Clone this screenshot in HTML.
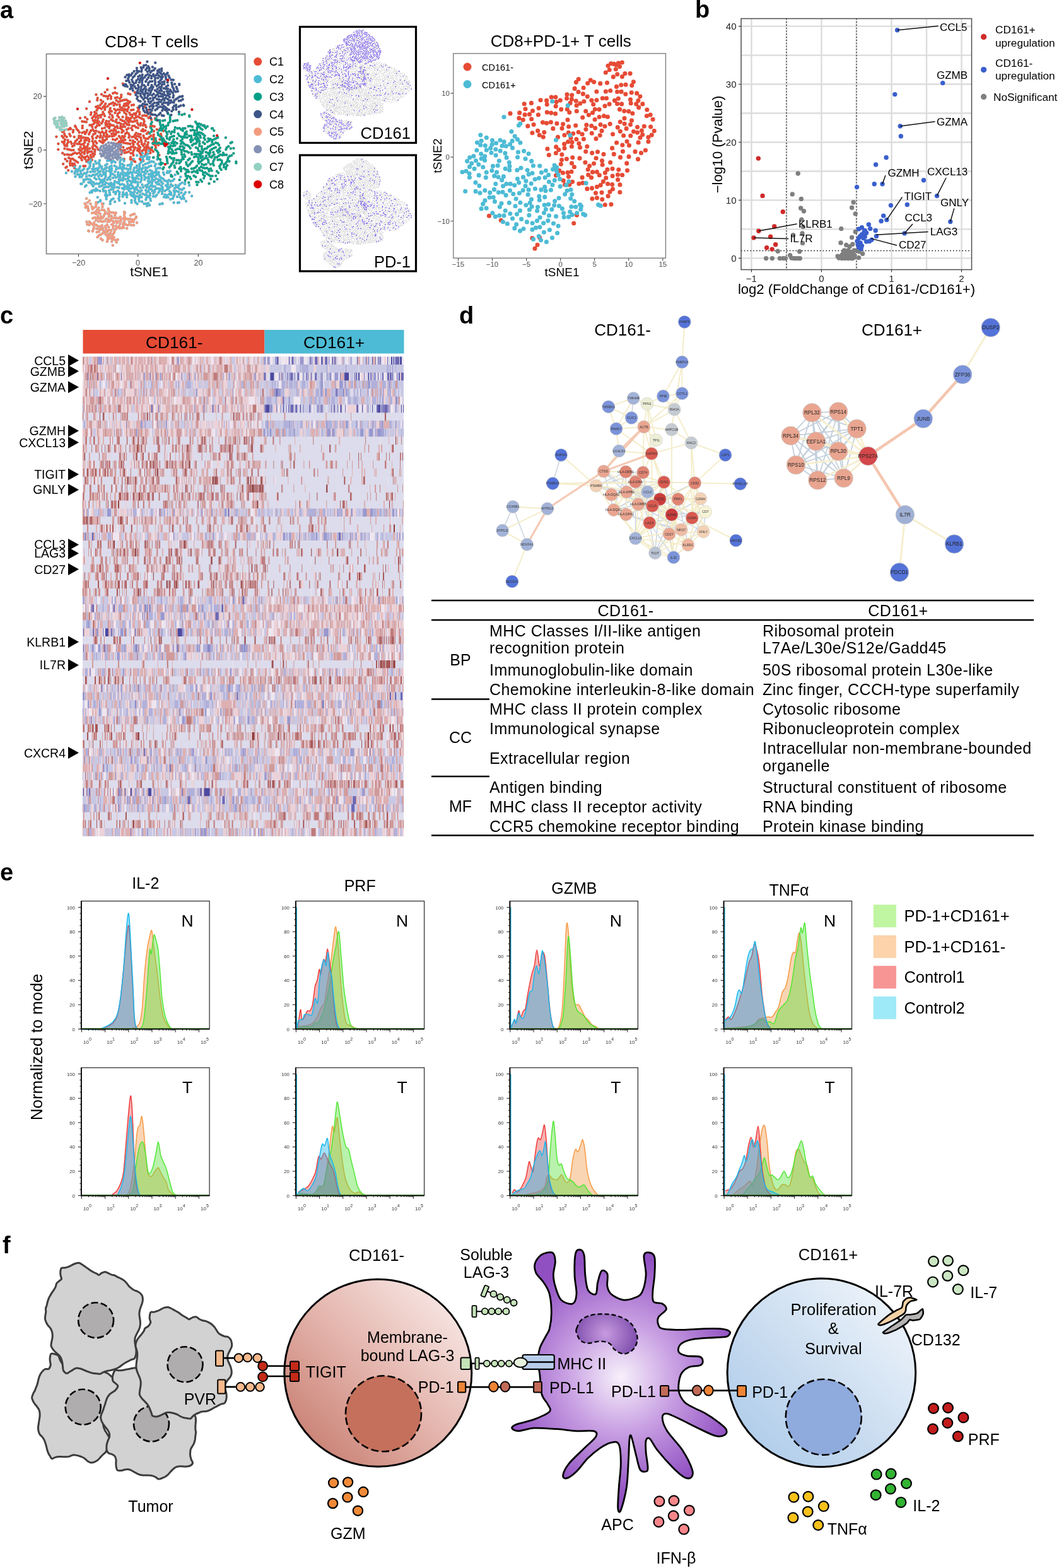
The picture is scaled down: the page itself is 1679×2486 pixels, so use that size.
<!DOCTYPE html>
<html><head><meta charset="utf-8"><style>
html,body{margin:0;padding:0;background:#fff;}
svg{display:block;}
text{font-family:'Liberation Sans', Arial, sans-serif;}
</style></head><body>
<svg width="1679" height="2486" viewBox="0 0 1679 2486">
<rect width="1679" height="2486" fill="#fff"/>
<defs><path id="paC1" d="M214.4 234h0M212.8 236.9h0M211.4 239.8h0M210.6 243h0M211.5 246.2h0M219.6 197.8h0M217.9 194.9h0M209.2 217.3h0M212.4 216.6h0M214 213.7h0M215.8 211h0M155.1 168.2h0M152.1 169.6h0M243.7 213.5h0M243.4 216.8h0M243.4 220.1h0M244.5 223.1h0M247.6 224.3h0M249.5 227h0M251.1 229.9h0M147.3 236.1h0M146.6 232.9h0M148.2 230.1h0M148 226.8h0M146.6 223.8h0M217.8 238.4h0M220.6 240.1h0M222.2 243h0M223.7 246h0M225.7 248.6h0M122.4 228.1h0M125.7 228.2h0M128.8 229.2h0M132 228.3h0M134.3 225.9h0M134 222.6h0M222.7 213.1h0M219.5 212.4h0M148.2 213.1h0M151.1 211.6h0M175.9 156.5h0M176.1 153.2h0M173.8 150.8h0M185.1 166h0M182.3 164.1h0M179.3 162.7h0M176.4 164.2h0M173.3 165.4h0M147.1 219.8h0M146.3 216.6h0M135 252.3h0M135.6 249.1h0M203.7 187.2h0M205.1 190.2h0M207.6 192.4h0M210.8 192.9h0M214 192h0M197.5 178.7h0M196.4 175.6h0M193.3 174.4h0M190 173.9h0M186.7 173.8h0M129.8 247.2h0M127.8 244.6h0M125.4 242.2h0M130.3 192.5h0M133.6 193h0M136.8 193.4h0M189.6 227.3h0M186.3 227.5h0M183.1 228.2h0M189.6 165.7h0M227.5 215.2h0M228.4 218.4h0M231.3 219.9h0M234.6 219.7h0M236.9 217.3h0M239.6 215.3h0M162 208.8h0M164.4 211.1h0M164.6 214.4h0M167.3 216.4h0M170.6 216.7h0M173.8 216h0M218.9 184.7h0M221.6 186.6h0M224.6 187.9h0M227.6 189.4h0M228.7 192.5h0M227.8 195.7h0M226.8 198.8h0M179.1 147.9h0M182.2 146.8h0M185.3 148.1h0M204.3 218.1h0M205.2 215h0M203.9 211.9h0M201.3 209.9h0M218.4 235.3h0M154.6 215.9h0M152.6 218.5h0M187.6 161.4h0M209.9 182.2h0M209.6 185.5h0M207.1 187.7h0M199.7 174h0M183.1 192.8h0M185.8 194.7h0M189.1 194.8h0M191.9 196.6h0M128.9 219.2h0M128.6 215.9h0M180.5 166.9h0M151.6 202.2h0M153.7 199.6h0M122 243.5h0M141 212.8h0M142.4 209.8h0M144.3 207.1h0M147 205.2h0M133.8 243.7h0M134.2 240.4h0M134.9 237.2h0M135.8 234.1h0M138.5 232.1h0M162.7 192.8h0M160.9 195.6h0M223.8 221.9h0M224.4 225.2h0M225 228.4h0M227.1 230.9h0M153.5 233.4h0M151.1 231.2h0M176.2 189.8h0M179.1 191.3h0M102.7 230.8h0M101.4 227.8h0M102.1 224.5h0M103 221.4h0M196 168h0M199.3 167.7h0M202.4 166.7h0M163.3 161.3h0M161.2 163.8h0M159.1 166.4h0M177.9 216.1h0M181 215.2h0M183.6 213.1h0M184.5 209.9h0M183.3 206.8h0M180.8 204.7h0M204.1 240.6h0M200.9 241.5h0M197.7 242.3h0M216.7 215.8h0M98.3 215.7h0M100.3 218.3h0M116.2 206.4h0M215 182.6h0M195.6 207.7h0M193.1 205.5h0M190.9 203.1h0M191.3 199.8h0M223.1 218.2h0M220.1 216.6h0M125.8 209.9h0M124 207.1h0M121.8 204.7h0M196.2 226.4h0M195.1 223.3h0M192.4 221.4h0M190.9 218.5h0M188.8 215.9h0M136.8 209.4h0M135 212.2h0M158 223.6h0M160.9 225.2h0M164.2 224.9h0M166.4 222.4h0M169.1 220.6h0M177.8 183h0M178.6 186.2h0M201.7 176.3h0M202.6 173.2h0M203.9 170.1h0M156.9 192.9h0M154.1 191.1h0M150.9 190.3h0M147.7 191.1h0M206.8 252.6h0M210.1 252.7h0M212.4 255h0M118 266.3h0M199.3 195h0M197.2 192.4h0M194.1 191.3h0M218.9 202.8h0M215.8 201.8h0M213.3 199.7h0M210 199.8h0M174 196.6h0M176.8 198.4h0M180 199.1h0M162 203.8h0M222.6 198.7h0M223.2 195.5h0M160.8 172.6h0M157.9 171h0M154.8 172.1h0M153.4 175.1h0M98.8 224.9h0M168.6 191.9h0M167.4 195h0M167.7 198.3h0M170.3 200.4h0M188.3 186.1h0M186.3 183.5h0M186.9 180.3h0M189.5 178.3h0M198.8 212h0M127.8 238.7h0M211.3 174.1h0M208.1 174.5h0M166 183.8h0M164.6 180.8h0M163.2 177.8h0M170.9 156.6h0M210.7 223.1h0M210.4 226.4h0M211.5 229.5h0M211.1 232.8h0M185.6 199.9h0M182.9 201.8h0M115.8 209.5h0M213.1 187.7h0M215.9 185.9h0M156.4 209.2h0M159.2 210.8h0M110.2 212.5h0M111.6 215.5h0M182.8 222.1h0M185.4 220.1h0M229.2 234.6h0M227.9 237.7h0M225.1 239.3h0M221.3 236.7h0M222.1 233.5h0M220.1 230.9h0M218.3 228.2h0M187.9 209.4h0M167.3 164.6h0M165.6 167.4h0M163.6 170.1h0M206.3 222.5h0M219.9 224.9h0M172.5 192.6h0M142 240.4h0M145.3 240.6h0M180.3 211.8h0M177 212.2h0M230.8 244.9h0M231.5 241.6h0M206.1 161.6h0M203.9 164h0M200.6 163.8h0M197.4 164.8h0M230.6 223.7h0M179.1 221h0M152.4 207.6h0M149.1 207.8h0M123.3 257.5h0M120.5 255.6h0M117.8 253.8h0M115.2 251.8h0M111.9 251.8h0M108.9 250.3h0M128.3 222.8h0M126 225.2h0M192.3 150.5h0M192.1 153.8h0M189.9 156.3h0M154.7 155.5h0M154.2 158.7h0M106.8 236.6h0M110 237.3h0M113.2 238.1h0M116.5 238.1h0M199.8 227h0M203 227.6h0M206.3 228.2h0M193.1 210.1h0M132.6 218.1h0M135.9 218.7h0M139.2 218.9h0M202.9 160.1h0M138.3 188.9h0M133.4 209.2h0M130.3 210.5h0M198 200.9h0M163.6 189.7h0M137.1 222.3h0M153.2 226.7h0M151.2 224.1h0M173.3 185.8h0M221.3 177.9h0M221.3 181.2h0M162.8 221.4h0M162.7 218.1h0M135 186.1h0M105.7 217h0M103 215.1h0M102 212h0M106.7 244.9h0M110 245.5h0M113.3 245.6h0M116 243.7h0M119 242.3h0M132.5 249.4h0M207 249.3h0M165.8 202.8h0M155.6 187.6h0M238.5 200.8h0M241.6 199.7h0M244.7 200.6h0M151.9 186h0M170.3 196.5h0M124.9 218.8h0M125.3 215.5h0M186 154.4h0M182.8 155.2h0M117.7 217.1h0M214.9 219h0M217.4 221.1h0M207.9 233.1h0M205 234.7h0M201.8 235.7h0M200.5 185.5h0M200 188.7h0M202 191.3h0M204 194h0M138.5 247.5h0M140.8 249.8h0M142.7 252.5h0M145.9 253.4h0M200.2 181.3h0M143.7 245.9h0M189 224.4h0M192.2 225.3h0M238.4 242.4h0M237.3 239.3h0M237.3 236h0M212.4 180.3h0M215.6 179.5h0M102.4 235.5h0M114.9 232h0M117.7 230.3h0M118.3 227.1h0M119.7 224.1h0M122 221.7h0M213.7 225.3h0M173.7 208.5h0M176.5 206.8h0M179.6 207.8h0M194.3 201h0M146.2 201h0M146.2 187.2h0M148.5 184.7h0M150.2 181.9h0M152.7 179.8h0M226.7 204.9h0M224.4 207.3h0M203.3 148.4h0M206.4 149.5h0M197.7 238h0M194.5 238.7h0M191.3 237.7h0M188.5 236h0M229.2 183.1h0M226 183.5h0M182.4 178.9h0M186.8 203h0M173 177.8h0M174.3 174.8h0M181.4 173.1h0M183.9 175.3h0M144 181.8h0M144.6 178.6h0M141.3 224.3h0M138.7 242.4h0M138.5 239.1h0M139 235.9h0M157.6 198.5h0M176.9 176.5h0M127.5 233.4h0M148.1 247.8h0M145.1 249.3h0M169.8 213.5h0M148.6 196.3h0M168.4 207.4h0M168 210.6h0M230.5 207.1h0M227.4 208h0M173.1 203.1h0M173.8 199.9h0M158.5 218.1h0M159.5 215h0M150.1 244.5h0M146.9 243.7h0M130.1 236.6h0M132.7 234.5h0M133.5 231.3h0M155.6 236.9h0M206.6 181.9h0M205.3 178.9h0M208.8 166.8h0M212 166.3h0M232.3 183.7h0M200.5 158.3h0M197.2 158.4h0M194 159.2h0M190.9 160.3h0M164.5 151.9h0M167.8 152.6h0M171.1 152.8h0M125.1 237.1h0M170.5 168.5h0M191.4 230.2h0M195.8 218.6h0M194 215.9h0M244 207.9h0M235.3 233.4h0M232.8 235.6h0M231.5 238.6h0M159.8 185.7h0M248.7 205.3h0M235.6 186.9h0M195.3 233.5h0M208.3 203.2h0M209.8 206.1h0M166.9 170.6h0M150 177.8h0M193.1 171.1h0M190.3 169.4h0M130.6 203h0M130.8 199.7h0M217.1 191h0M138 206.4h0M142.4 198.4h0M145.7 198h0M207.2 237.3h0M139.6 228.4h0M221.8 251.9h0M111.6 255.3h0M111 258.6h0M111.3 261.9h0M184.5 189.8h0M194.6 185.4h0M174.8 171.7h0M137.1 256h0M139.5 253.7h0M200.9 205.4h0M203.5 203.4h0M207.5 243.1h0M198.3 221.7h0M204.9 198.2h0M201.6 197.5h0M149.8 193.5h0M153 194.4h0M155.9 196h0M160 158.8h0M114.4 259.4h0M115.3 262.6h0M130.4 241.6h0M191.2 189.7h0M166.2 173.8h0M184.6 159.2h0M106.1 231.6h0M106.3 228.4h0M108 225.5h0M107.5 222.3h0M219.9 173.7h0M218.2 176.5h0M150.6 237.4h0M150.2 240.7h0M232.8 211.9h0M235.2 209.6h0M218.5 170.8h0M197.7 215.9h0M192.2 244.6h0M193.1 241.4h0M196.1 197.2h0M240.3 234.6h0M240.6 237.9h0M242.9 240.3h0M231.6 201.4h0M230.3 198.4h0M142.3 235.5h0M154.6 183.6h0M157.9 183.2h0M161 182h0M234.9 226.1h0M234 229.3h0M231.9 231.9h0M247 234.2h0M246.6 230.9h0M244 229h0M242.7 225.9h0M129.8 253.7h0M128.4 250.7h0M125.6 249.1h0M112.1 224.9h0M113.7 227.8h0M141.3 221.1h0M229.2 228h0M197 172.5h0M174.5 180.8h0M118.9 262.6h0M117.7 259.5h0M239.7 179.9h0M99.2 242.7h0M100.2 259.9h0M182.3 139.4h0M259.3 207.5h0M261.1 224.1h0M166.5 146.3h0M102.5 245.2h0M163 226.6h0M233.9 179.5h0M257.5 220.4h0M255.1 212.5h0M227.2 254.9h0M255.8 216.1h0M103.5 252.2h0M98.8 209h0M258.9 221.9h0M237.8 184.9h0M170.1 142.3h0M142 161.2h0M112.1 204.6h0M89.4 216.8h0M213.8 146.5h0M229.7 169.1h0M104.3 265.7h0M137.1 172.3h0M111.3 203.2h0M253.4 221.1h0M132.4 263.3h0M214.3 256.5h0M245.9 187.7h0M194.8 132.7h0M240 189.7h0M253.7 203.9h0M127.1 187.2h0M252.4 245.9h0M223 253.5h0M160.9 149.6h0M92.4 227.9h0M119.1 199.7h0M106.4 255.4h0M135.1 263.3h0M196.6 252.1h0M249.5 190.8h0M108.2 270h0M92.3 237h0M108.5 205.3h0M120.2 201.4h0M101.1 207.8h0M235.6 174.2h0M105.8 264.6h0M152.4 150.1h0"/><path id="paC2" d="M230.6 294.3h0M233.7 293h0M235.8 290.4h0M238.2 288.2h0M190.6 292.7h0M193.8 292h0M196.8 293.3h0M211.7 272.4h0M212 269.2h0M213.1 266h0M154.7 269.9h0M156.1 266.9h0M158 264.2h0M157.8 260.9h0M156.7 257.8h0M216.7 300.2h0M213.4 300.3h0M211.3 297.7h0M209.8 294.8h0M206.7 293.7h0M168.5 290h0M166.4 292.5h0M163.1 292.6h0M160.8 294.9h0M157.6 295.9h0M172.9 302.2h0M173.7 305.5h0M174.3 308.7h0M222.7 288.6h0M224 285.6h0M224.4 282.3h0M224.1 279h0M219.5 283.5h0M187.2 302.5h0M189.5 304.9h0M189.1 308.2h0M189.2 311.5h0M188.3 314.7h0M189.2 317.8h0M221.3 260.1h0M221.1 263.4h0M221.7 266.6h0M219.9 269.3h0M217 270.9h0M215.4 273.8h0M203.5 295.6h0M161.2 279.1h0M159.1 276.6h0M245.5 295.5h0M242.2 295.6h0M239.1 294.6h0M273.9 314.7h0M275.1 311.7h0M276.5 308.7h0M276.8 305.4h0M275.6 302.3h0M194.7 286.1h0M195 282.8h0M195.9 279.7h0M194.5 276.7h0M191.7 274.9h0M222.2 304.4h0M219.6 302.4h0M251 284.5h0M254.1 285.6h0M255.8 288.4h0M257.9 290.9h0M247.2 283.2h0M244.7 285.4h0M225.5 292.9h0M167.5 302.9h0M167.9 306.2h0M166.9 309.3h0M168.5 312.2h0M168.6 315.5h0M236.4 296.8h0M236.5 300.1h0M235.3 303.2h0M232.5 304.9h0M170.1 254.7h0M173.4 254.4h0M176.6 254.8h0M179.9 255.5h0M182.7 257.2h0M167 262.3h0M169.7 260.3h0M157.3 283.5h0M159.8 285.7h0M163.1 285.4h0M165.7 283.5h0M167.5 280.6h0M167.4 277.3h0M167.2 274h0M208.5 317.6h0M208.5 320.9h0M188.6 284.1h0M191.7 285.2h0M194.2 260.3h0M196.7 262.4h0M266.2 292.9h0M265.9 289.6h0M263.9 287h0M260.7 286.2h0M258.8 283.5h0M255.8 282.2h0M253.3 279.9h0M206.8 308.3h0M209.3 310.4h0M212.1 312.2h0M214.2 314.7h0M213.9 317.9h0M215 321h0M257 307.2h0M257.3 303.9h0M257.6 300.6h0M257.8 297.3h0M255.9 294.6h0M239.4 262.9h0M236.3 264h0M233.7 266.1h0M230.5 265.7h0M207.2 272.7h0M209.5 275.1h0M209.9 278.3h0M209.7 281.6h0M226.2 307.4h0M176.2 300.4h0M179.4 299.8h0M181.1 297h0M181.2 293.7h0M181 290.4h0M182.1 287.3h0M190.2 263.6h0M191.5 266.6h0M193.8 269h0M194.7 272.2h0M241.2 281.7h0M241.2 285h0M241.4 288.3h0M240.8 291.5h0M267.4 298.8h0M265.3 296.3h0M262.9 294.1h0M288.6 289.7h0M206.9 287.5h0M208.3 290.4h0M173.3 271.4h0M173.7 268.1h0M173.9 264.8h0M176.6 262.9h0M218.2 288.9h0M218.6 292.2h0M218.2 295.5h0M215.5 297.4h0M287.8 315.2h0M285.5 312.8h0M186.7 279.8h0M187.1 276.6h0M187.2 273.3h0M267.8 285.7h0M270.6 287.5h0M273.7 286.5h0M276 284.1h0M206.6 267.8h0M203.5 268.6h0M200.4 267.5h0M197.1 266.8h0M238.1 270h0M240.9 271.7h0M242.6 274.6h0M242 277.8h0M151 255.9h0M187.9 266.8h0M241.5 302.7h0M240 299.8h0M127.6 271h0M130.7 270h0M133.1 267.7h0M237.8 306.4h0M201.3 299.3h0M204.5 298.5h0M207.7 299h0M182.3 272.3h0M223.2 248.6h0M226.5 248.4h0M226.3 255.6h0M223.5 257.4h0M252.5 292.2h0M249.3 291.8h0M247.2 289.2h0M198 274.6h0M201.3 275.2h0M204.6 275.3h0M236.2 283.8h0M196.5 255.2h0M195.1 252.3h0M261.6 302.6h0M177.2 267.2h0M176.9 270.5h0M175.5 273.5h0M175.5 276.8h0M174.5 279.9h0M172.2 282.2h0M181.8 278.1h0M165.4 287.4h0M229.4 247.4h0M226.4 266.5h0M210.9 285.2h0M204.7 280.6h0M202 278.6h0M201.6 288h0M204.2 285.9h0M140.5 289.2h0M143.7 290h0M145.8 292.6h0M147.8 295.2h0M264.8 273.9h0M268.1 273.6h0M282.8 303.9h0M279.6 302.9h0M190.6 280.7h0M190.1 277.5h0M164.1 276.3h0M178.2 292.3h0M175.8 290.1h0M220.8 319h0M220.2 315.7h0M221.2 312.6h0M221.8 309.3h0M184.1 268.6h0M170.1 285h0M251.1 287.7h0M212.3 308.4h0M210.3 305.8h0M207.2 304.6h0M233.7 271.7h0M230.9 269.7h0M123.1 272.1h0M124 268.9h0M126.1 266.4h0M169.5 265.7h0M166.5 267.2h0M164 269.3h0M163.5 272.5h0M285.6 300.2h0M288.9 300.6h0M291.5 298.6h0M225.4 272.4h0M228.6 272.8h0M153.7 276.1h0M150.8 277.6h0M147.5 277.2h0M144.8 279h0M141.5 278.5h0M258.9 273.6h0M260.1 276.7h0M168.7 271h0M200.6 305.9h0M201.5 309.1h0M201.1 312.4h0M156.3 273.3h0M159.1 271.6h0M194 298.4h0M196.6 300.3h0M150 282h0M152.5 284.2h0M185.6 296.9h0M212.1 252.6h0M245.6 263.3h0M246.8 260.2h0M211.2 288.5h0M214.5 288.9h0M162.5 289.1h0M159.2 289.3h0M156.9 291.6h0M153.6 291.2h0M150.3 291.5h0M235 322.2h0M231.8 322.9h0M228.5 323.1h0M184.5 264.7h0M254.4 299.5h0M253.1 302.5h0M251.3 305.3h0M247.5 267.4h0M247.5 270.7h0M245.5 273.3h0M172.2 291.6h0M174.8 293.6h0M177.1 296h0M234.3 258.7h0M237.3 257.3h0M240.3 256h0M243.5 256.7h0M232.8 309.6h0M229.6 308.7h0M237.7 309.9h0M235.2 312.1h0M224.4 312.4h0M208.8 260.8h0M205.6 261.4h0M202.4 262.3h0M143.7 256.8h0M142.7 259.9h0M142.6 263.2h0M141.5 266.3h0M138.8 268.3h0M207.1 264.4h0M215 311.1h0M218.2 311.4h0M251 266.4h0M268.1 307.9h0M271.3 308.7h0M217.5 306.2h0M227 261.9h0M119.3 271.9h0M118.4 275h0M185.4 289.2h0M181.6 262.9h0M198.9 278.3h0M227 296.9h0M198.8 284h0M154.7 301.6h0M151.5 302.6h0M148.4 301.6h0M145.3 302.7h0M229.3 280.5h0M232.3 281.9h0M235.4 280.8h0M168.5 296.4h0M165.2 297h0M163.5 299.9h0M164 303.1h0M239.2 279.4h0M243.1 306.8h0M245.1 304.2h0M245.6 300.9h0M247.9 298.7h0M251.2 299.1h0M290.8 313.6h0M290 310.4h0M292 307.7h0M278.5 293.6h0M279.7 296.6h0M282.8 298h0M194.5 308.2h0M195.2 305h0M180.1 304.3h0M150.3 272.2h0M230.5 260h0M219.4 275.4h0M220.6 272.3h0M132.7 285.2h0M135.9 284.4h0M139.2 283.9h0M142.4 284.6h0M144.7 287h0M183.2 307.6h0M183.9 304.4h0M152.3 299.3h0M215.9 282.2h0M212.6 282.2h0M294 305.1h0M270.4 315.9h0M208.4 257.3h0M216.9 266h0M216.9 262.7h0M153 267.4h0M149.7 268h0M146.5 268.1h0M232.7 244.9h0M280.9 311.9h0M179.1 282.1h0M234.7 286.9h0M224.5 301.8h0M202.6 291.8h0M183.5 281.5h0M239 275.4h0M235.9 276.3h0M128.3 274.7h0M126 277h0M122.7 276.6h0M194.6 311.7h0M225.2 319.7h0M229.2 284.8h0M232.6 296.9h0M158 254.4h0M237 249.3h0M233.7 249.1h0M148.5 260.8h0M148.3 264.1h0M194.6 264.8h0M222.4 297.7h0M238.9 318h0M238.2 314.8h0M147.2 271.7h0M213.3 304.1h0M174.7 284.6h0M158.6 302.8h0M178.6 275.9h0M143.4 272.6h0M251.6 273h0M248.9 274.8h0M247.4 277.8h0M244.8 279.8h0M200.2 295.8h0M197.2 297.2h0M152.9 258.9h0M156.2 279.4h0M137 279.7h0M224.5 269.1h0M161.3 264.2h0M136.7 275.3h0M138.5 272.5h0M273.7 294.7h0M271.2 292.6h0M259.9 312.3h0M263.1 312.9h0M266.4 312.8h0M285.5 291.8h0M283.3 294.2h0M248.4 309.1h0M246.2 311.5h0M242.9 311.3h0M188.7 297.4h0M188.7 287.7h0M204.5 302.2h0M130.9 277.7h0M129.3 280.6h0M283.8 308.4h0M261.5 308.6h0M264.6 309.8h0M190.7 249.9h0M269.4 296.4h0M287.4 305.6h0M198 308.5h0M179.7 315.1h0M176.8 316.6h0M174.9 319.3h0M233 252h0M236.2 252.8h0M214.6 285.9h0M170.4 309.8h0M231.3 316.5h0M232.3 313.4h0M161.4 267.3h0M148.2 289.1h0M191.1 253.9h0M190.2 257h0M190.6 260.3h0M188.1 290.6h0M231.2 301.6h0M251.7 277h0M172.1 296.4h0M226.6 252.1h0M126.3 280.5h0M277.1 298.6h0M293.1 291.7h0M202.8 272.6h0M133.6 274.7h0M228.5 277.4h0M202.7 283.1h0M230.9 275.1h0M223.1 276.2h0M220.5 278.2h0M217.2 279h0M268.9 303.3h0M271.1 305.7h0M264.8 300.5h0M177 258h0M198 322.3h0M135 295.7h0M113.9 271.8h0M233.2 326.4h0M136.7 293.9h0M286.3 280.6h0M186.8 247.8h0M182.1 319.9h0M139.9 257.3h0M127 263.8h0M281.8 321.6h0M235.9 239.2h0M252.1 260h0M217.5 323.2h0M128.3 291.5h0M295 319h0M304.1 310.8h0M154.8 312.8h0M174.7 323.2h0M155.1 320.8h0M275.6 321.3h0M257.1 322.6h0M226 243h0M163.6 323h0M158.8 319.1h0M300.1 304.9h0M145.8 304.8h0M237.1 325.2h0M243.6 249.6h0M234.6 244h0M277.6 277.2h0M118.4 264.4h0M300.1 293.7h0M132.7 288.2h0M283.8 320.9h0M249.2 252.7h0M159.1 317.7h0M253.9 266.4h0M129.5 291.5h0M143.8 253.4h0M291.9 315.1h0M119.4 279.9h0M253.4 323.8h0M104.9 274.2h0M217.3 246.4h0M142.6 305.3h0M120.7 268.6h0M257.6 323.1h0M293.2 289.7h0M265.6 271.8h0M269.8 271.2h0"/><path id="paC3" d="M316.4 228h0M316.1 231.3h0M276 251h0M275.1 254.2h0M274.5 257.4h0M272.2 259.8h0M270.7 262.8h0M268.6 265.3h0M338.7 228.5h0M335.5 229.5h0M332.8 231.4h0M329.8 232.7h0M327.7 235.3h0M324.5 236.1h0M308.6 244.3h0M311.9 244.4h0M315.2 244.7h0M318.5 244.3h0M320.8 242.1h0M321.8 238.9h0M320 236.1h0M340.8 249.6h0M344 249.2h0M346.6 247.2h0M349.3 245.3h0M352.6 246h0M355.9 245.6h0M359.1 245.4h0M276.6 206.1h0M276.4 209.4h0M334.1 267.4h0M330.9 268.3h0M328.2 266.4h0M324.9 266.7h0M321.7 266.1h0M318.8 264.5h0M342 226.3h0M345.2 227.2h0M347.1 229.9h0M278.5 237.6h0M281.5 236.1h0M284.8 236.2h0M287.5 238.1h0M287.8 241.3h0M315.2 259.1h0M314.3 256h0M314.8 252.7h0M313.9 249.6h0M311 247.9h0M307.9 249.1h0M309.2 219.5h0M311.6 221.7h0M312.5 224.9h0M310.6 227.6h0M307.4 228.1h0M304.9 230.3h0M335.4 249.6h0M332.4 248.2h0M331.5 245h0M333.1 242.2h0M333.1 238.9h0M335.6 236.7h0M298.6 200.2h0M301.9 199.8h0M305 200.9h0M330.3 219.8h0M333.5 220.6h0M336.4 222.2h0M339.5 221.1h0M342.4 219.5h0M345.3 218.1h0M260.2 222.7h0M258.8 219.7h0M255.9 218h0M253.6 215.8h0M250.9 213.8h0M250.2 210.6h0M299.3 272.4h0M296 272.8h0M294 275.5h0M240 208.8h0M240.9 205.6h0M239.3 202.7h0M292.8 214.3h0M293.4 211.1h0M295.7 208.7h0M265.2 212.6h0M264 209.5h0M262.1 206.8h0M263 203.7h0M265 219.4h0M282.4 212.1h0M284 215h0M286.8 216.7h0M290.1 217.2h0M293.4 217.7h0M296.6 218h0M272 226.7h0M274.1 224.1h0M275.3 221.1h0M281.4 203.5h0M284.7 203.3h0M287.1 205.5h0M290 207.2h0M317.3 247.4h0M318.5 250.4h0M267.2 227.3h0M264 228.3h0M285.5 232.3h0M284.3 258.7h0M286.4 256.2h0M287.8 253.3h0M290.9 252.1h0M268.1 208.5h0M322.1 225.7h0M324.6 227.9h0M345.4 253.4h0M348.6 253h0M351.4 254.7h0M351.9 258h0M350 260.7h0M348.1 263.4h0M268.8 221.2h0M269.6 217.9h0M272.5 216.5h0M275.7 215.7h0M316.5 210h0M313.2 210.2h0M311 212.6h0M311.1 215.9h0M313.5 218.2h0M314.7 221.3h0M316.3 224.1h0M334.2 283.7h0M338.7 262h0M337.6 258.9h0M338.3 255.6h0M339.8 252.7h0M286.3 264.9h0M287.3 268h0M287 271.3h0M302.7 224.9h0M301.9 221.7h0M303.6 218.8h0M303.1 215.5h0M269.6 186.5h0M269.8 189.8h0M269.4 193.1h0M266.9 195.2h0M266.3 198.4h0M263.4 200.1h0M338.2 241.4h0M272.4 237h0M274.1 239.8h0M299.7 232.2h0M301.7 234.9h0M295.2 257.5h0M295.9 260.7h0M298.1 263.2h0M290.4 237.3h0M292.7 239.7h0M296 240h0M298.9 241.7h0M294.7 278.8h0M298 279.2h0M301 280.7h0M302.6 283.5h0M314.7 239.1h0M317.7 240.4h0M284.3 267.5h0M361.1 253.1h0M361.8 249.9h0M364 247.4h0M367.1 246.4h0M318.1 285.2h0M320.1 287.8h0M343.9 271.6h0M346.1 274.1h0M264 216.1h0M313.3 274h0M310.4 272.4h0M307.2 271.5h0M304.3 273h0M270.2 241.4h0M272.8 243.4h0M276.1 243.1h0M279.4 242.4h0M256.2 206.8h0M254.9 203.7h0M255.3 200.5h0M254.1 197.4h0M253.6 194.1h0M253.4 190.8h0M330.5 257.5h0M330.3 254.2h0M328.7 251.3h0M325.5 250.6h0M322.6 252.2h0M320.3 260.4h0M323.5 261.5h0M326.6 260.6h0M302.5 206.7h0M305.8 206.1h0M308.8 207.3h0M312 206.3h0M336.9 246.9h0M266.6 243.2h0M267 239.9h0M267.8 236.7h0M269.9 234.1h0M270.4 230.9h0M329.5 242.6h0M326.5 241.3h0M297.2 230.4h0M294 229.7h0M291.4 227.7h0M289.2 225.2h0M286.6 223.2h0M339 215.5h0M308.5 210.8h0M307.9 214.1h0M317 270.1h0M320.2 270.8h0M322.3 273.4h0M322.2 276.7h0M324.5 279.1h0M341.8 233.7h0M338.8 235h0M240.8 220.4h0M310 193.3h0M312 195.9h0M315.3 196.2h0M318.5 197.2h0M321.3 198.9h0M324.2 200.5h0M326.1 203.1h0M324.6 215.3h0M323.4 218.4h0M324.9 221.3h0M320.8 205.5h0M318.1 203.7h0M316.2 201h0M313.3 199.4h0M312.1 263.1h0M309.9 265.6h0M307 267h0M303.7 267.6h0M312.6 202.8h0M291.9 234.4h0M289.4 232.3h0M339.6 245h0M240.7 193.7h0M239.3 196.7h0M296.2 282.7h0M293.5 203.4h0M290.2 203.5h0M255 227.9h0M251.9 226.6h0M248.7 227.4h0M245.5 226.9h0M242.2 227.5h0M246.6 222.7h0M246.7 219.4h0M333.8 260.5h0M289.2 220.4h0M272 251.1h0M269.4 249.1h0M277.5 230.8h0M274.3 231.5h0M263.8 248.8h0M264.8 252h0M265.1 255.2h0M265.6 258.5h0M304.2 244.8h0M303.4 241.7h0M292.1 245.1h0M293.3 248.2h0M354.9 261.3h0M357.4 259.2h0M359.5 256.6h0M305.1 255.7h0M302.9 258.1h0M300.8 260.7h0M319.8 232.3h0M358.3 237h0M359.6 234h0M362.3 232.1h0M321.3 248.1h0M353.9 242.5h0M250.6 242h0M248.7 239.3h0M246.2 237.1h0M328.8 224.7h0M331.7 223h0M299.9 215.6h0M258.1 191.5h0M261.3 190.7h0M314.5 288.8h0M311.3 288.6h0M327 247.1h0M280.8 219.6h0M271.2 211.8h0M272.7 208.8h0M363.5 255.8h0M344.1 239h0M346.7 236.9h0M348.8 234.4h0M288.1 245h0M322.1 213.1h0M319.5 211h0M280.6 227.2h0M277.7 225.5h0M279.9 253.9h0M283.2 253.9h0M307.4 278.7h0M310.2 280.5h0M279.6 258.7h0M291.7 266.9h0M294.3 268.8h0M297.5 269.7h0M252.2 206.4h0M256.2 221.7h0M257.7 224.7h0M258.3 227.9h0M260.7 230.2h0M300.7 251.4h0M298.3 253.7h0M260 201.1h0M258.2 203.8h0M258.3 198.1h0M348.6 239.8h0M263 225.5h0M360.3 262.3h0M358.3 264.9h0M355 265h0M277.2 265.7h0M276.4 262.5h0M305.6 222.3h0M310.7 233.9h0M313.7 235.4h0M289.5 249h0M315.8 266.8h0M325.4 273.4h0M328 275.4h0M330.8 277.2h0M333.5 279.1h0M336.8 279h0M346 241.7h0M286.9 228.1h0M281.1 190.8h0M277.8 191.3h0M274.6 191.9h0M267 232.9h0M331.5 271.3h0M323.2 282.6h0M275.5 227.7h0M317.8 256.4h0M320.3 254.2h0M254.1 253.1h0M251.1 251.6h0M250.1 248.5h0M250.7 245.2h0M350.7 269h0M348.8 266.4h0M336.3 225.3h0M312.8 270.2h0M280.7 272.5h0M282.3 275.3h0M254.9 257.4h0M257.8 259h0M335.7 270.5h0M296.1 212.9h0M318 218.1h0M317.2 214.9h0M314.3 213.2h0M277.7 202h0M283.9 180.9h0M293.6 286.1h0M243.1 249.8h0M300.3 184.7h0M365.8 235.4h0M331.5 291.1h0M365.6 226.7h0M271.4 279.4h0M259.5 265.6h0M374.4 258.4h0M374.3 256.4h0M247.7 188.2h0M300.2 183.3h0M339.3 207h0M339.7 287.9h0M342.2 278.8h0M358.1 267.8h0M271.3 277.7h0M266.4 180.5h0M370.3 243.2h0M254.8 260.9h0M357.8 218.3h0M272.9 279.7h0M337.1 203.5h0M367.8 225.5h0M237.1 211.5h0M344.4 284.1h0M292.5 180.7h0M312.5 293.1h0M269.8 183.3h0M324 198.9h0M335.8 203.8h0M288.6 181.9h0M284.6 285.3h0M328.8 200.4h0M258.3 267.9h0M246.9 190.1h0M370.4 235.1h0M240.9 233.8h0M299.2 289.6h0"/><path id="paC4" d="M269.9 142.6h0M271.7 145.3h0M274.2 147.5h0M248.7 183.7h0M245.8 182.1h0M242.5 181.8h0M205.2 130.6h0M203.7 127.7h0M203.1 124.4h0M204.5 121.4h0M224 137.5h0M225.3 134.4h0M225.3 131.1h0M225.4 127.8h0M226.5 124.7h0M225.1 121.7h0M225.7 118.5h0M241.3 141.2h0M239.6 144h0M238.6 147.1h0M237.1 150h0M234.4 152h0M198.5 122.2h0M261.5 174h0M264.3 175.7h0M265.7 178.7h0M245.6 127.3h0M246.2 130.6h0M245.8 133.8h0M257.4 169.9h0M254.1 169.2h0M251 170.2h0M249 172.8h0M246.2 174.6h0M234.8 134.6h0M235.3 131.3h0M237.9 129.3h0M241.2 129.1h0M259.6 140.1h0M262.8 140.8h0M266.1 140.8h0M260.1 146.1h0M227.4 148.9h0M225.8 146h0M226.3 142.7h0M228.7 140.4h0M230.7 137.8h0M243.6 148.9h0M241.1 151.1h0M275.5 162.4h0M276.4 159.2h0M279.1 157.3h0M281.8 155.5h0M284.5 153.6h0M287.8 153.1h0M215.3 117.2h0M217.7 115h0M220.4 113.1h0M266.2 135.5h0M263.5 137.4h0M225 154.6h0M223.1 152h0M222.8 148.7h0M238.4 114.9h0M240.8 112.6h0M243.8 111.2h0M245.7 108.5h0M266 127.4h0M263.3 125.5h0M262.8 122.2h0M261.9 119.1h0M259.7 116.6h0M233 108h0M231.2 110.7h0M235.9 143.5h0M236.9 140.4h0M239.4 138.2h0M242.7 138.1h0M218.9 135.1h0M220 138.2h0M218.9 141.3h0M217.9 144.5h0M216.4 147.4h0M215.4 150.6h0M272.5 162h0M269.4 163.2h0M266.1 162.8h0M262.8 163.1h0M259.5 162.9h0M257.2 165.2h0M235.1 105.3h0M236.7 108.2h0M236.6 111.5h0M262.8 155.5h0M265.8 156.9h0M268 159.3h0M260.7 150.1h0M257.5 149.2h0M254.4 148.3h0M251.3 147h0M248.6 145.2h0M245.9 143.3h0M279.1 166.4h0M276.2 167.8h0M274.2 170.5h0M274.6 173.8h0M272.3 176.2h0M199.7 134.3h0M252.3 157.8h0M249 157.2h0M247.7 119.2h0M249.4 116.4h0M251.6 153h0M254.9 152.7h0M258.2 153h0M222.9 124.3h0M222 127.4h0M220.8 130.5h0M274.4 154.6h0M257.3 130.2h0M260.5 129.4h0M240 123.9h0M240.6 120.7h0M263.4 151.7h0M266.7 151.4h0M269.3 149.3h0M200.3 128.2h0M267.8 145.3h0M266 148.1h0M245.8 154.6h0M259.9 168.2h0M262.5 170.2h0M264.9 172.4h0M267.9 174h0M279.7 137.9h0M280.7 141.1h0M254.2 127.4h0M256.2 124.9h0M257.9 122h0M256.9 118.8h0M254.9 116.2h0M252.3 114.3h0M249.7 112.2h0M242.8 158.5h0M242.7 155.2h0M244.8 163.1h0M251.8 119.8h0M254.3 121.9h0M233.1 126.1h0M271.1 159.3h0M243.1 118h0M209.1 126.5h0M265.6 130.5h0M238.2 156.1h0M271.4 126.5h0M274.7 126.7h0M251.1 165.3h0M210.6 135.2h0M212.6 132.5h0M215.5 130.9h0M216.3 127.7h0M272.3 131.3h0M272.9 134.5h0M273.6 137.7h0M275.2 140.6h0M276 143.8h0M278.8 145.5h0M282 144.8h0M231.1 129.2h0M210.3 129.7h0M237.7 163.6h0M235.5 161.1h0M235 157.8h0M233 155.2h0M229.7 155h0M227.4 157.4h0M231.8 141.9h0M230.7 145.1h0M230.5 148.3h0M229.2 151.4h0M224.5 167.2h0M221.3 168.1h0M260.5 159h0M219.5 159.5h0M222.6 160.7h0M234.3 118.1h0M237.3 119.4h0M247.1 151.6h0M249.8 149.7h0M257.2 175.2h0M215.5 139.9h0M213.6 137.2h0M252.9 138.4h0M256 137.2h0M221.6 119.9h0M212.6 113h0M233 165.7h0M229.7 165.5h0M226.5 164.8h0M240.5 135h0M246.3 123.8h0M242.1 171.4h0M243.4 168.4h0M238.1 178.3h0M239.5 181.3h0M229.7 161.3h0M249.7 141h0M253.5 132.1h0M251.4 134.5h0M248.7 136.6h0M268.7 123.2h0M267.4 120.2h0M201.4 118.9h0M204.6 118.2h0M207.7 119.2h0M252.8 144h0M258.8 172.6h0M216.9 108h0M201.9 137.2h0M248 167.5h0M237.1 169.1h0M277 133.3h0M233.8 113.8h0M228.5 135.3h0M251.5 129.9h0M240 167.7h0M218.9 125.6h0M210.8 122.8h0M213.2 120.5h0M252.6 110.3h0M218.1 153.2h0M217.2 156.4h0M226.8 169.2h0M226.9 172.5h0M228 175.6h0M230.2 178.1h0M256.2 112.4h0M228.1 103.9h0M231.3 103.3h0M279.4 170.3h0M279.3 173.6h0M229.3 122.5h0M231.1 119.7h0M264.5 117.3h0M235.3 123h0M286.5 167.5h0M283.5 169h0M219.2 121.6h0M207.4 134.3h0M208.1 137.5h0M210 140.2h0M210.7 143.5h0M242 165.2h0M256.3 158.6h0M264.8 144.8h0M244.7 120.9h0M234 147.8h0M260.3 133.3h0M266.6 166.1h0M239.7 160.7h0M233.7 177.5h0M235.1 180.5h0M255 161.4h0M251.7 161.8h0M248.6 163h0M283.7 159.9h0M286.9 159.4h0M224.3 113.5h0M224.7 110.2h0M223.6 107.1h0M256.8 134.2h0M275.1 151.4h0M222.5 144.3h0M254.3 179.2h0M252 181.6h0M256.8 182.9h0M268.9 154.1h0M219.7 147.7h0M223.5 141.2h0M217.1 111.7h0M250.3 123.7h0M232.7 174.3h0M231.6 171.1h0M259.1 156.2h0M209.7 116.2h0M255.1 141h0M256.2 144.1h0M227.3 106.8h0M206.3 141h0M241.8 106.3h0M237.8 173.5h0M240.6 175.3h0M195.7 135h0M289.3 152.5h0M198.4 133.8h0M196.5 135.3h0M233.4 97.8h0M291.3 167.4h0M239.2 187.3h0M256.3 108.9h0M259.5 183.5h0M220.9 170.5h0M290.7 166.6h0M265.6 115.7h0M283.8 177.4h0M250.3 190.7h0M246.2 99.6h0M284.2 133.3h0M289.7 157.4h0M271.3 182.2h0M198.4 136.4h0M284.2 134.4h0"/><path id="paC5" d="M146 337.8h0M149.2 337.2h0M152 338.9h0M187.7 351h0M185.4 353.4h0M151.9 349.3h0M153.7 346.5h0M157 346.1h0M160.3 346.6h0M163.3 345.2h0M164.7 342.2h0M166.1 339.3h0M189.1 358.7h0M186.3 360.5h0M184.1 362.9h0M181.8 365.2h0M181.1 368.4h0M179.3 371.2h0M152.3 335.4h0M153.9 332.5h0M145.8 327.9h0M148.8 329.4h0M173.2 364.5h0M176.4 365.4h0M212.1 356.9h0M172 333.6h0M173.9 336.3h0M177.1 336.9h0M180.4 337.3h0M190.3 355.1h0M156.1 350.8h0M159.4 350.6h0M162.6 351.6h0M175.2 369.8h0M140.2 334h0M139.7 330.8h0M139 327.5h0M136.3 325.7h0M134.7 322.8h0M190.6 344.1h0M191.4 347.3h0M191.7 350.6h0M172.6 343.6h0M172.9 340.3h0M161.7 357.4h0M159 359.3h0M155.7 359h0M153.1 356.9h0M149.9 356.2h0M146.6 355.8h0M143.9 353.9h0M197.4 348.6h0M197 351.9h0M195.1 354.5h0M195.2 357.8h0M196.2 360.9h0M141.9 318.1h0M174.1 373.2h0M171.1 371.9h0M167.8 372.2h0M170.6 367.6h0M168.8 364.8h0M167.7 361.7h0M167.1 358.5h0M141.9 351.7h0M152.4 324.3h0M152.4 321h0M149.1 353.1h0M155.1 342.7h0M170.4 351.7h0M173.6 351.1h0M175.6 348.4h0M177.5 345.7h0M176.7 342.5h0M166.7 368.6h0M180.3 353.5h0M178.8 350.5h0M164.3 365.9h0M161.6 332.7h0M164.9 333.1h0M166.9 335.7h0M183.7 337.6h0M146.7 331.5h0M146.8 366.6h0M148.2 363.6h0M148.8 360.4h0M183.3 380.8h0M208.7 357h0M168.5 347.1h0M171.6 348.2h0M157.3 363.5h0M160.6 363.7h0M163.1 361.5h0M172.4 360h0M177.3 356h0M179.6 358.4h0M179.3 361.7h0M158.9 339h0M155.9 337.6h0M153.6 368h0M156.8 367.3h0M165.6 350.4h0M141.4 356.4h0M180.6 376.3h0M177.7 374.7h0M139 321h0M182.3 340.9h0M153.2 362.6h0M207.2 341.6h0M210.2 340h0M170.6 375.8h0M173.4 377.6h0M176.6 378.1h0M179.6 379.4h0M189.9 361.7h0M193.2 361.5h0M169.9 356.7h0M198 337.5h0M196.9 340.6h0M197.5 343.9h0M195.3 346.4h0M205.4 355.8h0M202.4 357.1h0M199.3 355.9h0M187.4 346h0M169.9 382.9h0M170.8 379.8h0M143.6 323.4h0M184 358.3h0M162.7 369.9h0M160 371.8h0M157 373.2h0M156.5 329.7h0M147.3 346h0M150.3 344.8h0M181.2 345.4h0M152.1 327.6h0M162.4 328.1h0M159.9 343.3h0M183.6 350.6h0M199.7 346.5h0M202.8 347.6h0M206 347.1h0M209.1 348.2h0M212.4 348.6h0M157.2 334.4h0M162.5 380.7h0M160.1 378.4h0M211.6 351.5h0M208.3 351.4h0M205 351.9h0M184.4 345.6h0M135.7 328.8h0M177.2 382.8h0M170.4 338.6h0M201.2 362.2h0M138.4 355.7h0M162.6 324.2h0M140.9 366.4h0M140.2 365.9h0M186.6 379.9h0M137.5 351.7h0M178.8 389h0M171.7 331h0M137.1 314.7h0M196.9 336.2h0M154.6 375.9h0M216 343.8h0M184.7 384.1h0M217.1 353.2h0M161.8 322.9h0M215.2 345.7h0M213.1 339.3h0"/><path id="paC7" d="M105 195.2h0M90.1 192.6h0M91.5 195.6h0M91.4 198.9h0M93.4 201.5h0M96.5 202.7h0M94.2 186.3h0M100.2 191.2h0M100.6 194.5h0M101.8 197.6h0M101.1 200.8h0M96.5 196.4h0M97 193.2h0M87.3 187h0M88.1 197.5h0M103.9 191.6h0M100.1 206.1h0M104.4 205.4h0M93.3 191h0M98.4 198.7h0M97.5 189.1h0M101.4 187h0M98.3 185.7h0M86.5 191.4h0M105.2 199.2h0M90 201.7h0M95 205.4h0M86.4 195h0M85.3 188.7h0M98 206.7h0"/><path id="paC6" d="M168.8 243h0M165.6 243.6h0M162.4 244.7h0M160.8 247.6h0M180.3 241.9h0M178.6 244.8h0M177.9 248h0M179.5 250.8h0M181.9 234.8h0M183.4 231.8h0M182.5 228.6h0M179.7 227h0M176.4 226.7h0M172.2 241.3h0M175.3 240.1h0M178.4 239h0M164.6 231.1h0M164.5 234.4h0M166.2 237.3h0M169.4 238h0M172.7 237.8h0M175.8 236.8h0M177.5 232.1h0M169.3 247.3h0M172.1 245.5h0M174.7 243.6h0M164.5 247.1h0M171.6 234.4h0M169.3 232.1h0M168 229h0M182.1 246h0M183.2 239.6h0M186 237.8h0M188.4 235.6h0M191.1 233.7h0M163.7 240.7h0M187.6 241.1h0M193.2 242.7h0M192.4 239.5h0M168.3 235.1h0M182.8 249.3h0M186 244.9h0M170.9 251.3h0M186.7 232.9h0M188.7 230.3h0M173.1 230.7h0M185.9 228.4h0M174.6 252.3h0M159.2 235.1h0M189.1 245.2h0M158.4 238.5h0M185.2 251.2h0M173 249.1h0M183.8 242.9h0M178.9 235.3h0M186.6 248.2h0M160.7 232.1h0M159.1 243.6h0M161.9 238.2h0M172 226.3h0M179.8 230.1h0M174.7 233.8h0M167.2 240.3h0M167.5 250.2h0M175 246.8h0M191.5 229.3h0M186.3 252.7h0M176.1 253.1h0M189.9 228.3h0M189.7 250h0"/><path id="paC8" d="M261.6 228.8h0M263.6 229.8h0M260.6 227.8h0M262 231.2h0M264.6 228.4h0M221.8 99.8h0M170.9 124.4h0M123 172.7h0M266.1 126.9h0M344.1 214.9h0M262 260.4h0M304.4 173.7h0"/><path id="pall" d="M194.2 239.9h0M247.1 226.9h0M168.7 170.6h0M181.1 216.4h0M217.8 158.4h0M193.3 153.8h0M125 267.7h0M150.9 159.3h0M141 220.5h0M147 179.5h0M226.5 203.4h0M143.4 203.4h0M215.1 254.3h0M151.7 217h0M121.1 269.7h0M123.7 241.8h0M148.1 185.7h0M109 240.8h0M181.3 179.8h0M158.3 169.3h0M166.5 195.1h0M195.4 246.3h0M115.9 254.3h0M139.9 199.5h0M170.4 176.8h0M157.9 156.6h0M249.9 223.8h0M173.7 183.5h0M219.3 233.3h0M201 242.4h0M151.3 234.7h0M137.6 204.1h0M198.6 217.3h0M132.6 230.1h0M148.7 226.2h0M235 232.4h0M176.8 210.2h0M246.2 202.9h0M205.5 236.8h0M211.9 160.2h0M220.2 217.4h0M201.2 195h0M196.5 236.9h0M127.4 232.1h0M195.5 142h0M168.1 189.3h0M192.3 218.7h0M130.5 262.5h0M137.2 193.5h0M110.2 252.4h0M192.6 149.4h0M181.3 183.6h0M226.5 194.7h0M225.6 226h0M152.3 156h0M189.7 215h0M191.8 185.2h0M109 215.3h0M153.3 196.5h0M189.7 172.5h0M159.9 180.8h0M111.3 223.1h0M164.5 177.1h0M220.4 251.8h0M220.4 170.5h0M191.7 202.5h0M197.8 220.6h0M214.1 152.6h0M216.9 178.2h0M140.3 210.2h0M214.3 218.8h0M238 212.4h0M161.9 216.6h0M208.3 224.6h0M154.9 190.9h0M140.2 252.2h0M206 196.7h0M138.5 245.3h0M170.3 212.9h0M116.6 218.1h0M129.2 250.8h0M222.1 228.9h0M209 154.9h0M115.9 221.5h0M100.4 233.7h0M182.9 223h0M134.7 213.3h0M133.2 241.1h0M176.7 154.8h0M129.9 188h0M209.1 227.7h0M105.3 229.6h0M236.2 203.3h0M144.6 247.5h0M248.6 231.4h0M252 229.1h0M232 208.5h0M213.5 191.4h0M193.6 196.1h0M168.2 150.1h0M130.1 203.5h0M204.9 230.4h0M110.7 229.6h0M139.3 230.5h0M151.4 179.7h0M212.3 236.5h0M198 196.4h0M101.2 245.1h0M177 185.1h0M239.8 204.8h0M133.4 193.1h0M120.8 207.3h0M157.7 210.4h0M109 211.9h0M243.5 219.8h0M171.6 216.1h0M153.4 223.6h0M105.7 244.2h0M226.7 179.9h0M215.6 213.9h0M239.3 227.6h0M135.4 249.7h0M192.4 168.4h0M162.1 186.8h0M211.3 149.4h0M178.9 160.1h0M242.4 200.6h0M163 197.9h0M96.6 216.8h0M156.1 166.3h0M184.2 186.1h0M215.4 169.9h0M149.3 170.8h0M231.7 222.6h0M107.5 236.5h0M222.9 181.4h0M175.8 218.2h0M142.8 189.7h0M203.5 209.2h0M209.3 179h0M215.7 229.8h0M125.7 208.4h0M252.3 212.2h0M155.7 161h0M155.1 151.3h0M205.1 213.5h0M209.4 188.4h0M141.7 173.6h0M118.9 224.6h0M217.9 167.5h0M101.5 215.3h0M211.5 194.4h0M161.5 210.1h0M137.6 220.8h0M189.5 226.5h0M143.8 255.1h0M230.2 202.8h0M212.9 250.3h0M224.1 235.9h0M153.1 200.3h0M203.7 240h0M181 188.6h0M110.6 219.6h0M153.1 231.8h0M216.8 237h0M170.4 185.7h0M154.3 176.8h0M140.1 183.3h0M217.8 186.6h0M176.6 143.5h0M164.4 202.1h0M115.7 245.4h0M160.8 174h0M201.4 153.4h0M190.2 155.2h0M116.3 208.6h0M252.4 234.3h0M197.6 188.6h0M131 215.7h0M160.4 206.6h0M192.1 247h0M152.4 210.3h0M125.5 199.6h0M213.7 172.8h0M228.3 223.6h0M236.1 197.5h0M210.4 221.6h0M238.7 237h0M102.6 226.1h0M216.5 208.3h0M161.5 223.1h0M198.7 160.6h0M114.1 204.8h0M134 186.1h0M195.2 225.7h0M218.5 183.2h0M108.2 224.5h0M230.8 217.6h0M184.6 176.7h0M109 207.7h0M180 147.8h0M161.9 165.4h0M225.2 210.1h0M186.1 206.1h0M138.2 240.2h0M133.5 201.9h0M118.2 233.9h0M99.9 236.9h0M111.4 243h0M146.8 218.9h0M196.8 204.5h0M160.6 194.1h0M232.2 228.6h0M202.9 183.7h0M212.2 206.8h0M221.9 244h0M179.7 203.1h0M197.8 168.2h0M212.7 188.3h0M189.8 242.1h0M177.4 139.6h0M192.7 236.3h0M140.8 238.1h0M205.1 166.5h0M157.7 199.2h0M222.3 194.3h0M200.3 228.2h0M164.5 162.8h0M145.3 171.1h0M203.9 243.7h0M122.9 210.7h0M230.1 187.3h0M106.8 220.8h0M100.8 220.3h0M216.3 202.9h0M224 199.2h0M102.9 211.2h0M219.9 179.4h0M176 201.8h0M164.4 157.3h0M147.8 165.4h0M203.9 200.7h0M107.4 256.7h0M145.4 232.1h0M138.4 173.1h0M148.5 207h0M192.9 192.8h0M161.7 154.5h0M120.5 202.5h0M144 223.5h0M109.6 260h0M133.4 222.8h0M118 266.8h0M136.4 209.7h0M241.9 214.1h0M249.4 204.2h0M229.5 240.2h0M189.1 181.2h0M156.1 180.5h0M187.8 168h0M195.2 232.8h0M148.5 202.6h0M141.1 214.4h0M168.9 220.2h0M197.8 154.8h0M164.9 214.5h0M173.6 177.3h0M171.4 157h0M201.5 237h0M192.7 229.8h0M244.2 235.1h0M208.5 234.6h0M129.3 222h0M172.5 209.4h0M210.6 243.2h0M198.9 211.6h0M247.6 241.9h0M146.3 243.8h0M172.8 205.2h0M170 182.1h0M139.7 224.1h0M170.3 152.6h0M177.8 173.7h0M235.6 180.5h0M239.2 195.5h0M142 244.9h0M256 223h0M172.7 165.4h0M238.4 217h0M121.2 198.4h0M113.3 268.7h0M176.5 188.3h0M247.8 219.6h0M213.4 241.4h0M148.8 193.8h0M127.7 225.5h0M247.7 197.5h0M213 181.2h0M135 182.3h0M199.6 172.8h0M187.4 219.9h0M173.3 195.1h0M186.4 152.2h0M112.8 238.4h0M226 240.7h0M217.5 190.3h0M206.3 174.4h0M129.3 212.8h0M191 206h0M198.8 224h0M204 190.2h0M149.2 241.2h0M204.2 146h0M122.9 262.7h0M135.1 238.3h0M133.7 205.2h0M187.3 209.9h0M239 221.3h0M167.8 165.5h0M181.4 196h0M163.7 146.6h0M218.8 173.4h0M182.4 219.8h0M227.9 214.2h0M229 227.1h0M195.5 147.7h0M126 216.9h0M175.1 158.6h0M154.8 214.4h0M183 160.8h0M195.4 213.4h0M236.4 188.3h0M201.5 170.2h0M115.2 231.4h0M208.1 191.6h0M243.9 227.2h0M209.4 197.6h0M173.8 146.5h0M217.4 245.4h0M172.3 191.4h0M202 250.8h0M222.9 190.9h0M121.3 248.5h0M145.2 212.2h0M204.2 222.2h0M126 191.7h0M191.1 178.2h0M207.3 241.4h0M147.4 237.7h0M248.6 238.6h0M220.7 207.1h0M212.6 177.3h0M218.8 221.5h0M244.1 209.8h0M96.5 225.9h0M172.5 199.9h0M237.8 245.5h0M123.8 204.7h0M225.9 252.8h0M190.3 158.9h0M199.9 245.5h0M184.2 232.6h0M234.8 224.9h0M161.8 191h0M116.3 250.6h0M197.4 184.2h0M187.9 144h0M208.7 254.3h0M234.3 184.3h0M193.9 163.7h0M175 163.1h0M187.2 174.6h0M207.8 184.8h0M114.1 263.3h0M189.4 234.5h0M178.8 213.6h0M212.3 233.1h0M179 163.8h0M163.7 183.9h0M131 244.6h0M204.7 226.5h0M166 210.4h0M245.6 215.9h0M227.5 190.3h0M168.3 159.6h0M237.7 207.3h0M173.1 169.6h0M116.9 212.6h0M147.3 222.1h0M180.7 168h0M198.2 248.6h0M126.3 254.4h0M137.1 215.9h0M165.2 218.3h0M181.6 207.1h0M197.2 180.3h0M183.6 142h0M186.4 202.4h0M225.4 176.5h0M252.5 207.1h0M184.8 194.8h0M216.9 225.9h0M221 213.4h0M125.5 259.6h0M202.3 233.9h0M195.5 177.2h0M252.1 219.5h0M205.7 246.5h0M242.6 194.1h0M200.3 202.6h0M116.6 241.2h0M104.8 252h0M206.3 206.9h0M216.4 195.2h0M207 161.8h0M238.4 241.3h0M235.3 239.4h0M157 220.3h0M124.1 231h0M143.5 209.2h0M169.5 193.9h0M138 257.3h0M220.4 162.5h0M145.9 228.8h0M228.4 235.3h0M130.6 257.2h0M131 197.4h0M231.8 247.8h0M168.9 208.5h0M209 202.7h0M135.5 227.3h0M184.2 166.6h0M187.7 237.8h0M221.2 224.7h0M122.4 221.5h0M221.9 247.9h0M204.2 150h0M186.1 229.4h0M175.8 222.7h0M138.6 234.4h0M190.9 223.3h0M233.2 242.6h0M135.8 197.6h0M242 240.4h0M119.6 257.9h0M194.2 172.4h0M167.6 199.1h0M152 206.8h0M132.9 259.6h0M130.9 264h0M175.8 167h0M186.5 179.3h0M155.6 185h0M214.5 161.8h0M151 183.6h0M241.5 233.3h0M149.3 233.1h0M126.1 243.8h0M223.3 219.2h0M215.5 233h0M163.4 170.4h0M146.5 181.4h0M126 237.2h0M150.8 221.5h0M236.1 219.7h0M113.9 234.5h0M212.5 202.4h0M122.1 239.4h0M142.5 179.8h0M125.5 268.8h0M153.1 170.4h0M134.3 256.6h0M239.6 209.9h0M192.7 189.1h0M176.3 181.6h0M143.5 194.4h0M223 171.1h0M214.5 198.4h0M211 216.5h0M181.7 199.9h0M187.4 148.5h0M140.7 250.2h0M239 191.4h0M229 243.6h0M107.9 252.9h0M196.2 239.2h0M211.9 166.3h0M138.2 179h0M206.7 156.9h0M138.8 212h0M150.7 215.1h0M138 191.1h0M179.3 218.1h0M189.6 172.5h0M242.8 223.9h0M188.5 198.5h0M155.6 188.5h0M132.1 231.5h0M210 170.7h0M144.3 206.1h0M208.3 237.9h0M227.5 184.1h0M143.3 248h0M196 220.3h0M149.7 189.3h0M134.2 243h0M243.8 230.5h0M158.1 170.9h0M212.7 157.2h0M150.8 175.3h0M191.2 211.6h0M195.1 151.2h0M124.6 224.3h0M159.8 160.8h0M214.3 192.5h0M251.6 227.9h0M189.8 216h0M136.1 230.5h0M103.2 248.8h0M150 179.5h0M181 153.2h0M166.7 171.7h0M219.1 198.6h0M230.1 231.9h0M191.3 149.9h0M207.2 231.4h0M226.9 248.9h0M158.1 213.1h0M131.6 209.7h0M254.9 215.2h0M199.7 240.2h0M199.8 141.2h0M99.2 240.3h0M189.2 189.6h0M229.6 178.4h0M111.3 248.4h0M112 215h0M136.5 252.5h0M175.3 216.2h0M124.6 196.2h0M155.9 206.1h0M165.9 189.9h0M122 214.4h0M104.4 237h0M196.1 245.5h0M160.8 218.4h0M182.2 225.5h0M150.6 229.6h0M172.2 218.4h0M224.7 167.6h0M192.2 143.5h0M229.6 207.1h0M183.1 183.2h0M203.5 197h0M154.4 225.9h0M105.8 229.8h0M131.1 225.5h0M218.1 255.7h0M187.2 185.1h0M155.3 173.2h0M119 244.3h0M175.6 206.9h0M152.8 160.9h0M224.4 229.8h0M215.1 154.9h0M234.5 194.1h0M205 216.5h0M156.1 194.7h0M207.7 227.8h0M127.1 240.4h0M167.2 148.2h0M110.2 235.7h0M230 198.1h0M152.9 202.3h0M155.8 158.3h0M139.5 183.5h0M190.6 136.7h0M246.7 233h0M205.1 236.6h0M119.7 207.8h0M181.1 178.1h0M225.8 206.5h0M182.8 214.6h0M116.4 256.1h0M209.3 211.4h0M192.8 198.9h0M193.1 244.1h0M205.6 178.9h0M199.7 206.8h0M199 215.5h0M140.1 200.2h0M225.1 234.5h0M102.7 228.9h0M202.9 156.9h0M194.9 140.9h0M205.1 194.1h0M207.7 224.3h0M131.6 192.1h0M131.7 235.3h0M217.6 185h0M179.4 144.1h0M95.8 229.4h0M200.4 146.3h0M209.2 164.1h0M232.2 212h0M113.2 204.7h0M132.9 213.1h0M181.2 228.8h0M227.9 173.7h0M169.9 216.1h0M198.9 197.6h0M166 196h0M194.4 225.2h0M122.1 273.7h0M241 199.8h0M223.3 186.9h0M214.1 244.7h0M209 179.8h0M221.6 232.5h0M244.8 202h0M110.1 243.7h0M184 147.9h0M145.7 174.7h0M243.6 243.5h0M232.4 235.7h0M196.1 189h0M225.9 221h0M192.2 183.6h0M207.2 220.8h0M245.9 194.5h0M234.6 208.4h0M153.4 191.4h0M153 178.2h0M106.7 208.3h0M160.1 202.1h0M252.8 234.8h0M162.8 164h0M208.7 247.8h0M218.6 202h0M160.1 184.3h0M99.6 212.5h0M188.2 225.7h0M215.4 249h0M140.8 207.5h0M175.3 154.1h0M155.3 167h0M150.2 244.5h0M130.8 216.3h0M140.4 239.4h0M143.4 255.5h0M120.2 230.1h0M101.8 210.1h0M213 210.1h0M218.1 217.9h0M157.4 176.4h0M98.2 235.7h0M196.4 159.5h0M119.2 226h0M192.8 217.2h0M139.8 195h0M117.9 271.3h0M146.4 188.4h0M132.4 219.5h0M249.5 223.1h0M93.2 219.1h0M229.6 239.2h0M219.2 237.2h0M111.2 219.7h0M157.1 150.3h0M165.9 213.9h0M233.6 198.4h0M223.3 201.6h0M217.7 214.5h0M231.7 175.7h0M159.8 206h0M171.7 141.3h0M229.4 220.4h0M198.7 231.4h0M187.2 138.7h0M246 223.3h0M219.2 166.2h0M179.2 203.7h0M205.1 200h0M175 172.5h0M160.5 197h0M131.4 249.4h0M136.9 224.2h0M224.4 215.8h0M198.5 235.1h0M103 218.7h0M120.9 254.9h0M177.5 197.8h0M242.6 214.3h0M225.4 180.1h0M111 208.7h0M106.6 247.8h0M146.8 250.1h0M246 207.1h0M205.4 211h0M101.3 223h0M148.1 202.4h0M167.7 151.6h0M225.5 196.5h0M184.2 156.5h0M160.9 157.2h0M158.9 192.6h0M171.6 177.8h0M200.3 163.7h0M126.9 249.3h0M134.4 188h0M152.5 236.2h0M142.6 225.3h0M212.3 181.7h0M169.8 168.3h0M110.9 240.3h0M144.4 234.2h0M214.4 222.8h0M152.5 197.5h0M216.9 169.7h0M229.8 194.3h0M179.3 140.4h0M129 200.6h0M168 185.6h0M242.6 190.8h0M143.8 200.6h0M102.1 242.4h0M117.8 235.1h0M156.6 198.1h0M216.9 180.4h0M127.4 232.5h0M148 192.8h0M114.7 259.8h0M111.3 232.3h0M167.1 177.4h0M198.5 152.2h0M118.9 219h0M221.6 174.4h0M107.8 217.7h0M199.6 158.4h0M180.9 189.3h0M169.8 204.9h0M148.8 166.9h0M175.3 186.7h0M198.7 224.7h0M182.4 138.2h0M211.5 174h0M234.9 179.7h0M152.8 218h0M113.4 252.6h0M92.8 215.6h0M108.5 224.1h0M113.3 229h0M125.2 212.6h0M98.2 221.9h0M214.5 176.7h0M238.3 226.8h0M191.1 176.3h0M129.7 221.4h0M221.8 178.6h0M163.4 199.7h0M140.3 216.5h0M245 211.7h0M237.2 198.5h0M191.6 227h0M156.7 153.8h0M211.1 228.5h0M183.6 191h0M196.7 168h0M144.1 217.7h0M139.6 174.6h0M188.3 164.9h0M148.5 171.3h0M233.3 223.6h0M119.4 251.8h0M111.5 257.8h0M173.2 197.9h0M122.3 266h0M224.5 226h0M127.6 225.6h0M160.2 223.9h0M194.7 208.2h0M195.4 214.5h0M201.8 177.7h0M201.7 185.6h0M210.7 154.2h0M128.7 205.9h0M186.3 144.8h0M231 215.5h0M146.2 243.5h0M189.3 206.7h0M136 200.9h0M209.3 251.1h0M245.1 219.6h0M164.4 149.8h0M206.6 153.5h0M233.2 184h0M163.3 194.1h0M143.6 221.7h0M237 249.6h0M158.4 164.3h0M129.6 187.7h0M185.1 233.4h0M203.1 143.4h0M187.9 154.4h0M224.1 193.2h0M152.1 210.2h0M149.2 198.7h0M247.9 203.8h0M155.3 211.3h0M108.5 259.2h0M189.9 242.9h0M148.1 213.1h0M138.8 187.7h0M167.9 219.5h0M118.6 214.4h0M126.4 190h0M176.1 141.8h0M130.4 241.1h0M196.2 182.1h0M176.7 178h0M142.5 243.8h0M204.1 189.4h0M228.7 228.8h0M178.5 148.9h0M109 228.5h0M194.9 155.4h0M126.6 253.2h0M203.3 170h0M189.8 234.6h0M197.6 176.1h0M183.1 142.3h0M164.1 206.8h0M181 159.3h0M156.2 222.1h0M222.8 208.7h0M142.6 184.2h0M178.7 194.3h0M154.1 229.3h0M246.7 239.9h0M183.2 173.6h0M115.1 237.4h0M102.2 214.7h0M199.9 219.9h0M107.5 241.8h0M184.4 152.4h0M121.8 242.6h0M247.5 214.9h0M237.1 233.5h0M146.6 224.3h0M140.2 228.8h0M250.7 238.4h0M134.8 227.5h0M174 190h0M193 180.5h0M186.2 176.3h0M141.9 190.3h0M141.2 233.4h0M212.5 162.6h0M213.1 254.9h0M209.8 188.8h0M211 198.7h0M234.1 242.7h0M208.6 194h0M124.4 235.3h0M202.4 234.2h0M196.8 248.8h0M188.9 179.2h0M128.9 262.3h0M191 167.8h0M203.6 247.7h0M110.7 267.2h0M237.3 205.8h0M245.9 227.9h0M242.2 206.4h0M192.3 204.9h0M205.1 251.8h0M251.4 204.9h0M135.2 248.3h0M113.6 242.3h0M228.9 251.6h0M222.7 264.1h0M269.5 284.8h0M243 291.7h0M196.8 312.2h0M224.2 291.5h0M149.4 288.3h0M231 322.9h0M282.2 309.8h0M291.1 298.3h0M194.5 262.8h0M235.4 300.9h0M193 290.6h0M185.9 290.9h0M156.6 266.6h0M220.2 297.5h0M174.7 268.5h0M176.2 287.6h0M163 281.6h0M170.4 284.8h0M195.2 294.6h0M209.9 251.1h0M139.7 296.8h0M181.8 301.3h0M168.2 297.4h0M163.3 254.7h0M174.1 304.4h0M286.7 296.4h0M144.8 263.3h0M237.1 290.9h0M256.7 295.5h0M169.8 264.1h0M151 250.7h0M159.6 306.2h0M149.6 256.3h0M205.3 263.3h0M173.5 281h0M206.8 255.1h0M244.7 284.7h0M208.6 269.8h0M188.9 278h0M141.1 283.7h0M238.7 297.5h0M275.5 280.2h0M238.2 263.4h0M196.9 276.8h0M158.8 281.9h0M266.9 299h0M284.5 283.6h0M198.5 290.2h0M179.8 319.1h0M251.4 315.9h0M209.7 285.9h0M242.3 311.9h0M261.7 270.8h0M221.5 313.3h0M192.2 318.7h0M242.9 253.9h0M291.5 315.6h0M185.3 262.1h0M185.3 284.8h0M175 251.6h0M165.9 303.2h0M230.4 245.1h0M157.3 259.9h0M235.6 246.6h0M141.3 289.5h0M200.4 266h0M231.2 284.2h0M247.3 269.5h0M252.9 270h0M262.9 295.5h0M195.6 272.4h0M236.1 309h0M183.1 259.5h0M211.2 320.4h0M214.7 298.6h0M262.9 281.5h0M200 300.9h0M273.2 293.1h0M163.4 263.8h0M257.9 319.8h0M147.9 296.2h0M177.2 263.6h0M223 303.2h0M229.9 296.2h0M156.6 302.3h0M232.3 271.9h0M178.4 290h0M178.9 281.4h0M272.3 276.5h0M196.4 306.2h0M255.8 304.3h0M200.9 274.8h0M252.3 273.6h0M268.2 302.6h0M178.5 303.7h0M174.1 294.2h0M203 299.2h0M226.6 298h0M137.1 273.4h0M213.5 254h0M289.8 309h0M132.1 283.6h0M152.4 307.6h0M280.4 297.5h0M213.7 310.6h0M248.6 310.3h0M140.6 255.6h0M262.5 308.7h0M295.5 313.4h0M206.5 306.7h0M177.3 312.3h0M149 279.9h0M183 253.5h0M177.8 298.3h0M257 270.4h0M142.7 269.5h0M203.7 287.6h0M246.1 306.3h0M214.1 315.9h0M250.1 297.1h0M215.9 262.8h0M277.7 277.2h0M196.6 257h0M168.9 316.7h0M230.5 308.4h0M256 274.5h0M137.8 292.9h0M141.5 302h0M245.6 299.3h0M192.5 259.1h0M220.2 310.1h0M228.9 257.7h0M229.5 276.4h0M125.7 264.3h0M139.6 259h0M168.1 287.8h0M203 320.9h0M218.7 253.5h0M268.3 288.3h0M195 250.1h0M261.6 316h0M203.4 292.1h0M185.4 276.5h0M286.1 291.2h0M249.4 305.9h0M190.1 264.4h0M260.2 290.1h0M126.6 272.7h0M201.9 309.2h0M162.6 298.8h0M293.9 303.5h0M296.6 293.9h0M201.3 280.5h0M251.6 285.2h0M223.6 318.4h0M196.6 301.2h0M217.4 284.9h0M166 259.8h0M152.4 294.2h0M199 284.5h0M233.8 316.7h0M162.6 293.9h0M225.9 279h0M239.7 315.8h0M211.8 307.6h0M256.8 301h0M190.1 273.8h0M218.2 278.2h0M277.8 315.5h0M188.5 256.4h0M265.6 275.4h0M143.4 279.7h0M248.4 258.8h0M130.2 268.7h0M275.3 289.9h0M242.4 260.3h0M182 315.8h0M176.4 284.3h0M190.5 301.3h0M244 267.6h0M269.9 291.6h0M148.4 299.7h0M288.9 304.2h0M121.2 268.2h0M173.2 308.6h0M266.6 306.2h0M160.5 252.4h0M209.5 274.7h0M163 274.1h0M234.1 242.7h0M192.2 251.9h0M269.2 309.7h0M203.7 258.8h0M206.7 277.1h0M261.8 320.8h0M146.4 252.5h0M133.7 262.2h0M223.6 299.6h0M239.7 274.4h0M197.5 317.3h0M274 315.5h0M143.9 273.7h0M221.7 251.6h0M224.7 283.9h0M158.4 272.5h0M192.9 266.7h0M227.4 311.1h0M169.9 306.6h0M156.9 298.5h0M130.1 278.3h0M226.1 273.1h0M181.7 294.1h0M278.1 293.2h0M256.9 286.4h0M181.9 284.7h0M231.6 290.1h0M291.3 292.2h0M190 286.5h0M242.4 317.6h0M146.3 306.1h0M282.9 295.1h0M271.5 299.5h0M214 257.8h0M235.7 257.9h0M154.5 271.3h0M235.5 277.4h0M229.7 316.5h0M162.5 315.5h0M163.9 311.5h0M167.5 292.9h0M225.4 269.3h0M154.1 313h0M239 269.2h0M277.8 287.9h0M212.8 266.8h0M192.7 308.8h0M170.1 311h0M148.9 273.4h0M270.2 315.7h0M153 284.7h0M227.5 320h0M259.2 298.6h0M257.5 279.3h0M256.9 314.8h0M212.6 261.8h0M171.7 278.4h0M188.9 250.3h0M118.6 274.3h0M202 313.5h0M253 292.8h0M204 302.9h0M278 302.3h0M235.4 285.7h0M288.1 312.7h0M208 314.5h0M207.9 290.1h0M253.7 265.1h0M182.6 273.6h0M285.4 316.7h0M214.6 286.8h0M126.2 278.4h0M295.9 300.1h0M288.8 317.3h0M237.9 280.3h0M224 248.1h0M274 304.5h0M212.2 301.8h0M222.3 294.5h0M183.7 303.9h0M250 265.9h0M180.9 262.9h0M241 282h0M263.9 313.7h0M252 302.2h0M184.1 310.2h0M161.3 290.8h0M244.1 256.8h0M227.8 304.6h0M220 267.5h0M171.4 289.9h0M195.4 279.8h0M149 262.4h0M190.2 294.3h0M156.8 278.7h0M130.4 272.9h0M166.8 307.5h0M187.5 307.2h0M230.2 249.2h0M194.7 286.2h0M151.5 269.7h0M130.7 264.7h0M236.5 273.2h0M272.4 308.6h0M249.8 280.7h0M234.2 312.1h0M190.9 282.5h0M178.4 271.8h0M230.3 280.3h0M176.5 320.2h0M139.1 277.2h0M172.5 255.4h0M192.9 312.5h0M248.2 293.1h0M233.9 260.7h0M239.7 304.9h0M278.1 309.3h0M222.1 286.1h0M282 287.1h0M211.6 280.1h0M263.8 287.1h0M281.3 280.5h0M134.4 289.6h0M131 287.5h0M192.6 305.1h0M194.9 315.2h0M158.2 292.1h0M217 290.2h0M155.7 289.2h0M219.2 260.3h0M247.7 315.2h0M170.2 252.5h0M276.8 299.1h0M237.1 324.7h0M157.4 309.1h0M167.4 268.3h0M232.3 263.6h0M207.3 258.4h0M171.1 302.4h0M266.4 318.5h0M120.1 278.4h0M262.2 304.9h0M161 310.1h0M224.9 253.4h0M136.8 269.1h0M236.3 252.1h0M204.7 267.4h0M186.8 316h0M214.4 271.3h0M139.8 264.5h0M240 286.2h0M222.8 273.3h0M144.8 284.8h0M147.2 269.6h0M188.2 268.6h0M161.9 287.6h0M181.8 267.5h0M285.6 306h0M143 297.6h0M123.1 276.9h0M258.7 306h0M231.6 254.6h0M156.2 253.4h0M200.5 251.4h0M152.9 277.8h0M255.1 282.1h0M254.9 309h0M206.9 299.5h0M260.6 274.3h0M205.3 250.5h0M197 322.2h0M183.5 298.5h0M177.4 277h0M117.9 268.8h0M218 306.1h0M218.6 300.6h0M187.2 320.9h0M259.4 312h0M241.3 299.9h0M172.7 271.2h0M224.2 256.6h0M262.4 299.9h0M148.6 309.7h0M240.3 250.3h0M210.8 256.2h0M223 260.2h0M239.4 253.8h0M218.6 321.2h0M266.6 272.3h0M153.3 266.8h0M246 276.2h0M199.5 320.2h0M286.8 287.6h0M146.9 266.3h0M220.4 317.3h0M222.7 280.5h0M162.3 301.9h0M231.7 304.3h0M220.3 288.9h0M166.1 283h0M182.5 279.1h0M202.7 271.4h0M180.3 250.2h0M185.9 251.5h0M206.7 281h0M160.5 318.2h0M228.1 262.1h0M227.9 282.4h0M269.6 279.6h0M174.7 300.9h0M179.9 309.1h0M160.9 258.7h0M264.8 278.6h0M163.7 268.4h0M282.7 301.2h0M218.8 271.4h0M152.8 254.2h0M281.8 291.1h0M177.8 267.5h0M228.5 288.8h0M242.7 271.5h0M216.3 266.5h0M224.1 307.8h0M225.4 323.8h0M169 260.8h0M176.2 259.7h0M163.8 277.8h0M165.4 295.4h0M272.3 285.2h0M147.1 291.9h0M134.7 277.4h0M168.5 271.8h0M211.6 290.8h0M184.1 319.7h0M249.1 318.7h0M208.8 293.3h0M165.1 255.9h0M201.8 305.7h0M195.2 263.7h0M208.8 265.2h0M240.7 294.2h0M173.5 311.8h0M204.5 317.9h0M297.1 308h0M186.6 297.9h0M197.6 295.5h0M191.1 290.6h0M192 247.9h0M235.4 294.3h0M230.3 268.1h0M242.1 264.3h0M140.6 273h0M219.1 293.8h0M165.9 318.7h0M141.3 284.6h0M243.3 291.7h0M198.2 253.9h0M166.5 265h0M215.1 321.8h0M168 297.4h0M173.9 281.4h0M201.4 254.8h0M170.3 274.6h0M190.3 277.9h0M293.5 296.9h0M209.7 285.7h0M228.6 323.7h0M243.5 311.9h0M196.7 291.1h0M215.1 304.4h0M154.8 305.4h0M288.9 295.5h0M176.1 252.9h0M152.1 260.3h0M166.1 300.8h0M244.6 302.8h0M168 278.9h0M174.7 287.9h0M159 255.6h0M236.7 289.8h0M125.6 268.3h0M208.3 322.6h0M138.4 299.9h0M191.5 319.7h0M238 247.2h0M214.5 250.3h0M142.1 291h0M159.6 304.7h0M290.3 286.9h0M270.8 273.4h0M234.4 322h0M218.3 324.5h0M198.1 313.6h0M157.7 286.4h0M211.2 318.9h0M199.9 261.3h0M234.3 302.2h0M228.2 244.5h0M266.7 297.3h0M239.6 310.9h0M256.3 320.9h0M229.7 299.5h0M170.3 284.5h0M272.9 280.9h0M195.5 271.3h0M276.8 312.4h0M157.5 263.9h0M185.4 288.4h0M253 317.7h0M174.3 315h0M244 295.8h0M205 311.7h0M294.3 309.7h0M131 283.8h0M235.9 299.4h0M204.7 295.5h0M245.7 253.9h0M114.2 273.4h0M242.6 308.4h0M200.7 289h0M166.4 314.2h0M173.2 297.8h0M263.4 292.7h0M236.6 266.1h0M250.7 321.7h0M222.2 313.8h0M206.8 262.2h0M207.9 270.9h0M137.1 272.5h0M243.9 322.5h0M211.3 251.6h0M150.6 306.7h0M186 271h0M178.1 315h0M180.2 320.2h0M246.7 283.4h0M240.5 322.2h0M196.8 305.5h0M154 309.7h0M208.5 311.2h0M254.2 305.5h0M282 309.9h0M172.3 259.9h0M234.3 306.3h0M230.7 293.5h0M250.2 299.3h0M238.7 262.1h0M206 306.7h0M184.4 260.3h0M176.7 305.4h0M254.7 275h0M184.8 293.3h0M295.4 314.4h0M253.6 312.4h0M226.7 250.2h0M151.6 289.9h0M252.5 278.2h0M175.3 294h0M280.3 297.1h0M270.1 319.7h0M249.1 277.5h0M269.6 304.1h0M218.4 255.6h0M216.8 309.3h0M213.4 311.4h0M233.7 280.3h0M215.5 280.2h0M148.7 287.8h0M141.1 260.5h0M232.6 274h0M226.7 301.2h0M145 255.6h0M274.9 319.2h0M169.2 316.9h0M134.8 280.7h0M187.5 262.1h0M246.9 265h0M262.2 281.6h0M150.5 250.8h0M201 280.3h0M295.7 293h0M189.2 274.7h0M265.9 284.1h0M207.9 318.9h0M198.7 301.3h0M149.3 276.9h0M255.8 300.7h0M245.5 319.2h0M188.6 310.4h0M229.8 308h0M273.8 277.7h0M158.5 314.9h0M227.4 296.4h0M253 289.3h0M228.1 265.6h0M217.5 284.7h0M192.1 260.4h0M233 269.9h0M215.8 318.3h0M196.1 250.6h0M260.2 285.7h0M163.9 274h0M248.4 304.9h0M232.4 318.2h0M227.3 277.2h0M208.7 304.1h0M199.4 271.8h0M252 272.3h0M203.2 262.1h0M215.4 298.6h0M137.3 287.4h0M150.3 301.8h0M180.1 300.7h0M181 253.6h0M247.5 297.1h0M183.9 256h0M274.1 314.6h0M201.5 284.8h0M249.8 289.3h0M239.3 276.3h0M186.7 301.9h0M264.7 302.6h0M225.2 288.2h0M269.7 296.1h0M258.5 270.3h0M248.9 262.4h0M133.7 259.9h0M150.1 294.1h0M221.4 253.6h0M249.1 269.6h0M280.2 318.8h0M292.6 303.6h0M271.8 291.5h0M179.1 289.2h0M204.1 288.7h0M278.2 282h0M193.7 266.8h0M236.1 258h0M276.9 295.4h0M138.1 257.4h0M232.2 324.5h0M212.1 297.2h0M159.2 299.5h0M175.5 273.5h0M155.9 273.5h0M243.5 287.5h0M243 261h0M221.2 303.9h0M219.1 251h0M267.3 307h0M161.6 283.1h0M243.9 279.7h0M205.1 274.5h0M234.4 246.4h0M181.4 293.7h0M143.7 267.2h0M202.5 322.6h0M146 302h0M213.3 276.6h0M121.7 272.9h0M168.3 255.3h0M252.9 295.5h0M188.6 287h0M237.9 320h0M233.2 250.3h0M154.3 280.9h0M191.7 255.6h0M275.9 292.3h0M169.5 313.1h0M218.6 281.4h0M214.2 262.2h0M286.5 313.6h0M154.4 286.3h0M226.1 271.1h0M139 293.6h0M174.9 265.7h0M194.2 297.6h0M191.3 269.6h0M117 275.2h0M230.1 320.5h0M274.1 289.3h0M202 292.6h0M289.9 299.8h0M182.9 285.6h0M187.4 281.4h0M149 255.6h0M196.6 276.8h0M156 268.5h0M214.8 257.5h0M237.8 283.5h0M280.4 314.5h0M180.6 303.9h0M144.6 273.6h0M268.8 287.2h0M179.3 282.6h0M171 266.2h0M156 301.7h0M284.9 317h0M214.5 294.6h0M182 317.1h0M208.8 314.9h0M168.3 307.6h0M230.9 314.8h0M146.6 252.1h0M291.6 291.8h0M240 317.6h0M151.6 297.5h0M246.9 272.6h0M202 315h0M158.4 282.2h0M205.1 255.6h0M232.2 257.8h0M248.9 286.1h0M262.1 295.9h0M288.6 307.6h0M238.2 314.9h0M264.1 310.8h0M275.4 306.3h0M259.8 289.8h0M200.2 268h0M147.9 283.4h0M197.2 266.7h0M170.2 320.2h0M237.9 270.6h0M184 311.8h0M181.7 274.9h0M170.1 290.9h0M156.4 296.9h0M218.4 297.1h0M191.3 302.7h0M174.1 277.6h0M260.1 278.9h0M162.4 297.9h0M267.1 293.2h0M218.8 277.4h0M201.6 310h0M191.1 251.4h0M233.1 243.3h0M129.3 273.3h0M159.4 252.1h0M135.2 264.4h0M212.3 300.5h0M126.7 279.1h0M194.2 300.8h0M170 301.8h0M193.1 273.9h0M162.8 252h0M240.8 258.4h0M218.9 258.8h0M193.4 316.3h0M160.7 270h0M247.3 323.3h0M169.1 294.1h0M278.5 300.4h0M275.4 302.5h0M295.9 304.3h0M226.4 292.4h0M227.8 312.4h0M267.7 313.9h0M167.9 288.2h0M223.4 273.5h0M172.2 307.1h0M238 325h0M136.3 295.4h0M161.5 263.7h0M146.5 295.2h0M238 307.8h0M255.9 308.8h0M139.9 267h0M264.1 320.7h0M159 311.1h0M148.8 263.1h0M234.9 262.5h0M230.9 253.1h0M197.3 285.1h0M287.9 303.8h0M257.4 281.4h0M259.3 318h0M258.9 275.7h0M266.7 317.2h0M163.5 315.8h0M271.5 310h0M206.4 251h0M183.7 305h0M194.4 287.5h0M252.2 265.6h0M254.9 286h0M210.4 268.6h0M286.2 292.1h0M188.6 266h0M266.7 272.4h0M228.5 317.2h0M131.2 287.9h0M145.2 287.6h0M193.5 311.9h0M255 269.1h0M291.8 312h0M281.5 305.7h0M269.5 300.5h0M204.7 284.5h0M224.4 247.4h0M278.8 277.4h0M187.8 321.3h0M259.4 312.7h0M208.1 258.6h0M211.5 273.8h0M156.1 289.8h0M162.7 291.6h0M235.3 254.8h0M275.5 298.3h0M358.6 239.4h0M300.9 282.3h0M297.7 190h0M254.1 186.9h0M272.1 218.3h0M311 267.5h0M347.3 256.6h0M303.4 264.3h0M349.9 254.3h0M248.6 233.4h0M340.5 212.7h0M330 240.4h0M314.5 273.4h0M267.3 228.9h0M295.9 285.3h0M287.5 262.3h0M338 207.7h0M334.7 235.1h0M275.5 220.4h0M327.8 206.5h0M308.6 236.2h0M257 229.9h0M266.7 263.8h0M261.9 200.6h0M263.4 266.6h0M313.8 194.8h0M245.3 243h0M299.1 243.3h0M337.3 264.1h0M304.1 269h0M274.2 244.3h0M316.4 281.7h0M241.7 200.2h0M332.2 245.8h0M238.2 200.7h0M267.1 236h0M250.2 211.9h0M294.2 205.2h0M288.2 227.8h0M272.4 255.5h0M289.8 252.3h0M309 217.1h0M263.3 224.6h0M343.2 254.4h0M295.9 275.4h0M311.8 197.7h0M342.9 257.8h0M307.4 224.2h0M353.6 214.9h0M263.4 192.4h0M293.6 267.1h0M357.6 220.3h0M288.9 197.2h0M324 245h0M255.3 240.4h0M309.2 280h0M257 198.3h0M301.8 227.7h0M310.8 232.4h0M295.4 281.1h0M254.8 213.5h0M248.4 244.6h0M366.9 235.8h0M274.4 211.9h0M245.1 202.3h0M341.6 277h0M344.3 233h0M346.4 272.4h0M291.6 213.5h0M300.7 273.4h0M288 205.1h0M304 191.3h0M301.5 246.6h0M275.9 272.2h0M249.3 189.6h0M316.5 197.8h0M272 197.3h0M275.4 199.1h0M279.6 270.8h0M278.3 246.5h0M302.4 219.7h0M240 216.6h0M301.1 267h0M363.3 234.3h0M355.1 246.4h0M341.5 219.6h0M244 206.6h0M319.8 265.3h0M249.8 225h0M319.7 220.7h0M251.4 258.1h0M326.7 230.8h0M366.2 248.3h0M245.2 228.5h0M259.1 250.8h0M258.8 264.7h0M331.3 252.6h0M315.4 241.7h0M339.8 243h0M268.6 204.2h0M349.5 237.5h0M273.3 226.8h0M283.5 267.3h0M252 197.6h0M319.9 247.3h0M337.7 267.5h0M359.8 253.7h0M345.6 229.2h0M278.5 231.7h0M342.8 237.8h0M324.8 279.8h0M322.5 282.3h0M280.8 205.8h0M332.3 208h0M293 193.2h0M291.3 263.7h0M362 248.5h0M276.9 261.1h0M308 272.7h0M363 262.7h0M267.6 248.6h0M238.1 211.6h0M281.1 184.5h0M258 216h0M240.5 191.5h0M269 232.4h0M279 257.8h0M274.5 186.3h0M289.2 266.5h0M290.1 245.1h0M319.1 226.4h0M307.3 243.6h0M253.8 218.4h0M251 251.4h0M277.9 193.7h0M319.6 237.5h0M292.1 238.5h0M307.7 196.8h0M267.3 219h0M330 285.1h0M303.5 236.1h0M327.9 233.9h0M345 248.9h0M272.8 270.6h0M235.3 213.6h0M256 205.2h0M306.1 207.9h0M364.4 238h0M261.6 206.1h0M288.5 274.2h0M312 202.3h0M302.8 210.2h0M266.3 251.8h0M275 250.4h0M344.5 221.3h0M240.6 227.7h0M272.7 261.4h0M299.1 239.7h0M295.3 224.9h0M250.4 217.2h0M317.2 260.4h0M297.9 233h0M327 262.2h0M259.3 194.3h0M364.1 243.9h0M344 242.1h0M273.2 202.8h0M325.8 253.5h0M276.6 267.9h0M291 207.4h0M297 195.7h0M315.7 278h0M284.2 231.6h0M303.9 288.4h0M318.3 272h0M328.2 212.2h0M266.1 198.2h0M321.8 277.4h0M274.8 190.9h0M284.8 228.3h0M280.9 241.7h0M347.9 233.3h0M263.5 249.6h0M295.6 257.1h0M334.4 226.8h0M285 199.5h0M318.9 209.3h0M304.7 215.7h0M248 248.1h0M287 218.7h0M261.6 235.3h0M323.8 257.8h0M309.7 286.4h0M246.2 238.7h0M266 244.8h0M280.4 235.4h0M331.6 218.7h0M282 253.8h0M284.9 213.8h0M280.7 196.4h0M275 234.8h0M293.8 219.6h0M291.1 270.8h0M247.4 196.9h0M296.7 265.2h0M336.7 273.8h0M285.8 209.2h0M257 224h0M249.3 237.5h0M350.7 269.4h0M269.5 273.9h0M278.9 226.3h0M325 226.1h0M315.7 246.9h0M312.9 282h0M302.8 195.7h0M323 228.6h0M323.8 266.5h0M301.7 205.6h0M287.3 191.8h0M297.4 278.4h0M235.3 207.6h0M344.9 215.2h0M240.9 221.9h0M371.8 254.1h0M276.8 229h0M262.8 220.6h0M320.4 255h0M336.6 251.4h0M242 233.5h0M338.2 279.2h0M328.3 245.6h0M357.6 224.3h0M339.2 237.4h0M330.2 274.1h0M330.6 227h0M353.4 236.2h0M304.2 279.2h0M245.2 231.7h0M258 212.1h0M259.9 227.2h0M275.2 206.2h0M285.7 234.9h0M300.1 254.5h0M260.9 213.5h0M301.9 187.7h0M330.4 257.2h0M243 211.7h0M314.3 212h0M319.3 213.2h0M330.2 248.3h0M333.3 241.7h0M264.4 216.5h0M304 260.2h0M288.5 184.2h0M251 206.4h0M316.9 222.9h0M251.6 240.6h0M331.3 235.3h0M248.2 222h0M307 251.8h0M324.9 217.4h0M353.4 232h0M309.1 192.9h0M293.9 243.9h0M267.1 184h0M324.2 236.9h0M319.5 232.1h0M312.5 253.7h0M343.4 270.4h0M332.9 276.5h0M358.7 243h0M277.3 276.1h0M346.9 260.7h0M338.5 234.1h0M321.2 242.5h0M281.6 216.6h0M310.9 276.7h0M297.1 215.9h0M336.4 283.4h0M306.8 203.3h0M340.5 224.7h0M270.4 212.3h0M313 237.9h0M351.5 257.2h0M363.1 252.4h0M293 251.8h0M307.3 261.2h0M308.9 256h0M287.3 247.4h0M262.6 257.9h0M346.6 275.6h0M333.4 261.3h0M238.7 204.8h0M284.9 240.3h0M281.8 189.7h0M352.6 242.3h0M270.5 242h0M356.4 253.7h0M335.6 255h0M313.4 230.3h0M262.6 252.7h0M351 273.6h0M327.6 222.6h0M326 199.2h0M344.7 211.8h0M269.9 263.7h0M320.3 201.8h0M254.5 236.9h0M302.5 251.4h0M350.4 224.6h0M357.8 261.2h0M274.3 277.6h0M291.7 283.9h0M321 261.6h0M242.8 196.8h0M287.3 269.8h0M285.6 187.2h0M292.5 200.6h0M337.3 214h0M305.4 199.8h0M339.8 247.8h0M344.5 225.5h0M272.6 222.9h0M244.9 190.6h0M284.7 244.4h0M279.3 251.3h0M253.7 226.9h0M275.2 195.8h0M285.4 196.3h0M298 203.4h0M287.4 256.7h0M356.9 232.1h0M331.7 203.5h0M313.5 216.1h0M289.7 280.8h0M350.4 249.9h0M367 257.8h0M319.9 197.8h0M289.2 221.7h0M280.2 200.7h0M265.7 241.3h0M262 189.4h0M347.9 243.4h0M254 249.3h0M259.8 259.7h0M288.6 238.7h0M359.6 236.1h0M254.5 245.6h0M254.6 256.7h0M289.6 259.2h0M283.2 247.5h0M299.7 193.1h0M310.9 259.5h0M304.9 247.4h0M310.3 206.4h0M269.6 193.4h0M269.7 187.4h0M325.3 241.4h0M333.9 231.1h0M279.1 209.8h0M350.6 260.7h0M333.2 269.8h0M339.8 259.5h0M268 269.5h0M316.3 232.6h0M257.8 185.5h0M304.7 283.9h0M255.5 191.6h0M325 212h0M332.2 222h0M275.7 255.7h0M299.6 212.8h0M322.5 252.3h0M266.9 222.7h0M270.8 229h0M325.3 288.5h0M281.2 223.8h0M314.7 267.4h0M325.1 275.6h0M349 213.5h0M246.7 219h0M336.4 258.5h0M288.7 231.8h0M342.2 230.2h0M263.8 270h0M298.9 269.9h0M300.2 223.4h0M360.8 229.7h0M315.5 263.4h0M319.8 288.4h0M348.8 265.3h0M286.5 282.3h0M316.2 237.3h0M317.3 253.1h0M295.7 199.1h0M273.9 238.4h0M363.8 258.8h0M284.1 263.3h0M258.7 244.2h0M334.8 217.5h0M295.8 212.4h0M296 248.8h0M362.2 225.2h0M352.6 252.3h0M240.2 208.1h0M368.7 244.3h0M346.1 267.5h0M291.2 229.1h0M285.1 222.1h0M359.2 246.9h0M285.3 252.9h0M300.6 201.5h0M332.1 264.4h0M278.1 264.4h0M307.5 268.9h0M336.5 245.2h0M252.8 232h0M261.2 210h0M280.6 260.7h0M298.7 218.7h0M269.3 257h0M294.9 235.1h0M323.3 248.3h0M269.8 216.1h0M254.6 201.4h0M263.9 263.5h0M314.4 204.8h0M350.1 219.7h0M371.4 249.4h0M311.2 212.6h0M297.5 283.5h0M348.6 255.8h0M362.7 240.8h0M352.7 263.3h0M366 231.9h0M261.5 196.7h0M287 277.9h0M314.8 287.9h0M329.3 268.7h0M262.1 240.5h0M262.5 201.7h0M248.5 227.9h0M309.6 235.8h0M334.6 210.4h0M249.9 193.1h0M336.1 220.6h0M315.4 226.7h0M256 253.6h0M308.7 228.7h0M265.7 237.7h0M262.8 243.7h0M303.8 223.6h0M280.4 275h0M289 195h0M272 252.5h0M314.4 208.6h0M356.5 228.8h0M278.2 215.5h0M243 238.2h0M296.6 261.8h0M340.1 263.2h0M332.4 213.1h0M277 222.2h0M321.6 217.5h0M257.4 232.1h0M284 258.7h0M278.7 239.2h0M239 198.1h0M256.2 240.3h0M300.5 279.9h0M328.8 265.2h0M302.9 273.8h0M327.9 238.8h0M243.3 203.3h0M298.6 245.5h0M247.1 215.4h0M283 280.6h0M322.9 269.9h0M236.5 194.4h0M328.6 281.4h0M289 253.5h0M304.8 255h0M287.3 205.7h0M310.5 221.4h0M265 226.7h0M300.9 228.1h0M279.1 187.6h0M275.8 242.7h0M327.8 278.3h0M292.3 186.8h0M300.4 284.9h0M273.5 218h0M291.6 248.8h0M306.3 264.3h0M275.4 212.8h0M258.4 262.8h0M247.4 202.6h0M276.7 198.8h0M253.9 188.1h0M266.5 261.3h0M342 253.4h0M246.1 242.1h0M356.7 238.8h0M307.1 218.9h0M244.8 224.4h0M353.7 217.9h0M250.7 255.7h0M277.2 247.8h0M236.3 201.1h0M293.6 267.1h0M321.5 273.4h0M287.9 227.3h0M329.2 206h0M345.2 253.9h0M339.6 207.4h0M339.5 241.1h0M304.5 228.8h0M282.5 203.1h0M330.4 253.1h0M289.6 210.4h0M321 283.3h0M337.6 266.7h0M257.7 249.4h0M330.7 209.7h0M341.5 267.5h0M310.2 266.8h0M355.7 248.3h0M323 222.5h0M257.5 219.8h0M310 239.5h0M264.2 233h0M301.8 267.7h0M238.4 219.4h0M254.5 260.5h0M353.2 228.6h0M356.5 220.7h0M343.8 238.8h0M294.9 281.5h0M249 212.1h0M284 272.4h0M242.9 218.9h0M270.8 208.7h0M257.4 215.8h0M326.9 202.5h0M329.7 242.4h0M278.2 271.5h0M343 233.6h0M343.1 275.2h0M311.7 225.8h0M313 197.4h0M298.6 187.9h0M259 200.4h0M294.8 231.1h0M255.9 196h0M314.2 273h0M342.7 220.6h0M303.8 241h0M290.5 189.9h0M336.6 205.7h0M252.6 210.2h0M306.8 239.2h0M339.3 270.6h0M315 250.4h0M366 239h0M364.8 243.2h0M351.1 246.7h0M315.4 241.1h0M318.2 249.8h0M341.1 217.6h0M334.5 238.1h0M311.1 271.6h0M333.2 284.1h0M364.6 249.4h0M320.5 225.3h0M324.9 206.3h0M270.4 197.7h0M367.4 253h0M281.5 270h0M309.5 281.8h0M266.1 199.7h0M250.3 198.2h0M317.2 195.5h0M357.7 266h0M260.4 255.3h0M307.1 273.2h0M289 274.8h0M301.7 248.2h0M317.4 269.5h0M275.6 190.3h0M348.4 240.1h0M360.2 221.7h0M301.3 232.3h0M306.3 209.1h0M262 230.4h0M266.6 248.2h0M317.1 257.3h0M309.4 196.6h0M320.3 258.3h0M293.6 190.9h0M295.5 227.3h0M326.2 252.9h0M235 210.8h0M343.3 259.5h0M324.2 282.1h0M354.6 268.2h0M250.4 245h0M272.7 184.1h0M282.2 212.2h0M322.9 209h0M280.3 235.6h0M241.1 229.3h0M297.5 241.8h0M325 231.8h0M264.5 191.8h0M299.3 238.3h0M306.6 190.8h0M361.2 255h0M239.2 212.6h0M270.6 246h0M257.8 224.5h0M274 248.4h0M281.7 228.3h0M319.2 266.1h0M276.5 203.2h0M363.6 236.8h0M346.4 237h0M299.9 209.2h0M309.1 245.7h0M289.9 264.6h0M325.2 256.8h0M330 216.8h0M316.3 217.9h0M325 265.6h0M280.7 244.6h0M337.6 250.6h0M267.2 212.9h0M336.9 274.8h0M259.8 234.4h0M238.6 223.9h0M206.7 134.1h0M224.5 142.8h0M245.9 173.3h0M228.6 156.4h0M252.6 109.6h0M287.8 147.6h0M232.7 130.8h0M227.6 149.8h0M253.7 174.2h0M262.7 123.3h0M202.1 120h0M208.8 125.4h0M245.2 118.4h0M212.5 122.8h0M205.1 137h0M229.1 108.6h0M235.2 120.6h0M268.8 125.5h0M239.2 153.1h0M261.2 165.2h0M236.6 136.6h0M267.2 121.8h0M283.7 167.7h0M272.5 121.1h0M230.8 153.3h0M237 160.4h0M230.4 162.9h0M286.6 171.3h0M261.5 157.6h0M259.8 141.1h0M248.5 162.4h0M198.8 135.4h0M211.6 136.5h0M237.8 149.5h0M240.2 181.9h0M265.4 166.7h0M193.2 122.7h0M239.1 145.4h0M259.7 151.7h0M212.3 146.3h0M260.3 144.5h0M227.8 175.6h0M284.1 154.2h0M281.4 139.7h0M240.6 114.5h0M240.5 100.7h0M269.2 161.7h0M231.6 158.6h0M260.8 169.1h0M286.9 166.1h0M218.3 110.6h0M217.4 160.2h0M227.4 105.5h0M235.5 124h0M221.2 141.5h0M273.5 129.9h0M244.3 102.2h0M242.9 132.2h0M233.2 177.6h0M267.2 169.4h0M268 148.5h0M279.2 162.4h0M256.3 115.1h0M260 116h0M210.1 117.5h0M236.6 164.2h0M238.4 169.7h0M255.3 177.3h0M268.1 137.4h0M216 106.4h0M244.6 107.7h0M226.7 119h0M262.9 128.2h0M274.7 140.2h0M282.5 162.4h0M224.1 147.2h0M237.3 155.8h0M274.4 124h0M237.2 141.8h0M267.5 151.7h0M254.8 128.6h0M225.3 102.6h0M225.6 168h0M213.1 126.7h0M221.4 125.1h0M242.9 183.9h0M232.4 173.9h0M275.7 150.9h0M267.7 116h0M215.3 154.2h0M279.5 168.8h0M208.9 144.7h0M241.6 138.7h0M217.1 138.4h0M240.4 126.2h0M199.8 123.2h0M251.3 165.3h0M281.5 174.8h0M199.7 128.9h0M220.5 165.2h0M231.3 170.9h0M230 114.9h0M282.1 133.1h0M248.9 116.7h0M265.9 131.5h0M269.1 178.6h0M260.9 181.5h0M222.7 138.6h0M213 110.9h0M258.5 133.3h0M290.7 156.7h0M244.7 113.9h0M258 128.1h0M232.4 146h0M231.1 120.4h0M242.5 163.3h0M240.5 129.9h0M253.3 158.9h0M251.4 130.6h0M278.3 156.2h0M283.5 137.1h0M233.8 111.7h0M220.2 151.7h0M272.3 155.3h0M216.6 117.3h0M280.6 152.1h0M253.2 186.3h0M215.4 121.3h0M250.6 152.2h0M243.1 122.8h0M260.8 112.2h0M254.4 145.5h0M270 167.2h0M234.2 107.4h0M224.5 126.3h0M247 143.1h0M262.1 147.3h0M254.7 119.6h0M252.2 181.6h0M225.2 112.1h0M238.5 111.1h0M272.3 177.1h0M288.1 159.2h0M284.8 143.7h0M220.6 113.4h0M272.2 147.3h0M214.8 143.8h0M219.6 133.9h0M257.4 183.7h0M215.4 149.1h0M278.2 174.8h0M226 137.1h0M237.1 117.5h0M273.8 167.4h0M241.2 155.9h0M202.9 124h0M206.2 121.1h0M245 151.7h0M251.3 169h0M274.1 162.3h0M249.1 110.7h0M250.9 137.6h0M264.4 159.9h0M254.9 152.8h0M202.3 116.6h0M268.3 129.1h0M229.2 131.2h0M255.3 167.9h0M225.7 154.4h0M208.4 112.5h0M217.5 126.6h0M258.7 109.8h0M231 140.4h0M231.1 126.5h0M250.5 147.5h0M263.9 138.8h0M243.9 145.5h0M280.7 146.5h0M259.3 120h0M231.5 166.5h0M274.5 157.6h0M214.7 114.6h0M279.9 159.1h0M247.4 124.5h0M264.3 176.5h0M221.5 107h0M221.9 116.8h0M250.5 127.6h0M246.5 186.1h0M259.2 161.4h0M287.7 155h0M246.6 132.8h0M241.9 148.9h0M268 173.2h0M249.1 121h0M208.9 138.4h0M250.2 184.3h0M270 134.8h0M283.4 157.5h0M222.6 169.5h0M271.7 138.9h0M221.9 121.8h0M229 144h0M239.6 106.5h0M195.8 125.6h0M276.7 135.6h0M213.3 133.2h0M246.3 181.3h0M283.5 150.3h0M220.9 161.6h0M236.9 183.4h0M257 138.1h0M273.2 174h0M282.3 171h0M248.8 107.5h0M276.9 127.2h0M239.6 121.9h0M244.8 137.2h0M287.4 151.4h0M241.8 177.6h0M255.8 163h0M204.7 127.9h0M235.6 128.8h0M260.8 175.9h0M257.4 147.2h0M265.4 143.8h0M233.4 98.3h0M252.4 155.8h0M225.7 164.3h0M233.8 156.3h0M261.6 131.7h0M234.5 168.5h0M238.1 132.2h0M245.3 157.3h0M206.6 130.8h0M226.6 161h0M230 101.5h0M269.6 144.3h0M241.9 169.3h0M257.7 179.8h0M246.3 177.1h0M214.1 140.5h0M247.1 147.5h0M225.6 132.4h0M257.3 123.8h0M233.6 149.9h0M253.2 123.6h0M247 165.7h0M249.5 173.1h0M279.2 143.4h0M264 169.9h0M263.3 152.4h0M254.1 142.3h0M226.1 122.6h0M194.7 129.6h0M215.3 130h0M279.5 130.5h0M236.3 114.2h0M218.2 145.6h0M202 132.1h0M254.7 135.6h0M238.6 173.2h0M252 104.5h0M272.8 133.2h0M252.4 114.8h0M275.5 144.5h0M232.3 134.2h0M274.5 170.8h0M250.1 177.8h0M198.7 132h0M263.8 115.1h0M221 129.1h0M218.8 119.9h0M236.5 179.7h0M266.6 181.6h0M257.8 173.1h0M263.5 119.8h0M271.6 152.1h0M218 156.6h0M237.2 99.8h0M264.5 156.5h0M234.2 103h0M233.3 117.9h0M239.1 166.3h0M277.5 147.3h0M253.7 148.9h0M242 160.1h0M264.5 163.3h0M224.3 108.7h0M263.6 134.3h0M244.8 128.6h0M231.8 182h0M276.6 165.5h0M268.2 140.8h0M225.7 115.9h0M228.1 171.5h0M263.2 173.2h0M249.4 134.4h0M244.4 140.8h0M260.4 136.5h0M198.2 118.7h0M248 154.2h0M249.5 158.6h0M206.3 140.3h0M237.9 103.3h0M241.1 135.4h0M227.1 99.8h0M192.5 126.2h0M255.4 132h0M201.2 138.7h0M229.4 136h0M241.8 119.5h0M288.4 162.5h0M257.8 155.3h0M230.8 105.5h0M270.5 171.1h0M265.4 125.2h0M245.1 161.2h0M245.2 168.6h0M249 140.5h0M221.3 155.7h0M205.6 116.8h0M242.5 172.4h0M238.3 176.6h0M227.7 125.9h0M278.1 140h0M225 173.6h0M220.1 104h0M268.9 155.9h0M241.3 142h0M233.9 142.6h0M216.1 135.1h0M228.6 112h0M276.3 177.8h0M209.6 132.1h0M244 98.4h0M230.1 178.4h0M248.5 103.9h0M242.2 110.9h0M276 131.9h0M226.7 129.1h0M269.6 119h0M210.7 141.6h0M250.5 144.1h0M211.1 114.3h0M280.9 165.1h0M223.3 134.8h0M196.3 121.7h0M260.4 125.6h0M236 152.5h0M224 158.5h0M284.9 140.5h0M223.6 151.1h0M254.7 106.2h0M213.1 119h0M264.8 149.3h0M271.5 159h0M209.9 128.7h0M204.6 113.7h0M217.4 141.8h0M290.5 153.1h0M251.9 161.9h0M254.8 112h0M233.6 162.5h0M235.7 145.4h0M272.6 126.8h0M263.8 179.8h0M234.2 139h0M263.8 183.5h0M280.2 136.1h0M275.6 154.3h0M257.1 143.6h0M218.2 123.4h0M221.4 110.3h0M213.2 151.5h0M241.5 103.7h0M227.8 140.1h0M284.6 174.2h0M254.7 171.2h0M257.1 158.7h0M257.8 165.7h0M229.9 123.5h0M221.6 144.8h0M209.7 120.8h0M249.8 187.5h0M248.1 129.8h0M235.1 171.9h0M272.4 142.7h0M220.6 148h0M284.2 147h0M202.2 135.3h0M248.1 170.1h0M271.4 164.2h0M146.3 365.9h0M150.2 360.2h0M184.6 377.2h0M161.5 372.5h0M163.5 330.5h0M156.6 322.8h0M185.6 367.5h0M152.5 321.2h0M196.2 338h0M181.8 369h0M166.8 384.6h0M173.7 348.6h0M170.8 380.6h0M143.8 330.2h0M178.3 385.4h0M192.8 362.2h0M171.8 333.3h0M160.4 377.1h0M205 354.6h0M185.5 353.5h0M148.7 339.1h0M157.8 343.9h0M137 320.7h0M137.6 325.1h0M170.3 352.2h0M201.6 359.1h0M205.3 340.3h0M179.9 339.8h0M189.6 359.5h0M177.7 352.4h0M178.2 366.8h0M177.3 377h0M141.4 359.4h0M149.1 343.6h0M171.2 359.9h0M153.9 357.5h0M179.5 348.8h0M153.8 367.2h0M173 340.1h0M143.2 319.8h0M209.3 345.1h0M179.4 361.8h0M168.2 346.8h0M167.3 355.5h0M174.6 370.7h0M167.2 332.5h0M145.8 360.2h0M204.3 343.4h0M210.5 353.1h0M160.7 350.2h0M162 381.2h0M169 375.9h0M152.9 335.2h0M173.9 379.2h0M166.7 365.2h0M189.4 354.9h0M174.8 345.1h0M151.1 326.8h0M142.9 325.6h0M179.4 343.8h0M191.9 346.8h0M184.9 349.2h0M176 363.5h0M163.8 358.3h0M153.4 329.8h0M190.6 338.4h0M161.7 344.8h0M187.5 364.5h0M146.5 352.5h0M158.2 369.2h0M151.3 346.4h0M165.6 376.2h0M145.6 337.1h0M178.2 381.5h0M211.9 357h0M172.3 363.4h0M163.8 338h0M205.4 360.9h0M183 357.4h0M195.2 347.2h0M182.1 383.3h0M160.4 336.6h0M140.3 365.4h0M166.9 340.7h0M158.6 358.8h0M206.6 347.5h0M160.6 363.1h0M166.7 359.9h0M142.3 336.3h0M182.9 374h0M137.1 317.4h0M185.7 344.1h0M161.3 341h0M194 358.4h0M143.1 363h0M196.9 350.1h0M157.1 366.1h0M202.2 351h0M170.1 337.6h0M163.2 366.2h0M142.8 347.6h0M194.2 354.9h0M168.2 368.1h0M157.9 354h0M156.4 333.8h0M172.5 367.2h0M182.7 361.6h0M189 350.6h0M186.8 336.4h0M153.9 344.5h0M169.5 343.3h0M198.6 353.6h0M200.7 342.9h0M183.3 339.3h0M146.4 346.6h0M214.2 351.4h0M140 350.7h0M148.5 369.7h0M213.3 345.2h0M164.6 370.7h0M177.6 355.7h0M136.7 329.1h0M155.9 348.2h0M210.4 348.2h0M176.4 337h0M156.9 329.4h0M149.7 365.2h0M181.7 353.5h0M179.7 371.9h0M197.4 341.4h0M199.9 337.1h0M177.1 359h0M147.1 324.7h0M172.6 383.8h0M173.5 375.7h0M155 375.7h0M187.5 372.3h0M143.4 356.6h0M151.6 351.5h0M153.1 341.1h0M162.9 355h0M191.4 366.6h0M180.9 377.1h0M201.9 346.7h0M144 368.1h0M146.8 318.3h0M151.1 354.8h0M185.5 380.8h0M159.4 326.1h0M149.2 329.4h0M171.5 355.4h0M153.8 363h0M147.2 332.3h0M140.5 332.8h0M169.1 362.5h0M132.7 319.1h0M194.7 365h0M154.7 325.7h0M176.8 340.9h0M158.5 374h0M170.9 371h0M151.5 371.5h0M208.3 338.9h0M170.2 386h0M142.3 315.2h0M212.5 339.2h0M197.9 358.3h0M161.1 332.7h0M165.2 344.5h0M137.5 333.8h0M173.6 386.8h0M166.9 379.7h0M140.3 322.1h0M141.1 353.9h0M188.2 346.9h0M151.3 318.3h0M193.7 342.4h0M197.8 363.5h0M208.5 356.3h0M163.3 327.2h0M157.2 337.4h0M198.8 345.9h0M187.7 341.1h0M166.3 335.7h0M167 373.3h0M146.5 314h0M133.3 323h0M202 339.9h0M206.4 351.5h0M161.7 323.8h0M155 370.3h0M147.1 357.1h0M182 345.9h0M165.9 352h0M171.6 346h0M191.1 370h0M154.5 353.7h0M149.3 335.2h0M193 351h0M208.4 359.5h0M181.7 336.4h0M140.3 328.7h0M163.5 348h0M157.1 362.3h0M182.3 380h0M182 364.9h0M148.8 321.4h0M186.2 361.3h0M174.2 352.2h0M164.3 362.4h0M211.2 342.5h0M148 349.6h0M166.9 328.7h0M190.4 343.8h0M139.3 356.6h0M201.6 355.6h0M160.2 329.3h0M187.9 376h0M158.9 347h0M155.4 319.4h0M176.1 373.7h0M161.5 369h0M186.4 357.5h0M149.8 315.3h0M146.3 328.1h0M134.3 326.8h0M173.1 336.2h0M214.3 354.6h0M182.5 342.5h0M174.6 356.9h0M140.4 317.8h0M143.5 351.1h0M150.8 332.3h0M201.3 362.5h0M156.6 340.5h0M157.3 378.1h0M214.4 341.9h0M182.4 229.5h0M187.2 241.7h0M191.1 246.4h0M179.9 244.6h0M168.4 236.8h0M164.9 234.1h0M185.2 227.8h0M165.5 247h0M174.1 226.2h0M177.4 236.7h0M170.4 229.2h0M165 237.9h0M165.4 242.2h0M171.3 239.8h0M192.9 235.8h0M173.4 246h0M187.1 234.6h0M174.8 232.4h0M188.5 248.8h0M178.7 250.1h0M194.1 244.1h0M166.7 227.7h0M177.9 229.9h0M171 252.5h0M190.3 243.1h0M165 230.5h0M180.6 241.3h0M170.4 244.8h0M185.2 250.2h0M159.3 245.6h0M184.7 244.5h0M179 225.7h0M189.4 237.1h0M172.9 235.1h0M194.3 239.4h0M184.3 236.9h0M174.2 250.6h0M176.2 244.2h0M158.5 240.6h0M168.1 240.3h0M176 247.8h0M160.9 233.9h0M169.7 226.1h0M189 231.3h0M183.9 241.3h0M170.1 232.9h0M176.5 240.1h0M192.3 231.3h0M157.3 235h0M180.1 233.1h0M161.7 230.6h0M161.8 248.5h0M169.2 249.2h0M180.8 236.6h0M187.8 245.5h0M166.3 250.9h0M173.2 242.5h0M162.4 240.6h0M182.5 248.4h0M185.4 231.8h0M161.6 237.2h0M181.9 251.7h0M162.5 244.5h0M176.5 253.1h0M182.3 226.1h0M191 239.9h0M96 189.4h0M92.9 200.1h0M92 205h0M95 196.2h0M87.6 196.7h0M87.9 200.2h0M89.6 190.8h0M98.8 184.9h0M104.5 196.3h0M101.3 196.6h0M100.9 202.1h0M102.4 189.3h0M90.9 196.7h0M96.8 202.4h0M85.9 188.4h0M103.6 204h0M97.9 192.7h0M86.5 192.7h0M89.3 187h0M93.1 187.4h0M101 206.8h0M96.5 205.8h0M105.5 191.9h0M95.5 185.2h0M97.4 199.1h0M99.2 188.5h0M93.8 192.7h0M104.6 200.2h0M102.4 193.2h0"/><path id="pp1" d="M245.9 173.3h0M228.6 156.4h0M252.6 109.6h0M287.8 147.6h0M232.7 130.8h0M253.7 174.2h0M262.7 123.3h0M202.1 120h0M208.8 125.4h0M245.2 118.4h0M205.1 137h0M229.1 108.6h0M268.8 125.5h0M236.6 136.6h0M267.2 121.8h0M283.7 167.7h0M272.5 121.1h0M230.8 153.3h0M237 160.4h0M230.4 162.9h0M286.6 171.3h0M261.5 157.6h0M259.8 141.1h0M248.5 162.4h0M198.8 135.4h0M211.6 136.5h0M237.8 149.5h0M240.2 181.9h0M265.4 166.7h0M193.2 122.7h0M239.1 145.4h0M212.3 146.3h0M227.8 175.6h0M284.1 154.2h0M281.4 139.7h0M240.6 114.5h0M240.5 100.7h0M231.6 158.6h0M260.8 169.1h0M286.9 166.1h0M218.3 110.6h0M217.4 160.2h0M227.4 105.5h0M235.5 124h0M221.2 141.5h0M242.9 132.2h0M267.2 169.4h0M268 148.5h0M279.2 162.4h0M260 116h0M210.1 117.5h0M238.4 169.7h0M268.1 137.4h0M244.6 107.7h0M226.7 119h0M282.5 162.4h0M224.1 147.2h0M237.3 155.8h0M274.4 124h0M237.2 141.8h0M267.5 151.7h0M254.8 128.6h0M225.3 102.6h0M225.6 168h0M213.1 126.7h0M221.4 125.1h0M232.4 173.9h0M275.7 150.9h0M267.7 116h0M215.3 154.2h0M279.5 168.8h0M208.9 144.7h0M241.6 138.7h0M217.1 138.4h0M240.4 126.2h0M199.8 123.2h0M251.3 165.3h0M199.7 128.9h0M230 114.9h0M282.1 133.1h0M248.9 116.7h0M265.9 131.5h0M269.1 178.6h0M260.9 181.5h0M222.7 138.6h0M213 110.9h0M258.5 133.3h0M290.7 156.7h0M258 128.1h0M231.1 120.4h0M253.3 158.9h0M251.4 130.6h0M278.3 156.2h0M283.5 137.1h0M233.8 111.7h0M220.2 151.7h0M272.3 155.3h0M216.6 117.3h0M253.2 186.3h0M215.4 121.3h0M250.6 152.2h0M243.1 122.8h0M260.8 112.2h0M254.4 145.5h0M234.2 107.4h0M247 143.1h0M262.1 147.3h0M254.7 119.6h0M225.2 112.1h0M272.3 177.1h0M288.1 159.2h0M284.8 143.7h0M220.6 113.4h0M272.2 147.3h0M257.4 183.7h0M215.4 149.1h0M278.2 174.8h0M226 137.1h0M237.1 117.5h0M273.8 167.4h0M241.2 155.9h0M202.9 124h0M206.2 121.1h0M245 151.7h0M251.3 169h0M274.1 162.3h0M249.1 110.7h0M250.9 137.6h0M254.9 152.8h0M202.3 116.6h0M268.3 129.1h0M255.3 167.9h0M225.7 154.4h0M208.4 112.5h0M217.5 126.6h0M258.7 109.8h0M231 140.4h0M231.1 126.5h0M250.5 147.5h0M263.9 138.8h0M243.9 145.5h0M280.7 146.5h0M259.3 120h0M231.5 166.5h0M214.7 114.6h0M279.9 159.1h0M247.4 124.5h0M264.3 176.5h0M221.9 116.8h0M250.5 127.6h0M259.2 161.4h0M287.7 155h0M246.6 132.8h0M241.9 148.9h0M268 173.2h0M208.9 138.4h0M270 134.8h0M283.4 157.5h0M222.6 169.5h0M221.9 121.8h0M229 144h0M239.6 106.5h0M195.8 125.6h0M276.7 135.6h0M213.3 133.2h0M220.9 161.6h0M236.9 183.4h0M257 138.1h0M282.3 171h0M248.8 107.5h0M239.6 121.9h0M244.8 137.2h0M287.4 151.4h0M241.8 177.6h0M255.8 163h0M204.7 127.9h0M235.6 128.8h0M260.8 175.9h0M233.4 98.3h0M252.4 155.8h0M225.7 164.3h0M233.8 156.3h0M261.6 131.7h0M238.1 132.2h0M245.3 157.3h0M206.6 130.8h0M226.6 161h0M230 101.5h0M241.9 169.3h0M257.7 179.8h0M214.1 140.5h0M247.1 147.5h0M225.6 132.4h0M257.3 123.8h0M233.6 149.9h0M253.2 123.6h0M247 165.7h0M249.5 173.1h0M264 169.9h0M263.3 152.4h0M254.1 142.3h0M194.7 129.6h0M279.5 130.5h0M236.3 114.2h0M218.2 145.6h0M202 132.1h0M254.7 135.6h0M252 104.5h0M272.8 133.2h0M252.4 114.8h0M275.5 144.5h0M232.3 134.2h0M250.1 177.8h0M198.7 132h0M263.8 115.1h0M221 129.1h0M236.5 179.7h0M266.6 181.6h0M257.8 173.1h0M263.5 119.8h0M271.6 152.1h0M218 156.6h0M237.2 99.8h0M264.5 156.5h0M234.2 103h0M239.1 166.3h0M253.7 148.9h0M242 160.1h0M264.5 163.3h0M263.6 134.3h0M231.8 182h0M276.6 165.5h0M268.2 140.8h0M225.7 115.9h0M228.1 171.5h0M249.4 134.4h0M244.4 140.8h0M248 154.2h0M249.5 158.6h0M241.1 135.4h0M227.1 99.8h0M192.5 126.2h0M255.4 132h0M201.2 138.7h0M241.8 119.5h0M288.4 162.5h0M257.8 155.3h0M230.8 105.5h0M270.5 171.1h0M265.4 125.2h0M245.1 161.2h0M245.2 168.6h0M249 140.5h0M221.3 155.7h0M205.6 116.8h0M242.5 172.4h0M238.3 176.6h0M227.7 125.9h0M278.1 140h0M225 173.6h0M220.1 104h0M268.9 155.9h0M241.3 142h0M233.9 142.6h0M216.1 135.1h0M228.6 112h0M276.3 177.8h0M244 98.4h0M230.1 178.4h0M248.5 103.9h0M242.2 110.9h0M269.6 119h0M250.5 144.1h0M211.1 114.3h0M280.9 165.1h0M223.3 134.8h0M196.3 121.7h0M224 158.5h0M284.9 140.5h0M223.6 151.1h0M254.7 106.2h0M264.8 149.3h0M271.5 159h0M204.6 113.7h0M217.4 141.8h0M290.5 153.1h0M251.9 161.9h0M254.8 112h0M233.6 162.5h0M235.7 145.4h0M272.6 126.8h0M263.8 179.8h0M234.2 139h0M275.6 154.3h0M257.1 143.6h0M218.2 123.4h0M221.4 110.3h0M213.2 151.5h0M241.5 103.7h0M227.8 140.1h0M284.6 174.2h0M254.7 171.2h0M257.1 158.7h0M221.6 144.8h0M249.8 187.5h0M248.1 129.8h0M235.1 171.9h0M272.4 142.7h0M220.6 148h0M202.2 135.3h0M248.1 170.1h0M271.4 164.2h0M96 189.4h0M92.9 200.1h0M95 196.2h0M87.6 196.7h0M87.9 200.2h0M89.6 190.8h0M98.8 184.9h0M104.5 196.3h0M101.3 196.6h0M100.9 202.1h0M90.9 196.7h0M96.8 202.4h0M103.6 204h0M97.9 192.7h0M86.5 192.7h0M89.3 187h0M93.1 187.4h0M101 206.8h0M96.5 205.8h0M105.5 191.9h0M97.4 199.1h0M99.2 188.5h0M93.8 192.7h0M104.6 200.2h0M102.4 193.2h0M247.1 226.9h0M181.1 216.4h0M141 220.5h0M147 179.5h0M215.1 254.3h0M148.1 185.7h0M109 240.8h0M158.3 169.3h0M195.4 246.3h0M139.9 199.5h0M170.4 176.8h0M157.9 156.6h0M249.9 223.8h0M173.7 183.5h0M219.3 233.3h0M198.6 217.3h0M176.8 210.2h0M246.2 202.9h0M205.5 236.8h0M211.9 160.2h0M201.2 195h0M196.5 236.9h0M127.4 232.1h0M130.5 262.5h0M110.2 252.4h0M181.3 183.6h0M152.3 156h0M189.7 215h0M153.3 196.5h0M111.3 223.1h0M220.4 251.8h0M197.8 220.6h0M216.9 178.2h0M140.3 210.2h0M161.9 216.6h0M208.3 224.6h0M154.9 190.9h0M206 196.7h0M116.6 218.1h0M134.7 213.3h0M133.2 241.1h0M129.9 188h0M232 208.5h0M193.6 196.1h0M130.1 203.5h0M204.9 230.4h0M139.3 230.5h0M212.3 236.5h0M198 196.4h0M101.2 245.1h0M157.7 210.4h0M109 211.9h0M171.6 216.1h0M105.7 244.2h0M215.6 213.9h0M239.3 227.6h0M162.1 186.8h0M211.3 149.4h0M156.1 166.3h0M215.4 169.9h0M231.7 222.6h0M142.8 189.7h0M215.7 229.8h0M155.7 161h0M205.1 213.5h0M217.9 167.5h0M211.5 194.4h0M143.8 255.1h0M212.9 250.3h0M203.7 240h0M110.6 219.6h0M216.8 237h0M176.6 143.5h0M164.4 202.1h0M160.8 174h0M190.2 155.2h0M116.3 208.6h0M197.6 188.6h0M160.4 206.6h0M152.4 210.3h0M125.5 199.6h0M228.3 223.6h0M236.1 197.5h0M108.2 224.5h0M230.8 217.6h0M180 147.8h0M161.9 165.4h0M138.2 240.2h0M133.5 201.9h0M118.2 233.9h0M99.9 236.9h0M111.4 243h0M146.8 218.9h0M196.8 204.5h0M221.9 244h0M189.8 242.1h0M177.4 139.6h0M140.8 238.1h0M145.3 171.1h0M203.9 243.7h0M219.9 179.4h0M164.4 157.3h0M203.9 200.7h0M138.4 173.1h0M192.9 192.8h0M144 223.5h0M118 266.8h0M241.9 214.1h0M249.4 204.2h0M229.5 240.2h0M189.1 181.2h0M148.5 202.6h0M141.1 214.4h0M168.9 220.2h0M171.4 157h0M192.7 229.8h0M208.5 234.6h0M172.5 209.4h0M210.6 243.2h0M247.6 241.9h0M172.8 205.2h0M170 182.1h0M235.6 180.5h0M239.2 195.5h0M142 244.9h0M172.7 165.4h0M121.2 198.4h0M247.8 219.6h0M148.8 193.8h0M127.7 225.5h0M247.7 197.5h0M173.3 195.1h0M226 240.7h0M217.5 190.3h0M206.3 174.4h0M204 190.2h0M204.2 146h0M187.3 209.9h0M182.4 219.8h0M175.1 158.6h0M183 160.8h0M195.4 213.4h0M209.4 197.6h0M173.8 146.5h0M202 250.8h0M207.3 241.4h0M147.4 237.7h0M248.6 238.6h0M212.6 177.3h0M244.1 209.8h0M96.5 225.9h0M172.5 199.9h0M237.8 245.5h0M225.9 252.8h0M190.3 158.9h0M234.8 224.9h0M161.8 191h0M197.4 184.2h0M187.9 144h0M208.7 254.3h0M234.3 184.3h0M193.9 163.7h0M175 163.1h0M187.2 174.6h0M189.4 234.5h0M178.8 213.6h0M163.7 183.9h0M204.7 226.5h0M237.7 207.3h0M173.1 169.6h0M147.3 222.1h0M137.1 215.9h0M186.4 202.4h0M216.9 225.9h0M221 213.4h0M125.5 259.6h0M205.7 246.5h0M200.3 202.6h0M206.3 206.9h0M216.4 195.2h0M238.4 241.3h0M169.5 193.9h0M138 257.3h0M145.9 228.8h0M131 197.4h0M168.9 208.5h0M184.2 166.6h0M122.4 221.5h0M221.9 247.9h0M204.2 150h0M190.9 223.3h0M135.8 197.6h0M242 240.4h0M119.6 257.9h0M194.2 172.4h0M152 206.8h0M130.9 264h0M186.5 179.3h0M149.3 233.1h0M126.1 243.8h0M223.3 219.2h0M146.5 181.4h0M126 237.2h0M150.8 221.5h0M134.3 256.6h0M176.3 181.6h0M223 171.1h0M211 216.5h0M181.7 199.9h0M140.7 250.2h0M196.2 239.2h0M138.2 179h0M179.3 218.1h0M189.6 172.5h0M155.6 188.5h0M210 170.7h0M143.3 248h0M243.8 230.5h0M212.7 157.2h0M150.8 175.3h0M195.1 151.2h0M124.6 224.3h0M251.6 227.9h0M103.2 248.8h0M254.9 215.2h0M199.7 240.2h0M229.6 178.4h0M111.3 248.4h0M175.3 216.2h0M124.6 196.2h0M155.9 206.1h0M165.9 189.9h0M196.1 245.5h0M182.2 225.5h0M172.2 218.4h0M192.2 143.5h0M155.3 173.2h0M119 244.3h0M205 216.5h0M127.1 240.4h0M152.9 202.3h0M155.8 158.3h0M139.5 183.5h0M190.6 136.7h0M246.7 233h0M119.7 207.8h0M192.8 198.9h0M199.7 206.8h0M225.1 234.5h0M202.9 156.9h0M131.6 192.1h0M217.6 185h0M179.4 144.1h0M95.8 229.4h0M200.4 146.3h0M209.2 164.1h0M198.9 197.6h0M122.1 273.7h0M223.3 186.9h0M184 147.9h0M145.7 174.7h0M207.2 220.8h0M153.4 191.4h0M106.7 208.3h0M162.8 164h0M208.7 247.8h0M160.1 184.3h0M215.4 249h0M175.3 154.1h0M155.3 167h0M150.2 244.5h0M140.4 239.4h0M120.2 230.1h0M98.2 235.7h0M196.4 159.5h0M139.8 195h0M117.9 271.3h0M132.4 219.5h0M249.5 223.1h0M93.2 219.1h0M229.6 239.2h0M219.2 237.2h0M157.1 150.3h0M217.7 214.5h0M159.8 206h0M198.7 231.4h0M187.2 138.7h0M246 223.3h0M205.1 200h0M131.4 249.4h0M224.4 215.8h0M103 218.7h0M120.9 254.9h0M106.6 247.8h0M146.8 250.1h0M246 207.1h0M205.4 211h0M171.6 177.8h0M169.8 168.3h0M152.5 197.5h0M216.9 169.7h0M168 185.6h0M117.8 235.1h0M216.9 180.4h0M111.3 232.3h0M167.1 177.4h0M198.5 152.2h0M118.9 219h0M221.6 174.4h0M148.8 166.9h0M182.4 138.2h0M211.5 174h0M113.4 252.6h0M108.5 224.1h0M125.2 212.6h0M98.2 221.9h0M214.5 176.7h0M221.8 178.6h0M163.4 199.7h0M140.3 216.5h0M245 211.7h0M156.7 153.8h0M188.3 164.9h0M233.3 223.6h0M119.4 251.8h0M173.2 197.9h0M122.3 266h0M160.2 223.9h0M201.8 177.7h0M201.7 185.6h0M128.7 205.9h0M231 215.5h0M163.3 194.1h0M237 249.6h0M129.6 187.7h0M224.1 193.2h0M152.1 210.2h0M149.2 198.7h0M108.5 259.2h0M189.9 242.9h0M138.8 187.7h0M118.6 214.4h0M176.7 178h0M142.5 243.8h0M189.8 234.6h0M164.1 206.8h0M156.2 222.1h0M246.7 239.9h0M183.2 173.6h0M199.9 219.9h0M107.5 241.8h0M247.5 214.9h0M140.2 228.8h0M134.8 227.5h0M193 180.5h0M141.9 190.3h0M212.5 162.6h0M209.8 188.8h0M208.6 194h0M202.4 234.2h0M196.8 248.8h0M191 167.8h0M110.7 267.2h0M245.9 227.9h0M205.1 251.8h0M135.2 248.3h0M161.5 372.5h0M163.5 330.5h0M156.6 322.8h0M185.6 367.5h0M152.5 321.2h0M166.8 384.6h0M173.7 348.6h0M171.8 333.3h0M160.4 377.1h0M185.5 353.5h0M148.7 339.1h0M201.6 359.1h0M205.3 340.3h0M189.6 359.5h0M141.4 359.4h0M149.1 343.6h0M171.2 359.9h0M179.5 348.8h0M153.8 367.2h0M173 340.1h0M179.4 361.8h0M167.2 332.5h0M204.3 343.4h0M162 381.2h0M169 375.9h0M152.9 335.2h0M173.9 379.2h0M151.1 326.8h0M191.9 346.8h0M163.8 358.3h0M145.6 337.1h0M211.9 357h0M163.8 338h0M182.1 383.3h0M140.3 365.4h0M166.9 340.7h0M158.6 358.8h0M206.6 347.5h0M185.7 344.1h0M161.3 341h0M194 358.4h0M196.9 350.1h0M202.2 351h0M142.8 347.6h0M168.2 368.1h0M172.5 367.2h0M182.7 361.6h0M186.8 336.4h0M153.9 344.5h0M164.6 370.7h0M136.7 329.1h0M155.9 348.2h0M210.4 348.2h0M156.9 329.4h0M181.7 353.5h0M147.1 324.7h0M172.6 383.8h0M173.5 375.7h0M155 375.7h0M201.9 346.7h0M146.8 318.3h0M151.1 354.8h0M149.2 329.4h0M171.5 355.4h0M132.7 319.1h0M176.8 340.9h0M170.9 371h0M151.5 371.5h0M170.2 386h0M142.3 315.2h0M197.9 358.3h0M161.1 332.7h0M166.9 379.7h0M141.1 353.9h0M188.2 346.9h0M157.2 337.4h0M187.7 341.1h0M133.3 323h0M206.4 351.5h0M155 370.3h0M165.9 352h0M171.6 346h0M191.1 370h0M193 351h0M208.4 359.5h0M181.7 336.4h0M182.3 380h0M186.2 361.3h0M211.2 342.5h0M148 349.6h0M166.9 328.7h0M139.3 356.6h0M201.6 355.6h0M158.9 347h0M176.1 373.7h0M161.5 369h0M186.4 357.5h0M146.3 328.1h0M173.1 336.2h0M214.3 354.6h0M182.5 342.5h0M140.4 317.8h0M143.5 351.1h0M156.6 340.5h0M157.3 378.1h0M282.2 309.8h0M163 281.6h0M244.7 284.7h0M235.6 246.6h0M200.4 266h0M232.3 271.9h0M280.4 297.5h0M246.1 306.3h0M245.6 299.3h0M220.2 310.1h0M176.4 284.3h0M234.1 242.7h0M180.9 262.9h0M252 302.2h0M272.4 308.6h0M249.8 280.7h0M234.2 312.1h0M278.1 309.3h0M155.7 289.2h0M207.3 258.4h0M120.1 278.4h0M214.4 271.3h0M255.1 282.1h0M148.6 309.7h0M180.3 250.2h0M195.2 263.7h0M168 297.4h0M201.4 254.8h0M196.7 291.1h0M226.7 250.2h0M232.6 274h0M274.1 314.6h0M212.1 297.2h0M202.5 322.6h0M191.7 255.6h0M218.6 281.4h0M226.1 271.1h0M158.4 282.2h0M174.1 277.6h0M247.3 323.3h0M159 311.1h0M163.5 315.8h0M311 267.5h0M303.4 264.3h0M245.3 243h0M238.2 200.7h0M272.4 255.5h0M263.4 192.4h0M304 191.3h0M244 206.6h0M258.8 264.7h0M293 193.2h0M238.1 211.6h0M258 216h0M279 257.8h0M290.1 245.1h0M327.9 233.9h0M272.8 270.6h0M266.3 251.8h0M275 250.4h0M297.9 233h0M297 195.7h0M274.8 190.9h0M295.6 257.1h0M291.1 270.8h0M323.8 266.5h0M235.3 207.6h0M371.8 254.1h0M242 233.5h0M304.2 279.2h0M330.2 248.3h0M251.6 240.6h0M353.4 232h0M324.2 236.9h0M336.4 283.4h0M306.8 203.3h0M356.4 253.7h0M262.6 252.7h0M302.5 251.4h0M321 261.6h0M287.3 269.8h0M359.6 236.1h0M289.6 259.2h0M269.6 193.4h0M342.2 230.2h0M348.8 265.3h0M368.7 244.3h0M285.3 252.9h0M332.1 264.4h0M350.1 219.7h0M362.7 240.8h0M248.5 227.9h0M278.2 215.5h0M332.4 213.1h0M310.5 221.4h0M265 226.7h0M300.4 284.9h0M339.6 207.4h0M282.5 203.1h0M337.6 266.7h0M341.5 267.5h0M310 239.5h0M264.2 233h0M301.8 267.7h0M257.4 215.8h0M313 197.4h0M281.5 270h0M357.7 266h0M348.4 240.1h0M262 230.4h0M250.4 245h0M264.5 191.8h0M257.8 224.5h0M274 248.4h0M191.1 246.4h0M165.4 242.2h0M171.3 239.8h0M184.7 244.5h0M176.2 244.2h0M176.5 240.1h0M187.8 245.5h0M166.3 250.9h0"/><path id="pp2" d="M287.8 147.6h0M239.2 153.1h0M261.5 157.6h0M259.8 141.1h0M239.1 145.4h0M212.3 146.3h0M281.4 139.7h0M240.5 100.7h0M286.9 166.1h0M244.6 107.7h0M274.4 124h0M282.1 133.1h0M260.9 181.5h0M258.5 133.3h0M288.1 159.2h0M274.1 162.3h0M231.1 126.5h0M243.9 145.5h0M274.5 157.6h0M246.6 132.8h0M246.3 177.1h0M247.1 147.5h0M233.6 149.9h0M263.3 152.4h0M272.8 133.2h0M236.5 179.7h0M277.5 147.3h0M241.8 119.5h0M245.2 168.6h0M221.3 155.7h0M227.7 125.9h0M268.9 155.9h0M236 152.5h0M223.6 151.1h0M227.8 140.1h0M272.4 142.7h0M87.6 196.7h0M95.5 185.2h0M93.8 192.7h0M217.8 158.4h0M141 220.5h0M123.7 241.8h0M115.9 254.3h0M139.9 199.5h0M249.9 223.8h0M137.6 204.1h0M211.9 160.2h0M181.3 183.6h0M152.3 156h0M109 215.3h0M189.7 172.5h0M220.4 251.8h0M238 212.4h0M161.9 216.6h0M115.9 221.5h0M209.1 227.7h0M236.2 203.3h0M248.6 231.4h0M110.7 229.6h0M222.9 181.4h0M142.8 189.7h0M155.1 151.3h0M101.5 215.3h0M203.7 240h0M181 188.6h0M154.3 176.8h0M217.8 186.6h0M115.7 245.4h0M252.4 234.3h0M228.3 223.6h0M236.1 197.5h0M216.5 208.3h0M114.1 204.8h0M134 186.1h0M161.9 165.4h0M186.1 206.1h0M138.2 240.2h0M196.8 204.5h0M232.2 228.6h0M221.9 244h0M197.8 168.2h0M212.7 188.3h0M157.7 199.2h0M222.3 194.3h0M164.5 162.8h0M203.9 243.7h0M106.8 220.8h0M147.8 165.4h0M161.7 154.5h0M109.6 260h0M118 266.8h0M156.1 180.5h0M187.8 168h0M195.2 232.8h0M168.9 220.2h0M171.4 157h0M170 182.1h0M256 223h0M238.4 217h0M121.2 198.4h0M113.3 268.7h0M176.5 188.3h0M217.5 190.3h0M204.2 146h0M167.8 165.5h0M195.5 147.7h0M236.4 188.3h0M173.8 146.5h0M217.4 245.4h0M184.2 232.6h0M187.9 144h0M193.9 163.7h0M225.4 176.5h0M252.1 219.5h0M242.6 194.1h0M116.6 241.2h0M104.8 252h0M143.5 209.2h0M220.4 162.5h0M209 202.7h0M221.2 224.7h0M122.4 221.5h0M194.2 172.4h0M152 206.8h0M214.5 161.8h0M134.3 256.6h0M176.3 181.6h0M211 216.5h0M140.7 250.2h0M211.9 166.3h0M206.7 156.9h0M138.8 212h0M189.6 172.5h0M210 170.7h0M124.6 224.3h0M251.6 227.9h0M136.1 230.5h0M103.2 248.8h0M199.7 240.2h0M229.6 178.4h0M175.3 216.2h0M105.8 229.8h0M175.6 206.9h0M215.1 154.9h0M205 216.5h0M127.1 240.4h0M152.9 202.3h0M199 215.5h0M207.7 224.3h0M131.7 235.3h0M232.2 212h0M227.9 173.7h0M223.3 186.9h0M214.1 244.7h0M244.8 202h0M184 147.9h0M232.4 235.7h0M225.9 221h0M153 178.2h0M208.7 247.8h0M160.1 184.3h0M188.2 225.7h0M175.3 154.1h0M101.8 210.1h0M157.4 176.4h0M196.4 159.5h0M192.8 217.2h0M132.4 219.5h0M198.7 231.4h0M246 223.3h0M198.5 235.1h0M167.7 151.6h0M160.9 157.2h0M171.6 177.8h0M169.8 168.3h0M143.8 200.6h0M114.7 259.8h0M199.6 158.4h0M180.9 189.3h0M148.8 166.9h0M108.5 224.1h0M113.3 229h0M98.2 221.9h0M191.1 176.3h0M129.7 221.4h0M221.8 178.6h0M196.7 168h0M139.6 174.6h0M188.3 164.9h0M111.5 257.8h0M231 215.5h0M245.1 219.6h0M206.6 153.5h0M237 249.6h0M247.9 203.8h0M167.9 219.5h0M118.6 214.4h0M176.7 178h0M204.1 189.4h0M109 228.5h0M194.9 155.4h0M189.8 234.6h0M183.1 142.3h0M156.2 222.1h0M184.4 152.4h0M247.5 214.9h0M146.6 224.3h0M212.5 162.6h0M196.8 248.8h0M128.9 262.3h0M245.9 227.9h0M166.8 384.6h0M143.8 330.2h0M179.9 339.8h0M177.3 377h0M171.2 359.9h0M153.9 357.5h0M168.2 346.8h0M160.7 350.2h0M166.7 365.2h0M179.4 343.8h0M191.9 346.8h0M176 363.5h0M187.5 364.5h0M172.3 363.4h0M158.6 358.8h0M143.1 363h0M194.2 354.9h0M186.8 336.4h0M153.9 344.5h0M183.3 339.3h0M136.7 329.1h0M155.9 348.2h0M180.9 377.1h0M151.1 354.8h0M170.2 386h0M151.3 318.3h0M208.5 356.3h0M157.2 337.4h0M182 364.9h0M186.2 361.3h0M190.4 343.8h0M174.6 356.9h0M220.2 297.5h0M174.1 304.4h0M144.8 263.3h0M209.7 285.9h0M185.3 262.1h0M231.2 284.2h0M247.3 269.5h0M252.9 270h0M236.1 309h0M214.7 298.6h0M262.9 281.5h0M163.4 263.8h0M255.8 304.3h0M200.9 274.8h0M203 299.2h0M141.5 302h0M229.5 276.4h0M203 320.9h0M162.6 298.8h0M199 284.5h0M256.8 301h0M218.2 278.2h0M265.6 275.4h0M242.4 260.3h0M182 315.8h0M244 267.6h0M192.9 266.7h0M227.4 311.1h0M212.6 261.8h0M278 302.3h0M126.2 278.4h0M183.7 303.9h0M195.4 279.8h0M248.2 293.1h0M282 287.1h0M247.7 315.2h0M276.8 299.1h0M232.3 263.6h0M120.1 278.4h0M224.9 253.4h0M136.8 269.1h0M236.3 252.1h0M147.2 269.6h0M197 322.2h0M117.9 268.8h0M224.2 256.6h0M160.5 318.2h0M179.9 309.1h0M281.8 291.1h0M272.3 285.2h0M147.1 291.9h0M168.5 271.8h0M192 247.9h0M230.3 268.1h0M242.1 264.3h0M140.6 273h0M243.5 311.9h0M215.1 304.4h0M168 278.9h0M191.5 319.7h0M290.3 286.9h0M131 283.8h0M137.1 272.5h0M154 309.7h0M253.6 312.4h0M175.3 294h0M218.4 255.6h0M215.5 280.2h0M141.1 260.5h0M226.7 301.2h0M246.9 265h0M262.2 281.6h0M207.9 318.9h0M180.1 300.7h0M280.2 318.8h0M179.1 289.2h0M193.7 266.8h0M175.5 273.5h0M243 261h0M219.1 251h0M181.4 293.7h0M143.7 267.2h0M121.7 272.9h0M154.3 280.9h0M226.1 271.1h0M274.1 289.3h0M182.9 285.6h0M237.8 283.5h0M284.9 317h0M214.5 294.6h0M246.9 272.6h0M288.6 307.6h0M218.9 258.8h0M275.4 302.5h0M139.9 267h0M188.6 266h0M255 269.1h0M291.8 312h0M162.7 291.6h0M358.6 239.4h0M311 267.5h0M248.6 233.4h0M330 240.4h0M327.8 206.5h0M266.7 263.8h0M299.1 243.3h0M274.2 244.3h0M263.3 224.6h0M245.1 202.3h0M301.5 246.6h0M279.6 270.8h0M240 216.6h0M326.7 230.8h0M259.1 250.8h0M258.8 264.7h0M273.3 226.8h0M319.9 247.3h0M359.8 253.7h0M345.6 229.2h0M280.8 205.8h0M291.3 263.7h0M267.6 248.6h0M238.1 211.6h0M274.5 186.3h0M267.3 219h0M330 285.1h0M303.5 236.1h0M288.5 274.2h0M295.3 224.9h0M250.4 217.2h0M273.2 202.8h0M291 207.4h0M263.5 249.6h0M318.9 209.3h0M280.7 196.4h0M257 224h0M350.7 269.4h0M302.8 195.7h0M301.7 205.6h0M240.9 221.9h0M371.8 254.1h0M262.8 220.6h0M320.4 255h0M338.2 279.2h0M330.2 274.1h0M258 212.1h0M260.9 213.5h0M301.9 187.7h0M243 211.7h0M316.9 222.9h0M248.2 222h0M267.1 184h0M324.2 236.9h0M312.5 253.7h0M332.9 276.5h0M277.3 276.1h0M281.6 216.6h0M297.1 215.9h0M306.8 203.3h0M313 237.9h0M281.8 189.7h0M352.6 242.3h0M270.5 242h0M313.4 230.3h0M327.6 222.6h0M302.5 251.4h0M274.3 277.6h0M291.7 283.9h0M242.8 196.8h0M287.3 269.8h0M292.5 200.6h0M272.6 222.9h0M244.9 190.6h0M284.7 244.4h0M253.7 226.9h0M275.2 195.8h0M356.9 232.1h0M350.4 249.9h0M280.2 200.7h0M259.8 259.7h0M288.6 238.7h0M254.6 256.7h0M304.9 247.4h0M279.1 209.8h0M322.5 252.3h0M266.9 222.7h0M270.8 229h0M281.2 223.8h0M314.7 267.4h0M246.7 219h0M360.8 229.7h0M315.5 263.4h0M348.8 265.3h0M258.7 244.2h0M296 248.8h0M368.7 244.3h0M252.8 232h0M294.9 235.1h0M314.4 204.8h0M371.4 249.4h0M314.8 287.9h0M329.3 268.7h0M336.1 220.6h0M289 195h0M321.6 217.5h0M278.7 239.2h0M300.5 279.9h0M302.9 273.8h0M322.9 269.9h0M300.4 284.9h0M291.6 248.8h0M293.6 267.1h0M329.2 206h0M345.2 253.9h0M304.5 228.8h0M282.5 203.1h0M238.4 219.4h0M343 233.6h0M314.2 273h0M311.1 271.6h0M364.6 249.4h0M309.5 281.8h0M317.2 195.5h0M289 274.8h0M275.6 190.3h0M360.2 221.7h0M295.5 227.3h0M324.2 282.1h0M297.5 241.8h0M325 231.8h0M306.6 190.8h0M239.2 212.6h0M257.8 224.5h0M363.6 236.8h0M280.7 244.6h0M337.6 250.6h0M165.5 247h0M177.4 236.7h0M171.3 239.8h0M159.3 245.6h0M184.3 236.9h0M158.5 240.6h0M176.5 240.1h0M162.4 240.6h0M185.4 231.8h0"/></defs><text x="240.3" y="74.5" font-size="26" text-anchor="middle">CD8+ T cells</text><rect x="73.5" y="85.5" width="315" height="317" fill="none" stroke="#7f7f7f" stroke-width="1.6"/><g stroke-width="4.7" stroke-linecap="round" fill="none" stroke="#b8b8b8"><use href="#paC1"/><use href="#paC2"/><use href="#paC3"/><use href="#paC4"/><use href="#paC5"/><use href="#paC7"/><use href="#paC6"/><use href="#paC8"/></g><g stroke-width="4.0" stroke-linecap="round" fill="none"><use href="#paC1" stroke="#E64B35"/><use href="#paC2" stroke="#4DBBD5"/><use href="#paC3" stroke="#00A087"/><use href="#paC4" stroke="#3C5488"/><use href="#paC5" stroke="#F39B7F"/><use href="#paC7" stroke="#91D1C2"/><use href="#paC6" stroke="#8491B4"/><use href="#paC8" stroke="#DC0000"/></g><text x="124.5" y="421" font-size="12.5" text-anchor="middle" fill="#4d4d4d">−20</text><text x="218.6" y="421" font-size="12.5" text-anchor="middle" fill="#4d4d4d">0</text><text x="314.4" y="421" font-size="12.5" text-anchor="middle" fill="#4d4d4d">20</text><text x="66.5" y="157.4" font-size="12.5" text-anchor="end" fill="#4d4d4d">20</text><text x="66.5" y="242.4" font-size="12.5" text-anchor="end" fill="#4d4d4d">0</text><text x="66.5" y="327.5" font-size="12.5" text-anchor="end" fill="#4d4d4d">−20</text><path d="M124.5 403v4M218.6 403v4M314.4 403v4M73 152.9h-4M73 237.9h-4M73 323h-4" stroke="#4d4d4d" stroke-width="1.2"/><text x="236.5" y="438" font-size="21" text-anchor="middle">tSNE1</text><text x="51.6" y="238" font-size="21" text-anchor="middle" transform="rotate(-90 51.6 238)">tSNE2</text><circle cx="408.7" cy="97.6" r="6.5" fill="#E64B35"/><text x="427" y="104.1" font-size="18">C1</text><circle cx="408.7" cy="125.4" r="6.5" fill="#4DBBD5"/><text x="427" y="131.9" font-size="18">C2</text><circle cx="408.7" cy="153.2" r="6.5" fill="#00A087"/><text x="427" y="159.7" font-size="18">C3</text><circle cx="408.7" cy="181" r="6.5" fill="#3C5488"/><text x="427" y="187.5" font-size="18">C4</text><circle cx="408.7" cy="208.8" r="6.5" fill="#F39B7F"/><text x="427" y="215.3" font-size="18">C5</text><circle cx="408.7" cy="236.6" r="6.5" fill="#8491B4"/><text x="427" y="243.1" font-size="18">C6</text><circle cx="408.7" cy="264.4" r="6.5" fill="#91D1C2"/><text x="427" y="270.9" font-size="18">C7</text><circle cx="408.7" cy="292.2" r="6.5" fill="#DC0000"/><text x="427" y="298.7" font-size="18">C8</text><rect x="475.5" y="42.5" width="184" height="184" fill="none" stroke="#000" stroke-width="3.2"/><g transform="translate(429.2 -11.3) scale(0.6)" stroke-linecap="round" fill="none" stroke-width="2.9"><use href="#pall" stroke="#d4d4d4"/><use href="#pp1" stroke="#7b5cf0"/></g><text x="651" y="220" font-size="25.5" text-anchor="end">CD161</text><rect x="475.5" y="246" width="184" height="184" fill="none" stroke="#000" stroke-width="3.2"/><g transform="translate(429.2 192.2) scale(0.6)" stroke-linecap="round" fill="none" stroke-width="2.9"><use href="#pall" stroke="#d4d4d4"/><use href="#pp2" stroke="#7b5cf0"/></g><text x="651" y="423.5" font-size="25.5" text-anchor="end">PD-1</text><path d="M960.3 115h0M933.4 182.3h0M907.5 288.3h0M954.8 316.1h0M943.1 189.5h0M1008.7 164.9h0M957.5 183.9h0M967.2 196.6h0M881.7 232.9h0M914.1 167.2h0M993.7 258.9h0M930.9 299.4h0M978.6 164.5h0M906 272.3h0M843.9 210.7h0M986.8 230h0M1012.7 170.4h0M970.6 234.9h0M943.7 203.1h0M919 250.9h0M1000.2 163.7h0M898.4 252h0M873.4 193.7h0M862.8 209.7h0M945.9 158.7h0M894.6 228.4h0M928.7 240.2h0M966.2 110.7h0M900 190h0M832.1 181.9h0M951.7 132.4h0M867.3 178.1h0M917.1 209.5h0M888.3 159.1h0M1001.8 135.4h0M931.7 132h0M932.7 277.3h0M861.3 217.3h0M1031.6 201.1h0M1031.2 182.1h0M954 305.2h0M1004.5 208.5h0M960.8 282.1h0M983.4 208.2h0M1035.1 189.3h0M977.5 137.4h0M1001.2 146.8h0M867.2 165.6h0M891 203.6h0M944.5 306.1h0M925.4 220.5h0M911.1 140.4h0M977.6 226.2h0M884.5 217.4h0M988.6 215h0M939.5 272.9h0M1021.3 200.2h0M951.3 214.5h0M927.9 257.5h0M913.9 220.8h0M971.5 299.7h0M939 315.1h0M1004.4 129.8h0M836.8 199.9h0M962.5 131.2h0M901.3 210.3h0M846.1 197.5h0M928.7 176.2h0M854.1 171.5h0M976.9 102.8h0M937.7 199.5h0M999.5 157.7h0M941.5 259.3h0M914.3 176.2h0M931.3 153.1h0M881.2 168.4h0M985.6 164.9h0M925.1 139.2h0M852.6 207.4h0M999.5 197.6h0M923.9 290.1h0M968.9 324.1h0M973.3 244.4h0M902.8 178.2h0M1011.5 252.4h0M874.2 154h0M876.8 203.9h0M880.6 180.2h0M855.3 214.3h0M829.3 190.1h0M945 219.9h0M983.5 249.4h0M899.3 173.3h0M1016.5 242.5h0M979.6 284.9h0M967.7 257.6h0M839.5 181.2h0M938.7 242.6h0M954.5 254.7h0M994.5 270.2h0M980.3 156.3h0M978.6 145.5h0M923.7 186.2h0M987.4 240.1h0M966.1 165.1h0M928.9 205.1h0M917.2 125.5h0M913.3 160h0M999.8 215.2h0M1018.8 164.9h0M892.6 196.7h0M866.6 159.4h0M1027.9 224.5h0M976.3 109.7h0M979.3 201.9h0M924.4 148.9h0M913.4 130.4h0M983.3 193.2h0M905 218.8h0M1009.7 147.9h0M901.7 200.8h0M1017.4 207.1h0M959.4 274h0M959 168.1h0M930.8 232.2h0M899 149.7h0M906.4 157.4h0M964.1 310.9h0M967.7 143.8h0M860.5 194.1h0M842.6 188.7h0M1025.8 174h0M982.5 105.6h0M963.4 185.3h0M873.7 179.1h0M853.4 182h0M982.8 304.8h0M882.2 161.6h0M898.6 156h0M908.7 211.7h0M950.1 173.6h0M990.9 116.5h0M982.9 292.9h0M943.3 173.3h0M997 248.4h0M1025.4 183.8h0M1010.5 201.5h0M947.5 240.8h0M867.9 236h0M960.4 145.1h0M994 224.2h0M900.6 224.7h0M904 163.4h0M894.9 214.2h0M842.4 163.4h0M991.8 149.3h0M902.8 292.8h0M906.4 232.2h0M907.7 249.7h0M912.7 199h0M986.6 277.5h0M979.5 277h0M823.7 178.9h0M984.8 134.8h0M857 158.7h0M967 304.1h0M1012.1 225.9h0M892.5 274h0M945.1 250.8h0M952.1 197.6h0M809 179.9h0M945.9 145.2h0M954 207.4h0M939.6 178.8h0M959 200.3h0M886.7 270.6h0M970.6 292.6h0M974.5 159.4h0M870.3 245.8h0M982.5 173.4h0M917.9 291.3h0M910.4 264.8h0M971 267.6h0M893.2 286.2h0M956.4 287.9h0M985.1 145.4h0M882.9 195.7h0M1033.3 214.1h0M1007 240.4h0M889.3 260.2h0M923.1 281.4h0M971.6 212.8h0M971.1 279.1h0M1018.7 213.5h0M889.7 173.4h0M962.9 268.8h0M1014.9 153h0M901.5 280.1h0M906.7 150.8h0M881.4 242.7h0M955.3 155.8h0M990 187.6h0M1027.9 217.6h0M934.6 263.1h0M900 273.6h0M906.5 258.8h0M917.9 227.5h0M890.8 245.1h0M936.3 127.1h0M1002.9 179.8h0M961.5 155.8h0M950.3 277.8h0M932.2 268.8h0M937.9 159.1h0M923.1 212.8h0M963.6 291.5h0M957 244.5h0M907 225.6h0M1001.5 191.1h0M925.9 160.7h0M1023.4 238.2h0M986.4 121.6h0M997.5 230.5h0M946.5 313.8h0M1037.2 207.6h0M978.7 117.7h0M955.1 261.3h0M999.1 116.6h0M881 265.9h0M940.7 165.5h0M885.9 237.5h0M937.6 281.5h0M917 145.8h0M993.1 203.9h0M1014.9 218.2h0M919.6 233.7h0M992.1 134.2h0M1010.5 210.1h0M990.2 196.2h0M938.5 298.4h0M959.3 324.7h0M946.4 272.5h0M833 172.7h0M919.8 164.1h0M831.2 164.8h0M996.7 176.6h0M941.7 130h0M1011.9 159.5h0M895 235h0M972.3 121.9h0M946.5 296.2h0M989.7 176.1h0M866.6 195.3h0M929.8 198h0M880.9 154h0M938.3 211.2h0M822.9 187.4h0M844.5 175.8h0M890.6 253.5h0M952.2 293.6h0M980.8 269.1h0M950.1 185.5h0M964 104.2h0M968.7 100.7h0M973.4 101.4h0M980.4 100h0M986.3 99h0M775.4 342.2h0M794.3 349.3h0M843.8 377.6h0M855.5 376.4h0M848 394.1h0M852 388.2h0M881.5 278.1h0M895.6 292.7h0M909.7 354h0M914.5 341.1h0" stroke="#E64B35" stroke-width="7.1" stroke-linecap="round"/><path d="M820.4 283.5h0M808.5 302.1h0M807.3 257.6h0M885.1 358.3h0M829.5 280.9h0M768.6 254.2h0M761 306h0M842.2 291.1h0M833 294.9h0M865.4 270.5h0M802.1 309.6h0M863.7 296.4h0M752.1 267.6h0M843.9 364.1h0M818.1 315.3h0M835.4 351.9h0M905.9 327.8h0M763.2 251.5h0M769.3 230.9h0M854.8 311.2h0M812.5 346.5h0M792.3 328h0M895.7 308h0M829.2 301.7h0M784.4 319.6h0M844 274.6h0M756.5 226h0M851.5 350.1h0M845.5 262.7h0M819.9 269.7h0M845.6 379.3h0M779.9 270.5h0M826.6 347.4h0M780 229.2h0M802.3 231.7h0M836.1 269.7h0M810.9 208.6h0M800.9 242.9h0M763.1 330.9h0M750.9 247.6h0M818.7 355.8h0M801.2 334h0M830.6 239.5h0M820.5 221.1h0M906.8 308.3h0M785.3 343.4h0M807.4 321.6h0M842.7 255.4h0M795 322.6h0M754.1 303.4h0M802.9 291.6h0M793.1 239.3h0M787.6 273.1h0M874.8 332.1h0M740.6 255.5h0M817 326.7h0M894.2 344.3h0M877.5 354.3h0M912.8 328.1h0M854.4 282.5h0M815.8 293.8h0M868.8 349.9h0M783.5 300.4h0M838.1 243.8h0M744.5 264.4h0M812.5 234.6h0M793 222.2h0M869.6 324.1h0M779 242.3h0M797.5 351.8h0M838.9 341.3h0M765.7 323.4h0M744.7 249.7h0M771.1 330.1h0M795.7 285.6h0M924.7 339.4h0M754 289.4h0M910.7 319.1h0M854.3 374.6h0M780.5 222.6h0M768.9 317.9h0M893.5 337.8h0M796.1 231.3h0M804.4 354.8h0M842.5 316h0M891.4 330.8h0M885.1 277.3h0M798.4 279.9h0M861.7 353.8h0M790.1 280.7h0M863.7 312.4h0M790.4 305.1h0M864.1 281.5h0M905 300.7h0M776.8 305.4h0M839.4 332.5h0M808.7 228.8h0M869.7 277.4h0M904.7 314.7h0M799 341.9h0M875.5 377.1h0M770.3 281.4h0M768.8 301.9h0M799.2 224.9h0M830 362.8h0M824.9 226.3h0M747.7 259h0M765.8 265h0M823.4 306.3h0M808 263.6h0M785.8 291.6h0M901.6 343.9h0M855.3 317.3h0M803.1 249.9h0M791.7 341.8h0M875.9 293.3h0M855.7 263h0M826 266.2h0M791.3 255h0M873.4 301.3h0M815.8 361.9h0M849.5 361.1h0M858.4 273.5h0M744.1 275.2h0M822.5 198.7h0M851.6 334.3h0M763.2 223.3h0M837.1 308.5h0M840.2 321.6h0M870.5 341.8h0M820.6 249.2h0M824.9 321.2h0M882.6 265.3h0M761.8 230h0M887.7 283.9h0M783.7 278.9h0M777.7 234.9h0M879.7 318.8h0M871.4 364.5h0M816.2 216.1h0M759.2 277.9h0M903.7 335.7h0M838.1 300.9h0M866.4 383.6h0M807.8 269.7h0M812.2 223.4h0M782.2 312.7h0M771.3 218.3h0M857.9 300.9h0M897.9 293.5h0M876.6 268.4h0M776.1 313h0M824.5 333.9h0M833.9 287.1h0M762.7 244.1h0M888.2 295.6h0M855.9 360.1h0M886.1 314.1h0M920.7 332h0M907.2 340.6h0M824.5 366.1h0M862.5 337.5h0M881.6 343.1h0M755.8 238.2h0M870.4 288.3h0M813.8 307.6h0M797.6 295h0M786.1 246.2h0M899 302.2h0M822.7 289.5h0M863.2 325h0M789.2 262.5h0M848.5 299.3h0M780.8 337.8h0M848.1 284.2h0M801.2 267.6h0M901.8 287.8h0M761.8 214.1h0M771.2 273.2h0M843.2 327.6h0M739 271.2h0M833.1 251.8h0M852.5 328.2h0M771.3 238h0M883.6 369.5h0M919.6 324.5h0M821.5 241.3h0M865.4 331.7h0M886.4 326.5h0M768.6 247.9h0M809.2 291.5h0M781.5 263.4h0M833.9 325.3h0M865.1 302.5h0M819.5 339.5h0M808.8 338.8h0M838.2 276.4h0M786.6 227h0M844.1 353.8h0M760 294.6h0M856.1 344.8h0M879.3 285.9h0M878.7 325.6h0M754.5 254.7h0M857.6 380.8h0M882.7 271.4h0M914.7 337.8h0M862.4 368.2h0M758.8 260.8h0M785.8 236.8h0M744.4 281.2h0M797 304.6h0M799 185.5h0M824.9 196.1h0M875.6 160.8h0M900.3 167.4h0M903.9 214.5h0M881.5 222h0M879.1 262.1h0M929.1 290.4h0M948.6 324.6h0M952.2 326.2h0M921.5 326.9h0M927.7 341.1h0M733 272.7h0M737.7 303.3h0" stroke="#4DBBD5" stroke-width="7.1" stroke-linecap="round"/><rect x="718.8" y="84.8" width="336.6" height="324.4" fill="none" stroke="#7f7f7f" stroke-width="1.4"/><text x="889.2" y="74" font-size="26" text-anchor="middle">CD8+PD-1+ T cells</text><circle cx="741" cy="106" r="6.5" fill="#E64B35"/><circle cx="741" cy="133.5" r="6.5" fill="#4DBBD5"/><text x="764" y="112" font-size="14.5">CD161-</text><text x="764" y="139.5" font-size="14.5">CD161+</text><text x="726.5" y="423" font-size="11.5" text-anchor="middle" fill="#4d4d4d">−15</text><text x="780.5" y="423" font-size="11.5" text-anchor="middle" fill="#4d4d4d">−10</text><text x="834.6" y="423" font-size="11.5" text-anchor="middle" fill="#4d4d4d">−5</text><text x="888.6" y="423" font-size="11.5" text-anchor="middle" fill="#4d4d4d">0</text><text x="942.6" y="423" font-size="11.5" text-anchor="middle" fill="#4d4d4d">5</text><text x="996.7" y="423" font-size="11.5" text-anchor="middle" fill="#4d4d4d">10</text><text x="1050.8" y="423" font-size="11.5" text-anchor="middle" fill="#4d4d4d">15</text><text x="713" y="151.9" font-size="11.5" text-anchor="end" fill="#4d4d4d">10</text><text x="713" y="253.2" font-size="11.5" text-anchor="end" fill="#4d4d4d">0</text><text x="713" y="354.5" font-size="11.5" text-anchor="end" fill="#4d4d4d">−10</text><path d="M726.5 409.5v4M780.5 409.5v4M834.6 409.5v4M888.6 409.5v4M942.6 409.5v4M996.7 409.5v4M1050.8 409.5v4M718.5 147.9h-4M718.5 249.2h-4M718.5 350.5h-4" stroke="#4d4d4d" stroke-width="1.2"/><text x="891" y="438" font-size="19" text-anchor="middle">tSNE1</text><text x="700" y="247" font-size="19" text-anchor="middle" transform="rotate(-90 700 247)">tSNE2</text><path d="M1191.4 29.5V427.5M1246.9 29.5V427.5M1302.4 29.5V427.5M1357.9 29.5V427.5M1413.5 29.5V427.5M1469 29.5V427.5M1524.5 29.5V427.5M1175 409.4H1540.5M1175 363.4H1540.5M1175 317.4H1540.5M1175 271.5H1540.5M1175 225.5H1540.5M1175 179.5H1540.5M1175 133.5H1540.5M1175 87.6H1540.5M1175 41.6H1540.5" stroke="#dcdcdc" stroke-width="2.4" fill="none"/><path d="M1246.9 29.5V427.5M1357.9 29.5V427.5M1175 397.5H1540.5" stroke="#111" stroke-width="1.3" stroke-dasharray="1.6 3.2" fill="none"/><path d="M1265.2 275h0M1256.2 307.9h0M1270.3 315.4h0M1269.6 330h0M1274.4 334.8h0M1270.8 348.1h0M1273.2 359.5h0M1272 369.9h0M1272.5 385.4h0M1267.6 398.7h0M1233.2 398.2h0M1214.6 409.6h0M1224.3 409.6h0M1236.4 409.6h0M1241.7 409.6h0M1245.4 409.6h0M1252.6 404.8h0M1255 409.1h0M1258.7 409.6h0M1262.3 409.6h0M1265.9 409.6h0M1268.3 409.6h0M1333.7 362.6h0M1333 384.9h0M1353.1 320.8h0M1350.6 329.2h0M1356.2 338.9h0M1356.2 367.5h0M1350.6 376.4h0M1341.7 388.5h0M1347 391h0M1351.8 387.3h0M1338.5 397h0M1344.6 397h0M1349.4 399.4h0M1354.3 397h0M1334.9 404.3h0M1339.7 404.3h0M1344.6 404.3h0M1349.4 404.3h0M1354.3 404.3h0M1330.1 409.1h0M1334.9 409.6h0M1339.7 409.6h0M1344.6 409.6h0M1349.4 409.6h0M1354.3 407.9h0M1361.5 408.6h0M1367.6 402.3h0M1362 398.7h0M1332.5 406.7h0M1347 407.9h0M1351.8 409.6h0M1337.3 400.6h0M1342.7 400.6h0M1348.2 402.3h0M1328.1 406.2h0M1257.5 372.8h0" stroke="#7f7f7f" stroke-width="7.4" stroke-linecap="round" fill="none"/><path d="M1202.3 251.1h0M1209 310.4h0M1241.2 335.8h0M1227.7 359h0M1202.8 366.3h0M1195 376.9h0M1221.6 375.2h0M1229.6 387.8h0M1215.6 392.7h0M1224.1 395.1h0" stroke="#d02a2a" stroke-width="7.4" stroke-linecap="round" fill="none"/><path d="M1405.1 249.8h0M1388.6 261h0M1386.2 291.7h0M1399 291.7h0M1358.6 296.6h0M1464.4 285.7h0M1485.5 310.6h0M1412.4 325.6h0M1438.3 324.4h0M1400.7 342.1h0M1405.8 348.6h0M1397.1 350.5h0M1506.8 351.5h0M1377.3 355.9h0M1366.4 360.7h0M1379.7 362.6h0M1361.5 363.1h0M1371.2 365.5h0M1388.2 365.5h0M1373.6 369.2h0M1366.4 371.6h0M1371.2 375.2h0M1389.4 374.5h0M1368.8 377.6h0M1361.5 377.6h0M1382.1 380.1h0M1373.6 383h0M1359.1 382.5h0M1364 384.9h0M1434.1 369.9h0M1366.4 389.7h0M1361.5 392.2h0M1365.2 394.6h0M1378.5 382.5h0M1370 368h0M1363.5 374.7h0M1360.3 387.8h0M1422.6 47.7h0M1494.7 131.6h0M1418.8 149.6h0M1427.2 199.9h0M1428.3 215.9h0" stroke="#3a5fcd" stroke-width="7.4" stroke-linecap="round" fill="none"/><path d="M1422.6 47.7L1487.5 41.2M1427.2 200L1482.5 192.7M1399 291.7L1403.9 277.9M1485.4 310.6L1500 282M1405.8 348.6L1430.5 312.3M1506.7 351.5L1512.8 330.4M1434.1 369.9L1447 355.1M1389.4 372.3L1471.6 367.5M1380.9 378.1L1422 389M1202.7 366.3L1263.5 355.1M1195 376.9L1250.2 378.4" stroke="#111" stroke-width="1.5" fill="none"/><text x="1490" y="48.5" font-size="17">CCL5</text><text x="1485" y="125" font-size="17">GZMB</text><text x="1485" y="199" font-size="17">GZMA</text><text x="1407.5" y="279.6" font-size="17">GZMH</text><text x="1470" y="278.4" font-size="17">CXCL13</text><text x="1433.6" y="317" font-size="17">TIGIT</text><text x="1491" y="326.8" font-size="17">GNLY</text><text x="1434.6" y="350.5" font-size="17">CCL3</text><text x="1474.8" y="373.3" font-size="17">LAG3</text><text x="1425" y="394" font-size="17">CD27</text><text x="1265.9" y="361.2" font-size="17">KLRB1</text><text x="1252.6" y="384.2" font-size="17">IL7R</text><rect x="1175" y="29.5" width="365.5" height="398.0" fill="none" stroke="#4d4d4d" stroke-width="1.5"/><text x="1191.4" y="446.5" font-size="15" text-anchor="middle" fill="#222">−1</text><text x="1302.4" y="446.5" font-size="15" text-anchor="middle" fill="#222">0</text><text x="1413.5" y="446.5" font-size="15" text-anchor="middle" fill="#222">1</text><text x="1524.5" y="446.5" font-size="15" text-anchor="middle" fill="#222">2</text><text x="1167.5" y="414.7" font-size="15" text-anchor="end" fill="#222">0</text><text x="1167.5" y="322.8" font-size="15" text-anchor="end" fill="#222">10</text><text x="1167.5" y="230.8" font-size="15" text-anchor="end" fill="#222">20</text><text x="1167.5" y="138.8" font-size="15" text-anchor="end" fill="#222">30</text><text x="1167.5" y="46.9" font-size="15" text-anchor="end" fill="#222">40</text><path d="M1191.4 427.5v4M1302.4 427.5v4M1413.5 427.5v4M1524.5 427.5v4M1175 409.4h-4M1175 317.4h-4M1175 225.5h-4M1175 133.5h-4M1175 41.6h-4" stroke="#333" stroke-width="1.2"/><text x="1358" y="466" font-size="22" text-anchor="middle">log2 (FoldChange of CD161-/CD161+)</text><text x="1145" y="229" font-size="22" text-anchor="middle" transform="rotate(-90 1145 229)">−log10 (Pvalue)</text><circle cx="1559.6" cy="58.4" r="4.6" fill="#d02a2a"/><circle cx="1559.6" cy="110.6" r="4.6" fill="#3a5fcd"/><circle cx="1559.6" cy="153.4" r="4.6" fill="#7f7f7f"/><text x="1578" y="53.4" font-size="17.2">CD161+</text><text x="1578" y="73.6" font-size="17.2">upregulation</text><text x="1578" y="105.7" font-size="17.2">CD161-</text><text x="1578" y="125.9" font-size="17.2">upregulation</text><text x="1575" y="159.5" font-size="17.2">NoSignificant</text><text x="1102" y="28" font-size="38" font-weight="bold">b</text><defs><filter id="hb" x="-0.01" y="-0.05" width="1.02" height="1.1"><feGaussianBlur stdDeviation="0.55 0"/></filter></defs><rect x="131.5" y="523" width="288" height="37.5" fill="#E64B35"/><rect x="419.5" y="523" width="221" height="37.5" fill="#4DBBD5"/><text x="276.3" y="551.5" font-size="26.3" text-anchor="middle">CD161-</text><text x="529.6" y="551.5" font-size="26.3" text-anchor="middle">CD161+</text><rect x="131.0" y="565.5" width="509.0" height="760.2" fill="#dcdcec"/><g filter="url(#hb)" transform="translate(131.0 565.5) scale(0.99804 1)" stroke-width="12.82" fill="none"><path d="M0 6.33h510" stroke="#d09a9a" stroke-dasharray="0 0 1 18 2 1 2 48 1 15 1 16 1 2 3 11 2 17 1 2 2 9 2 3 1 8 3 15 1 11 1 9 1 6 2 7 1 25 1 2 2 22 2 510"/><path d="M0 6.33h510" stroke="#bf7a7a" stroke-dasharray="0 1 1 37 1 37 2 24 1 38 2 24 1 49 3 510"/><path d="M0 6.33h510" stroke="#ebd2d8" stroke-dasharray="0 2 1 1 2 3 1 4 1 1 1 4 1 12 1 14 1 24 2 4 3 13 1 3 3 4 1 4 1 4 4 13 4 9 2 4 2 6 4 13 1 3 4 3 1 5 1 6 2 4 1 2 1 1 3 6 3 4 5 8 2 5 2 6 2 6 1 8 3 3 3 10 1 17 1 11 1 27 1 15 2 13 3 38 1 55 3 510"/><path d="M0 6.33h510" stroke="#ddb0b2" stroke-dasharray="0 3 1 2 3 6 1 1 2 13 2 4 1 2 1 1 1 2 2 2 5 2 4 1 6 1 3 4 1 2 1 3 4 2 7 1 3 4 1 1 1 6 4 4 1 2 10 15 1 7 3 5 3 4 2 5 1 6 1 1 1 1 2 1 1 2 3 2 1 8 1 1 1 8 1 12 3 7 3 1 1 7 1 5 3 2 1 3 2 13 2 47 1 38 2 23 1 2 1 9 2 23 4 4 1 5 2 8 4 510"/><path d="M0 6.33h510" stroke="#c8c8e4" stroke-dasharray="0 10 4 22 2 2 1 3 2 9 2 16 1 37 1 80 1 35 1 8 5 18 2 11 1 3 1 5 3 16 1 1 1 31 4 2 2 15 2 5 1 6 1 24 1 4 2 6 1 3 2 5 1 1 1 21 4 3 1 2 1 2 1 12 1 12 1 1 1 510"/><path d="M0 6.33h510" stroke="#9898cf" stroke-dasharray="0 24 7 119 3 135 3 16 2 18 1 17 6 30 1 32 1 78 1 2 1 510"/><path d="M0 6.33h510" stroke="#efe6ef" stroke-dasharray="0 31 1 3 1 6 1 5 1 12 1 6 1 18 1 50 3 5 1 27 4 2 2 12 1 5 1 3 4 18 2 19 1 4 2 5 1 6 1 1 3 21 1 2 1 2 4 3 1 9 8 1 3 4 1 8 2 2 1 7 4 7 1 1 1 10 3 11 1 1 4 9 2 1 3 6 5 8 3 8 3 11 1 10 3 5 5 3 2 2 1 2 1 2 1 15 2 510"/><path d="M0 6.33h510" stroke="#4e4aa0" stroke-dasharray="0 294 1 14 2 17 1 50 2 6 1 48 1 23 1 8 1 3 1 16 2 2 1 9 3 510"/><path d="M0 6.33h510" stroke="#6c68b4" stroke-dasharray="0 296 1 9 1 25 3 26 2 1 1 4 4 12 2 1 1 2 1 4 2 2 2 24 1 23 1 3 1 10 1 5 1 12 1 12 6 510"/><path d="M0 19.0h510" stroke="#ddb0b2" stroke-dasharray="0 0 1 3 2 1 1 9 1 3 1 2 1 2 2 1 1 5 1 3 3 1 2 24 7 1 1 3 4 1 4 1 3 6 4 2 6 1 1 3 2 7 5 2 1 8 4 3 1 5 1 2 6 3 1 1 1 4 1 1 1 1 2 11 1 1 1 3 2 2 1 3 3 1 1 1 3 1 7 9 6 2 1 8 2 26 1 6 1 1 1 510"/><path d="M0 19.0h510" stroke="#ebd2d8" stroke-dasharray="0 1 2 3 1 4 1 19 1 2 2 1 3 3 1 2 2 3 1 8 1 2 6 10 3 4 1 9 4 6 1 6 1 3 1 3 6 8 1 6 1 14 2 7 1 4 1 1 1 2 1 6 3 5 1 3 2 7 2 3 1 1 1 11 2 14 1 4 3 4 5 2 3 9 4 4 6 1 1 1 1 2 7 70 4 19 2 510"/><path d="M0 19.0h510" stroke="#efe6ef" stroke-dasharray="0 3 1 12 1 8 2 2 1 3 1 19 6 2 1 15 1 13 1 13 1 14 1 11 2 4 2 1 1 13 1 9 1 8 1 3 1 18 1 33 1 6 1 9 1 18 2 48 1 13 8 99 1 510"/><path d="M0 19.0h510" stroke="#d09a9a" stroke-dasharray="0 8 3 11 2 24 1 1 1 11 1 6 1 30 1 14 2 19 1 10 3 1 4 12 1 1 1 11 1 4 3 4 1 7 1 13 1 31 1 9 1 3 6 2 1 4 3 510"/><path d="M0 19.0h510" stroke="#bf7a7a" stroke-dasharray="0 12 4 2 3 31 1 42 1 44 1 41 1 17 1 24 6 510"/><path d="M0 19.0h510" stroke="#c8c8e4" stroke-dasharray="0 32 1 16 1 9 1 77 1 34 1 16 2 12 1 37 3 12 1 31 2 7 20 1 2 3 8 8 6 2 1 11 8 4 16 2 1 2 26 1 19 1 44 3 2 1 3 1 4 1 12 510"/><path d="M0 19.0h510" stroke="#b0b0da" stroke-dasharray="0 320 3 22 2 1 11 28 2 94 3 11 1 510"/><path d="M0 19.0h510" stroke="#9898cf" stroke-dasharray="0 418 1 69 1 3 1 510"/><path d="M0 31.68h510" stroke="#efe6ef" stroke-dasharray="0 0 2 30 1 2 2 13 2 76 1 6 1 4 3 5 3 22 2 5 1 21 1 13 1 9 2 2 2 12 2 24 1 35 6 12 1 10 1 2 1 5 5 3 1 4 1 1 1 5 1 29 4 7 1 16 1 7 1 1 1 6 3 3 1 1 2 1 2 14 2 1 2 6 5 13 3 5 1 510"/><path d="M0 31.68h510" stroke="#ddb0b2" stroke-dasharray="0 2 1 6 1 8 5 4 2 10 3 4 1 1 1 3 2 2 3 6 1 7 1 1 1 1 2 1 1 3 2 2 1 1 2 9 2 2 2 1 1 1 1 9 2 3 1 3 1 2 3 1 2 1 1 11 1 1 1 11 4 6 1 5 1 5 1 1 1 1 1 7 2 2 1 1 3 9 2 2 2 20 1 3 1 1 1 5 3 2 5 4 1 1 1 1 1 8 2 33 1 44 1 47 5 45 1 44 1 510"/><path d="M0 31.68h510" stroke="#ebd2d8" stroke-dasharray="0 3 1 6 1 15 1 17 1 2 1 1 1 9 2 1 3 1 4 1 1 9 2 3 1 5 4 3 1 9 1 3 3 6 1 8 1 15 1 4 1 1 3 1 2 11 1 4 2 1 1 5 2 17 1 19 2 8 1 1 1 1 2 6 1 4 4 20 5 1 1 2 2 1 1 3 1 22 2 44 1 18 1 63 3 41 1 510"/><path d="M0 31.68h510" stroke="#d09a9a" stroke-dasharray="0 4 4 3 1 2 4 7 1 3 3 1 1 4 1 3 2 1 1 8 1 17 1 1 1 1 1 2 1 3 1 3 1 8 1 3 1 10 2 4 3 6 2 2 1 12 2 25 1 1 1 10 2 3 1 3 7 2 1 12 2 3 2 7 2 7 1 2 2 6 1 1 1 7 2 5 4 17 1 510"/><path d="M0 31.68h510" stroke="#6c68b4" stroke-dasharray="0 8 1 14 1 37 1 45 1 8 1 40 1 11 1 8 1 53 1 41 1 13 3 21 1 17 3 8 3 11 2 1 1 10 3 6 1 9 1 5 1 6 1 7 1 24 2 11 1 5 1 3 1 18 2 6 3 1 3 8 1 2 1 3 4 510"/><path d="M0 31.68h510" stroke="#bf7a7a" stroke-dasharray="0 12 1 11 1 30 1 14 1 32 1 34 1 6 2 61 6 66 1 510"/><path d="M0 31.68h510" stroke="#c8c8e4" stroke-dasharray="0 13 1 20 1 2 1 51 1 14 1 55 5 17 1 7 1 44 1 6 1 76 2 2 1 2 2 6 1 14 1 4 1 6 1 2 1 7 6 9 1 11 2 24 6 5 2 12 1 5 1 15 4 7 1 9 1 6 2 510"/><path d="M0 31.68h510" stroke="#9898cf" stroke-dasharray="0 97 2 24 2 98 1 9 1 38 1 40 1 4 1 3 1 5 2 6 2 12 2 38 1 1 2 8 4 9 1 42 2 2 4 510"/><path d="M0 31.68h510" stroke="#4e4aa0" stroke-dasharray="0 298 6 12 1 8 1 7 1 29 1 16 1 35 7 9 1 5 2 14 1 14 1 22 1 10 1 510"/><path d="M0 44.34h510" stroke="#ebd2d8" stroke-dasharray="0 0 2 2 2 17 3 13 1 10 3 1 2 2 2 3 3 6 1 9 7 1 1 4 1 18 1 16 2 1 2 1 1 9 1 7 4 1 2 17 4 7 1 12 1 19 7 6 1 4 1 2 2 1 1 17 1 7 1 7 1 4 1 55 3 14 2 8 2 21 1 10 5 7 1 510"/><path d="M0 44.34h510" stroke="#efe6ef" stroke-dasharray="0 2 1 23 1 2 1 1 5 8 1 15 3 8 1 2 1 4 1 22 1 4 1 14 1 1 3 18 1 4 1 25 2 26 1 37 2 64 1 2 5 66 2 46 1 26 1 24 1 510"/><path d="M0 44.34h510" stroke="#d09a9a" stroke-dasharray="0 3 1 3 1 2 1 6 2 27 4 27 2 13 2 2 1 13 2 1 1 1 1 1 2 45 1 34 1 2 1 6 1 2 4 1 1 4 1 16 2 14 3 8 3 1 2 5 2 13 1 32 1 14 1 20 4 66 3 11 2 2 1 47 3 510"/><path d="M0 44.34h510" stroke="#ddb0b2" stroke-dasharray="0 6 1 4 5 4 3 17 1 1 2 1 1 7 1 2 2 8 5 9 2 12 1 6 1 14 1 11 3 2 1 4 7 6 1 11 1 11 1 7 1 4 1 4 1 6 2 3 4 2 1 4 1 3 2 24 1 2 3 6 2 1 1 7 1 2 1 3 1 3 1 12 1 29 1 41 4 26 6 1 1 15 1 3 4 14 1 11 1 15 1 3 4 8 1 5 1 510"/><path d="M0 44.34h510" stroke="#c8c8e4" stroke-dasharray="0 8 2 6 1 2 1 10 1 5 3 2 1 31 1 15 1 1 1 7 2 2 4 5 1 6 3 1 1 3 1 18 1 2 1 3 2 17 3 9 4 1 1 1 2 1 5 11 1 7 2 10 6 1 2 9 1 13 2 10 1 7 4 1 5 2 6 3 2 2 1 14 1 3 2 6 2 1 1 7 3 6 3 1 1 12 5 8 8 1 2 19 1 4 3 14 3 2 3 4 1 20 3 11 1 1 1 5 3 1 1 5 9 510"/><path d="M0 44.34h510" stroke="#b0b0da" stroke-dasharray="0 27 2 68 2 9 2 26 1 25 1 2 7 6 1 73 3 5 1 3 1 10 1 3 1 20 3 3 1 2 2 5 6 6 6 4 2 1 1 6 6 3 1 18 2 35 1 12 4 4 2 3 1 4 1 2 1 2 2 6 10 8 6 6 2 4 1 1 1 3 1 510"/><path d="M0 44.34h510" stroke="#9898cf" stroke-dasharray="0 75 1 72 1 3 1 152 1 18 1 11 1 41 4 19 1 6 5 3 2 35 4 29 2 510"/><path d="M0 44.34h510" stroke="#bf7a7a" stroke-dasharray="0 76 1 82 1 510"/><path d="M0 57.02h510" stroke="#ebd2d8" stroke-dasharray="0 0 4 3 2 3 1 1 3 2 1 6 1 2 5 4 6 6 1 4 1 7 1 4 1 1 12 4 2 15 4 7 2 11 1 1 5 8 1 5 1 4 3 11 1 10 1 5 5 4 1 9 1 8 4 4 1 2 4 9 1 7 3 5 2 16 1 1 2 3 1 1 2 8 2 26 1 3 6 2 1 14 4 4 5 11 2 101 1 7 5 6 2 510"/><path d="M0 57.02h510" stroke="#d09a9a" stroke-dasharray="0 4 2 4 2 22 1 19 1 7 1 3 2 17 1 6 1 3 1 16 1 26 2 1 4 13 1 1 1 36 4 13 1 22 1 35 1 6 1 18 3 148 1 6 3 12 1 510"/><path d="M0 57.02h510" stroke="#bf7a7a" stroke-dasharray="0 6 1 44 2 30 1 13 1 3 1 16 1 33 1 69 1 11 1 50 3 510"/><path d="M0 57.02h510" stroke="#efe6ef" stroke-dasharray="0 9 1 15 1 11 1 31 1 64 2 3 1 11 1 13 1 17 1 5 1 4 1 1 1 7 1 13 1 14 1 6 3 11 2 18 1 109 1 40 1 1 2 4 1 4 2 15 2 43 1 3 1 510"/><path d="M0 57.02h510" stroke="#c8c8e4" stroke-dasharray="0 13 1 6 5 11 1 11 2 3 1 3 5 3 1 18 1 4 3 2 2 2 2 2 1 13 1 2 2 26 1 1 2 5 3 2 1 1 2 1 1 1 8 3 1 11 1 13 3 9 1 3 1 6 1 2 1 24 2 4 1 1 2 10 1 4 1 1 2 3 1 2 6 18 1 4 1 6 1 3 9 17 2 7 2 7 2 17 2 1 2 1 1 4 1 11 1 6 1 1 1 2 3 2 3 3 1 1 10 5 2 3 2 6 1 4 2 20 3 2 2 1 5 510"/><path d="M0 57.02h510" stroke="#b0b0da" stroke-dasharray="0 17 2 158 1 41 1 12 1 45 1 21 1 18 1 10 1 11 2 4 2 9 1 10 4 3 1 3 1 17 1 6 8 1 1 4 4 29 2 11 1 2 1 3 1 10 6 5 2 4 1 510"/><path d="M0 57.02h510" stroke="#ddb0b2" stroke-dasharray="0 27 2 6 1 8 4 16 1 17 1 5 1 4 1 6 1 7 5 4 1 3 6 1 1 7 3 20 1 16 1 5 1 7 1 1 1 2 1 1 2 9 4 15 1 1 2 4 1 1 1 5 1 3 5 6 4 1 1 2 4 1 1 25 3 28 1 12 1 8 2 8 6 16 2 4 6 22 1 47 2 1 2 9 1 13 3 510"/><path d="M0 57.02h510" stroke="#9898cf" stroke-dasharray="0 56 1 50 1 72 2 56 1 65 3 3 5 1 1 1 1 21 1 33 1 3 3 4 3 8 1 4 2 15 2 12 1 4 1 3 1 30 1 4 1 510"/><path d="M0 57.02h510" stroke="#6c68b4" stroke-dasharray="0 307 3 93 2 9 1 510"/><path d="M0 69.69h510" stroke="#d09a9a" stroke-dasharray="0 0 1 1 1 9 7 5 1 6 2 9 1 12 1 24 3 3 1 4 1 12 1 23 1 1 2 2 1 3 1 1 1 2 1 15 4 3 2 12 1 6 2 6 1 40 3 10 1 1 1 6 1 15 1 2 1 7 3 63 1 40 1 75 1 33 2 510"/><path d="M0 69.69h510" stroke="#ddb0b2" stroke-dasharray="0 1 1 4 2 1 1 1 1 8 4 15 2 6 5 5 1 1 5 1 2 4 4 1 2 7 1 1 1 2 1 1 1 1 5 1 1 2 1 12 1 1 3 1 2 2 2 1 1 2 1 2 3 3 1 16 1 4 3 2 4 4 1 2 1 4 3 7 1 3 3 1 1 3 1 9 6 12 2 10 1 1 1 1 1 2 2 29 1 4 1 21 1 3 3 34 1 7 1 4 3 15 6 18 5 31 5 38 2 9 1 510"/><path d="M0 69.69h510" stroke="#ebd2d8" stroke-dasharray="0 3 3 4 1 19 1 2 4 6 1 8 3 1 1 1 1 9 2 8 2 3 2 16 2 6 4 20 1 10 1 4 4 1 4 14 3 2 1 18 1 14 5 14 3 7 3 4 1 7 3 1 5 11 1 33 2 1 2 44 1 47 1 34 1 15 3 18 3 11 4 510"/><path d="M0 69.69h510" stroke="#efe6ef" stroke-dasharray="0 8 1 10 1 17 2 5 3 17 1 28 1 5 1 5 4 6 1 1 1 3 1 3 1 13 1 2 1 2 4 4 1 21 1 5 3 17 1 1 3 22 2 3 1 11 1 18 10 2 1 1 1 1 2 53 11 71 4 83 4 510"/><path d="M0 69.69h510" stroke="#9898cf" stroke-dasharray="0 25 1 88 1 82 1 41 1 42 1 38 1 48 1 18 1 1 1 41 1 38 1 3 2 510"/><path d="M0 69.69h510" stroke="#bf7a7a" stroke-dasharray="0 26 4 40 1 4 1 102 1 13 2 32 2 15 2 7 1 30 1 510"/><path d="M0 69.69h510" stroke="#c8c8e4" stroke-dasharray="0 41 1 25 1 20 2 23 1 10 1 64 3 15 4 11 4 53 1 10 2 8 6 8 1 5 1 1 5 2 6 11 5 2 5 14 3 3 5 7 1 2 2 6 3 1 1 6 5 9 4 7 4 7 4 1 4 9 2 1 3 1 3 5 5 22 2 510"/><path d="M0 69.69h510" stroke="#b0b0da" stroke-dasharray="0 288 1 3 8 6 3 18 1 31 1 1 4 3 2 1 1 3 3 17 6 3 1 16 5 4 3 1 3 5 1 9 1 7 6 22 4 4 1 2 3 510"/><path d="M0 69.69h510" stroke="#6c68b4" stroke-dasharray="0 318 2 8 1 169 1 510"/><path d="M0 82.36h510" stroke="#9898cf" stroke-dasharray="0 0 1 20 1 155 2 49 1 18 1 6 1 44 1 14 2 12 1 43 4 6 1 68 1 26 1 9 1 510"/><path d="M0 82.36h510" stroke="#ddb0b2" stroke-dasharray="0 1 3 7 1 3 1 2 1 3 1 2 3 1 2 2 5 9 1 1 5 16 1 6 1 4 1 1 5 5 2 9 4 3 1 5 1 2 1 10 7 2 1 2 1 9 1 1 1 5 5 1 1 1 4 5 6 1 1 2 3 3 1 2 1 2 1 1 1 5 4 1 1 6 5 12 1 6 2 3 4 1 2 2 2 4 2 12 1 3 1 510"/><path d="M0 82.36h510" stroke="#efe6ef" stroke-dasharray="0 4 2 2 1 4 1 55 1 31 1 1 2 8 3 8 1 21 1 13 2 23 1 13 1 13 1 5 2 8 1 10 1 3 1 3 1 9 1 2 1 14 2 31 4 3 2 3 2 20 2 19 3 16 1 17 1 2 1 1 3 3 2 2 1 1 3 17 1 1 3 3 5 8 1 25 1 1 1 1 5 2 1 10 2 510"/><path d="M0 82.36h510" stroke="#bf7a7a" stroke-dasharray="0 6 1 7 1 1 1 11 1 27 5 132 1 76 6 510"/><path d="M0 82.36h510" stroke="#d09a9a" stroke-dasharray="0 7 1 1 2 1 1 6 2 20 4 20 1 5 2 20 1 8 1 8 1 10 1 19 2 1 1 1 4 4 1 1 1 11 1 4 1 21 1 19 1 9 2 2 1 5 2 3 1 45 1 510"/><path d="M0 82.36h510" stroke="#ebd2d8" stroke-dasharray="0 17 1 5 1 14 3 4 2 1 1 12 4 1 3 4 4 6 1 5 4 3 5 15 2 1 1 5 7 8 1 10 3 4 2 7 1 7 2 10 2 11 1 1 1 1 2 2 1 8 2 12 5 3 1 2 2 5 1 7 1 4 3 2 3 8 1 1 3 1 3 16 5 5 1 21 1 40 1 19 1 24 14 17 1 50 1 510"/><path d="M0 82.36h510" stroke="#c8c8e4" stroke-dasharray="0 24 1 6 2 21 2 22 4 41 1 15 1 54 1 2 1 103 2 17 1 8 1 6 2 4 1 8 9 3 1 3 1 10 1 5 1 5 5 2 2 3 2 41 1 10 2 37 1 2 4 510"/><path d="M0 82.36h510" stroke="#6c68b4" stroke-dasharray="0 109 2 9 1 71 1 13 2 7 1 73 2 7 1 1 1 17 2 3 1 6 5 3 3 4 2 3 1 9 1 16 1 1 1 15 1 3 2 8 1 1 1 5 1 17 3 15 1 13 2 7 2 1 6 12 1 510"/><path d="M0 82.36h510" stroke="#4e4aa0" stroke-dasharray="0 291 6 11 1 18 1 33 1 18 1 24 1 4 1 33 1 15 1 8 4 1 1 11 1 19 1 2 1 510"/><path d="M0 95.03h510" stroke="#a85656" stroke-dasharray="0 0 1 26 1 69 1 4 2 2 1 49 1 5 1 2 1 4 1 21 1 42 1 3 2 19 1 219 2 510"/><path d="M0 95.03h510" stroke="#ddb0b2" stroke-dasharray="0 4 1 3 1 10 2 21 1 9 2 10 1 3 2 19 1 3 4 4 1 8 1 5 1 7 1 6 1 2 2 8 3 5 1 27 1 31 1 29 1 13 1 2 1 2 1 7 1 8 1 2 3 13 1 87 2 510"/><path d="M0 95.03h510" stroke="#d09a9a" stroke-dasharray="0 6 2 9 2 30 1 10 1 1 1 2 2 25 1 18 1 7 1 3 1 2 2 1 1 21 1 1 1 9 1 12 1 8 1 35 2 20 1 2 2 13 1 3 2 6 1 19 1 26 2 104 1 510"/><path d="M0 95.03h510" stroke="#ebd2d8" stroke-dasharray="0 22 2 104 1 1 1 105 2 12 2 20 1 12 1 510"/><path d="M0 95.03h510" stroke="#8f3a3a" stroke-dasharray="0 32 1 510"/><path d="M0 95.03h510" stroke="#bf7a7a" stroke-dasharray="0 33 2 13 1 14 1 3 1 2 2 16 1 10 1 15 1 1 2 6 1 7 1 8 2 30 1 6 4 59 2 2 2 4 2 11 2 2 1 6 1 1 1 510"/><path d="M0 95.03h510" stroke="#efe6ef" stroke-dasharray="0 35 1 7 1 46 2 22 1 39 2 78 1 18 1 9 1 510"/><path d="M0 107.69h510" stroke="#c8c8e4" stroke-dasharray="0 0 2 2 1 18 1 5 1 4 1 3 2 2 1 9 1 7 2 19 2 13 1 4 10 11 1 1 1 2 2 1 2 4 1 2 1 1 3 9 1 1 7 2 2 1 1 3 3 4 1 19 1 6 2 24 1 7 1 7 2 9 1 1 2 4 1 4 1 7 1 4 4 1 1 9 1 4 2 1 4 1 7 8 1 1 1 3 1 2 5 1 4 8 1 21 2 7 1 10 2 5 1 4 1 2 2 4 1 10 6 11 8 3 3 32 3 1 2 3 5 2 3 510"/><path d="M0 107.69h510" stroke="#b0b0da" stroke-dasharray="0 2 2 43 1 50 3 18 2 2 1 27 1 35 1 12 1 23 2 6 1 57 1 1 1 9 1 3 1 4 1 7 8 3 3 8 1 5 3 8 2 3 3 5 3 4 1 7 1 2 7 4 3 7 1 10 2 4 1 7 1 4 1 1 3 8 1 7 3 7 1 1 2 2 1 9 4 7 1 510"/><path d="M0 107.69h510" stroke="#ebd2d8" stroke-dasharray="0 5 1 3 1 8 4 21 4 7 5 4 6 6 6 2 2 31 2 16 2 18 1 8 1 5 2 4 3 6 3 1 7 2 1 1 1 1 4 2 9 1 2 3 2 9 1 4 1 5 3 4 7 14 2 1 1 6 1 14 1 52 4 3 1 2 3 42 1 32 1 25 1 1 5 23 1 4 1 510"/><path d="M0 107.69h510" stroke="#ddb0b2" stroke-dasharray="0 6 3 1 1 5 1 5 1 4 1 5 1 1 3 11 2 2 1 5 1 13 2 10 1 1 5 3 1 1 1 23 1 4 1 13 1 3 1 1 5 15 1 1 1 5 1 4 1 16 1 19 1 3 1 6 3 13 1 18 3 30 2 3 1 34 1 19 1 14 1 3 2 3 6 13 2 7 1 6 3 7 1 29 1 4 1 18 9 510"/><path d="M0 107.69h510" stroke="#d09a9a" stroke-dasharray="0 11 4 9 3 4 1 40 1 13 1 38 1 3 1 32 1 17 4 37 1 18 3 7 1 26 2 22 1 1 1 52 1 52 1 31 1 30 1 510"/><path d="M0 107.69h510" stroke="#efe6ef" stroke-dasharray="0 15 1 1 1 12 1 1 1 7 2 6 1 2 1 10 1 8 1 40 4 21 2 6 1 49 1 23 1 6 1 3 1 3 4 11 1 9 1 5 1 2 3 3 1 1 1 3 2 1 1 4 1 77 4 36 1 16 1 1 2 10 1 1 1 15 1 49 2 510"/><path d="M0 107.69h510" stroke="#bf7a7a" stroke-dasharray="0 28 1 41 1 40 1 6 1 33 1 114 1 510"/><path d="M0 107.69h510" stroke="#9898cf" stroke-dasharray="0 69 1 22 3 37 2 157 1 1 2 3 1 35 1 11 1 40 2 15 1 8 1 4 3 13 1 1 1 23 1 4 1 9 2 20 1 510"/><path d="M0 107.69h510" stroke="#6c68b4" stroke-dasharray="0 328 1 510"/><path d="M0 120.36h510" stroke="#ddb0b2" stroke-dasharray="0 0 1 1 1 9 1 11 2 7 2 3 7 2 1 8 1 16 1 3 2 2 1 7 3 4 1 4 4 1 1 8 5 1 1 3 2 2 1 5 1 4 4 13 1 3 1 1 3 3 2 1 1 1 1 1 2 5 1 1 5 4 3 3 2 1 1 11 1 1 3 6 5 2 1 1 1 1 2 1 5 2 3 2 3 1 1 2 3 2 7 14 1 17 1 2 1 8 2 2 1 42 7 1 5 2 1 8 2 27 1 5 1 8 3 16 1 17 1 510"/><path d="M0 120.36h510" stroke="#ebd2d8" stroke-dasharray="0 1 1 1 1 4 1 6 1 5 2 3 5 15 1 1 2 1 2 8 1 3 4 2 2 1 1 5 1 6 1 7 1 1 2 13 1 1 1 12 2 4 1 2 4 4 5 9 1 3 1 5 1 12 2 7 4 10 2 7 2 8 3 6 1 1 1 1 1 2 1 5 1 4 1 23 2 10 1 5 1 52 5 1 2 1 1 39 2 7 11 9 5 22 3 9 1 24 1 7 1 2 3 510"/><path d="M0 120.36h510" stroke="#d09a9a" stroke-dasharray="0 4 4 5 1 9 1 8 1 2 3 7 1 7 3 3 2 8 2 4 2 2 1 2 3 7 3 4 2 19 1 9 3 16 8 14 1 3 1 22 2 46 1 24 3 2 1 1 7 22 5 8 2 92 1 510"/><path d="M0 120.36h510" stroke="#efe6ef" stroke-dasharray="0 9 3 19 1 26 1 4 2 40 1 1 3 12 2 35 2 23 1 12 1 8 5 5 1 4 2 32 1 1 2 3 2 13 1 100 1 84 1 510"/><path d="M0 120.36h510" stroke="#bf7a7a" stroke-dasharray="0 14 1 42 1 30 1 35 1 53 1 23 1 17 1 510"/><path d="M0 120.36h510" stroke="#c8c8e4" stroke-dasharray="0 16 5 89 2 1 1 52 2 5 1 5 2 30 2 18 1 19 1 38 2 3 2 3 1 1 1 1 1 9 1 2 1 6 3 5 1 2 1 1 4 1 3 8 1 1 7 7 1 5 2 5 4 12 1 1 2 15 4 1 1 5 2 3 3 2 3 5 3 4 2 24 1 2 5 1 7 1 1 4 5 1 2 510"/><path d="M0 120.36h510" stroke="#9898cf" stroke-dasharray="0 50 1 11 1 22 2 47 1 152 3 3 2 2 3 12 1 21 1 53 6 47 5 9 6 7 7 1 2 510"/><path d="M0 120.36h510" stroke="#b0b0da" stroke-dasharray="0 301 1 3 1 7 1 8 2 3 5 1 1 7 1 8 1 28 3 14 1 5 1 13 1 19 2 23 1 2 3 8 1 2 1 1 2 15 1 8 1 2 1 510"/><path d="M0 120.36h510" stroke="#6c68b4" stroke-dasharray="0 318 1 17 1 60 1 1 1 510"/><path d="M0 133.03h510" stroke="#ddb0b2" stroke-dasharray="0 0 1 2 2 7 2 5 1 6 1 5 2 37 1 6 2 2 2 2 2 1 1 2 1 5 3 11 3 11 1 15 2 38 2 3 2 2 2 2 2 35 1 1 1 24 1 1 2 25 2 47 1 69 2 77 1 12 2 510"/><path d="M0 133.03h510" stroke="#a85656" stroke-dasharray="0 5 1 12 1 51 1 9 2 13 2 20 1 19 1 15 1 35 2 2 2 54 1 6 2 6 1 3 2 510"/><path d="M0 133.03h510" stroke="#d09a9a" stroke-dasharray="0 6 1 4 1 12 2 17 2 9 1 38 1 3 1 20 1 2 1 5 1 4 2 15 1 24 2 25 1 4 1 9 1 11 1 4 1 4 3 22 1 6 2 18 2 510"/><path d="M0 133.03h510" stroke="#bf7a7a" stroke-dasharray="0 17 1 29 1 7 4 42 1 18 1 9 1 5 1 14 2 1 1 15 2 33 1 20 2 3 1 3 1 5 3 2 1 11 1 43 2 9 1 52 1 82 1 56 1 510"/><path d="M0 133.03h510" stroke="#ebd2d8" stroke-dasharray="0 27 2 2 1 10 1 107 1 4 1 48 1 6 1 18 1 6 1 14 2 29 2 510"/><path d="M0 133.03h510" stroke="#efe6ef" stroke-dasharray="0 45 2 425 1 510"/><path d="M0 133.03h510" stroke="#8f3a3a" stroke-dasharray="0 88 1 30 1 140 1 236 1 510"/><path d="M0 145.71h510" stroke="#d09a9a" stroke-dasharray="0 0 3 17 1 3 1 27 2 2 1 17 1 8 1 5 2 1 1 37 1 13 1 7 1 15 4 1 1 8 1 11 1 23 1 12 2 12 2 16 2 5 1 56 1 1 2 14 1 33 1 21 2 72 1 510"/><path d="M0 145.71h510" stroke="#ddb0b2" stroke-dasharray="0 4 3 15 2 1 1 12 1 4 2 15 2 16 2 2 1 1 2 8 2 1 1 33 1 19 1 1 2 4 1 33 1 9 2 17 2 2 1 2 1 5 2 10 2 13 1 4 1 17 3 18 1 140 2 21 2 2 1 15 2 510"/><path d="M0 145.71h510" stroke="#bf7a7a" stroke-dasharray="0 14 1 6 1 8 1 4 1 4 3 7 2 7 1 8 1 6 1 43 1 1 2 19 2 3 3 12 1 23 1 3 1 10 2 3 1 12 3 2 2 4 1 6 2 27 1 15 2 170 1 510"/><path d="M0 145.71h510" stroke="#ebd2d8" stroke-dasharray="0 19 1 37 1 4 2 12 1 3 1 15 1 43 2 21 2 18 1 163 1 35 1 510"/><path d="M0 145.71h510" stroke="#efe6ef" stroke-dasharray="0 54 2 94 1 23 1 22 1 2 1 510"/><path d="M0 145.71h510" stroke="#a85656" stroke-dasharray="0 81 1 4 3 10 1 20 1 37 1 6 2 17 2 1 2 7 1 195 2 98 2 510"/><path d="M0 145.71h510" stroke="#8f3a3a" stroke-dasharray="0 93 1 73 1 59 1 5 2 33 2 14 1 510"/><path d="M0 158.38h510" stroke="#d09a9a" stroke-dasharray="0 0 1 1 1 7 1 20 2 4 1 42 2 29 1 3 1 37 1 15 2 32 1 6 3 32 1 1 1 5 2 3 2 9 2 57 2 6 2 43 3 85 2 510"/><path d="M0 158.38h510" stroke="#ddb0b2" stroke-dasharray="0 1 1 9 1 21 4 25 2 3 1 14 1 9 3 11 1 2 1 23 1 13 1 12 2 2 1 2 1 4 1 33 2 1 1 5 1 13 1 14 1 3 1 11 2 205 2 510"/><path d="M0 158.38h510" stroke="#8f3a3a" stroke-dasharray="0 3 1 242 1 510"/><path d="M0 158.38h510" stroke="#bf7a7a" stroke-dasharray="0 26 1 31 3 4 2 2 1 14 1 19 2 7 2 1 3 11 1 7 2 18 2 5 2 22 1 26 3 16 2 12 1 2 1 77 2 92 1 17 1 28 1 10 1 4 1 16 2 510"/><path d="M0 158.38h510" stroke="#ebd2d8" stroke-dasharray="0 41 2 25 1 62 1 42 1 44 2 29 2 510"/><path d="M0 158.38h510" stroke="#a85656" stroke-dasharray="0 85 2 8 2 71 1 39 1 24 2 2 1 18 2 180 1 69 1 510"/><path d="M0 158.38h510" stroke="#efe6ef" stroke-dasharray="0 107 2 3 1 19 1 4 1 130 1 156 1 510"/><path d="M0 171.04h510" stroke="#ddb0b2" stroke-dasharray="0 0 2 6 1 18 1 10 1 1 2 6 1 3 1 24 1 7 2 9 3 4 1 5 1 20 2 5 1 6 3 4 1 1 2 2 1 2 1 16 1 19 6 29 1 2 1 13 2 8 2 3 1 4 2 3 2 1 3 2 1 103 1 10 1 3 2 40 2 37 1 8 1 510"/><path d="M0 171.04h510" stroke="#efe6ef" stroke-dasharray="0 2 1 12 2 37 1 49 2 14 1 74 2 7 2 23 1 14 1 510"/><path d="M0 171.04h510" stroke="#d09a9a" stroke-dasharray="0 3 1 6 3 15 2 21 1 1 1 3 4 27 1 26 1 1 3 12 1 7 2 1 1 11 2 9 3 9 2 45 1 2 1 9 2 25 1 6 2 2 1 3 2 8 2 59 1 35 2 4 2 25 1 7 1 32 1 510"/><path d="M0 171.04h510" stroke="#ebd2d8" stroke-dasharray="0 6 1 2 1 3 2 4 1 55 2 3 2 2 1 2 1 48 1 12 2 1 1 8 2 24 1 25 4 9 2 5 2 17 1 8 2 66 1 29 1 96 1 510"/><path d="M0 171.04h510" stroke="#bf7a7a" stroke-dasharray="0 17 2 11 2 4 2 5 1 6 1 13 2 16 1 6 1 4 2 4 2 4 2 5 2 1 1 18 1 11 2 14 2 29 1 36 1 4 2 33 1 31 1 11 1 14 1 29 1 34 2 6 1 34 1 41 2 22 1 510"/><path d="M0 171.04h510" stroke="#a85656" stroke-dasharray="0 33 1 5 1 2 1 18 2 39 1 8 2 9 1 10 2 3 1 19 2 20 1 49 1 32 1 53 1 17 2 510"/><path d="M0 171.04h510" stroke="#8f3a3a" stroke-dasharray="0 108 1 33 1 26 2 510"/><path d="M0 183.72h510" stroke="#d09a9a" stroke-dasharray="0 0 2 11 2 2 1 4 1 9 3 8 5 11 2 2 2 2 1 24 1 8 1 3 2 5 1 1 1 9 1 2 2 12 1 30 1 16 1 23 1 9 1 5 1 4 1 13 1 6 2 2 1 1 1 151 1 89 1 1 1 510"/><path d="M0 183.72h510" stroke="#bf7a7a" stroke-dasharray="0 2 1 12 2 4 1 4 2 11 1 12 1 23 1 13 2 10 1 12 2 9 1 17 2 13 1 4 2 32 1 36 2 10 1 30 2 40 1 4 1 41 2 4 1 118 1 510"/><path d="M0 183.72h510" stroke="#ddb0b2" stroke-dasharray="0 6 1 2 1 1 2 5 2 8 1 2 1 6 1 11 2 17 1 18 1 14 2 2 2 11 1 1 2 5 1 16 3 11 2 8 2 4 2 2 2 8 3 3 2 10 3 9 2 2 1 6 2 10 2 4 1 7 2 57 3 7 1 101 1 14 2 2 2 14 1 1 2 23 2 510"/><path d="M0 183.72h510" stroke="#a85656" stroke-dasharray="0 7 2 26 2 3 1 24 2 31 1 50 1 12 2 9 1 56 1 19 1 17 2 223 1 510"/><path d="M0 183.72h510" stroke="#8f3a3a" stroke-dasharray="0 20 1 97 2 92 1 111 1 510"/><path d="M0 183.72h510" stroke="#efe6ef" stroke-dasharray="0 29 2 39 2 23 2 117 1 71 1 510"/><path d="M0 183.72h510" stroke="#ebd2d8" stroke-dasharray="0 37 1 23 2 26 1 7 1 44 1 31 2 19 1 22 2 2 1 5 1 37 2 19 1 26 1 510"/><path d="M0 196.38h510" stroke="#bf7a7a" stroke-dasharray="0 3 3 2 1 9 2 9 1 32 1 4 1 12 1 4 1 6 1 2 1 21 2 2 1 35 1 10 1 7 1 41 1 20 2 174 1 77 1 510"/><path d="M0 196.38h510" stroke="#ddb0b2" stroke-dasharray="0 6 1 10 1 6 1 43 3 7 1 3 1 3 1 7 1 7 1 4 2 1 1 2 1 36 3 11 2 12 2 8 1 2 1 1 3 2 3 29 2 2 2 1 2 2 1 8 1 23 2 6 1 21 1 21 1 62 1 35 2 16 2 50 1 2 1 510"/><path d="M0 196.38h510" stroke="#d09a9a" stroke-dasharray="0 7 1 5 1 16 1 18 1 1 2 3 1 6 1 10 1 2 1 15 1 7 1 3 1 3 1 9 1 33 1 7 1 9 1 13 3 4 1 3 2 3 3 5 1 19 1 30 2 8 2 4 1 8 2 3 1 56 2 41 1 57 1 47 1 510"/><path d="M0 196.38h510" stroke="#ebd2d8" stroke-dasharray="0 9 1 12 2 30 2 20 1 14 1 4 1 2 1 14 3 37 1 3 2 2 1 7 1 18 2 13 2 9 3 9 2 39 2 2 1 15 1 128 1 510"/><path d="M0 196.38h510" stroke="#efe6ef" stroke-dasharray="0 16 1 3 2 133 2 10 1 6 1 112 1 17 2 117 1 60 1 510"/><path d="M0 196.38h510" stroke="#a85656" stroke-dasharray="0 50 1 24 1 7 2 15 1 10 2 7 1 27 2 58 1 3 3 34 1 16 2 178 2 510"/><path d="M0 196.38h510" stroke="#8f3a3a" stroke-dasharray="0 71 2 133 2 2 2 24 1 25 2 19 2 131 1 510"/><path d="M0 209.06h510" stroke="#efe6ef" stroke-dasharray="0 0 1 48 3 24 1 69 1 27 1 43 1 75 1 510"/><path d="M0 209.06h510" stroke="#d09a9a" stroke-dasharray="0 1 3 9 1 15 2 14 1 7 2 26 1 9 2 7 1 5 3 2 2 9 1 3 2 7 1 13 3 6 1 33 1 4 2 1 1 7 1 15 1 22 1 2 1 9 2 12 1 42 1 17 1 128 2 34 1 7 1 510"/><path d="M0 209.06h510" stroke="#bf7a7a" stroke-dasharray="0 11 2 11 2 7 2 17 1 17 1 12 2 11 3 15 1 15 3 1 1 9 2 2 1 72 2 2 1 36 3 3 1 3 1 3 2 5 1 3 1 134 2 48 1 510"/><path d="M0 209.06h510" stroke="#ddb0b2" stroke-dasharray="0 26 2 32 1 6 2 8 1 2 1 1 1 7 1 8 1 9 2 2 1 3 4 3 2 3 1 7 2 26 1 9 2 6 1 9 1 5 1 23 1 22 1 4 1 3 1 23 1 73 1 102 1 510"/><path d="M0 209.06h510" stroke="#ebd2d8" stroke-dasharray="0 31 2 55 1 6 1 20 1 16 1 13 1 6 2 1 1 9 2 4 1 306 1 510"/><path d="M0 209.06h510" stroke="#a85656" stroke-dasharray="0 46 1 68 1 47 2 1 1 5 1 31 1 48 2 10 1 1 1 10 1 1 1 3 3 29 1 510"/><path d="M0 209.06h510" stroke="#8f3a3a" stroke-dasharray="0 62 1 131 1 24 1 46 1 2 3 1 1 1 1 5 2 104 2 510"/><path d="M0 221.72h510" stroke="#bf7a7a" stroke-dasharray="0 0 2 9 2 3 2 5 1 44 1 2 1 19 1 2 1 10 2 3 1 35 2 2 1 2 1 3 2 3 1 3 1 1 1 1 1 14 2 17 2 5 2 2 1 8 2 4 2 52 2 114 2 64 1 18 1 4 2 510"/><path d="M0 221.72h510" stroke="#d09a9a" stroke-dasharray="0 2 1 12 1 3 1 2 1 8 2 4 3 4 1 12 1 5 2 10 1 6 2 1 2 8 2 2 1 22 1 12 3 6 1 11 1 22 2 2 2 4 3 1 1 4 2 1 1 11 1 6 2 11 1 20 2 4 2 13 1 5 1 6 1 1 2 68 1 91 1 4 1 25 2 510"/><path d="M0 221.72h510" stroke="#ddb0b2" stroke-dasharray="0 13 2 5 2 2 1 4 1 20 3 8 2 4 1 1 1 9 1 7 2 3 1 4 1 2 1 1 1 6 1 39 1 13 1 10 3 20 1 2 1 1 2 18 2 8 1 3 2 1 1 11 3 16 3 7 1 1 2 2 2 110 2 27 1 60 2 6 1 510"/><path d="M0 221.72h510" stroke="#ebd2d8" stroke-dasharray="0 18 1 21 1 15 1 81 1 9 1 6 1 8 2 61 2 9 1 34 2 32 2 510"/><path d="M0 221.72h510" stroke="#a85656" stroke-dasharray="0 26 1 7 1 23 3 5 1 5 1 7 2 11 1 9 2 6 2 8 1 37 1 9 1 17 2 17 2 6 1 14 1 5 1 9 1 16 1 46 2 61 1 52 2 55 1 9 1 510"/><path d="M0 221.72h510" stroke="#efe6ef" stroke-dasharray="0 27 2 1 1 42 2 151 1 7 1 22 3 8 2 510"/><path d="M0 221.72h510" stroke="#8f3a3a" stroke-dasharray="0 70 1 18 2 101 1 57 1 12 1 510"/><path d="M0 234.4h510" stroke="#a85656" stroke-dasharray="0 0 1 39 1 5 2 40 1 42 2 8 1 79 1 15 1 118 1 52 1 3 2 510"/><path d="M0 234.4h510" stroke="#ebd2d8" stroke-dasharray="0 1 2 12 1 6 4 42 2 79 1 20 1 36 2 17 2 11 1 27 3 10 4 25 1 36 3 10 1 43 1 510"/><path d="M0 234.4h510" stroke="#ddb0b2" stroke-dasharray="0 3 2 11 2 3 1 17 1 8 2 9 1 19 2 6 1 16 1 25 1 11 2 12 1 7 2 16 1 6 1 1 1 3 1 5 3 12 2 2 1 7 2 2 2 23 1 14 2 10 2 7 1 1 1 61 2 1 1 86 2 29 2 10 1 510"/><path d="M0 234.4h510" stroke="#d09a9a" stroke-dasharray="0 9 1 16 2 77 2 26 2 17 1 1 2 4 3 24 1 4 3 28 1 6 1 3 1 3 1 1 1 13 1 19 3 9 2 50 1 48 1 104 1 16 1 510"/><path d="M0 234.4h510" stroke="#bf7a7a" stroke-dasharray="0 10 1 26 1 7 1 4 4 27 1 1 1 12 2 30 2 5 1 2 1 9 1 4 1 36 1 13 1 17 1 8 1 3 2 15 1 3 1 13 2 72 2 69 2 2 1 510"/><path d="M0 234.4h510" stroke="#efe6ef" stroke-dasharray="0 54 2 2 1 1 1 33 1 103 2 66 1 12 1 510"/><path d="M0 234.4h510" stroke="#8f3a3a" stroke-dasharray="0 56 2 125 1 93 2 208 1 510"/><path d="M0 247.06h510" stroke="#bf7a7a" stroke-dasharray="0 0 1 121 2 64 1 510"/><path d="M0 247.06h510" stroke="#ddb0b2" stroke-dasharray="0 1 1 15 1 9 4 16 1 6 1 6 1 1 1 12 1 14 1 1 1 23 1 20 1 7 1 4 1 5 1 8 2 8 1 4 1 1 2 8 2 2 3 1 4 2 1 3 1 1 1 3 4 1 1 12 1 4 2 14 1 3 1 1 1 11 3 7 2 1 1 37 4 21 1 6 1 19 4 18 1 52 5 23 1 5 3 20 1 510"/><path d="M0 247.06h510" stroke="#9898cf" stroke-dasharray="0 2 1 22 1 6 1 6 6 49 1 7 1 18 1 22 2 43 2 34 4 30 1 54 1 32 1 8 1 12 1 14 1 19 2 5 1 5 1 8 3 16 6 6 4 31 3 3 1 510"/><path d="M0 247.06h510" stroke="#ebd2d8" stroke-dasharray="0 3 3 7 4 14 1 1 1 3 1 8 1 10 4 3 7 1 1 1 2 2 2 12 1 6 3 4 1 6 3 11 1 3 3 6 2 5 4 1 2 4 1 2 2 6 4 22 1 4 1 7 1 1 1 5 1 13 1 2 2 14 1 7 1 14 2 36 1 5 3 16 2 2 5 7 5 30 2 14 2 9 4 5 4 3 5 36 1 19 1 510"/><path d="M0 247.06h510" stroke="#d09a9a" stroke-dasharray="0 6 1 43 4 88 2 10 2 3 1 13 2 37 1 10 1 24 1 14 3 40 1 8 1 21 1 32 1 5 1 23 1 17 4 29 1 16 2 13 1 19 1 510"/><path d="M0 247.06h510" stroke="#b0b0da" stroke-dasharray="0 7 3 61 1 5 1 2 6 22 4 12 3 1 3 3 2 46 1 13 1 12 1 32 5 8 1 23 3 1 1 2 1 1 1 3 1 1 2 6 1 2 1 1 3 22 2 4 1 5 3 11 11 6 1 5 3 1 1 3 2 1 2 12 5 1 1 26 1 21 6 4 4 3 2 1 2 25 1 510"/><path d="M0 247.06h510" stroke="#efe6ef" stroke-dasharray="0 10 3 35 1 6 1 6 1 23 5 12 2 13 3 15 1 26 1 14 3 4 1 5 2 74 5 19 1 11 2 86 1 108 3 510"/><path d="M0 247.06h510" stroke="#c8c8e4" stroke-dasharray="0 18 7 1 1 7 3 1 1 6 1 3 1 6 1 16 1 21 4 6 1 1 1 4 1 3 1 20 1 1 1 16 1 3 1 3 2 2 1 6 1 1 1 8 2 18 1 7 2 5 1 2 1 4 1 6 4 7 1 2 5 3 1 2 1 4 1 10 2 3 1 6 2 2 1 2 6 9 3 5 6 4 3 2 1 13 2 21 4 13 1 5 5 2 1 32 5 1 5 22 1 7 3 6 2 3 1 1 1 3 3 1 1 4 4 510"/><path d="M0 247.06h510" stroke="#6c68b4" stroke-dasharray="0 205 1 25 2 510"/><path d="M0 259.74h510" stroke="#bf7a7a" stroke-dasharray="0 0 5 9 2 7 2 45 2 9 1 12 1 13 1 29 2 8 1 1 2 11 1 17 1 50 1 5 1 9 1 3 2 32 2 8 2 37 1 89 1 510"/><path d="M0 259.74h510" stroke="#ddb0b2" stroke-dasharray="0 5 1 5 1 4 6 4 1 28 2 12 1 15 3 7 1 1 2 3 6 14 2 6 2 3 3 2 1 1 3 14 1 20 1 11 1 4 1 1 2 20 5 8 2 47 3 43 1 43 1 9 3 38 1 40 2 21 1 18 2 510"/><path d="M0 259.74h510" stroke="#8f3a3a" stroke-dasharray="0 6 2 201 1 27 1 510"/><path d="M0 259.74h510" stroke="#d09a9a" stroke-dasharray="0 9 2 11 1 4 1 19 3 13 2 3 1 13 2 6 1 2 1 5 1 9 1 5 2 12 1 3 2 30 1 23 3 9 2 5 1 1 3 34 1 2 2 2 2 1 2 1 1 6 4 39 2 1 1 19 2 6 2 31 2 3 2 34 1 41 1 510"/><path d="M0 259.74h510" stroke="#a85656" stroke-dasharray="0 12 2 43 1 1 4 37 1 9 1 49 1 5 1 69 1 93 1 30 1 1 1 22 1 510"/><path d="M0 259.74h510" stroke="#ebd2d8" stroke-dasharray="0 25 1 50 1 2 2 11 1 18 4 26 1 4 2 4 2 4 1 39 1 30 1 3 1 84 1 21 1 68 1 510"/><path d="M0 259.74h510" stroke="#efe6ef" stroke-dasharray="0 58 1 13 2 88 1 109 2 216 1 510"/><path d="M0 272.4h510" stroke="#ebd2d8" stroke-dasharray="0 6 1 25 1 8 2 6 2 2 1 25 1 41 2 50 1 32 1 39 3 7 1 14 2 11 1 73 1 510"/><path d="M0 272.4h510" stroke="#d09a9a" stroke-dasharray="0 7 1 20 1 2 1 54 1 14 2 17 1 4 2 10 1 6 1 10 1 28 1 14 1 7 2 56 1 10 2 5 1 3 1 56 2 16 2 6 1 3 2 7 1 31 1 62 1 8 3 510"/><path d="M0 272.4h510" stroke="#bf7a7a" stroke-dasharray="0 8 1 28 3 3 2 19 2 12 1 17 1 41 1 15 1 9 2 17 1 14 1 4 1 16 1 23 2 4 4 34 2 69 2 5 1 17 1 510"/><path d="M0 272.4h510" stroke="#ddb0b2" stroke-dasharray="0 21 2 4 1 1 1 3 2 25 3 3 1 31 2 3 2 10 1 7 2 31 1 9 4 1 2 41 2 3 1 34 2 1 1 4 2 11 1 32 1 6 2 44 1 24 1 49 2 21 1 44 1 510"/><path d="M0 272.4h510" stroke="#8f3a3a" stroke-dasharray="0 30 1 46 1 416 2 510"/><path d="M0 272.4h510" stroke="#efe6ef" stroke-dasharray="0 36 1 8 2 7 2 510"/><path d="M0 272.4h510" stroke="#a85656" stroke-dasharray="0 47 2 93 2 26 1 30 2 57 2 28 1 73 2 510"/><path d="M0 285.07h510" stroke="#ddb0b2" stroke-dasharray="0 0 1 29 1 1 6 8 1 11 3 6 1 1 1 4 2 6 4 18 5 6 1 12 7 2 1 34 1 8 1 1 2 1 3 1 2 1 1 17 1 9 1 17 1 2 1 3 1 8 2 10 2 1 2 14 1 44 6 9 1 8 1 42 5 8 1 14 1 66 3 510"/><path d="M0 285.07h510" stroke="#d09a9a" stroke-dasharray="0 1 1 15 2 28 1 28 2 40 1 2 1 49 1 17 1 11 2 2 1 14 1 19 2 1 3 8 1 2 2 1 1 11 1 16 1 24 1 66 1 12 1 510"/><path d="M0 285.07h510" stroke="#b0b0da" stroke-dasharray="0 2 1 11 1 8 1 2 1 13 5 91 1 26 1 2 2 9 2 51 1 1 1 14 3 11 6 2 1 3 2 7 2 1 1 5 3 9 3 17 1 1 1 13 1 1 1 5 1 4 3 3 2 2 7 13 1 5 4 1 1 11 2 9 1 10 3 2 4 5 1 1 2 2 3 17 3 5 2 4 1 17 2 7 2 510"/><path d="M0 285.07h510" stroke="#9898cf" stroke-dasharray="0 3 2 98 1 16 1 74 2 105 1 15 4 2 1 3 3 19 1 19 3 10 5 7 1 8 1 7 2 10 2 16 1 12 1 47 2 510"/><path d="M0 285.07h510" stroke="#bf7a7a" stroke-dasharray="0 5 1 2 1 59 1 510"/><path d="M0 285.07h510" stroke="#c8c8e4" stroke-dasharray="0 6 2 1 4 6 3 5 1 1 1 1 1 6 2 5 1 15 5 13 2 5 2 2 3 6 4 16 1 3 5 17 3 1 3 3 1 1 6 1 2 3 1 12 1 11 1 2 4 2 2 3 3 5 4 2 2 12 3 36 1 14 1 15 2 14 1 3 2 12 1 10 1 4 1 3 2 7 1 3 4 15 1 4 1 16 2 1 6 22 2 4 4 9 3 5 3 2 3 2 11 3 1 1 1 8 1 510"/><path d="M0 285.07h510" stroke="#ebd2d8" stroke-dasharray="0 13 1 8 1 1 2 40 1 3 3 8 1 6 2 3 3 2 1 10 3 1 2 1 2 17 1 12 1 3 3 13 1 1 1 9 1 4 1 20 1 5 1 11 1 4 1 3 3 14 4 5 1 34 8 6 6 1 3 19 2 3 2 1 1 2 2 7 1 19 1 1 2 15 1 6 1 6 1 19 2 4 5 9 1 46 1 3 2 510"/><path d="M0 285.07h510" stroke="#6c68b4" stroke-dasharray="0 15 2 127 1 62 1 136 1 62 3 510"/><path d="M0 285.07h510" stroke="#efe6ef" stroke-dasharray="0 28 1 19 10 15 1 4 1 17 2 14 1 9 1 15 6 12 1 16 4 2 1 12 1 20 3 9 4 2 1 44 6 2 1 2 2 89 1 44 1 32 8 6 2 8 1 24 2 510"/><path d="M0 297.75h510" stroke="#d09a9a" stroke-dasharray="0 9 3 2 1 32 2 11 1 1 1 6 1 7 1 25 2 1 1 8 2 3 2 37 2 37 1 19 2 7 1 58 1 9 1 104 2 64 2 10 1 22 1 510"/><path d="M0 297.75h510" stroke="#bf7a7a" stroke-dasharray="0 23 3 3 1 10 2 1 1 19 1 6 1 9 1 8 1 8 1 11 1 52 2 11 1 13 2 5 1 1 2 3 3 9 2 2 1 5 1 15 1 18 1 16 1 8 1 5 1 9 1 25 2 1 2 150 2 510"/><path d="M0 297.75h510" stroke="#ddb0b2" stroke-dasharray="0 26 2 16 2 25 1 2 2 2 2 5 3 17 1 11 1 18 2 2 1 16 2 6 2 22 1 3 2 1 1 10 2 19 3 1 1 32 1 17 2 5 2 144 2 10 1 28 2 20 3 510"/><path d="M0 297.75h510" stroke="#a85656" stroke-dasharray="0 28 1 47 1 22 2 1 1 15 1 3 1 31 1 1 1 44 1 1 1 93 1 39 1 4 1 1 1 43 1 34 1 1 1 510"/><path d="M0 297.75h510" stroke="#ebd2d8" stroke-dasharray="0 42 1 13 2 1 1 21 1 56 2 5 2 30 1 14 1 38 1 34 1 9 2 10 1 139 1 22 1 510"/><path d="M0 297.75h510" stroke="#8f3a3a" stroke-dasharray="0 49 2 33 1 76 2 80 1 510"/><path d="M0 297.75h510" stroke="#efe6ef" stroke-dasharray="0 82 2 4 1 63 1 22 1 510"/><path d="M0 310.42h510" stroke="#ddb0b2" stroke-dasharray="0 2 1 23 2 1 1 26 2 5 2 12 2 22 5 1 2 10 1 6 2 10 2 16 2 15 1 3 1 2 1 4 1 36 1 7 2 6 1 11 3 1 1 34 1 52 3 4 1 22 1 3 2 10 2 8 1 10 1 2 5 33 1 24 2 22 1 8 2 510"/><path d="M0 310.42h510" stroke="#d09a9a" stroke-dasharray="0 9 1 11 3 22 2 4 1 7 2 5 2 2 2 8 2 4 3 9 2 8 1 7 1 18 1 9 1 7 2 10 1 15 3 4 1 11 3 16 2 4 2 11 3 41 2 3 1 28 1 3 2 17 1 37 1 17 2 13 1 15 1 46 1 4 1 1 1 2 1 13 1 4 2 2 1 510"/><path d="M0 310.42h510" stroke="#a85656" stroke-dasharray="0 13 1 6 1 28 1 9 1 5 2 19 1 19 1 33 2 6 2 18 1 2 2 27 1 6 1 2 1 18 1 19 1 3 1 7 1 46 1 38 2 510"/><path d="M0 310.42h510" stroke="#efe6ef" stroke-dasharray="0 14 2 53 1 83 1 11 1 20 2 16 1 510"/><path d="M0 310.42h510" stroke="#ebd2d8" stroke-dasharray="0 19 1 147 1 37 2 29 2 44 1 86 2 22 1 14 1 510"/><path d="M0 310.42h510" stroke="#bf7a7a" stroke-dasharray="0 28 1 25 2 14 1 8 2 37 1 28 1 2 2 27 1 1 1 26 2 65 1 26 2 5 2 63 2 65 2 24 1 14 1 510"/><path d="M0 310.42h510" stroke="#8f3a3a" stroke-dasharray="0 83 2 52 1 225 1 40 2 510"/><path d="M0 323.08h510" stroke="#ebd2d8" stroke-dasharray="0 0 2 1 2 150 2 85 1 12 1 123 1 31 1 23 2 510"/><path d="M0 323.08h510" stroke="#bf7a7a" stroke-dasharray="0 2 1 27 2 4 1 17 1 12 1 2 1 28 1 3 1 2 2 29 3 9 3 28 4 34 2 47 1 16 3 1 2 36 1 64 1 510"/><path d="M0 323.08h510" stroke="#ddb0b2" stroke-dasharray="0 14 2 39 1 6 3 3 1 12 1 23 1 10 2 24 2 76 1 9 2 2 2 5 1 9 1 4 1 7 2 4 1 4 1 6 2 37 2 139 1 4 1 28 1 510"/><path d="M0 323.08h510" stroke="#d09a9a" stroke-dasharray="0 16 2 10 2 7 2 4 1 5 3 1 1 11 1 5 1 8 1 6 2 8 1 2 1 12 3 6 3 9 3 15 1 50 1 35 2 2 1 18 2 4 1 26 2 28 1 92 2 35 1 5 1 6 2 510"/><path d="M0 323.08h510" stroke="#efe6ef" stroke-dasharray="0 94 1 149 1 118 1 510"/><path d="M0 323.08h510" stroke="#8f3a3a" stroke-dasharray="0 98 1 58 1 46 2 510"/><path d="M0 323.08h510" stroke="#a85656" stroke-dasharray="0 132 2 19 2 61 2 69 1 81 1 50 2 15 1 63 2 1 1 510"/><path d="M0 335.75h510" stroke="#ddb0b2" stroke-dasharray="0 12 2 15 2 5 1 1 1 11 1 7 4 11 1 3 2 6 1 18 2 6 1 5 2 6 1 4 2 1 1 7 1 3 1 1 1 7 2 27 2 29 2 9 2 5 1 46 1 30 2 94 1 15 2 2 2 55 1 510"/><path d="M0 335.75h510" stroke="#bf7a7a" stroke-dasharray="0 14 2 7 1 8 1 4 1 13 1 1 2 19 2 33 2 2 1 2 1 18 1 7 1 30 1 28 1 22 1 2 2 33 1 10 1 1 1 8 2 5 1 35 1 18 1 45 1 19 1 62 1 23 2 510"/><path d="M0 335.75h510" stroke="#d09a9a" stroke-dasharray="0 16 3 3 1 2 2 4 1 7 2 16 1 9 1 8 1 2 3 1 1 17 2 20 1 3 2 39 2 3 1 10 1 46 2 4 3 1 2 11 1 142 2 50 1 58 1 510"/><path d="M0 335.75h510" stroke="#efe6ef" stroke-dasharray="0 24 1 89 2 4 1 124 1 39 1 140 2 510"/><path d="M0 335.75h510" stroke="#a85656" stroke-dasharray="0 27 2 23 1 2 2 46 1 25 2 14 1 9 1 45 1 66 2 3 1 2 1 12 2 156 2 32 1 510"/><path d="M0 335.75h510" stroke="#ebd2d8" stroke-dasharray="0 41 1 40 1 23 2 13 2 1 1 22 1 24 1 5 1 40 2 1 2 9 1 9 2 10 1 26 1 81 1 510"/><path d="M0 348.43h510" stroke="#ddb0b2" stroke-dasharray="0 1 1 6 4 17 2 13 2 6 1 7 1 16 1 1 1 6 1 4 1 7 1 46 2 36 3 24 1 2 1 11 2 3 1 1 1 7 1 1 1 1 1 1 1 7 1 16 1 1 1 4 1 6 2 42 1 23 1 70 1 15 2 18 2 1 1 510"/><path d="M0 348.43h510" stroke="#a85656" stroke-dasharray="0 3 1 20 1 9 1 2 1 49 2 36 1 16 1 69 2 32 1 17 1 112 1 45 2 52 2 510"/><path d="M0 348.43h510" stroke="#ebd2d8" stroke-dasharray="0 12 1 6 1 5 2 62 1 62 2 7 1 56 1 19 3 15 2 1 3 11 1 1 2 14 1 36 1 38 3 65 1 2 1 510"/><path d="M0 348.43h510" stroke="#d09a9a" stroke-dasharray="0 20 2 1 1 8 2 19 1 1 1 14 1 9 6 12 1 27 1 16 1 10 3 2 1 28 1 13 1 1 2 2 2 9 1 3 2 5 1 3 4 15 2 3 1 25 1 42 1 47 1 31 2 34 1 59 1 510"/><path d="M0 348.43h510" stroke="#bf7a7a" stroke-dasharray="0 22 1 8 1 22 1 4 1 11 2 29 1 24 3 19 3 35 1 1 2 19 1 17 2 14 1 5 1 14 1 5 1 5 2 6 1 4 1 28 3 18 3 12 1 14 1 35 1 29 2 33 1 510"/><path d="M0 348.43h510" stroke="#efe6ef" stroke-dasharray="0 100 2 3 3 143 2 27 1 510"/><path d="M0 348.43h510" stroke="#8f3a3a" stroke-dasharray="0 112 1 32 1 57 1 235 2 510"/><path d="M0 361.09h510" stroke="#ddb0b2" stroke-dasharray="0 0 2 4 2 24 1 1 2 2 2 2 1 6 1 3 1 49 1 16 2 45 1 2 3 40 1 4 2 5 1 9 1 9 1 15 2 1 1 3 1 3 1 2 2 42 1 4 2 4 1 15 2 57 2 5 1 21 3 3 1 19 2 3 2 2 1 20 1 510"/><path d="M0 361.09h510" stroke="#d09a9a" stroke-dasharray="0 2 3 35 2 2 4 3 1 3 1 7 1 11 1 9 3 8 1 1 1 19 1 4 2 11 1 13 1 34 1 17 1 8 1 3 2 8 1 27 2 39 1 73 1 4 1 44 1 59 1 13 2 510"/><path d="M0 361.09h510" stroke="#8f3a3a" stroke-dasharray="0 5 1 127 2 2 1 10 2 33 2 144 1 90 1 510"/><path d="M0 361.09h510" stroke="#bf7a7a" stroke-dasharray="0 8 2 42 1 9 1 3 2 10 2 17 1 1 2 38 1 7 1 3 1 7 1 5 1 38 2 5 1 8 1 6 2 4 2 1 2 20 2 3 1 1 1 3 3 22 1 77 2 18 1 83 1 15 1 11 2 510"/><path d="M0 361.09h510" stroke="#efe6ef" stroke-dasharray="0 23 1 178 1 54 1 149 2 58 1 510"/><path d="M0 361.09h510" stroke="#a85656" stroke-dasharray="0 24 2 10 2 18 3 9 2 31 2 16 1 5 1 12 1 6 2 16 2 3 2 7 1 29 2 29 1 12 3 12 2 5 2 2 1 6 1 18 1 40 2 14 1 32 1 510"/><path d="M0 361.09h510" stroke="#ebd2d8" stroke-dasharray="0 31 1 11 1 78 1 43 1 11 2 19 2 13 2 23 1 6 1 38 2 50 1 10 3 510"/><path d="M0 373.76h510" stroke="#a85656" stroke-dasharray="0 0 1 20 1 16 1 15 2 31 2 2 1 5 1 27 1 11 2 69 1 10 1 20 1 12 2 123 2 69 1 17 2 510"/><path d="M0 373.76h510" stroke="#ddb0b2" stroke-dasharray="0 1 2 3 2 3 2 4 1 6 2 9 3 28 1 19 1 11 1 2 1 13 3 6 1 1 2 16 2 13 1 1 1 7 1 31 3 8 2 2 3 1 2 11 3 12 2 5 1 3 2 19 1 20 1 24 2 53 2 9 4 19 2 9 2 11 1 1 3 6 1 6 1 18 1 15 2 510"/><path d="M0 373.76h510" stroke="#d09a9a" stroke-dasharray="0 3 3 4 1 8 2 6 1 35 1 20 2 27 2 3 1 1 1 2 1 22 1 21 1 4 2 20 1 2 3 3 4 6 1 23 1 34 1 20 3 14 2 8 1 1 1 1 1 5 1 6 2 30 1 9 1 27 1 15 1 12 1 18 1 12 1 18 1 510"/><path d="M0 373.76h510" stroke="#efe6ef" stroke-dasharray="0 8 2 126 1 176 1 5 2 42 1 10 2 89 2 42 1 510"/><path d="M0 373.76h510" stroke="#bf7a7a" stroke-dasharray="0 26 1 12 2 17 1 10 1 11 2 9 1 28 2 6 2 11 2 3 1 12 1 9 3 17 1 6 1 41 1 17 2 2 1 12 2 46 1 14 1 53 1 21 2 25 1 17 1 2 1 24 2 510"/><path d="M0 373.76h510" stroke="#ebd2d8" stroke-dasharray="0 83 1 44 1 2 3 5 3 54 1 18 1 34 1 25 1 1 2 13 1 131 1 25 2 38 1 510"/><path d="M0 373.76h510" stroke="#8f3a3a" stroke-dasharray="0 89 1 29 1 102 1 14 1 39 1 22 1 17 1 510"/><path d="M0 386.44h510" stroke="#9898cf" stroke-dasharray="0 0 1 46 1 3 1 36 1 35 2 25 1 17 1 182 1 27 1 80 1 8 2 510"/><path d="M0 386.44h510" stroke="#b0b0da" stroke-dasharray="0 1 2 15 1 27 1 5 1 6 1 36 2 15 1 4 1 14 2 14 1 2 1 1 6 24 1 15 6 9 1 2 1 5 1 15 2 16 1 1 1 4 1 6 1 6 3 1 1 4 1 26 1 22 1 11 1 3 2 21 1 23 3 9 3 81 3 8 2 510"/><path d="M0 386.44h510" stroke="#ddb0b2" stroke-dasharray="0 3 1 1 1 4 1 1 5 15 2 19 1 13 2 13 1 1 4 15 1 8 1 1 1 23 1 3 4 15 1 16 2 3 1 5 1 1 1 1 2 12 1 1 3 5 1 4 1 2 2 11 1 3 1 8 1 10 1 14 1 13 1 2 1 1 1 2 1 5 1 2 2 9 3 7 6 5 1 6 1 3 1 1 1 8 1 1 4 1 1 2 1 1 2 21 1 13 1 32 1 2 3 3 5 1 1 2 1 9 3 10 3 2 5 12 1 510"/><path d="M0 386.44h510" stroke="#c8c8e4" stroke-dasharray="0 4 1 2 1 3 1 8 3 5 4 2 7 9 1 5 1 9 1 2 4 1 1 14 5 4 5 2 4 6 1 1 1 1 5 2 2 1 4 4 1 3 1 5 1 12 1 4 1 5 3 8 1 3 3 1 1 4 5 8 1 4 2 8 1 3 6 4 1 5 1 6 1 17 2 8 1 3 1 2 3 2 1 16 1 9 1 4 3 1 3 8 1 8 1 1 1 7 5 28 7 2 2 5 2 2 1 6 1 5 5 8 2 8 1 6 1 14 1 7 1 24 1 2 2 510"/><path d="M0 386.44h510" stroke="#ebd2d8" stroke-dasharray="0 6 1 1 2 31 5 8 2 1 2 14 1 4 1 16 1 15 1 16 1 6 2 2 2 5 1 6 1 8 3 16 1 10 1 13 1 5 1 3 1 2 1 24 1 12 1 8 2 8 1 12 1 2 2 4 1 7 1 3 2 27 1 4 2 17 1 7 1 1 1 2 1 1 2 3 4 9 1 3 1 9 1 10 1 9 4 2 3 6 1 3 1 7 1 1 1 2 4 1 1 10 1 2 2 5 1 15 2 510"/><path d="M0 386.44h510" stroke="#efe6ef" stroke-dasharray="0 17 1 1 1 3 5 20 2 12 4 9 3 38 1 31 1 1 1 15 2 6 4 2 1 4 1 34 1 13 3 8 2 14 1 1 2 5 1 2 1 21 1 4 5 7 1 3 1 32 1 11 1 6 1 1 1 16 2 18 1 4 1 14 4 20 1 44 1 4 2 510"/><path d="M0 386.44h510" stroke="#d09a9a" stroke-dasharray="0 60 2 17 3 1 1 10 1 9 1 4 2 57 1 64 1 13 3 2 2 5 1 11 1 2 2 21 1 15 2 3 1 6 1 15 3 37 2 25 1 11 1 21 2 25 1 6 3 1 2 2 1 3 1 6 1 510"/><path d="M0 386.44h510" stroke="#bf7a7a" stroke-dasharray="0 170 1 50 1 62 1 50 2 67 1 12 3 20 2 510"/><path d="M0 386.44h510" stroke="#6c68b4" stroke-dasharray="0 239 1 14 3 510"/><path d="M0 399.11h510" stroke="#ebd2d8" stroke-dasharray="0 0 1 8 1 8 1 32 1 16 1 5 1 11 1 7 3 8 1 23 2 2 2 11 1 21 2 1 1 8 2 18 3 28 2 2 1 23 3 22 2 4 1 17 1 8 1 2 7 3 1 1 1 1 2 1 3 1 2 7 1 2 5 4 2 4 2 6 2 5 2 4 1 5 2 4 3 1 1 4 2 2 2 2 1 3 1 4 5 7 1 2 2 3 1 3 1 14 1 4 1 7 5 3 1 3 7 2 2 5 2 510"/><path d="M0 399.11h510" stroke="#efe6ef" stroke-dasharray="0 1 3 2 1 3 3 6 2 22 4 7 1 1 1 21 2 7 2 23 2 1 1 1 1 9 2 20 1 22 1 9 2 22 2 26 1 2 1 8 1 2 1 7 2 5 1 4 1 12 2 3 1 4 3 6 2 40 7 1 1 23 1 15 2 5 1 39 1 7 1 5 1 4 1 16 5 20 1 510"/><path d="M0 399.11h510" stroke="#c8c8e4" stroke-dasharray="0 4 1 2 1 15 9 1 6 14 1 17 3 1 3 22 1 13 1 22 1 6 2 1 1 7 1 29 2 6 7 18 3 2 2 4 1 3 1 2 1 5 3 2 2 7 1 15 2 53 1 71 1 84 3 510"/><path d="M0 399.11h510" stroke="#bf7a7a" stroke-dasharray="0 5 1 16 1 96 1 157 1 58 1 21 2 18 1 21 1 20 1 15 1 7 1 63 1 510"/><path d="M0 399.11h510" stroke="#ddb0b2" stroke-dasharray="0 8 1 5 1 6 1 17 3 6 1 3 1 2 1 13 1 10 2 3 1 3 1 14 1 3 1 1 2 4 1 3 2 2 2 10 1 1 5 7 4 16 1 44 1 1 1 7 1 4 1 7 4 3 1 5 4 7 2 2 1 4 1 6 1 2 1 6 1 2 1 3 2 2 2 2 5 5 4 1 1 9 1 2 1 1 1 26 2 8 5 4 2 4 1 4 1 2 2 2 1 6 1 1 4 2 2 2 2 1 2 2 2 10 1 12 2 4 3 1 8 1 4 1 1 15 3 7 1 510"/><path d="M0 399.11h510" stroke="#6c68b4" stroke-dasharray="0 13 1 1 3 31 2 133 1 510"/><path d="M0 399.11h510" stroke="#9898cf" stroke-dasharray="0 32 1 9 1 14 1 43 3 3 1 10 1 12 2 10 1 10 1 1 3 6 3 21 3 13 1 8 1 1 1 57 1 175 1 510"/><path d="M0 399.11h510" stroke="#b0b0da" stroke-dasharray="0 47 1 10 6 18 3 5 4 4 1 10 1 25 1 12 1 39 1 3 1 10 2 3 6 36 1 19 1 8 2 5 1 510"/><path d="M0 399.11h510" stroke="#d09a9a" stroke-dasharray="0 64 4 2 1 26 1 24 2 2 1 32 6 8 7 7 1 38 3 26 1 9 1 1 2 6 2 12 1 7 2 10 4 6 1 9 1 10 1 11 1 11 4 13 2 3 3 36 2 5 3 1 1 3 2 2 1 8 1 19 1 28 5 510"/><path d="M0 399.11h510" stroke="#4e4aa0" stroke-dasharray="0 99 1 6 1 114 2 510"/><path d="M0 411.77h510" stroke="#d09a9a" stroke-dasharray="0 0 6 7 1 9 1 1 2 30 1 1 1 80 1 14 1 13 1 16 1 17 1 5 1 5 1 21 1 2 1 6 1 9 1 19 1 6 2 2 2 11 1 13 1 24 1 26 2 21 3 11 1 10 2 18 1 19 1 2 1 15 1 27 1 510"/><path d="M0 411.77h510" stroke="#c8c8e4" stroke-dasharray="0 6 1 14 1 2 1 4 1 1 1 5 1 4 1 2 2 14 1 3 1 3 1 14 1 2 1 16 1 6 2 3 1 21 1 5 2 24 6 11 3 5 1 1 1 3 1 3 1 11 1 13 1 17 3 7 4 4 3 2 2 1 1 6 3 6 1 6 2 11 1 1 1 5 1 6 2 1 1 9 1 9 1 5 1 22 3 2 1 10 2 5 1 55 2 8 5 8 3 4 1 2 3 7 2 2 2 1 3 510"/><path d="M0 411.77h510" stroke="#b0b0da" stroke-dasharray="0 7 1 11 2 6 1 12 1 26 1 2 1 1 1 6 2 20 1 3 6 3 2 7 1 12 1 9 1 3 1 3 1 6 2 15 1 13 1 9 1 20 2 11 1 2 1 24 1 6 1 2 1 6 1 15 1 2 2 6 1 8 1 12 1 4 3 37 1 5 1 47 1 15 1 42 1 510"/><path d="M0 411.77h510" stroke="#ddb0b2" stroke-dasharray="0 8 2 12 1 7 1 7 1 2 1 16 1 16 2 4 3 4 2 10 1 17 5 9 1 4 1 9 1 1 1 2 1 6 1 3 1 12 2 5 2 6 1 4 1 2 2 2 1 2 1 2 1 24 1 7 6 5 5 7 1 4 1 8 2 6 1 6 1 1 1 7 1 9 1 3 1 3 1 1 2 2 1 3 1 7 1 2 5 8 4 13 2 7 1 1 3 1 1 7 1 5 1 12 1 2 4 13 1 1 1 5 1 2 1 2 1 1 5 6 1 20 4 6 2 4 1 2 1 510"/><path d="M0 411.77h510" stroke="#bf7a7a" stroke-dasharray="0 10 2 48 1 41 2 75 3 50 2 169 1 3 3 40 1 510"/><path d="M0 411.77h510" stroke="#efe6ef" stroke-dasharray="0 12 1 3 2 31 1 24 1 2 1 7 1 4 2 1 2 2 1 1 1 13 1 3 1 21 1 2 1 8 1 5 1 2 1 3 1 20 1 12 1 31 1 6 1 2 1 11 1 10 1 31 1 9 2 3 1 1 1 20 2 25 1 4 3 8 1 10 1 9 1 6 1 1 1 4 4 23 4 2 1 16 1 3 2 12 1 510"/><path d="M0 411.77h510" stroke="#ebd2d8" stroke-dasharray="0 14 2 2 1 9 1 3 5 2 1 3 2 2 2 1 7 5 3 1 1 1 1 2 1 1 1 4 1 7 1 5 1 3 1 33 2 1 3 5 1 1 1 4 1 4 1 11 4 21 1 16 2 9 5 2 5 5 1 30 1 9 2 10 1 3 2 13 1 1 1 5 1 4 2 1 1 14 1 3 1 7 5 6 4 5 3 4 1 11 2 7 3 9 1 11 7 1 5 7 1 4 2 11 1 2 2 7 3 1 3 10 1 5 4 7 1 510"/><path d="M0 411.77h510" stroke="#6c68b4" stroke-dasharray="0 95 1 2 1 112 5 510"/><path d="M0 411.77h510" stroke="#9898cf" stroke-dasharray="0 124 6 26 1 1 1 23 1 10 2 108 1 27 1 16 1 510"/><path d="M0 424.44h510" stroke="#c8c8e4" stroke-dasharray="0 0 4 8 2 11 2 5 8 13 6 1 1 12 1 2 1 6 5 8 1 9 1 6 1 4 3 11 2 4 1 6 2 7 4 2 1 11 1 2 5 4 2 7 5 4 1 1 1 3 2 2 1 14 1 28 1 9 2 17 1 6 2 3 1 28 2 32 1 12 1 16 1 22 1 12 1 14 1 13 4 510"/><path d="M0 424.44h510" stroke="#efe6ef" stroke-dasharray="0 4 1 10 1 33 4 16 1 1 2 4 1 15 3 12 5 12 7 7 1 9 4 8 1 19 2 20 1 18 3 1 1 6 5 21 1 4 2 10 1 5 3 3 3 9 4 6 5 2 1 14 1 1 1 2 2 7 1 14 2 15 1 13 1 16 1 7 1 1 1 7 3 8 2 21 1 8 1 19 1 12 2 510"/><path d="M0 424.44h510" stroke="#b0b0da" stroke-dasharray="0 5 3 2 2 33 1 1 1 15 5 6 1 25 6 11 1 29 2 10 1 23 1 14 4 3 2 4 1 2 1 5 1 4 1 12 3 3 1 15 4 510"/><path d="M0 424.44h510" stroke="#9898cf" stroke-dasharray="0 8 2 14 1 50 1 155 2 58 1 51 1 137 1 510"/><path d="M0 424.44h510" stroke="#ebd2d8" stroke-dasharray="0 14 1 4 1 1 3 3 1 18 1 23 1 7 1 13 1 14 1 14 1 11 2 1 1 15 1 8 1 3 1 6 2 16 2 22 5 1 1 23 5 5 1 17 1 3 5 4 1 17 5 9 2 8 1 12 1 6 2 1 2 1 4 1 1 4 1 11 2 4 5 1 1 2 1 6 5 19 1 9 6 2 1 7 3 1 2 8 2 3 1 3 5 2 1 1 1 1 1 5 1 4 1 1 1 1 1 1 2 5 4 510"/><path d="M0 424.44h510" stroke="#bf7a7a" stroke-dasharray="0 16 3 21 1 117 1 12 1 35 1 22 1 41 1 1 2 11 1 6 1 181 2 8 1 7 1 1 1 510"/><path d="M0 424.44h510" stroke="#d09a9a" stroke-dasharray="0 20 1 7 1 30 1 28 1 8 3 14 1 52 4 79 5 43 1 23 4 3 2 27 1 4 1 8 1 7 2 5 1 5 2 11 1 3 1 5 1 3 1 9 1 14 3 3 1 2 1 9 1 18 1 1 1 5 1 10 1 510"/><path d="M0 424.44h510" stroke="#ddb0b2" stroke-dasharray="0 29 3 9 4 3 1 12 2 5 1 10 4 6 3 23 2 4 1 1 2 11 1 3 5 18 3 14 1 5 5 19 1 2 1 14 2 11 3 13 2 9 4 23 2 2 1 9 1 5 2 3 2 9 1 1 1 1 2 2 2 1 1 1 2 1 1 2 1 2 1 11 7 2 2 3 1 9 1 5 3 5 3 1 2 2 2 1 2 2 1 2 1 1 3 5 1 10 3 14 2 4 2 1 2 9 1 4 1 2 1 1 1 2 1 5 1 2 1 3 1 510"/><path d="M0 437.12h510" stroke="#c8c8e4" stroke-dasharray="0 0 1 10 4 4 1 13 1 1 1 8 1 7 1 4 3 13 4 8 1 2 1 6 1 6 1 1 3 9 3 5 1 2 5 6 1 7 2 19 1 2 1 12 1 6 1 31 2 7 1 20 1 1 3 5 4 17 2 3 4 23 1 1 2 10 1 17 2 1 2 1 3 2 1 17 4 1 1 11 1 16 1 1 1 14 2 5 1 3 3 12 1 29 1 21 1 510"/><path d="M0 437.12h510" stroke="#6c68b4" stroke-dasharray="0 1 1 14 2 14 1 12 2 510"/><path d="M0 437.12h510" stroke="#ddb0b2" stroke-dasharray="0 2 1 15 1 7 1 1 2 11 3 3 1 23 1 10 1 3 1 5 1 1 1 28 1 17 1 2 2 17 1 1 2 7 2 1 1 1 1 8 2 4 5 3 1 6 1 1 1 3 5 12 2 1 1 3 8 11 2 1 1 4 1 5 2 18 3 14 5 6 5 3 1 5 2 1 1 4 5 2 1 7 1 2 1 7 1 4 3 22 1 1 6 18 1 12 1 4 1 5 1 1 3 12 8 8 1 4 1 7 1 1 1 3 1 5 1 1 2 510"/><path d="M0 437.12h510" stroke="#ebd2d8" stroke-dasharray="0 3 8 4 1 9 1 4 1 22 1 23 1 3 1 9 1 4 6 6 1 1 1 1 1 1 1 21 2 4 1 33 1 1 1 1 1 18 3 2 1 8 1 6 1 3 1 43 3 5 7 20 6 7 1 19 1 19 1 2 1 9 1 12 1 13 2 1 1 7 2 11 3 2 1 6 2 12 2 7 1 6 3 12 2 3 1 4 2 18 1 510"/><path d="M0 437.12h510" stroke="#d09a9a" stroke-dasharray="0 20 2 71 1 19 1 5 1 28 3 13 1 20 3 18 1 5 1 40 1 3 1 9 1 3 1 47 1 10 3 28 5 6 1 7 1 11 1 25 1 4 1 2 1 2 2 4 2 4 1 7 1 6 2 15 1 21 1 1 1 4 2 510"/><path d="M0 437.12h510" stroke="#9898cf" stroke-dasharray="0 22 3 35 5 3 2 37 1 14 1 2 2 8 1 3 1 18 3 7 1 3 1 11 1 20 1 4 1 3 1 19 1 3 1 144 8 510"/><path d="M0 437.12h510" stroke="#efe6ef" stroke-dasharray="0 27 1 3 1 2 1 16 1 2 2 9 1 4 1 1 1 5 3 22 1 5 1 22 3 27 1 6 1 23 1 13 2 27 1 10 5 8 1 24 3 7 8 11 1 10 3 24 1 17 2 19 1 2 2 15 1 5 1 1 1 23 3 12 1 16 1 4 1 3 2 12 2 1 1 510"/><path d="M0 437.12h510" stroke="#4e4aa0" stroke-dasharray="0 36 5 42 1 67 7 510"/><path d="M0 437.12h510" stroke="#b0b0da" stroke-dasharray="0 48 3 5 1 27 1 26 1 3 1 27 1 17 1 9 1 1 1 7 1 9 2 10 1 17 1 3 6 6 1 36 2 57 1 72 1 6 4 14 1 22 1 4 3 42 1 510"/><path d="M0 437.12h510" stroke="#bf7a7a" stroke-dasharray="0 66 2 19 1 1 2 29 2 18 1 41 1 155 4 24 2 41 1 64 1 1 1 2 1 9 5 510"/><path d="M0 449.79h510" stroke="#ddb0b2" stroke-dasharray="0 17 1 5 1 29 2 49 1 11 2 5 1 17 2 19 2 30 1 3 1 7 1 81 2 1 1 69 2 5 1 29 1 4 2 5 1 18 1 9 1 13 1 13 2 1 1 15 1 2 1 15 2 1 2 510"/><path d="M0 449.79h510" stroke="#d09a9a" stroke-dasharray="0 18 1 9 2 21 2 91 1 5 1 1 1 29 1 20 1 37 1 2 3 43 1 10 3 26 1 13 1 10 2 21 2 3 1 4 1 19 2 12 1 3 1 8 3 3 1 8 2 6 1 43 2 510"/><path d="M0 449.79h510" stroke="#bf7a7a" stroke-dasharray="0 19 1 1 2 11 1 24 2 16 1 2 2 16 1 15 1 10 1 23 1 36 2 16 2 12 1 28 1 44 1 6 1 14 2 37 1 9 2 37 1 2 1 17 1 1 1 43 1 1 1 1 2 2 1 7 1 4 1 2 1 2 1 510"/><path d="M0 449.79h510" stroke="#a85656" stroke-dasharray="0 20 1 28 2 4 1 2 1 49 1 12 2 74 1 30 1 8 1 2 1 32 2 22 1 2 1 3 2 48 1 12 1 21 1 37 1 5 1 20 2 1 1 17 1 3 1 2 1 5 1 2 2 1 1 9 1 510"/><path d="M0 449.79h510" stroke="#efe6ef" stroke-dasharray="0 35 1 42 2 99 2 8 1 60 1 62 1 97 2 6 1 8 1 510"/><path d="M0 449.79h510" stroke="#ebd2d8" stroke-dasharray="0 118 2 65 1 165 2 31 1 14 2 23 1 17 1 9 1 3 1 9 1 510"/><path d="M0 449.79h510" stroke="#8f3a3a" stroke-dasharray="0 124 1 132 2 37 1 61 1 113 1 510"/><path d="M0 462.45h510" stroke="#c8c8e4" stroke-dasharray="0 0 1 10 3 3 2 5 1 3 2 64 2 15 3 40 3 3 4 14 3 3 1 1 1 25 1 7 1 15 5 7 2 8 1 7 1 16 2 5 2 7 1 12 1 7 1 3 3 1 2 2 1 5 4 3 1 1 2 2 1 1 1 4 3 9 2 7 1 19 2 2 3 23 1 1 3 22 1 1 1 2 1 3 1 2 1 2 1 11 1 1 1 12 1 1 1 4 3 510"/><path d="M0 462.45h510" stroke="#6c68b4" stroke-dasharray="0 1 1 14 1 22 1 77 1 5 1 26 2 33 1 27 1 510"/><path d="M0 462.45h510" stroke="#ebd2d8" stroke-dasharray="0 2 1 27 1 14 3 22 7 1 2 6 1 5 2 4 1 3 3 19 1 13 5 14 1 15 2 1 1 48 1 6 3 32 5 21 1 6 3 3 1 1 1 2 1 7 1 3 1 3 1 2 1 19 1 1 1 15 2 4 1 9 5 7 2 8 13 2 1 8 1 11 2 1 2 3 1 19 1 3 2 3 2 1 1 4 4 1 2 7 1 7 1 510"/><path d="M0 462.45h510" stroke="#b0b0da" stroke-dasharray="0 3 1 5 1 4 2 3 1 11 1 29 5 2 1 11 3 38 2 25 2 9 1 7 1 23 6 7 2 3 1 11 1 34 1 7 2 37 1 62 1 11 1 12 1 31 2 3 1 23 1 6 2 5 2 4 1 4 2 29 1 510"/><path d="M0 462.45h510" stroke="#ddb0b2" stroke-dasharray="0 4 5 23 1 2 1 4 1 3 1 9 2 4 1 8 1 7 1 11 2 17 1 5 2 4 1 8 1 15 1 7 1 10 3 4 2 14 1 19 1 2 1 4 1 7 2 2 1 1 1 11 1 1 3 16 2 8 11 6 1 2 1 1 2 8 2 1 1 2 1 23 1 8 2 1 1 7 4 3 4 2 1 7 3 11 1 11 2 19 1 12 7 6 2 5 1 6 3 26 1 2 2 3 1 510"/><path d="M0 462.45h510" stroke="#efe6ef" stroke-dasharray="0 10 1 9 4 14 1 9 5 38 1 5 1 1 3 4 2 11 1 5 4 17 2 40 3 17 1 2 1 2 1 1 2 8 1 1 1 13 1 3 2 40 1 7 3 10 1 11 2 8 1 60 2 25 1 5 3 6 1 9 1 6 1 1 2 14 1 11 1 2 1 1 1 9 2 4 2 510"/><path d="M0 462.45h510" stroke="#9898cf" stroke-dasharray="0 25 3 8 2 15 1 12 2 15 2 2 2 7 1 8 1 24 1 12 2 13 1 22 3 13 3 1 3 2 1 15 1 8 1 19 5 3 3 128 1 113 1 510"/><path d="M0 462.45h510" stroke="#d09a9a" stroke-dasharray="0 33 1 7 3 12 4 49 2 5 1 1 1 12 7 30 3 6 1 40 2 10 1 54 3 25 6 14 1 1 3 4 1 6 1 15 1 14 4 10 2 2 1 21 1 26 1 9 1 15 1 2 1 510"/><path d="M0 462.45h510" stroke="#4e4aa0" stroke-dasharray="0 34 1 50 1 114 1 56 1 510"/><path d="M0 462.45h510" stroke="#bf7a7a" stroke-dasharray="0 152 1 22 1 59 1 14 1 121 2 510"/><path d="M0 475.12h510" stroke="#c8c8e4" stroke-dasharray="0 0 2 9 2 6 2 2 5 15 2 2 1 3 1 10 1 4 3 2 1 9 1 5 7 8 4 2 2 4 1 4 1 6 1 2 2 14 2 5 1 1 2 1 2 18 1 5 2 7 1 5 1 4 2 8 2 2 3 4 4 5 3 2 4 1 1 1 1 1 1 4 1 1 1 1 3 2 4 4 1 2 2 8 1 9 1 5 1 10 1 3 2 5 1 14 1 9 1 8 3 2 3 3 1 12 1 6 2 4 3 2 1 14 2 7 1 8 1 1 3 2 1 10 1 21 1 8 1 6 1 18 4 510"/><path d="M0 475.12h510" stroke="#9898cf" stroke-dasharray="0 2 1 52 4 27 1 15 1 4 1 54 3 56 1 510"/><path d="M0 475.12h510" stroke="#ebd2d8" stroke-dasharray="0 3 1 4 2 6 1 13 1 1 3 10 1 13 3 2 2 4 2 23 4 18 2 38 1 7 8 6 5 10 2 2 1 7 1 15 1 1 1 13 1 27 1 8 3 8 1 3 1 3 1 6 1 7 1 2 2 8 3 3 6 3 1 3 1 12 1 4 1 21 1 1 3 2 2 30 1 1 1 12 1 10 2 1 3 35 1 2 1 9 1 510"/><path d="M0 475.12h510" stroke="#b0b0da" stroke-dasharray="0 4 1 12 2 2 2 5 1 6 5 6 1 5 1 1 1 8 1 9 1 7 1 1 1 1 1 25 1 7 1 1 3 8 1 17 2 8 2 14 1 12 1 6 1 5 2 3 3 22 1 16 1 4 1 1 1 21 2 4 1 60 1 12 1 4 1 31 2 17 5 44 6 5 1 510"/><path d="M0 475.12h510" stroke="#bf7a7a" stroke-dasharray="0 5 1 81 1 125 1 55 1 47 2 61 1 64 1 45 1 12 1 510"/><path d="M0 475.12h510" stroke="#d09a9a" stroke-dasharray="0 6 2 7 1 26 1 33 2 21 1 33 13 44 2 5 1 2 2 14 2 19 1 5 1 3 1 23 1 10 1 14 1 29 1 10 1 10 4 11 2 12 1 3 1 16 3 1 7 9 1 4 1 11 1 3 1 14 3 11 1 1 1 510"/><path d="M0 475.12h510" stroke="#efe6ef" stroke-dasharray="0 10 1 2 1 15 1 20 1 2 1 54 1 7 1 35 1 1 1 19 2 1 1 8 2 4 1 17 2 18 2 1 1 16 3 14 2 12 1 3 1 1 1 12 1 2 2 3 1 2 1 4 1 9 1 7 2 4 1 7 1 4 1 13 7 16 1 32 1 1 5 8 2 12 1 5 5 9 2 7 4 3 2 6 4 1 1 510"/><path d="M0 475.12h510" stroke="#ddb0b2" stroke-dasharray="0 14 1 16 1 8 2 6 2 16 1 7 2 2 3 3 1 15 2 10 3 9 2 2 2 18 2 23 1 14 1 23 1 10 1 5 1 15 1 14 2 10 1 7 1 7 2 1 2 2 2 1 1 3 1 2 3 11 2 4 1 13 1 2 3 2 1 26 4 13 1 6 1 3 1 7 2 19 1 9 4 8 2 20 4 1 1 4 1 6 4 6 2 5 1 510"/><path d="M0 475.12h510" stroke="#6c68b4" stroke-dasharray="0 126 1 510"/><path d="M0 487.8h510" stroke="#d09a9a" stroke-dasharray="0 15 2 39 1 130 1 74 1 12 1 38 1 20 1 30 1 8 1 54 1 510"/><path d="M0 487.8h510" stroke="#ddb0b2" stroke-dasharray="0 36 1 57 2 23 1 22 1 213 1 2 1 100 1 29 1 510"/><path d="M0 487.8h510" stroke="#bf7a7a" stroke-dasharray="0 57 1 38 2 36 2 164 1 22 1 118 1 29 1 3 2 1 1 3 1 12 1 510"/><path d="M0 487.8h510" stroke="#efe6ef" stroke-dasharray="0 238 1 510"/><path d="M0 487.8h510" stroke="#ebd2d8" stroke-dasharray="0 281 1 78 1 510"/><path d="M0 487.8h510" stroke="#8f3a3a" stroke-dasharray="0 301 2 55 1 114 1 1 1 2 1 3 1 1 1 6 1 2 2 510"/><path d="M0 487.8h510" stroke="#a85656" stroke-dasharray="0 318 2 146 2 2 1 3 1 5 1 4 4 4 1 510"/><path d="M0 500.46h510" stroke="#b0b0da" stroke-dasharray="0 0 1 3 4 16 1 5 5 2 1 34 1 4 1 9 3 26 1 6 1 21 2 9 1 27 1 2 2 2 3 3 1 1 3 2 2 12 2 1 1 61 1 35 4 4 1 17 1 71 1 18 1 3 1 24 1 10 1 13 3 10 2 510"/><path d="M0 500.46h510" stroke="#ebd2d8" stroke-dasharray="0 1 2 5 3 2 1 8 1 6 1 6 1 20 1 11 3 18 1 2 1 1 2 6 7 8 1 20 1 10 1 2 2 2 2 1 1 17 3 4 1 3 1 21 1 13 1 3 1 3 1 4 1 1 2 6 1 6 2 5 3 17 1 1 1 1 1 5 2 3 1 5 3 24 1 1 1 3 2 1 3 4 1 9 2 1 2 13 3 3 1 5 1 1 1 5 2 4 1 4 2 2 1 8 3 2 4 1 2 2 1 1 2 11 4 5 1 7 1 1 1 2 7 6 2 10 1 5 1 4 2 1 2 510"/><path d="M0 500.46h510" stroke="#c8c8e4" stroke-dasharray="0 3 1 16 2 1 1 20 1 1 1 1 4 8 4 2 1 7 1 26 2 9 2 3 1 15 3 11 3 1 2 10 1 4 5 1 4 12 1 12 1 3 1 1 1 10 1 2 2 1 1 19 1 6 2 6 1 14 3 6 1 9 2 16 1 10 1 19 1 2 1 2 1 15 1 4 3 13 1 2 2 5 2 8 2 3 4 25 2 16 1 3 1 21 5 5 2 2 1 510"/><path d="M0 500.46h510" stroke="#9898cf" stroke-dasharray="0 11 2 51 2 96 1 71 3 5 1 2 1 20 1 49 1 12 1 3 1 47 1 11 1 9 2 510"/><path d="M0 500.46h510" stroke="#efe6ef" stroke-dasharray="0 14 6 18 2 5 1 27 1 4 2 35 1 13 3 5 2 2 1 2 1 16 1 5 1 26 1 7 1 9 3 7 1 8 2 4 1 11 4 12 1 6 4 12 1 5 1 4 4 8 2 13 1 22 1 3 1 1 1 5 5 1 1 9 3 19 1 10 2 9 1 15 2 7 1 21 1 28 1 510"/><path d="M0 500.46h510" stroke="#ddb0b2" stroke-dasharray="0 25 3 24 5 1 2 7 2 12 6 4 2 4 4 9 2 7 4 1 5 3 1 3 1 3 1 14 1 8 1 16 3 12 1 9 1 1 1 7 2 21 1 3 2 2 1 9 2 1 1 10 1 7 3 5 1 1 2 7 1 7 1 7 2 1 2 4 1 1 1 2 1 2 1 2 2 2 1 3 2 8 1 1 1 27 4 3 1 11 1 14 1 5 1 4 1 3 1 12 2 5 1 8 1 6 1 9 5 11 1 4 1 2 2 4 1 510"/><path d="M0 500.46h510" stroke="#d09a9a" stroke-dasharray="0 28 1 6 1 39 2 3 1 33 1 44 1 13 1 21 1 2 1 11 1 16 2 1 1 28 1 8 3 36 4 37 1 2 1 16 3 25 1 5 1 27 1 2 1 5 1 3 1 17 2 510"/><path d="M0 500.46h510" stroke="#bf7a7a" stroke-dasharray="0 40 4 3 1 46 1 47 2 21 2 19 1 28 1 51 1 23 1 66 1 33 1 59 4 1 2 25 1 510"/><path d="M0 513.13h510" stroke="#ebd2d8" stroke-dasharray="0 3 1 17 1 1 1 38 1 75 1 50 1 4 1 35 1 1 1 19 1 7 2 51 1 10 1 37 3 1 1 47 2 10 1 28 2 23 1 11 1 1 1 8 2 2 1 510"/><path d="M0 513.13h510" stroke="#a85656" stroke-dasharray="0 4 2 13 2 5 2 7 1 4 2 9 2 10 2 52 1 42 1 48 1 14 1 8 1 56 1 5 1 14 2 15 1 2 1 27 1 10 2 5 2 13 3 13 2 95 2 510"/><path d="M0 513.13h510" stroke="#bf7a7a" stroke-dasharray="0 6 1 23 1 11 1 1 1 11 2 16 1 16 1 5 1 1 1 7 1 24 2 27 4 34 1 34 1 3 2 26 2 14 2 23 2 6 1 7 1 10 5 2 1 10 1 1 1 12 2 14 1 7 1 12 2 10 1 5 2 6 1 8 2 2 1 16 1 3 1 2 1 3 1 1 3 3 1 8 3 5 1 1 1 510"/><path d="M0 513.13h510" stroke="#ddb0b2" stroke-dasharray="0 25 1 2 2 23 2 4 1 1 1 19 1 16 1 6 2 5 1 24 1 20 1 10 1 2 4 3 1 11 1 3 1 4 3 5 1 1 1 3 1 3 6 7 1 5 1 19 3 8 1 1 1 5 3 5 5 5 2 1 2 5 2 3 2 8 3 7 2 8 2 9 1 2 1 22 1 5 1 3 2 12 2 1 1 8 2 6 1 3 2 20 3 13 2 4 3 1 1 3 3 18 1 1 4 6 1 510"/><path d="M0 513.13h510" stroke="#d09a9a" stroke-dasharray="0 33 2 14 1 5 1 24 1 1 1 1 2 24 2 1 1 14 2 1 1 2 3 31 1 1 2 5 2 13 2 12 2 21 1 5 2 3 1 9 2 2 3 6 3 3 1 1 2 1 1 4 1 9 1 24 1 7 1 2 3 14 1 8 1 9 1 17 2 21 1 3 2 9 2 2 1 5 3 7 2 2 2 6 2 10 1 3 1 17 2 10 1 510"/><path d="M0 513.13h510" stroke="#efe6ef" stroke-dasharray="0 37 1 10 1 24 1 9 1 75 1 16 1 34 1 41 1 19 1 32 1 124 1 4 1 29 1 510"/><path d="M0 513.13h510" stroke="#8f3a3a" stroke-dasharray="0 299 1 65 1 3 1 510"/><path d="M0 525.8h510" stroke="#c8c8e4" stroke-dasharray="0 0 1 2 1 4 1 1 2 2 2 5 1 3 1 2 1 11 1 2 3 2 3 2 1 1 1 3 2 9 2 1 1 2 2 6 1 1 1 5 2 1 3 12 3 5 2 1 1 6 6 6 2 3 4 2 1 11 4 1 1 10 1 22 1 1 2 2 2 1 1 2 3 8 4 6 1 6 2 12 1 5 2 2 1 4 2 1 3 4 1 2 1 4 1 5 2 6 1 3 1 3 1 1 3 6 1 5 1 3 1 7 2 2 1 5 1 2 2 2 2 6 1 5 3 12 2 9 2 19 1 3 1 4 2 3 2 7 1 7 2 8 1 16 1 2 1 1 2 2 1 10 1 3 2 3 1 1 1 510"/><path d="M0 525.8h510" stroke="#ddb0b2" stroke-dasharray="0 1 2 14 3 2 1 16 1 6 1 21 2 4 1 14 1 10 4 3 2 5 1 7 2 1 2 11 1 3 2 6 1 31 1 6 1 16 1 5 1 37 2 12 1 2 1 9 1 4 1 34 1 9 1 1 1 6 4 2 2 5 1 11 1 6 1 1 1 3 1 1 1 1 4 8 6 28 2 5 1 4 5 4 1 2 1 3 1 2 1 7 3 1 1 10 1 4 2 1 1 1 1 3 2 3 1 4 3 3 2 510"/><path d="M0 525.8h510" stroke="#ebd2d8" stroke-dasharray="0 4 1 4 1 3 1 2 1 3 1 2 2 10 1 5 2 9 1 1 1 2 2 4 5 4 1 5 1 1 1 13 1 22 1 2 1 13 3 15 9 8 1 8 1 6 2 4 6 3 1 6 1 2 1 2 1 3 1 35 2 4 2 4 1 12 1 8 1 2 4 14 1 10 1 3 4 8 1 9 4 10 1 4 1 1 2 1 1 18 2 9 5 2 9 2 1 1 3 13 1 6 1 3 1 15 1 3 1 1 8 22 2 510"/><path d="M0 525.8h510" stroke="#efe6ef" stroke-dasharray="0 5 3 18 2 4 1 1 1 1 2 71 1 17 1 33 2 13 2 5 2 12 3 1 1 37 3 55 4 11 1 20 2 27 1 12 1 1 1 6 2 19 1 20 1 2 1 17 1 5 2 2 1 19 1 2 1 8 1 16 1 510"/><path d="M0 525.8h510" stroke="#b0b0da" stroke-dasharray="0 12 1 18 1 1 1 13 1 3 1 27 1 1 3 6 2 6 2 4 1 8 1 1 2 20 1 1 1 9 1 17 1 2 6 11 1 15 1 14 7 11 3 5 4 4 1 2 1 12 1 1 1 35 1 2 2 40 2 10 1 87 1 6 1 28 1 510"/><path d="M0 525.8h510" stroke="#d09a9a" stroke-dasharray="0 29 1 55 1 1 1 17 2 83 1 38 2 26 2 2 1 32 1 21 1 1 1 1 2 8 2 23 2 3 1 21 2 20 1 10 2 6 1 10 1 8 2 11 1 3 2 28 1 4 1 510"/><path d="M0 525.8h510" stroke="#6c68b4" stroke-dasharray="0 30 1 25 1 31 1 35 1 55 1 510"/><path d="M0 525.8h510" stroke="#9898cf" stroke-dasharray="0 38 1 22 2 81 1 36 1 6 1 42 4 13 2 19 1 9 1 5 2 510"/><path d="M0 525.8h510" stroke="#bf7a7a" stroke-dasharray="0 75 1 197 1 6 1 2 1 4 1 12 2 1 2 90 1 33 1 60 1 2 1 510"/><path d="M0 538.48h510" stroke="#9898cf" stroke-dasharray="0 0 3 46 1 2 1 8 1 38 1 101 4 88 1 36 1 87 1 19 2 3 1 29 1 510"/><path d="M0 538.48h510" stroke="#c8c8e4" stroke-dasharray="0 3 1 11 2 9 4 1 1 1 6 1 2 4 1 1 1 14 4 1 4 5 2 5 1 6 4 9 1 9 2 4 1 5 6 5 6 1 5 2 2 3 3 6 8 5 2 2 1 2 1 25 2 4 1 2 2 4 2 9 2 12 5 8 2 2 3 3 1 2 1 1 1 2 1 1 4 8 3 6 5 2 1 1 2 6 1 15 1 3 4 9 1 7 1 2 1 5 1 19 3 7 1 3 3 9 1 4 2 8 2 1 3 3 2 11 3 4 2 1 3 2 1 10 1 1 1 10 1 3 1 2 4 3 1 510"/><path d="M0 538.48h510" stroke="#ddb0b2" stroke-dasharray="0 4 1 2 7 18 1 6 1 2 2 12 1 10 1 8 1 11 1 1 1 5 2 1 1 5 7 4 1 4 2 39 1 1 1 8 5 8 1 9 1 3 2 8 1 4 1 24 2 8 1 20 3 6 2 1 1 27 1 13 2 6 2 11 2 8 7 13 3 2 1 1 1 2 6 9 1 18 3 2 2 2 4 8 1 4 1 1 5 1 1 4 1 11 1 3 4 12 3 510"/><path d="M0 538.48h510" stroke="#b0b0da" stroke-dasharray="0 5 1 11 2 25 2 4 1 4 1 1 1 4 1 10 2 14 1 11 1 15 3 4 1 8 1 19 2 5 2 18 2 5 1 1 7 18 1 8 3 2 3 11 2 4 2 8 4 4 2 20 1 28 2 22 1 37 2 1 1 31 2 37 1 7 1 7 1 29 1 510"/><path d="M0 538.48h510" stroke="#efe6ef" stroke-dasharray="0 6 1 46 2 20 1 4 2 13 1 16 1 12 1 37 1 33 3 7 1 55 1 25 4 6 6 11 1 3 1 14 3 10 2 1 1 15 1 32 1 2 2 4 5 33 1 34 1 3 1 13 1 8 1 510"/><path d="M0 538.48h510" stroke="#d09a9a" stroke-dasharray="0 14 1 6 1 1 3 53 1 33 1 9 1 11 1 19 1 52 2 21 3 10 1 30 2 18 1 27 1 40 2 8 2 20 1 63 1 19 1 3 2 1 1 510"/><path d="M0 538.48h510" stroke="#ebd2d8" stroke-dasharray="0 19 2 1 1 7 1 16 1 3 1 6 3 11 1 9 2 1 3 10 1 3 2 28 1 1 1 8 1 5 2 8 1 28 1 17 1 6 1 2 1 1 2 2 1 11 3 2 1 7 1 8 2 4 1 15 1 14 1 16 1 2 1 7 1 2 1 2 4 8 2 9 1 1 3 13 4 1 1 10 2 9 1 1 3 5 1 10 2 9 2 6 1 9 1 18 1 3 1 3 2 5 1 10 1 4 1 510"/><path d="M0 538.48h510" stroke="#bf7a7a" stroke-dasharray="0 136 1 46 2 134 1 12 1 125 1 510"/><path d="M0 538.48h510" stroke="#6c68b4" stroke-dasharray="0 245 2 241 2 6 2 7 3 510"/><path d="M0 551.14h510" stroke="#c8c8e4" stroke-dasharray="0 0 3 7 1 4 2 4 1 3 1 2 1 4 1 5 7 2 2 5 3 1 1 1 7 9 5 3 1 1 2 4 2 22 4 3 1 4 1 3 2 3 8 6 2 6 2 1 3 7 1 1 7 1 2 2 6 1 1 6 4 40 5 1 1 2 1 1 4 3 3 4 1 5 2 7 1 1 1 3 1 14 3 1 1 2 2 1 3 6 1 2 1 1 1 24 1 9 2 5 1 10 1 5 1 2 2 6 1 1 2 18 2 6 2 11 3 9 3 6 4 8 4 4 1 6 2 13 2 510"/><path d="M0 551.14h510" stroke="#efe6ef" stroke-dasharray="0 3 5 6 1 57 2 15 2 19 7 5 2 50 1 38 4 26 1 8 1 40 5 22 3 10 1 5 1 31 1 6 1 8 2 23 2 11 1 3 1 2 2 16 1 7 1 44 1 5 1 510"/><path d="M0 551.14h510" stroke="#9898cf" stroke-dasharray="0 8 2 16 1 31 1 24 1 88 1 20 1 110 1 14 1 17 1 135 3 510"/><path d="M0 551.14h510" stroke="#ddb0b2" stroke-dasharray="0 11 2 9 1 6 2 5 1 1 1 8 1 2 5 16 1 2 1 11 1 4 2 9 1 3 2 17 3 8 2 28 1 3 1 11 1 34 1 2 17 4 1 2 1 5 1 4 1 5 1 4 2 4 3 14 2 12 1 22 1 29 1 6 2 8 1 3 1 7 2 4 1 5 3 11 1 12 1 1 1 15 1 3 2 1 1 4 1 4 2 2 1 19 1 4 3 3 2 1 3 2 1 510"/><path d="M0 551.14h510" stroke="#d09a9a" stroke-dasharray="0 13 1 9 1 13 1 22 1 60 1 33 4 3 1 49 1 26 2 1 1 37 1 5 1 1 1 12 1 7 1 2 1 10 1 43 4 19 1 3 3 23 1 14 1 1 2 2 1 20 1 17 1 4 1 510"/><path d="M0 551.14h510" stroke="#b0b0da" stroke-dasharray="0 17 4 6 1 18 1 28 2 5 1 12 7 44 6 2 1 12 1 18 1 8 6 4 3 1 1 1 1 41 1 14 2 1 1 3 1 2 2 1 2 9 1 5 3 4 1 9 1 8 1 15 12 5 6 17 1 20 1 3 6 6 3 20 1 10 2 8 1 20 1 3 1 510"/><path d="M0 551.14h510" stroke="#ebd2d8" stroke-dasharray="0 24 1 6 2 1 2 32 3 32 3 2 2 18 1 1 3 2 1 32 2 1 1 13 1 22 1 1 1 7 2 17 2 21 1 1 1 20 2 17 1 8 1 15 1 1 1 4 3 15 3 19 3 7 1 19 1 9 3 4 1 5 1 6 1 1 1 11 1 4 1 27 1 5 1 5 1 2 1 3 2 2 2 2 1 510"/><path d="M0 551.14h510" stroke="#6c68b4" stroke-dasharray="0 84 1 253 1 42 2 510"/><path d="M0 551.14h510" stroke="#bf7a7a" stroke-dasharray="0 159 1 171 2 46 1 48 1 10 1 28 5 510"/><path d="M0 563.81h510" stroke="#9898cf" stroke-dasharray="0 0 1 25 3 61 1 31 1 15 1 86 1 64 2 2 1 130 2 3 1 510"/><path d="M0 563.81h510" stroke="#c8c8e4" stroke-dasharray="0 1 1 2 1 19 2 3 2 7 1 3 1 5 1 1 1 2 2 3 2 4 5 6 1 3 1 4 1 6 1 3 1 15 2 4 3 20 1 1 2 4 1 1 1 4 5 6 2 2 2 11 1 3 1 4 3 7 1 2 3 2 1 9 2 2 1 24 7 1 2 5 2 5 1 8 2 3 1 7 1 2 1 2 1 1 1 2 1 3 2 30 2 5 1 2 2 9 1 4 4 1 2 9 1 21 1 1 3 7 1 1 1 23 1 12 2 3 1 16 1 6 1 1 1 5 2 7 1 7 1 510"/><path d="M0 563.81h510" stroke="#ebd2d8" stroke-dasharray="0 2 1 14 3 2 2 19 1 1 3 3 2 4 1 14 3 1 1 3 1 1 1 6 1 4 1 6 1 1 2 8 1 20 1 1 2 3 1 5 1 15 1 10 2 3 1 4 1 19 1 3 2 1 3 2 1 1 1 3 1 16 8 12 3 6 1 4 2 8 1 5 1 2 1 2 1 15 2 5 1 1 6 1 2 3 1 2 1 2 2 4 2 6 1 2 3 5 1 26 7 4 3 10 1 2 1 3 3 5 1 4 8 6 7 10 1 13 4 4 2 8 1 5 1 510"/><path d="M0 563.81h510" stroke="#ddb0b2" stroke-dasharray="0 3 1 4 1 6 2 3 2 59 1 16 2 2 1 11 3 6 4 5 1 12 1 3 1 1 1 8 1 11 1 3 3 35 2 16 2 13 2 18 1 2 1 1 1 2 1 2 2 2 1 5 1 9 1 1 1 1 2 1 1 1 1 2 1 2 5 8 1 2 3 1 1 8 2 4 2 8 3 1 1 7 1 2 4 1 4 1 1 1 2 2 1 7 1 14 2 1 1 4 1 3 1 2 2 2 1 15 1 19 7 2 1 1 1 6 1 3 1 9 2 1 1 1 1 1 3 510"/><path d="M0 563.81h510" stroke="#b0b0da" stroke-dasharray="0 5 1 34 2 2 1 15 2 7 3 5 1 5 1 1 1 10 2 7 6 17 3 21 1 43 1 6 1 33 1 24 2 2 1 9 2 56 1 11 1 7 1 32 2 68 2 31 2 4 1 1 1 510"/><path d="M0 563.81h510" stroke="#efe6ef" stroke-dasharray="0 6 2 1 6 16 7 11 1 6 1 5 2 14 1 7 3 3 2 27 1 5 1 11 1 6 1 14 2 34 5 15 1 38 1 29 2 31 1 16 2 15 1 30 1 20 1 3 3 20 1 26 1 6 1 8 1 7 1 21 1 510"/><path d="M0 563.81h510" stroke="#d09a9a" stroke-dasharray="0 39 1 60 1 19 1 10 1 1 1 1 1 8 1 8 1 10 2 2 2 3 1 6 3 2 2 39 6 2 1 3 1 30 1 27 1 8 1 58 1 32 3 18 1 13 1 9 4 14 2 11 1 19 2 510"/><path d="M0 563.81h510" stroke="#bf7a7a" stroke-dasharray="0 55 1 132 4 31 1 11 2 47 1 79 1 12 1 85 2 510"/><path d="M0 563.81h510" stroke="#6c68b4" stroke-dasharray="0 154 1 40 1 23 1 510"/><path d="M0 576.49h510" stroke="#d09a9a" stroke-dasharray="0 0 1 5 1 13 1 11 1 20 1 23 1 9 1 10 1 3 1 14 1 98 1 9 3 3 2 16 1 33 4 16 6 38 1 4 1 1 1 10 1 18 2 8 1 62 2 9 1 3 3 24 1 6 1 510"/><path d="M0 576.49h510" stroke="#c8c8e4" stroke-dasharray="0 1 2 12 5 2 1 5 4 3 1 13 1 6 1 19 1 1 2 10 1 3 1 1 1 7 2 1 6 6 3 11 1 9 1 4 3 5 1 36 4 2 3 4 1 4 4 8 2 28 1 3 3 6 2 27 1 16 8 12 3 1 6 1 2 2 1 8 3 4 2 3 1 6 2 4 1 14 2 6 1 3 1 8 1 4 3 19 5 11 3 510"/><path d="M0 576.49h510" stroke="#ddb0b2" stroke-dasharray="0 3 1 3 2 1 1 3 1 12 1 5 2 2 4 10 1 6 1 9 3 1 2 6 1 16 1 1 1 27 1 7 1 6 1 1 4 16 1 8 3 28 2 1 1 14 1 6 2 24 2 8 1 8 3 5 2 6 1 40 1 3 1 6 1 2 2 4 2 1 1 16 1 6 1 3 3 9 1 3 2 9 4 12 5 5 3 4 2 10 3 7 5 1 3 6 6 4 1 11 6 510"/><path d="M0 576.49h510" stroke="#b0b0da" stroke-dasharray="0 4 2 5 1 13 1 16 1 5 1 10 1 1 1 5 1 3 1 28 2 11 1 1 1 10 1 1 5 18 2 9 2 12 4 2 2 13 1 23 1 27 1 1 2 1 1 6 1 6 6 3 1 71 1 89 1 10 2 24 1 510"/><path d="M0 576.49h510" stroke="#ebd2d8" stroke-dasharray="0 9 1 2 1 8 1 1 2 1 1 16 5 12 1 1 5 7 2 13 1 1 3 1 1 10 1 7 1 7 1 1 2 8 1 4 3 11 2 25 1 3 9 5 1 3 2 13 1 13 1 2 6 48 2 1 3 9 1 6 1 9 5 5 1 29 3 4 1 1 1 9 1 7 5 11 1 29 2 5 2 7 1 2 2 3 1 5 1 14 1 6 4 6 3 510"/><path d="M0 576.49h510" stroke="#6c68b4" stroke-dasharray="0 13 1 510"/><path d="M0 576.49h510" stroke="#efe6ef" stroke-dasharray="0 36 1 4 1 10 1 35 1 27 1 1 1 17 3 16 1 1 1 23 1 26 3 7 3 4 1 16 6 12 1 17 4 14 6 9 1 38 1 8 1 5 1 4 1 1 3 2 1 14 2 6 1 12 4 1 3 9 2 6 1 38 1 12 5 3 1 9 2 510"/><path d="M0 576.49h510" stroke="#9898cf" stroke-dasharray="0 50 1 6 1 28 1 16 1 54 4 53 1 24 2 6 1 13 3 60 5 91 1 10 1 66 1 510"/><path d="M0 576.49h510" stroke="#bf7a7a" stroke-dasharray="0 54 2 25 5 37 1 41 8 121 1 7 1 77 1 20 2 2 3 510"/><path d="M0 589.15h510" stroke="#d09a9a" stroke-dasharray="0 0 1 9 4 3 1 20 2 22 2 81 1 39 1 1 2 2 3 1 1 2 4 30 1 6 1 5 3 36 1 8 3 1 2 19 2 42 1 2 1 2 1 1 1 5 1 5 2 7 2 9 2 2 2 27 2 28 1 8 1 31 2 510"/><path d="M0 589.15h510" stroke="#bf7a7a" stroke-dasharray="0 1 2 5 2 27 1 7 1 4 1 29 1 21 1 31 1 4 1 9 1 6 2 4 1 4 1 1 2 6 1 19 1 4 2 15 2 6 1 22 1 7 1 14 1 22 1 6 2 9 2 25 1 3 2 4 1 17 1 8 4 30 2 18 1 23 1 5 1 9 2 2 3 10 1 2 1 7 1 3 2 2 1 510"/><path d="M0 589.15h510" stroke="#a85656" stroke-dasharray="0 15 2 3 4 16 2 111 1 95 1 61 2 14 2 128 1 35 1 510"/><path d="M0 589.15h510" stroke="#ddb0b2" stroke-dasharray="0 34 1 7 1 24 2 6 5 14 2 9 1 6 1 22 1 4 2 2 1 2 2 9 3 15 1 9 1 2 2 5 1 17 2 5 1 13 2 14 1 15 1 2 2 18 1 14 4 4 1 3 1 7 2 21 1 5 6 3 2 1 2 3 1 2 2 1 1 12 1 3 3 7 2 8 1 22 2 24 1 23 1 21 1 510"/><path d="M0 589.15h510" stroke="#8f3a3a" stroke-dasharray="0 35 1 452 1 510"/><path d="M0 589.15h510" stroke="#ebd2d8" stroke-dasharray="0 36 1 7 1 19 3 66 1 8 2 10 2 81 1 10 1 38 1 21 2 5 1 72 1 3 1 3 1 60 2 1 1 4 2 26 2 5 1 510"/><path d="M0 589.15h510" stroke="#efe6ef" stroke-dasharray="0 103 2 45 2 42 1 33 1 1 1 61 1 54 1 4 2 6 1 103 1 10 1 14 1 510"/><path d="M0 601.83h510" stroke="#a85656" stroke-dasharray="0 7 2 9 1 2 1 23 2 17 1 19 1 2 1 45 1 12 2 58 1 33 1 10 1 46 1 2 1 17 1 20 2 44 1 70 1 15 1 27 1 510"/><path d="M0 601.83h510" stroke="#efe6ef" stroke-dasharray="0 11 2 49 2 203 2 6 2 39 1 31 2 16 1 45 1 43 1 26 2 1 1 20 2 510"/><path d="M0 601.83h510" stroke="#ddb0b2" stroke-dasharray="0 15 3 4 1 15 1 16 2 2 2 18 1 1 1 44 1 7 1 4 1 5 1 2 2 18 1 31 2 5 1 6 2 15 1 1 1 3 2 4 2 4 2 11 1 10 2 5 1 7 1 6 1 1 1 1 2 1 2 1 2 11 1 4 1 2 1 17 2 28 2 38 1 25 1 9 3 2 1 8 1 1 2 19 1 8 1 9 1 510"/><path d="M0 601.83h510" stroke="#d09a9a" stroke-dasharray="0 19 2 10 1 4 1 2 1 2 3 12 2 7 1 34 1 10 1 25 1 3 2 25 1 49 1 12 1 12 4 3 4 7 1 2 1 29 1 7 1 3 1 4 2 6 1 6 2 3 2 27 2 15 2 6 1 8 1 2 3 11 1 3 1 3 1 4 3 12 2 17 1 1 2 4 4 17 4 9 3 4 1 510"/><path d="M0 601.83h510" stroke="#bf7a7a" stroke-dasharray="0 35 1 17 1 7 1 3 1 1 1 17 2 9 1 132 2 11 1 16 1 17 2 11 1 24 1 8 1 12 3 2 2 2 2 16 2 2 1 26 1 1 1 4 2 11 2 1 1 3 4 3 2 1 2 14 1 25 3 17 1 510"/><path d="M0 601.83h510" stroke="#ebd2d8" stroke-dasharray="0 82 2 48 1 38 1 8 1 13 1 39 1 1 1 47 1 24 1 15 1 10 1 24 1 97 1 12 1 20 1 11 1 510"/><path d="M0 601.83h510" stroke="#8f3a3a" stroke-dasharray="0 88 2 96 1 82 4 37 2 8 1 132 2 40 1 1 1 510"/><path d="M0 614.5h510" stroke="#d09a9a" stroke-dasharray="0 0 1 9 1 20 1 16 4 2 1 13 2 7 2 13 1 3 2 9 1 18 3 16 1 42 1 5 1 6 1 17 2 23 2 23 3 3 1 13 1 4 1 2 1 17 2 3 1 3 2 21 2 6 3 19 2 7 2 12 2 13 1 8 1 27 1 7 2 5 2 25 1 6 1 510"/><path d="M0 614.5h510" stroke="#bf7a7a" stroke-dasharray="0 1 2 24 2 24 1 5 1 33 1 20 2 2 1 12 1 8 1 2 1 52 1 9 2 1 2 40 1 27 1 18 2 29 1 19 3 2 1 5 2 6 2 6 1 5 2 14 2 4 2 7 2 33 2 9 1 27 1 7 1 2 3 5 1 510"/><path d="M0 614.5h510" stroke="#ddb0b2" stroke-dasharray="0 13 1 24 1 13 1 2 1 9 1 14 1 3 1 2 1 20 2 32 1 39 2 5 1 1 1 10 2 4 1 32 2 9 1 14 2 19 1 6 2 3 1 7 2 8 2 7 2 2 2 2 2 15 1 6 1 7 1 20 3 1 2 3 1 8 1 11 3 2 1 1 1 24 2 10 1 11 1 8 3 10 2 10 2 510"/><path d="M0 614.5h510" stroke="#a85656" stroke-dasharray="0 16 1 89 1 114 2 43 1 11 1 28 1 54 4 8 2 8 1 58 1 9 2 3 1 510"/><path d="M0 614.5h510" stroke="#efe6ef" stroke-dasharray="0 66 2 27 1 34 1 80 1 114 1 7 1 18 1 31 1 77 1 2 1 19 1 510"/><path d="M0 614.5h510" stroke="#ebd2d8" stroke-dasharray="0 70 1 14 1 70 1 40 2 13 2 29 1 32 2 52 1 27 1 11 1 101 2 1 1 17 1 510"/><path d="M0 614.5h510" stroke="#8f3a3a" stroke-dasharray="0 116 1 510"/><path d="M0 627.16h510" stroke="#c8c8e4" stroke-dasharray="0 0 2 18 1 4 1 2 1 1 1 2 1 3 5 3 6 7 1 6 3 1 1 7 1 2 6 20 2 1 2 2 1 2 1 1 2 4 1 7 2 8 2 9 1 3 2 5 2 13 3 3 2 1 1 1 1 12 3 4 1 1 1 2 2 1 1 2 2 2 1 3 1 4 2 1 3 2 5 3 1 12 9 9 1 2 4 3 3 5 1 17 2 1 1 9 4 8 1 4 5 1 2 1 2 22 1 15 5 3 5 1 1 2 3 16 1 11 1 23 1 2 1 6 1 2 1 2 1 6 1 7 3 510"/><path d="M0 627.16h510" stroke="#ddb0b2" stroke-dasharray="0 2 3 19 1 1 1 4 2 11 1 10 2 5 1 16 1 9 1 9 1 1 2 2 1 6 1 1 1 5 4 5 3 6 1 1 2 6 1 5 1 4 5 5 3 15 1 7 2 16 2 15 1 22 1 21 3 5 1 4 3 22 2 8 3 2 1 23 1 5 1 2 1 3 4 6 1 1 3 13 3 16 1 5 6 7 1 5 2 7 5 9 1 4 1 3 1 4 2 1 1 9 3 8 1 4 2 3 2 510"/><path d="M0 627.16h510" stroke="#b0b0da" stroke-dasharray="0 5 4 8 1 25 1 10 1 13 1 1 1 3 1 3 1 13 1 1 1 5 1 14 1 1 1 18 1 2 1 7 1 1 4 3 1 11 1 4 1 17 1 34 3 2 3 17 1 5 1 20 3 48 1 4 8 1 1 11 1 18 1 1 1 15 1 16 1 29 1 3 1 17 3 15 1 14 1 2 1 510"/><path d="M0 627.16h510" stroke="#bf7a7a" stroke-dasharray="0 9 1 65 2 60 1 121 1 67 1 16 1 150 1 9 1 510"/><path d="M0 627.16h510" stroke="#efe6ef" stroke-dasharray="0 10 4 28 1 9 1 6 1 1 1 33 1 8 1 6 1 13 3 17 1 37 2 4 1 4 1 2 1 21 2 19 1 31 1 32 8 47 1 8 2 12 1 17 2 21 1 9 1 7 1 2 1 7 2 25 1 1 2 8 2 13 1 510"/><path d="M0 627.16h510" stroke="#ebd2d8" stroke-dasharray="0 14 3 1 2 1 3 10 3 16 1 9 1 7 2 18 1 1 1 9 1 24 1 5 2 8 1 1 1 19 2 9 2 3 1 17 3 8 1 5 1 5 2 16 1 5 3 10 2 11 1 8 1 11 5 1 5 11 1 4 2 3 1 18 2 12 1 2 2 7 3 8 1 1 8 11 1 12 1 16 1 1 2 3 2 13 1 2 2 4 1 1 2 8 1 8 2 9 1 5 1 3 1 510"/><path d="M0 627.16h510" stroke="#9898cf" stroke-dasharray="0 27 1 1 1 21 1 5 1 30 1 1 1 64 1 16 1 1 3 59 1 15 1 1 3 1 1 56 1 65 1 43 6 510"/><path d="M0 627.16h510" stroke="#6c68b4" stroke-dasharray="0 60 1 36 2 9 1 347 1 510"/><path d="M0 627.16h510" stroke="#d09a9a" stroke-dasharray="0 64 1 8 1 12 2 8 1 95 2 4 2 6 4 52 1 11 1 44 1 44 1 46 1 5 1 33 2 4 1 12 1 1 2 16 1 510"/><path d="M0 639.84h510" stroke="#c8c8e4" stroke-dasharray="0 0 1 8 1 5 2 1 7 1 4 1 1 2 2 7 1 4 2 1 1 1 3 7 4 1 6 5 1 6 1 1 2 35 1 1 1 5 2 1 1 2 3 1 8 11 1 2 2 1 3 2 4 5 8 3 1 4 8 9 1 4 3 4 1 5 2 2 1 1 1 1 2 3 4 5 1 1 4 6 1 2 1 8 7 2 2 2 6 11 2 11 1 2 7 9 3 19 2 11 1 1 4 4 2 11 10 12 5 2 4 9 5 4 3 6 3 4 5 6 1 7 3 2 1 4 3 2 3 1 5 510"/><path d="M0 639.84h510" stroke="#ebd2d8" stroke-dasharray="0 1 1 3 1 1 1 4 2 19 1 8 1 1 1 11 1 2 1 14 2 16 10 3 2 13 2 4 1 5 1 18 1 19 2 8 1 8 3 1 1 18 2 10 2 2 1 5 2 3 1 22 2 11 1 1 1 11 1 7 1 5 1 1 3 12 1 2 1 11 2 1 1 13 2 12 3 7 1 7 1 12 1 19 3 5 1 10 1 26 1 11 1 3 1 1 1 6 1 19 1 510"/><path d="M0 639.84h510" stroke="#bf7a7a" stroke-dasharray="0 2 1 34 1 2 1 5 2 54 1 10 1 15 3 21 1 158 2 26 1 30 1 91 1 10 2 510"/><path d="M0 639.84h510" stroke="#b0b0da" stroke-dasharray="0 3 2 3 1 5 1 21 1 1 1 13 1 28 3 1 1 1 1 22 1 4 5 18 1 17 1 10 1 9 4 26 2 1 2 26 1 4 2 11 1 5 1 6 1 3 2 12 1 56 5 3 1 13 1 8 1 37 5 22 1 14 2 27 1 3 1 2 4 510"/><path d="M0 639.84h510" stroke="#ddb0b2" stroke-dasharray="0 6 1 10 1 7 1 15 1 3 1 4 1 16 1 40 2 2 1 9 3 3 1 8 1 4 1 9 1 4 5 44 1 5 1 3 1 2 1 3 2 26 2 8 1 6 1 2 1 3 1 15 1 7 5 7 1 2 1 8 1 8 2 1 1 2 1 11 1 4 1 5 2 7 1 1 1 9 1 55 2 13 2 7 1 8 3 5 1 3 1 14 1 4 1 510"/><path d="M0 639.84h510" stroke="#d09a9a" stroke-dasharray="0 10 2 20 1 25 1 1 3 21 1 6 1 63 1 53 1 43 2 10 2 19 1 18 1 9 6 30 1 4 4 28 10 11 1 24 3 62 1 510"/><path d="M0 639.84h510" stroke="#efe6ef" stroke-dasharray="0 30 1 8 1 17 1 22 1 9 1 20 1 2 1 20 1 28 1 52 2 9 1 1 3 12 1 4 1 83 1 14 1 10 1 4 1 7 2 8 2 25 3 14 1 4 2 12 4 7 1 20 1 510"/><path d="M0 639.84h510" stroke="#9898cf" stroke-dasharray="0 76 3 24 2 2 1 46 1 8 1 31 3 74 1 185 1 6 1 15 1 510"/><path d="M0 639.84h510" stroke="#6c68b4" stroke-dasharray="0 277 1 510"/><path d="M0 652.5h510" stroke="#ddb0b2" stroke-dasharray="0 0 8 1 3 10 4 1 1 3 2 18 2 10 1 2 1 11 4 14 1 5 1 2 1 6 1 6 1 15 2 15 1 13 2 9 1 6 1 4 1 22 3 1 1 9 1 6 1 18 1 13 1 11 1 6 1 2 3 1 2 19 2 1 2 21 2 2 2 14 1 6 1 3 1 4 4 6 2 4 1 4 1 4 2 6 1 5 3 2 1 4 2 7 10 4 1 1 1 16 2 8 1 2 2 3 2 6 2 7 1 1 2 510"/><path d="M0 652.5h510" stroke="#ebd2d8" stroke-dasharray="0 8 1 3 1 35 1 5 3 1 4 2 2 11 1 5 2 1 1 3 1 24 2 9 6 12 3 6 1 3 1 10 1 5 1 17 1 8 1 15 2 1 4 3 4 4 3 12 1 3 1 13 1 4 4 4 1 29 2 2 1 5 1 11 3 1 2 6 1 6 4 11 1 5 1 13 1 1 1 2 4 2 2 3 1 1 1 2 1 22 1 30 2 15 1 2 2 3 1 4 1 5 1 7 1 510"/><path d="M0 652.5h510" stroke="#efe6ef" stroke-dasharray="0 13 1 12 1 1 2 19 1 7 1 10 2 5 1 6 1 9 1 5 1 7 2 29 1 16 1 14 4 15 1 22 1 3 1 61 1 2 1 3 1 1 1 18 1 3 2 9 1 1 3 3 5 13 2 3 1 10 1 1 1 6 2 10 2 12 1 6 1 39 1 6 2 13 1 40 2 510"/><path d="M0 652.5h510" stroke="#d09a9a" stroke-dasharray="0 14 2 60 1 22 3 38 4 6 1 27 1 15 1 39 1 21 4 1 2 28 1 4 9 43 2 11 1 12 1 32 1 10 1 2 4 8 1 20 7 38 1 510"/><path d="M0 652.5h510" stroke="#c8c8e4" stroke-dasharray="0 16 6 8 1 3 4 2 8 2 1 2 1 8 1 8 4 13 2 1 1 11 2 3 4 8 4 10 1 13 2 1 1 3 2 3 1 12 1 1 2 3 4 2 1 3 2 1 1 1 4 3 1 3 1 17 2 5 2 6 2 5 3 2 1 11 2 5 2 7 1 2 1 4 1 6 2 10 3 16 3 8 1 5 1 17 1 2 1 15 4 5 1 11 1 5 1 5 1 6 1 7 4 1 1 14 1 5 1 7 1 2 2 3 4 5 1 16 3 2 2 7 1 510"/><path d="M0 652.5h510" stroke="#6c68b4" stroke-dasharray="0 33 1 53 1 50 2 39 1 510"/><path d="M0 652.5h510" stroke="#9898cf" stroke-dasharray="0 38 2 57 1 26 1 8 1 53 1 31 1 18 1 5 2 21 1 73 1 510"/><path d="M0 652.5h510" stroke="#b0b0da" stroke-dasharray="0 67 1 2 1 14 1 7 3 17 2 2 2 6 1 6 1 14 1 10 2 1 5 19 1 13 2 2 3 35 1 1 1 9 1 1 1 4 1 4 1 3 1 2 1 10 1 34 1 31 1 5 3 9 2 20 1 22 1 31 2 41 4 510"/><path d="M0 652.5h510" stroke="#bf7a7a" stroke-dasharray="0 207 4 31 1 6 1 69 1 45 1 44 2 2 1 34 1 23 4 7 1 18 1 510"/><path d="M0 665.17h510" stroke="#b0b0da" stroke-dasharray="0 0 1 26 1 11 1 21 3 19 1 3 1 19 1 29 1 29 1 20 2 1 2 14 1 14 2 10 2 33 1 5 3 7 1 7 1 21 3 11 1 7 4 10 1 15 2 15 1 21 1 19 3 12 1 6 3 56 1 510"/><path d="M0 665.17h510" stroke="#efe6ef" stroke-dasharray="0 1 2 12 1 9 1 7 4 3 1 10 1 30 1 5 1 12 4 19 2 18 3 11 5 10 4 23 2 1 2 25 1 20 1 2 1 9 1 3 1 1 1 15 1 14 1 29 3 18 1 11 1 4 1 15 1 1 1 1 1 14 2 3 1 3 6 2 2 6 1 4 4 5 2 6 1 13 1 5 2 35 1 510"/><path d="M0 665.17h510" stroke="#c8c8e4" stroke-dasharray="0 3 1 1 1 2 2 1 2 4 3 11 2 4 2 20 1 10 3 8 1 2 3 2 1 1 3 14 1 5 3 5 2 8 1 1 2 12 1 15 3 12 1 10 1 26 1 1 3 2 6 1 3 10 1 8 1 8 2 3 1 20 1 5 1 1 1 2 2 20 1 1 3 20 1 19 1 10 2 9 1 3 1 15 1 3 1 20 1 4 2 7 1 4 3 18 1 5 2 4 1 5 1 5 4 4 2 510"/><path d="M0 665.17h510" stroke="#bf7a7a" stroke-dasharray="0 4 1 89 1 161 3 36 1 2 1 31 1 49 2 15 1 34 1 37 1 5 1 510"/><path d="M0 665.17h510" stroke="#ebd2d8" stroke-dasharray="0 6 1 7 1 1 1 11 1 19 1 4 6 6 3 5 8 14 1 10 1 6 1 7 1 6 3 2 1 2 1 2 2 8 4 17 3 4 2 1 2 2 4 53 3 1 6 9 1 12 2 3 2 2 3 2 1 14 13 5 1 14 1 8 2 1 1 2 1 7 1 1 1 1 1 2 1 4 4 20 1 3 6 3 1 15 2 5 2 10 1 2 2 8 9 22 4 2 1 3 1 4 2 6 1 510"/><path d="M0 665.17h510" stroke="#d09a9a" stroke-dasharray="0 7 1 12 1 1 1 1 1 4 2 10 7 61 1 7 1 25 1 11 1 12 1 29 2 6 1 3 7 48 2 51 1 3 1 30 3 3 1 15 2 6 1 56 1 510"/><path d="M0 665.17h510" stroke="#ddb0b2" stroke-dasharray="0 10 1 2 1 9 1 25 2 9 1 3 1 3 2 20 1 5 5 9 3 5 3 5 2 3 1 6 1 2 2 11 1 1 2 5 1 5 1 12 1 10 5 4 1 2 1 2 2 26 5 11 1 2 1 3 1 1 1 9 2 7 2 10 1 4 1 21 1 6 3 5 1 1 1 4 3 4 2 6 2 3 1 12 1 4 1 2 1 7 2 1 1 1 2 14 1 7 2 4 1 38 1 2 3 4 2 1 2 2 4 5 1 2 3 7 2 510"/><path d="M0 665.17h510" stroke="#9898cf" stroke-dasharray="0 21 1 4 1 78 1 41 1 5 1 29 1 105 3 71 1 22 1 23 1 55 1 510"/><path d="M0 665.17h510" stroke="#6c68b4" stroke-dasharray="0 52 1 165 1 510"/><path d="M0 677.85h510" stroke="#ddb0b2" stroke-dasharray="0 2 1 26 1 7 2 22 2 10 1 13 2 25 1 4 2 3 1 10 1 22 1 4 2 35 2 8 2 21 1 11 2 5 1 5 3 20 2 5 1 17 1 15 2 3 1 29 1 14 1 14 3 2 1 10 1 1 1 8 1 3 1 2 1 11 2 1 2 2 1 3 1 13 1 2 1 6 2 3 2 5 1 9 2 3 2 3 1 510"/><path d="M0 677.85h510" stroke="#ebd2d8" stroke-dasharray="0 3 1 8 1 12 1 13 1 38 2 10 1 69 1 11 1 1 3 55 1 21 1 59 2 12 1 77 1 8 1 12 2 32 3 2 1 19 1 4 1 11 1 510"/><path d="M0 677.85h510" stroke="#a85656" stroke-dasharray="0 5 1 20 1 13 1 18 2 25 1 45 1 72 2 54 2 17 1 13 2 1 2 2 4 21 1 2 1 63 1 6 2 14 1 5 1 7 1 18 1 35 1 11 2 9 1 510"/><path d="M0 677.85h510" stroke="#d09a9a" stroke-dasharray="0 6 2 3 1 2 2 11 2 27 1 32 1 50 1 13 1 38 2 12 1 4 1 61 1 21 1 59 1 14 1 7 2 3 3 9 3 3 1 1 1 4 5 5 2 5 2 7 1 3 1 7 2 4 1 16 1 1 1 10 2 1 1 1 2 4 1 12 1 1 1 510"/><path d="M0 677.85h510" stroke="#bf7a7a" stroke-dasharray="0 8 1 4 1 21 2 20 1 33 2 18 2 20 2 20 2 38 1 48 1 10 3 53 3 6 2 2 2 19 1 48 2 3 1 8 1 23 1 5 1 4 1 6 2 8 1 4 2 4 1 9 1 17 1 5 2 510"/><path d="M0 677.85h510" stroke="#8f3a3a" stroke-dasharray="0 93 1 296 1 32 1 7 1 510"/><path d="M0 677.85h510" stroke="#efe6ef" stroke-dasharray="0 208 2 121 2 25 1 82 2 16 1 22 1 510"/><path d="M0 690.51h510" stroke="#9898cf" stroke-dasharray="0 0 1 6 1 32 1 17 3 22 3 2 1 20 1 3 2 3 1 16 1 5 1 24 1 13 1 4 1 31 2 4 1 1 2 30 1 9 2 17 1 77 2 38 1 39 4 510"/><path d="M0 690.51h510" stroke="#6c68b4" stroke-dasharray="0 1 1 8 2 36 1 8 1 38 1 60 2 510"/><path d="M0 690.51h510" stroke="#ddb0b2" stroke-dasharray="0 2 1 9 1 41 2 7 1 1 2 1 1 6 1 2 1 3 1 3 1 2 1 4 2 16 1 4 1 2 3 17 1 3 1 2 1 13 2 4 1 10 1 7 1 2 1 12 1 19 1 1 1 7 6 17 1 10 1 6 5 10 2 2 1 4 2 4 2 11 6 1 2 6 1 5 5 3 1 23 1 7 3 1 1 18 4 4 3 10 1 4 1 21 1 5 8 1 1 7 1 4 1 5 5 1 1 13 1 1 1 510"/><path d="M0 690.51h510" stroke="#efe6ef" stroke-dasharray="0 3 2 27 1 3 1 1 1 2 2 2 3 2 2 12 1 7 3 16 2 10 1 6 1 25 4 8 6 25 1 10 1 16 2 33 3 35 1 2 1 17 1 13 1 9 1 10 1 6 2 1 1 5 2 31 2 1 1 5 1 56 1 37 1 1 4 1 4 510"/><path d="M0 690.51h510" stroke="#b0b0da" stroke-dasharray="0 5 1 2 1 7 1 6 1 6 1 2 1 28 1 34 1 26 1 40 1 2 10 4 3 18 1 42 6 33 1 49 1 21 1 15 1 16 2 30 1 18 1 1 1 35 1 29 1 510"/><path d="M0 690.51h510" stroke="#d09a9a" stroke-dasharray="0 6 1 14 2 2 3 6 2 3 1 3 2 70 1 38 2 3 2 2 1 28 1 11 1 5 5 14 1 51 1 8 1 4 1 4 1 7 2 3 1 8 1 11 1 27 2 19 2 7 1 22 6 43 7 3 2 24 1 510"/><path d="M0 690.51h510" stroke="#c8c8e4" stroke-dasharray="0 9 1 3 2 3 3 3 1 6 1 37 1 1 1 7 1 7 1 2 1 2 1 4 2 11 1 7 1 5 10 10 1 45 1 13 2 2 1 5 1 14 2 6 3 15 1 5 4 3 4 6 1 7 1 6 1 1 1 8 3 4 1 1 1 12 4 1 2 24 3 6 2 1 3 7 1 1 1 4 1 1 1 3 1 5 1 13 2 8 3 1 10 3 1 8 2 1 2 41 1 5 1 1 1 510"/><path d="M0 690.51h510" stroke="#ebd2d8" stroke-dasharray="0 15 1 1 1 10 2 7 1 11 1 2 2 16 1 9 2 18 2 14 1 6 1 18 2 2 1 9 1 7 1 16 1 34 1 4 1 5 2 12 1 3 1 6 3 3 4 16 1 3 1 8 1 1 1 5 1 2 1 8 1 14 1 15 1 4 4 3 1 1 1 9 1 7 1 1 1 20 2 6 3 3 2 24 3 2 1 19 1 9 2 3 2 1 2 8 1 14 4 510"/><path d="M0 690.51h510" stroke="#bf7a7a" stroke-dasharray="0 56 1 4 1 40 1 116 2 63 1 25 1 40 1 3 1 5 1 13 1 19 2 90 1 510"/><path d="M0 690.51h510" stroke="#4e4aa0" stroke-dasharray="0 67 1 8 2 26 5 78 2 4 9 510"/><path d="M0 703.18h510" stroke="#c8c8e4" stroke-dasharray="0 0 6 7 9 1 1 2 2 1 4 9 2 9 1 8 1 27 1 2 2 1 1 17 2 9 1 8 1 1 4 1 2 3 1 5 2 3 2 1 1 1 1 2 1 7 8 5 1 1 3 5 1 4 2 3 4 5 2 12 2 2 1 8 2 11 2 6 4 1 1 5 2 1 1 6 1 3 3 2 3 3 2 15 1 4 1 3 2 1 1 1 1 5 1 9 1 4 3 5 2 2 1 4 1 12 1 2 1 29 1 39 1 6 1 5 1 18 12 3 1 1 2 510"/><path d="M0 703.18h510" stroke="#ebd2d8" stroke-dasharray="0 6 2 14 1 18 1 4 1 7 1 6 1 1 3 10 3 16 1 7 3 2 3 40 1 29 2 9 1 5 1 1 1 30 1 9 1 11 1 22 1 8 1 11 2 4 1 1 1 3 7 19 1 3 1 7 1 1 2 3 1 7 1 4 1 14 1 2 1 7 1 2 1 5 1 8 1 16 1 10 1 2 3 8 1 1 4 4 3 9 3 20 1 510"/><path d="M0 703.18h510" stroke="#b0b0da" stroke-dasharray="0 8 2 14 1 3 1 22 1 3 4 7 1 5 1 1 1 7 3 15 1 20 2 3 4 2 2 25 1 3 2 19 1 6 1 3 1 7 3 12 2 1 1 15 1 7 1 1 2 8 6 4 1 1 5 9 1 3 1 3 2 9 1 4 1 71 1 35 2 10 1 10 1 20 2 44 2 510"/><path d="M0 703.18h510" stroke="#d09a9a" stroke-dasharray="0 10 3 72 5 33 2 10 1 19 1 16 1 20 1 3 1 48 1 32 4 25 1 8 1 13 1 6 1 1 3 34 2 1 1 8 3 5 5 3 2 18 2 9 1 3 1 61 1 5 2 510"/><path d="M0 703.18h510" stroke="#ddb0b2" stroke-dasharray="0 25 1 7 6 1 1 3 2 13 1 7 2 11 1 11 1 6 1 6 2 4 2 2 1 1 3 22 3 1 4 5 1 4 1 9 1 13 1 8 1 16 4 17 1 1 3 64 1 4 1 11 2 3 1 3 1 1 1 7 1 5 1 4 1 9 1 5 2 3 8 6 1 2 3 3 1 24 8 20 1 4 3 15 7 3 8 13 2 6 1 510"/><path d="M0 703.18h510" stroke="#efe6ef" stroke-dasharray="0 39 1 12 1 16 1 27 1 3 1 15 1 65 1 3 1 22 1 9 1 5 2 21 2 35 1 33 1 1 1 9 1 1 1 9 1 10 3 8 1 27 2 11 4 1 2 21 1 1 1 3 1 4 4 510"/><path d="M0 703.18h510" stroke="#bf7a7a" stroke-dasharray="0 47 4 24 1 90 1 50 1 26 1 6 2 1 1 49 1 19 1 109 1 31 1 510"/><path d="M0 703.18h510" stroke="#9898cf" stroke-dasharray="0 60 1 9 2 1 1 5 1 1 1 9 1 6 1 3 1 27 2 8 1 13 1 44 1 28 1 9 3 37 1 17 1 36 1 27 1 42 1 57 1 510"/><path d="M0 703.18h510" stroke="#6c68b4" stroke-dasharray="0 111 1 55 4 51 4 119 1 57 1 25 5 510"/><path d="M0 715.86h510" stroke="#d09a9a" stroke-dasharray="0 0 1 93 1 26 1 52 1 96 1 12 1 7 1 3 1 1 1 6 1 7 1 73 1 62 2 17 3 3 3 16 1 14 1 510"/><path d="M0 715.86h510" stroke="#c8c8e4" stroke-dasharray="0 1 1 9 2 4 2 3 2 1 1 3 3 3 3 1 2 2 2 2 1 3 1 9 1 7 5 1 2 2 1 3 1 2 1 2 5 3 3 2 1 8 3 3 2 3 2 3 5 5 1 1 2 6 3 13 1 18 1 1 2 3 5 8 2 5 2 14 8 12 1 2 1 6 2 6 1 1 2 5 1 14 1 6 1 6 1 4 4 9 4 16 2 4 2 3 1 3 1 10 4 11 1 8 2 4 1 19 1 9 2 5 4 4 3 3 4 5 4 4 2 1 2 18 2 7 2 5 1 2 3 510"/><path d="M0 715.86h510" stroke="#9898cf" stroke-dasharray="0 2 2 15 1 67 2 21 1 65 1 65 3 45 1 4 1 14 2 13 1 16 1 64 1 65 1 4 1 510"/><path d="M0 715.86h510" stroke="#b0b0da" stroke-dasharray="0 4 4 1 2 9 1 6 2 27 1 2 2 4 1 14 1 1 1 12 2 29 1 11 1 2 3 8 1 3 1 4 2 12 1 1 1 5 1 2 1 20 2 9 1 2 1 1 1 12 2 1 3 9 1 1 2 3 1 2 2 16 3 4 1 4 1 26 1 5 1 27 1 11 1 11 3 15 1 6 1 1 1 4 2 11 3 20 2 16 1 20 3 2 1 4 1 6 1 7 1 510"/><path d="M0 715.86h510" stroke="#ddb0b2" stroke-dasharray="0 8 1 12 1 4 1 5 2 7 2 5 1 4 1 4 1 15 1 2 2 6 1 17 7 4 2 34 2 6 2 7 3 3 1 20 1 4 1 1 1 2 2 6 1 9 1 1 1 8 3 2 1 7 2 9 1 1 1 13 1 4 1 6 1 2 1 8 1 1 2 11 1 1 2 10 4 8 1 2 1 7 1 1 1 3 2 12 2 8 1 8 1 2 2 7 1 1 1 3 1 3 1 2 2 4 2 15 4 28 1 3 1 8 2 14 3 1 1 510"/><path d="M0 715.86h510" stroke="#ebd2d8" stroke-dasharray="0 13 3 22 1 11 1 4 1 6 3 16 1 2 1 15 2 14 1 8 1 6 1 20 2 5 1 3 3 11 4 5 1 7 4 1 1 5 1 4 1 1 4 2 2 31 1 7 1 3 1 3 3 3 3 12 1 12 2 13 1 5 1 6 8 9 2 8 7 7 5 6 4 7 1 10 2 5 2 3 3 24 1 8 3 4 1 29 4 10 2 510"/><path d="M0 715.86h510" stroke="#efe6ef" stroke-dasharray="0 16 1 7 1 20 2 2 1 4 1 11 3 55 1 8 4 7 1 10 1 1 1 12 3 15 1 78 1 14 2 9 1 22 1 26 2 36 1 16 2 24 1 35 2 12 1 4 2 510"/><path d="M0 715.86h510" stroke="#bf7a7a" stroke-dasharray="0 34 1 17 1 66 2 24 2 70 1 31 2 26 1 26 1 48 1 32 1 9 2 67 1 510"/><path d="M0 715.86h510" stroke="#6c68b4" stroke-dasharray="0 57 1 369 5 510"/><path d="M0 728.52h510" stroke="#d09a9a" stroke-dasharray="0 1 1 15 1 26 2 58 3 36 2 1 2 20 2 29 1 1 4 7 1 2 1 3 1 2 2 4 3 18 2 2 1 3 4 38 2 10 4 1 2 4 1 7 1 7 1 11 1 6 2 8 1 16 1 6 4 42 1 4 4 7 1 6 1 10 2 4 1 510"/><path d="M0 728.52h510" stroke="#ddb0b2" stroke-dasharray="0 2 1 9 2 4 1 8 1 26 1 35 1 26 1 36 1 2 1 12 2 15 2 24 2 5 2 10 1 7 3 2 1 5 2 1 1 1 1 4 2 6 1 12 2 24 1 18 2 2 1 4 2 13 3 1 1 3 2 14 1 62 1 24 3 12 2 5 1 7 4 510"/><path d="M0 728.52h510" stroke="#efe6ef" stroke-dasharray="0 14 1 13 1 126 2 115 2 192 1 510"/><path d="M0 728.52h510" stroke="#bf7a7a" stroke-dasharray="0 22 1 2 2 13 2 103 1 161 1 7 1 2 2 41 1 6 7 12 4 30 2 4 4 4 2 2 2 13 2 35 1 8 1 510"/><path d="M0 728.52h510" stroke="#ebd2d8" stroke-dasharray="0 24 1 18 1 145 1 49 1 94 2 90 1 74 1 510"/><path d="M0 728.52h510" stroke="#a85656" stroke-dasharray="0 42 1 25 2 89 2 55 1 103 2 34 1 29 1 9 2 43 1 20 1 20 2 510"/><path d="M0 741.2h510" stroke="#d09a9a" stroke-dasharray="0 0 3 8 1 15 2 34 1 2 1 11 1 29 2 1 1 9 2 22 1 10 1 29 1 9 2 1 1 26 1 1 1 2 3 32 1 1 3 44 2 26 2 14 1 26 1 1 2 9 2 10 1 9 1 24 3 4 1 11 2 13 1 2 1 5 5 7 1 2 3 510"/><path d="M0 741.2h510" stroke="#ebd2d8" stroke-dasharray="0 3 1 78 2 35 2 20 1 12 1 69 1 20 1 12 2 4 1 24 1 52 1 48 1 52 2 39 2 510"/><path d="M0 741.2h510" stroke="#a85656" stroke-dasharray="0 4 1 17 1 31 1 33 1 66 1 44 1 149 2 33 1 12 1 8 1 2 1 3 1 16 2 16 3 510"/><path d="M0 741.2h510" stroke="#bf7a7a" stroke-dasharray="0 9 1 2 2 15 2 27 2 5 1 6 1 11 1 2 1 2 2 6 1 7 2 4 1 5 1 11 1 5 1 1 1 19 1 49 2 15 1 11 2 21 1 37 2 3 4 10 1 22 1 35 1 63 1 22 2 14 1 2 1 5 1 20 1 510"/><path d="M0 741.2h510" stroke="#ddb0b2" stroke-dasharray="0 34 1 18 1 14 1 10 1 5 2 2 1 9 1 4 2 7 2 27 1 3 1 83 1 20 2 2 1 9 1 5 1 3 4 9 1 1 8 2 2 6 2 4 1 21 1 18 1 18 2 2 2 3 2 9 1 2 1 8 1 9 4 21 3 8 1 1 2 1 1 2 2 5 2 9 1 17 1 5 2 4 1 510"/><path d="M0 741.2h510" stroke="#8f3a3a" stroke-dasharray="0 80 2 374 1 27 1 510"/><path d="M0 741.2h510" stroke="#efe6ef" stroke-dasharray="0 96 2 18 2 26 1 40 1 36 2 115 1 1 1 45 1 510"/><path d="M0 753.87h510" stroke="#ddb0b2" stroke-dasharray="0 0 1 5 3 5 5 20 1 7 2 6 1 5 5 2 8 1 3 16 4 18 1 9 3 7 3 8 1 7 1 12 1 20 1 5 2 14 2 10 1 4 1 6 1 3 1 17 1 46 2 2 1 1 2 7 2 12 1 2 2 3 1 4 1 2 1 7 1 10 1 14 2 1 3 3 3 2 2 8 1 2 1 2 2 1 2 8 1 10 4 11 1 1 2 2 4 4 1 14 4 1 1 5 1 6 1 510"/><path d="M0 753.87h510" stroke="#c8c8e4" stroke-dasharray="0 1 5 14 1 14 4 1 6 7 1 2 1 10 1 12 1 3 1 2 4 13 7 2 1 5 8 5 1 9 7 2 2 3 1 4 2 1 3 1 2 2 2 2 1 4 2 2 2 12 1 2 1 1 6 5 7 9 1 8 1 1 1 4 1 4 4 1 1 3 2 1 1 15 2 4 1 2 1 1 3 3 3 4 2 11 1 11 4 1 1 1 2 8 1 5 2 3 1 2 2 12 2 1 1 3 1 10 2 3 1 8 1 13 2 14 2 9 1 4 2 4 1 8 1 1 7 6 1 10 1 12 2 510"/><path d="M0 753.87h510" stroke="#bf7a7a" stroke-dasharray="0 9 1 107 1 69 1 128 1 46 7 10 1 17 1 14 2 19 1 510"/><path d="M0 753.87h510" stroke="#b0b0da" stroke-dasharray="0 10 4 32 1 4 2 1 1 2 2 22 1 11 2 5 1 11 1 1 1 43 1 8 1 3 1 28 2 8 1 11 1 13 1 8 2 11 1 6 3 3 2 54 1 14 1 1 1 4 2 25 1 30 1 27 1 10 1 17 3 28 5 5 1 510"/><path d="M0 753.87h510" stroke="#ebd2d8" stroke-dasharray="0 19 1 2 2 3 8 14 2 8 2 5 1 15 2 17 1 14 1 10 1 5 1 7 1 11 2 25 1 42 2 1 1 23 2 8 1 2 1 30 3 6 1 4 2 4 1 5 1 2 4 1 1 12 1 3 1 10 1 5 1 16 1 7 1 13 4 5 2 5 1 4 4 1 1 1 2 7 1 4 2 4 3 7 1 16 5 8 4 7 1 1 3 3 2 510"/><path d="M0 753.87h510" stroke="#efe6ef" stroke-dasharray="0 21 1 2 3 58 2 4 2 18 1 3 1 15 1 4 2 12 1 9 1 13 1 2 1 6 1 18 1 23 1 1 1 18 1 7 1 11 3 4 4 11 1 24 1 2 2 20 1 13 2 2 1 12 3 10 1 6 1 16 1 36 1 35 1 510"/><path d="M0 753.87h510" stroke="#6c68b4" stroke-dasharray="0 76 1 202 1 510"/><path d="M0 753.87h510" stroke="#9898cf" stroke-dasharray="0 95 1 6 2 31 1 19 1 22 2 3 1 4 3 1 5 87 2 47 1 48 1 65 1 510"/><path d="M0 753.87h510" stroke="#d09a9a" stroke-dasharray="0 134 1 24 1 3 1 11 1 35 2 15 1 3 4 2 2 3 2 4 1 23 2 7 2 3 2 11 3 8 1 35 1 30 1 4 1 21 1 20 1 4 3 21 1 31 1 510"/></g><text x="104" y="578.6" font-size="19.5" text-anchor="end">CCL5</text><text x="104" y="595.5" font-size="19.5" text-anchor="end">GZMB</text><text x="104" y="620.7" font-size="19.5" text-anchor="end">GZMA</text><text x="104" y="690" font-size="19.5" text-anchor="end">GZMH</text><text x="104" y="708.5" font-size="19.5" text-anchor="end">CXCL13</text><text x="104" y="759" font-size="19.5" text-anchor="end">TIGIT</text><text x="104" y="783.4" font-size="19.5" text-anchor="end">GNLY</text><text x="104" y="870.4" font-size="19.5" text-anchor="end">CCL3</text><text x="104" y="884.3" font-size="19.5" text-anchor="end">LAG3</text><text x="104" y="909.5" font-size="19.5" text-anchor="end">CD27</text><text x="104" y="1024.8" font-size="19.5" text-anchor="end">KLRB1</text><text x="104" y="1061.4" font-size="19.5" text-anchor="end">IL7R</text><text x="104" y="1200.6" font-size="19.5" text-anchor="end">CXCR4</text><path d="M108 562.1L125 571.6L108 581.1zM108 579L125 588.5L108 598zM108 604.2L125 613.7L108 623.2zM108 673.5L125 683L108 692.5zM108 692L125 701.5L108 711zM108 742.5L125 752L108 761.5zM108 766.9L125 776.4L108 785.9zM108 853.9L125 863.4L108 872.9zM108 867.8L125 877.3L108 886.8zM108 893L125 902.5L108 912zM108 1008.3L125 1017.8L108 1027.3zM108 1044.9L125 1054.4L108 1063.9zM108 1184.1L125 1193.6L108 1203.1z" fill="#000"/><path d="M835.5 863.3L813.1 803.4M813.1 803.4L796.6 841.1M889.6 721.4L876.3 766.5M1001.2 662.5L1004.2 631.4M1001.2 662.5L964.7 644.9M957.1 747.3L1019.5 749.1M957.1 747.3L1011.9 799.6M957.1 747.3L1034.3 802.1M957.1 747.3L972.9 808.5M992.2 748.1L1019.5 749.1M992.2 748.1L945.1 770.3M992.2 748.1L1046.3 791.4M992.2 748.1L972.9 808.5M992.2 748.1L992.8 815.6M1019.5 749.1L1007.5 763.9M1019.5 749.1L945.1 770.3M1019.5 749.1L1029.7 828.9M1007.5 763.9L1026.6 780M1007.5 763.9L1034.3 802.1M1007.5 763.9L1064.9 816.1M1007.5 763.9L1029.7 828.9M1007.5 763.9L1007.5 853.6M1007.5 763.9L1052.6 764.4M945.1 770.3L993.5 780M945.1 770.3L1034.3 802.1M993.5 780L1026.6 780M993.5 780L1075.1 791.4M1026.6 780L1075.1 791.4M1026.6 780L1011.9 799.6M1026.6 780L1034.3 802.1M1026.6 780L972.9 808.5M969.3 784.3L1052.6 764.4M1046.3 791.4L1110.7 790.7M1046.3 791.4L1011.9 799.6M1046.3 791.4L1097.2 821.2M1046.3 791.4L1038.6 876.8M1046.3 791.4L1101.6 765.7M1075.1 791.4L1064.9 816.1M1075.1 791.4L1097.2 821.2M1075.1 791.4L1090.9 864M1075.1 791.4L1038.6 876.8M1110.7 790.7L1064.9 816.1M1110.7 790.7L1101.6 765.7M1011.9 799.6L972.9 808.5M1011.9 799.6L1064.9 816.1M1011.9 799.6L1080.2 839.8M1034.3 802.1L992.8 815.6M1034.3 802.1L1115.1 842.9M972.9 808.5L1029.7 828.9M972.9 808.5L1052.6 764.4M1118.4 811.6L1064.9 816.1M1118.4 811.6L1029.7 828.9M1118.4 811.6L1115.1 842.9M1118.4 811.6L1090.9 864M1118.4 811.6L1101.6 765.7M1064.9 816.1L1052.6 764.4M992.8 815.6L1080.2 839.8M1097.2 821.2L1080.2 839.8M1097.2 821.2L1115.1 842.9M1097.2 821.2L1061 846.7M1029.7 828.9L1080.2 839.8M1029.7 828.9L1038.6 876.8M1029.7 828.9L1067.9 883.7M1029.7 828.9L1052.6 764.4M1061 846.7L1038.6 876.8M1061 846.7L1067.9 883.7M1090.9 864L1067.9 883.7M1052.6 764.4L1101.6 765.7" stroke="#cdd6df" stroke-width="1.6" fill="none"/><path d="M1085.3 510.4L1081.4 574.1M1081.4 574.1L1051.4 628.1M1081.4 574.1L1081.4 623.8M1081.4 574.1L1069.2 649.2M811.9 921.9L835.5 863.3M835.5 863.3L796.6 841.1M813.1 803.4L867.9 806.5M796.6 841.1L867.9 806.5M889.6 721.4L945.1 770.3M876.3 766.5L945.1 770.3M964.7 644.9L1004.2 631.4M964.7 644.9L977 679.8M1004.2 631.4L1025.9 640.3M977 679.8L981.3 715M977 679.8L1033 719.3M977 679.8L1020.8 676.8M981.3 715L1033 719.3M1020.8 676.8L1025.9 640.3M1020.8 676.8L1033 719.3M1020.8 676.8L1040.4 697.7M1020.8 676.8L1069.2 649.2M1020.8 676.8L1064.9 681.1M1025.9 640.3L1069.2 649.2M1025.9 640.3L1051.4 628.1M1051.4 628.1L1069.2 649.2M1081.4 623.8L1069.2 649.2M1069.2 649.2L1064.9 681.1M1069.2 649.2L1096 702.2M1064.9 681.1L1096 702.2M1096 702.2L1150 721.4M1096 702.2L1101.6 765.7M1096 702.2L1033 719.3M1150 721.4L1101.6 765.7M1101.6 765.7L1173.7 767.2M1097.2 821.2L1166.8 856.9M1040.4 697.7L1033 719.3M1033 719.3L1052.6 764.4M1033 719.3L957.1 747.3M1033 719.3L1019.5 749.1M1033 719.3L1034.3 802.1M1033 719.3L1064.9 816.1M1025.9 640.3L1033 719.3M1025.9 640.3L1040.4 697.7M1081.4 623.8L1020.8 676.8M1064.9 681.1L1064.9 816.1M1096 702.2L1097.2 821.2M1101.6 765.7L1052.6 764.4M1101.6 765.7L1110.7 790.7M876.3 766.5L1052.6 764.4M1004.2 631.4L977 679.8M1001.2 662.5L1020.8 676.8M981.3 715L957.1 747.3M1020.8 676.8L1019.5 749.1M964.7 644.9L1001.2 662.5M1051.4 628.1L1081.4 623.8M977 679.8L1001.2 662.5M957.1 747.3L992.2 748.1M957.1 747.3L945.1 770.3M957.1 747.3L1026.6 780M992.2 748.1L1026.6 780M992.2 748.1L1052.6 764.4M1019.5 749.1L993.5 780M1019.5 749.1L1026.6 780M1007.5 763.9L1046.3 791.4M1007.5 763.9L972.9 808.5M945.1 770.3L1026.6 780M945.1 770.3L1011.9 799.6M945.1 770.3L972.9 808.5M993.5 780L1046.3 791.4M993.5 780L992.8 815.6M993.5 780L1061 846.7M993.5 780L1052.6 764.4M1026.6 780L969.3 784.3M1026.6 780L992.8 815.6M1026.6 780L1080.2 839.8M1026.6 780L1007.5 853.6M1026.6 780L1052.6 764.4M969.3 784.3L1046.3 791.4M969.3 784.3L1034.3 802.1M969.3 784.3L992.8 815.6M969.3 784.3L1007.5 853.6M1046.3 791.4L1075.1 791.4M1046.3 791.4L1034.3 802.1M1046.3 791.4L1064.9 816.1M1046.3 791.4L992.8 815.6M1046.3 791.4L1080.2 839.8M1046.3 791.4L1090.9 864M1046.3 791.4L1067.9 883.7M1046.3 791.4L1052.6 764.4M1075.1 791.4L1110.7 790.7M1075.1 791.4L1115.1 842.9M1075.1 791.4L1061 846.7M1075.1 791.4L1007.5 853.6M1110.7 790.7L1097.2 821.2M1110.7 790.7L1080.2 839.8M1110.7 790.7L1090.9 864M1011.9 799.6L1034.3 802.1M1011.9 799.6L1007.5 853.6M1011.9 799.6L1038.6 876.8M1011.9 799.6L1052.6 764.4M1034.3 802.1L1118.4 811.6M1034.3 802.1L1064.9 816.1M1034.3 802.1L1029.7 828.9M1034.3 802.1L1080.2 839.8M1034.3 802.1L1007.5 853.6M1034.3 802.1L1090.9 864M1034.3 802.1L1052.6 764.4M1034.3 802.1L1101.6 765.7M972.9 808.5L1038.6 876.8M1118.4 811.6L1097.2 821.2M1118.4 811.6L1080.2 839.8M1118.4 811.6L1052.6 764.4M1064.9 816.1L1007.5 853.6M1064.9 816.1L1090.9 864M1064.9 816.1L1067.9 883.7M1064.9 816.1L1101.6 765.7M1097.2 821.2L1038.6 876.8M1097.2 821.2L1101.6 765.7M1029.7 828.9L1061 846.7M1029.7 828.9L1007.5 853.6M1029.7 828.9L1090.9 864M1080.2 839.8L1007.5 853.6M1080.2 839.8L1067.9 883.7M1115.1 842.9L1061 846.7M1115.1 842.9L1038.6 876.8M1115.1 842.9L1067.9 883.7M1115.1 842.9L1101.6 765.7M1061 846.7L1101.6 765.7M1007.5 853.6L1090.9 864M1007.5 853.6L1038.6 876.8M1007.5 853.6L1067.9 883.7M1038.6 876.8L1067.9 883.7" stroke="#f3ecc6" stroke-width="1.8" fill="none"/><path d="M835.5 863.3L867.9 806.5M867.9 806.5L957.1 747.3M957.1 747.3L1033 719.3M981.3 715L1020.8 676.8M957.1 747.3L1020.8 676.8" stroke="#f5c9b4" stroke-width="3.2" fill="none"/><path d="M1287.4 654.3L1329.2 652.6M1287.4 654.3L1358.5 679.8M1287.4 654.3L1253.5 690.8M1287.4 654.3L1293.8 699.7M1287.4 654.3L1329.2 715.5M1287.4 654.3L1261.9 737.2M1287.4 654.3L1296.3 761.4M1287.4 654.3L1337.6 758M1329.2 652.6L1358.5 679.8M1329.2 652.6L1253.5 690.8M1329.2 652.6L1293.8 699.7M1329.2 652.6L1329.2 715.5M1329.2 652.6L1261.9 737.2M1329.2 652.6L1296.3 761.4M1329.2 652.6L1337.6 758M1358.5 679.8L1253.5 690.8M1358.5 679.8L1293.8 699.7M1358.5 679.8L1329.2 715.5M1358.5 679.8L1261.9 737.2M1358.5 679.8L1296.3 761.4M1358.5 679.8L1337.6 758M1253.5 690.8L1293.8 699.7M1253.5 690.8L1329.2 715.5M1253.5 690.8L1261.9 737.2M1253.5 690.8L1296.3 761.4M1253.5 690.8L1337.6 758M1293.8 699.7L1329.2 715.5M1293.8 699.7L1261.9 737.2M1293.8 699.7L1296.3 761.4M1293.8 699.7L1337.6 758M1329.2 715.5L1261.9 737.2M1329.2 715.5L1296.3 761.4M1329.2 715.5L1337.6 758M1261.9 737.2L1296.3 761.4M1261.9 737.2L1337.6 758M1296.3 761.4L1337.6 758" stroke="#c3cfdb" stroke-width="1.8" fill="none"/><path d="M1376.3 723.1L1287.4 654.3M1376.3 723.1L1329.2 652.6M1376.3 723.1L1358.5 679.8M1376.3 723.1L1253.5 690.8M1376.3 723.1L1293.8 699.7M1376.3 723.1L1329.2 715.5M1376.3 723.1L1261.9 737.2M1376.3 723.1L1296.3 761.4M1376.3 723.1L1337.6 758M1526.1 593.7L1570.7 519.3M1434.9 816.1L1512.9 862.5M1434.9 816.1L1426 907.4" stroke="#f6efcf" stroke-width="3" fill="none"/><path d="M1376.3 723.1L1463.7 663.8M1463.7 663.8L1526.1 593.7M1376.3 723.1L1434.9 816.1" stroke="#f4c6b0" stroke-width="4.5" fill="none"/><circle cx="1085.3" cy="510.4" r="10" fill="#5473d8" stroke="#c9c9c9" stroke-width="0.6"/><circle cx="1081.4" cy="574.1" r="10" fill="#7b93da" stroke="#c9c9c9" stroke-width="0.6"/><circle cx="1051.4" cy="628.1" r="10" fill="#7b93da" stroke="#c9c9c9" stroke-width="0.6"/><circle cx="1081.4" cy="623.8" r="10" fill="#7b93da" stroke="#c9c9c9" stroke-width="0.6"/><circle cx="1004.2" cy="631.4" r="10" fill="#a3b3d8" stroke="#c9c9c9" stroke-width="0.6"/><circle cx="1025.9" cy="640.3" r="10" fill="#eceed6" stroke="#c9c9c9" stroke-width="0.6"/><circle cx="964.7" cy="644.9" r="10" fill="#7b93da" stroke="#c9c9c9" stroke-width="0.6"/><circle cx="1069.2" cy="649.2" r="10" fill="#c5cbd2" stroke="#c9c9c9" stroke-width="0.6"/><circle cx="1001.2" cy="662.5" r="10" fill="#7b93da" stroke="#c9c9c9" stroke-width="0.6"/><circle cx="1020.8" cy="676.8" r="10" fill="#e9a590" stroke="#c9c9c9" stroke-width="0.6"/><circle cx="977" cy="679.8" r="10" fill="#7b93da" stroke="#c9c9c9" stroke-width="0.6"/><circle cx="1064.9" cy="681.1" r="10" fill="#c5cbd2" stroke="#c9c9c9" stroke-width="0.6"/><circle cx="1040.4" cy="697.7" r="10" fill="#eceed6" stroke="#c9c9c9" stroke-width="0.6"/><circle cx="1096" cy="702.2" r="10" fill="#c5cbd2" stroke="#c9c9c9" stroke-width="0.6"/><circle cx="981.3" cy="715" r="10" fill="#a3b3d8" stroke="#c9c9c9" stroke-width="0.6"/><circle cx="1033" cy="719.3" r="10" fill="#d95a50" stroke="#c9c9c9" stroke-width="0.6"/><circle cx="889.6" cy="721.4" r="10" fill="#5473d8" stroke="#c9c9c9" stroke-width="0.6"/><circle cx="1150" cy="721.4" r="10" fill="#5473d8" stroke="#c9c9c9" stroke-width="0.6"/><circle cx="957.1" cy="747.3" r="10" fill="#e9a590" stroke="#c9c9c9" stroke-width="0.6"/><circle cx="992.2" cy="748.1" r="10" fill="#e08472" stroke="#c9c9c9" stroke-width="0.6"/><circle cx="1019.5" cy="749.1" r="10" fill="#e08472" stroke="#c9c9c9" stroke-width="0.6"/><circle cx="876.3" cy="766.5" r="10" fill="#5473d8" stroke="#c9c9c9" stroke-width="0.6"/><circle cx="1007.5" cy="763.9" r="10" fill="#e08472" stroke="#c9c9c9" stroke-width="0.6"/><circle cx="1052.6" cy="764.4" r="10" fill="#d95a50" stroke="#c9c9c9" stroke-width="0.6"/><circle cx="1101.6" cy="765.7" r="10" fill="#e08472" stroke="#c9c9c9" stroke-width="0.6"/><circle cx="1173.7" cy="767.2" r="10" fill="#5473d8" stroke="#c9c9c9" stroke-width="0.6"/><circle cx="945.1" cy="770.3" r="10" fill="#f3d2b6" stroke="#c9c9c9" stroke-width="0.6"/><circle cx="993.5" cy="780" r="10" fill="#e9a590" stroke="#c9c9c9" stroke-width="0.6"/><circle cx="1026.6" cy="780" r="10" fill="#a3b3d8" stroke="#c9c9c9" stroke-width="0.6"/><circle cx="969.3" cy="784.3" r="10" fill="#e9a590" stroke="#c9c9c9" stroke-width="0.6"/><circle cx="1046.3" cy="791.4" r="10" fill="#cc3b3b" stroke="#c9c9c9" stroke-width="0.6"/><circle cx="1075.1" cy="791.4" r="10" fill="#e08472" stroke="#c9c9c9" stroke-width="0.6"/><circle cx="1110.7" cy="790.7" r="10" fill="#f3d2b6" stroke="#c9c9c9" stroke-width="0.6"/><circle cx="1011.9" cy="799.6" r="10" fill="#e9a590" stroke="#c9c9c9" stroke-width="0.6"/><circle cx="1034.3" cy="802.1" r="10" fill="#d95a50" stroke="#c9c9c9" stroke-width="0.6"/><circle cx="813.1" cy="803.4" r="10" fill="#a3b3d8" stroke="#c9c9c9" stroke-width="0.6"/><circle cx="867.9" cy="806.5" r="10" fill="#a3b3d8" stroke="#c9c9c9" stroke-width="0.6"/><circle cx="972.9" cy="808.5" r="10" fill="#e9a590" stroke="#c9c9c9" stroke-width="0.6"/><circle cx="1118.4" cy="811.6" r="10" fill="#f7f3d6" stroke="#c9c9c9" stroke-width="0.6"/><circle cx="1064.9" cy="816.1" r="10" fill="#cc3b3b" stroke="#c9c9c9" stroke-width="0.6"/><circle cx="992.8" cy="815.6" r="10" fill="#e9a590" stroke="#c9c9c9" stroke-width="0.6"/><circle cx="1097.2" cy="821.2" r="10" fill="#d95a50" stroke="#c9c9c9" stroke-width="0.6"/><circle cx="1029.7" cy="828.9" r="10" fill="#d95a50" stroke="#c9c9c9" stroke-width="0.6"/><circle cx="796.6" cy="841.1" r="10" fill="#a3b3d8" stroke="#c9c9c9" stroke-width="0.6"/><circle cx="1080.2" cy="839.8" r="10" fill="#eebca4" stroke="#c9c9c9" stroke-width="0.6"/><circle cx="1115.1" cy="842.9" r="10" fill="#f3d2b6" stroke="#c9c9c9" stroke-width="0.6"/><circle cx="1061" cy="846.7" r="10" fill="#e9a590" stroke="#c9c9c9" stroke-width="0.6"/><circle cx="1007.5" cy="853.6" r="10" fill="#a3b3d8" stroke="#c9c9c9" stroke-width="0.6"/><circle cx="835.5" cy="863.3" r="10" fill="#a3b3d8" stroke="#c9c9c9" stroke-width="0.6"/><circle cx="1166.8" cy="856.9" r="10" fill="#5473d8" stroke="#c9c9c9" stroke-width="0.6"/><circle cx="1090.9" cy="864" r="10" fill="#efb69e" stroke="#c9c9c9" stroke-width="0.6"/><circle cx="1038.6" cy="876.8" r="10" fill="#b9c3d3" stroke="#c9c9c9" stroke-width="0.6"/><circle cx="1067.9" cy="883.7" r="10" fill="#7b93da" stroke="#c9c9c9" stroke-width="0.6"/><circle cx="811.9" cy="921.9" r="10" fill="#5473d8" stroke="#c9c9c9" stroke-width="0.6"/><circle cx="1570.7" cy="519.3" r="14.8" fill="#5473d8" stroke="#c9c9c9" stroke-width="0.7"/><circle cx="1526.1" cy="593.7" r="14.8" fill="#7b93da" stroke="#c9c9c9" stroke-width="0.7"/><circle cx="1287.4" cy="654.3" r="14.8" fill="#e9a590" stroke="#c9c9c9" stroke-width="0.7"/><circle cx="1329.2" cy="652.6" r="14.8" fill="#e9a590" stroke="#c9c9c9" stroke-width="0.7"/><circle cx="1463.7" cy="663.8" r="14.8" fill="#7b93da" stroke="#c9c9c9" stroke-width="0.7"/><circle cx="1358.5" cy="679.8" r="14.8" fill="#e9a590" stroke="#c9c9c9" stroke-width="0.7"/><circle cx="1253.5" cy="690.8" r="14.8" fill="#e9a590" stroke="#c9c9c9" stroke-width="0.7"/><circle cx="1293.8" cy="699.7" r="14.8" fill="#e9a590" stroke="#c9c9c9" stroke-width="0.7"/><circle cx="1329.2" cy="715.5" r="14.8" fill="#e9a590" stroke="#c9c9c9" stroke-width="0.7"/><circle cx="1376.3" cy="723.1" r="14.8" fill="#d4474a" stroke="#c9c9c9" stroke-width="0.7"/><circle cx="1261.9" cy="737.2" r="14.8" fill="#e9a590" stroke="#c9c9c9" stroke-width="0.7"/><circle cx="1296.3" cy="761.4" r="14.8" fill="#e9a590" stroke="#c9c9c9" stroke-width="0.7"/><circle cx="1337.6" cy="758" r="14.8" fill="#e9a590" stroke="#c9c9c9" stroke-width="0.7"/><circle cx="1434.9" cy="816.1" r="14.8" fill="#9fb0d4" stroke="#c9c9c9" stroke-width="0.7"/><circle cx="1512.9" cy="862.5" r="14.8" fill="#5473d8" stroke="#c9c9c9" stroke-width="0.7"/><circle cx="1426" cy="907.4" r="14.8" fill="#5473d8" stroke="#c9c9c9" stroke-width="0.7"/><g fill="#333"><text x="1085.3" y="512.2" font-size="5.2" text-anchor="middle">FABP5</text><text x="1081.4" y="575.9" font-size="5.2" text-anchor="middle">FKBP1A</text><text x="1051.4" y="629.9" font-size="5.2" text-anchor="middle">PPIB</text><text x="1081.4" y="625.6" font-size="5.2" text-anchor="middle">COTL1</text><text x="1004.2" y="633.2" font-size="5.2" text-anchor="middle">YWHAB</text><text x="1025.9" y="642.1" font-size="5.2" text-anchor="middle">PFN1</text><text x="964.7" y="646.7" font-size="5.2" text-anchor="middle">TMSB10</text><text x="1069.2" y="651" font-size="5.2" text-anchor="middle">RHOA</text><text x="1001.2" y="664.3" font-size="5.2" text-anchor="middle">CLIC1</text><text x="1020.8" y="678.6" font-size="5.2" text-anchor="middle">ACTB</text><text x="977" y="681.6" font-size="5.2" text-anchor="middle">PARK7</text><text x="1064.9" y="682.9" font-size="5.2" text-anchor="middle">ARPC1B</text><text x="1040.4" y="699.5" font-size="5.2" text-anchor="middle">TPI1</text><text x="1096" y="704" font-size="5.2" text-anchor="middle">RAC2</text><text x="981.3" y="716.8" font-size="5.2" text-anchor="middle">LGALS3</text><text x="1033" y="721.1" font-size="5.2" text-anchor="middle">GAPDH</text><text x="889.6" y="723.2" font-size="5.2" text-anchor="middle">SHFM1</text><text x="1150" y="723.2" font-size="5.2" text-anchor="middle">LSP1</text><text x="957.1" y="749.1" font-size="5.2" text-anchor="middle">CTSD</text><text x="992.2" y="749.9" font-size="5.2" text-anchor="middle">HLA-DRB1</text><text x="1019.5" y="750.9" font-size="5.2" text-anchor="middle">CD74</text><text x="876.3" y="768.3" font-size="5.2" text-anchor="middle">PSMB10</text><text x="1007.5" y="765.7" font-size="5.2" text-anchor="middle">HLA-DRA</text><text x="1052.6" y="766.2" font-size="5.2" text-anchor="middle">CD3G</text><text x="1101.6" y="767.5" font-size="5.2" text-anchor="middle">CD52</text><text x="1173.7" y="769" font-size="5.2" text-anchor="middle">PTPRCAP</text><text x="945.1" y="772.1" font-size="5.2" text-anchor="middle">PSMB9</text><text x="993.5" y="781.8" font-size="5.2" text-anchor="middle">HLA-DPB1</text><text x="1026.6" y="781.8" font-size="5.2" text-anchor="middle">CCL3</text><text x="969.3" y="786.1" font-size="5.2" text-anchor="middle">HLA-DQA2</text><text x="1046.3" y="793.2" font-size="5.2" text-anchor="middle">CD3D</text><text x="1075.1" y="793.2" font-size="5.2" text-anchor="middle">PRF1</text><text x="1110.7" y="792.5" font-size="5.2" text-anchor="middle">GZMH</text><text x="1011.9" y="801.4" font-size="5.2" text-anchor="middle">HLA-DRB5</text><text x="1034.3" y="803.9" font-size="5.2" text-anchor="middle">CCL5</text><text x="813.1" y="805.2" font-size="5.2" text-anchor="middle">COX6B1</text><text x="867.9" y="808.3" font-size="5.2" text-anchor="middle">ATP5G3</text><text x="972.9" y="810.3" font-size="5.2" text-anchor="middle">HLA-DQA1</text><text x="1118.4" y="813.4" font-size="5.2" text-anchor="middle">CD7</text><text x="1064.9" y="817.9" font-size="5.2" text-anchor="middle">GZMB</text><text x="992.8" y="817.4" font-size="5.2" text-anchor="middle">HLA-DPA1</text><text x="1097.2" y="823" font-size="5.2" text-anchor="middle">GZMA</text><text x="1029.7" y="830.7" font-size="5.2" text-anchor="middle">LAG3</text><text x="796.6" y="842.9" font-size="5.2" text-anchor="middle">ATP5J2</text><text x="1080.2" y="841.6" font-size="5.2" text-anchor="middle">NKG7</text><text x="1115.1" y="844.7" font-size="5.2" text-anchor="middle">GNLY</text><text x="1061" y="848.5" font-size="5.2" text-anchor="middle">CD27</text><text x="1007.5" y="855.4" font-size="5.2" text-anchor="middle">CXCL13</text><text x="835.5" y="865.1" font-size="5.2" text-anchor="middle">NDUFA1</text><text x="1166.8" y="858.7" font-size="5.2" text-anchor="middle">HMGB2</text><text x="1090.9" y="865.8" font-size="5.2" text-anchor="middle">KLRD1</text><text x="1038.6" y="878.6" font-size="5.2" text-anchor="middle">TIGIT</text><text x="1067.9" y="885.5" font-size="5.2" text-anchor="middle">IL32</text><text x="811.9" y="923.7" font-size="5.2" text-anchor="middle">SEC61G</text></g><g fill="#222"><text x="1570.7" y="522.2" font-size="8.2" text-anchor="middle">DUSP2</text><text x="1526.1" y="596.6" font-size="8.2" text-anchor="middle">ZFP36</text><text x="1287.4" y="657.2" font-size="8.2" text-anchor="middle">RPL32</text><text x="1329.2" y="655.5" font-size="8.2" text-anchor="middle">RPS14</text><text x="1463.7" y="666.7" font-size="8.2" text-anchor="middle">JUNB</text><text x="1358.5" y="682.7" font-size="8.2" text-anchor="middle">TPT1</text><text x="1253.5" y="693.7" font-size="8.2" text-anchor="middle">RPL34</text><text x="1293.8" y="702.6" font-size="8.2" text-anchor="middle">EEF1A1</text><text x="1329.2" y="718.4" font-size="8.2" text-anchor="middle">RPL30</text><text x="1376.3" y="726" font-size="8.2" text-anchor="middle">RPS27A</text><text x="1261.9" y="740.1" font-size="8.2" text-anchor="middle">RPS10</text><text x="1296.3" y="764.3" font-size="8.2" text-anchor="middle">RPS12</text><text x="1337.6" y="760.9" font-size="8.2" text-anchor="middle">RPL9</text><text x="1434.9" y="819" font-size="8.2" text-anchor="middle">IL7R</text><text x="1512.9" y="865.4" font-size="8.2" text-anchor="middle">KLRB1</text><text x="1426" y="910.3" font-size="8.2" text-anchor="middle">PDCD1</text></g><text x="987" y="532" font-size="26" text-anchor="middle">CD161-</text><text x="1414" y="532" font-size="26" text-anchor="middle">CD161+</text><path d="M684 952H1639M684 983H1639M684 1324.5H1639" stroke="#000" stroke-width="2.6"/><path d="M684 1108.5H776M684 1231H776" stroke="#000" stroke-width="2.4"/><text x="992" y="976.5" font-size="25" text-anchor="middle" letter-spacing="0.5">CD161-</text><text x="1424" y="976.5" font-size="25" text-anchor="middle" letter-spacing="0.5">CD161+</text><text x="730" y="1055" font-size="25" text-anchor="middle">BP</text><text x="730" y="1178" font-size="25" text-anchor="middle">CC</text><text x="730" y="1287" font-size="25" text-anchor="middle">MF</text><text x="776" y="1008.8" font-size="25" letter-spacing="0.45">MHC Classes I/II-like antigen</text><text x="776" y="1036.4" font-size="25" letter-spacing="0.45">recognition protein</text><text x="776" y="1070.5" font-size="25" letter-spacing="0.45">Immunoglobulin-like domain</text><text x="776" y="1102" font-size="25" letter-spacing="0.45">Chemokine interleukin-8-like domain</text><text x="776" y="1132.8" font-size="25" letter-spacing="0.45">MHC class II protein complex</text><text x="776" y="1163.7" font-size="25" letter-spacing="0.45">Immunological synapse</text><text x="776" y="1211" font-size="25" letter-spacing="0.45">Extracellular region</text><text x="776" y="1256.9" font-size="25" letter-spacing="0.45">Antigen binding</text><text x="776" y="1287.7" font-size="25" letter-spacing="0.45">MHC class II receptor activity</text><text x="776" y="1319" font-size="25" letter-spacing="0.45">CCR5 chemokine receptor binding</text><text x="1209" y="1008.8" font-size="25" letter-spacing="0.45">Ribosomal protein</text><text x="1209" y="1036.4" font-size="25" letter-spacing="0.45">L7Ae/L30e/S12e/Gadd45</text><text x="1209" y="1070.5" font-size="25" letter-spacing="0.45">50S ribosomal protein L30e-like</text><text x="1209" y="1102" font-size="25" letter-spacing="0.45">Zinc finger, CCCH-type superfamily</text><text x="1209" y="1132.8" font-size="25" letter-spacing="0.45">Cytosolic ribosome</text><text x="1209" y="1163.7" font-size="25" letter-spacing="0.45">Ribonucleoprotein complex</text><text x="1209" y="1195" font-size="25" letter-spacing="0.45">Intracellular non-membrane-bounded</text><text x="1209" y="1222.8" font-size="25" letter-spacing="0.45">organelle</text><text x="1209" y="1256.9" font-size="25" letter-spacing="0.45">Structural constituent of ribosome</text><text x="1209" y="1287.7" font-size="25" letter-spacing="0.45">RNA binding</text><text x="1209" y="1319" font-size="25" letter-spacing="0.45">Protein kinase binding</text><path d="M205.7 1631.5C207.9 1630.5 215.8 1630.5 219.1 1625.7C222.3 1620.9 223.3 1616.1 225 1602.6C226.7 1589.1 227.7 1560.8 229.1 1544.7C230.5 1528.6 231.8 1516.1 233.2 1506.1C234.6 1496.1 236 1490 237.3 1484.9C238.5 1479.8 239.6 1473.3 240.6 1475.3C241.6 1477.2 242.3 1489.1 243.2 1496.5C244.2 1503.9 245.2 1511.6 246.2 1519.6C247.3 1527.7 248.3 1534.1 249.6 1544.7C250.9 1555.3 252.5 1572 254 1583.3C255.6 1594.5 256.9 1605.1 258.9 1612.2C260.8 1619.3 263.3 1622.5 265.6 1625.7C267.8 1628.9 271.4 1630.5 272.6 1631.5L272.6 1631.5L205.7 1631.5z" fill="#f39c4a" fill-opacity="0.42"/><path d="M205.7 1631.5C207.9 1630.5 215.8 1630.5 219.1 1625.7C222.3 1620.9 223.3 1616.1 225 1602.6C226.7 1589.1 227.7 1560.8 229.1 1544.7C230.5 1528.6 231.8 1516.1 233.2 1506.1C234.6 1496.1 236 1490 237.3 1484.9C238.5 1479.8 239.6 1473.3 240.6 1475.3C241.6 1477.2 242.3 1489.1 243.2 1496.5C244.2 1503.9 245.2 1511.6 246.2 1519.6C247.3 1527.7 248.3 1534.1 249.6 1544.7C250.9 1555.3 252.5 1572 254 1583.3C255.6 1594.5 256.9 1605.1 258.9 1612.2C260.8 1619.3 263.3 1622.5 265.6 1625.7C267.8 1628.9 271.4 1630.5 272.6 1631.5" fill="none" stroke="#f59a45" stroke-width="1.5"/><path d="M220.9 1631.5C222 1629.9 225.3 1631.5 227.2 1621.9C229.2 1612.2 230.8 1592.6 232.4 1573.6C234.1 1554.7 236 1518.3 237.3 1508C238.5 1497.8 238.8 1516.1 239.9 1511.9C241 1507.7 242.7 1486.5 244 1483C245.2 1479.4 246.2 1486.8 247.3 1490.7C248.4 1494.5 249.6 1497.1 250.7 1506.1C251.8 1515.1 253 1531.8 254 1544.7C255.1 1557.6 255.6 1572 257 1583.3C258.4 1594.5 260.2 1604.8 262.2 1612.2C264.2 1619.6 266.9 1624.4 268.9 1627.6C270.9 1630.9 273.6 1630.9 274.5 1631.5L274.5 1631.5L220.9 1631.5z" fill="#55e03a" fill-opacity="0.42"/><path d="M220.9 1631.5C222 1629.9 225.3 1631.5 227.2 1621.9C229.2 1612.2 230.8 1592.6 232.4 1573.6C234.1 1554.7 236 1518.3 237.3 1508C238.5 1497.8 238.8 1516.1 239.9 1511.9C241 1507.7 242.7 1486.5 244 1483C245.2 1479.4 246.2 1486.8 247.3 1490.7C248.4 1494.5 249.6 1497.1 250.7 1506.1C251.8 1515.1 253 1531.8 254 1544.7C255.1 1557.6 255.6 1572 257 1583.3C258.4 1594.5 260.2 1604.8 262.2 1612.2C264.2 1619.6 266.9 1624.4 268.9 1627.6C270.9 1630.9 273.6 1630.9 274.5 1631.5" fill="none" stroke="#52e635" stroke-width="1.5"/><path d="M155.4 1631.5C157.5 1631 163.7 1630.2 167.7 1628.6C171.7 1627 176.2 1624.9 179.2 1621.9C182.3 1618.8 184 1616.4 185.9 1610.3C187.9 1604.2 189.1 1597.7 190.8 1585.2C192.5 1572.7 194.4 1550.5 196 1535C197.5 1519.6 198.8 1503.9 200.1 1492.6C201.3 1481.4 202.5 1469.5 203.4 1467.5C204.4 1465.6 204.9 1471.4 205.7 1481C206.5 1490.7 207.4 1510 208.3 1525.4C209.1 1540.8 210.1 1558.8 210.9 1573.6C211.7 1588.4 212.3 1605 213.1 1614.1C213.9 1623.3 214.7 1625.7 215.7 1628.6C216.8 1631.5 218.8 1631 219.4 1631.5L219.4 1631.5L155.4 1631.5z" fill="#e84848" fill-opacity="0.42"/><path d="M155.4 1631.5C157.5 1631 163.7 1630.2 167.7 1628.6C171.7 1627 176.2 1624.9 179.2 1621.9C182.3 1618.8 184 1616.4 185.9 1610.3C187.9 1604.2 189.1 1597.7 190.8 1585.2C192.5 1572.7 194.4 1550.5 196 1535C197.5 1519.6 198.8 1503.9 200.1 1492.6C201.3 1481.4 202.5 1469.5 203.4 1467.5C204.4 1465.6 204.9 1471.4 205.7 1481C206.5 1490.7 207.4 1510 208.3 1525.4C209.1 1540.8 210.1 1558.8 210.9 1573.6C211.7 1588.4 212.3 1605 213.1 1614.1C213.9 1623.3 214.7 1625.7 215.7 1628.6C216.8 1631.5 218.8 1631 219.4 1631.5" fill="none" stroke="#ee3b3b" stroke-width="1.5"/><path d="M129.4 1625.7C129.7 1626.7 126.8 1630.5 131.3 1631.5C135.7 1632.5 150.1 1632.1 156.2 1631.5C162.3 1630.9 163.9 1629.6 167.7 1627.6C171.6 1625.7 176.2 1623.1 179.2 1619.9C182.3 1616.7 184 1614.5 185.9 1608.4C187.9 1602.2 189.1 1595.5 190.8 1583.3C192.5 1571.1 194.4 1552.7 196 1535C197.5 1517.4 198.8 1491.6 200.1 1477.2C201.3 1462.7 202.5 1449.9 203.4 1448.2C204.4 1446.6 204.9 1456.3 205.7 1467.5C206.5 1478.8 207.4 1499.7 208.3 1515.8C209.1 1531.8 210.1 1547.9 210.9 1564C211.7 1580.1 212.3 1601.6 213.1 1612.2C213.9 1622.8 214.7 1624.4 215.7 1627.6C216.8 1630.9 218.8 1630.9 219.4 1631.5L219.4 1631.5L129.4 1631.5z" fill="#1eb4e6" fill-opacity="0.42"/><path d="M129.4 1625.7C129.7 1626.7 126.8 1630.5 131.3 1631.5C135.7 1632.5 150.1 1632.1 156.2 1631.5C162.3 1630.9 163.9 1629.6 167.7 1627.6C171.6 1625.7 176.2 1623.1 179.2 1619.9C182.3 1616.7 184 1614.5 185.9 1608.4C187.9 1602.2 189.1 1595.5 190.8 1583.3C192.5 1571.1 194.4 1552.7 196 1535C197.5 1517.4 198.8 1491.6 200.1 1477.2C201.3 1462.7 202.5 1449.9 203.4 1448.2C204.4 1446.6 204.9 1456.3 205.7 1467.5C206.5 1478.8 207.4 1499.7 208.3 1515.8C209.1 1531.8 210.1 1547.9 210.9 1564C211.7 1580.1 212.3 1601.6 213.1 1612.2C213.9 1622.8 214.7 1624.4 215.7 1627.6C216.8 1630.9 218.8 1630.9 219.4 1631.5" fill="none" stroke="#1bb7ee" stroke-width="1.5"/><path d="M129.4 1630.7H332.1" stroke="#52e635" stroke-width="1.4"/><rect x="128.9" y="1428.6" width="203.2" height="202.9" fill="none" stroke="#333" stroke-width="1.3"/><path d="M128.9 1428.6V1631.5H332.1" fill="none" stroke="#111" stroke-width="2"/><path d="M128.9 1631.5h-5M128.9 1621.9h-2.5M128.9 1612.2h-2.5M128.9 1602.6h-2.5M128.9 1592.9h-5M128.9 1583.3h-2.5M128.9 1573.6h-2.5M128.9 1564h-2.5M128.9 1554.3h-5M128.9 1544.7h-2.5M128.9 1535h-2.5M128.9 1525.4h-2.5M128.9 1515.8h-5M128.9 1506.1h-2.5M128.9 1496.5h-2.5M128.9 1486.8h-2.5M128.9 1477.2h-5M128.9 1467.5h-2.5M128.9 1457.9h-2.5M128.9 1448.2h-2.5M128.9 1438.6h-5M129.4 1631.5v5M140.6 1631.5v2.5M147.1 1631.5v2.5M151.8 1631.5v2.5M155.4 1631.5v2.5M158.3 1631.5v2.5M160.8 1631.5v2.5M163 1631.5v2.5M164.9 1631.5v2.5M166.6 1631.5v5M177.8 1631.5v2.5M184.3 1631.5v2.5M189 1631.5v2.5M192.6 1631.5v2.5M195.5 1631.5v2.5M198 1631.5v2.5M200.2 1631.5v2.5M202.1 1631.5v2.5M203.8 1631.5v5M215 1631.5v2.5M221.5 1631.5v2.5M226.2 1631.5v2.5M229.8 1631.5v2.5M232.7 1631.5v2.5M235.2 1631.5v2.5M237.4 1631.5v2.5M239.3 1631.5v2.5M241 1631.5v5M252.2 1631.5v2.5M258.7 1631.5v2.5M263.4 1631.5v2.5M267 1631.5v2.5M269.9 1631.5v2.5M272.4 1631.5v2.5M274.6 1631.5v2.5M276.5 1631.5v2.5M278.2 1631.5v5M289.4 1631.5v2.5M295.9 1631.5v2.5M300.6 1631.5v2.5M304.2 1631.5v2.5M307.1 1631.5v2.5M309.6 1631.5v2.5M311.8 1631.5v2.5M313.7 1631.5v2.5M315.4 1631.5v5" stroke="#111" stroke-width="1"/><text x="118.9" y="1634.5" font-size="7.8" text-anchor="end" fill="#333">0</text><text x="118.9" y="1595.9" font-size="7.8" text-anchor="end" fill="#333">20</text><text x="118.9" y="1557.3" font-size="7.8" text-anchor="end" fill="#333">40</text><text x="118.9" y="1518.8" font-size="7.8" text-anchor="end" fill="#333">60</text><text x="118.9" y="1480.2" font-size="7.8" text-anchor="end" fill="#333">80</text><text x="118.9" y="1441.6" font-size="7.8" text-anchor="end" fill="#333">100</text><text x="138.4" y="1654.5" font-size="8" text-anchor="middle" fill="#333">10<tspan dy="-5" font-size="7">0</tspan></text><text x="175.6" y="1654.5" font-size="8" text-anchor="middle" fill="#333">10<tspan dy="-5" font-size="7">1</tspan></text><text x="212.8" y="1654.5" font-size="8" text-anchor="middle" fill="#333">10<tspan dy="-5" font-size="7">2</tspan></text><text x="250" y="1654.5" font-size="8" text-anchor="middle" fill="#333">10<tspan dy="-5" font-size="7">3</tspan></text><text x="287.2" y="1654.5" font-size="8" text-anchor="middle" fill="#333">10<tspan dy="-5" font-size="7">4</tspan></text><text x="324.4" y="1654.5" font-size="8" text-anchor="middle" fill="#333">10<tspan dy="-5" font-size="7">5</tspan></text><text x="297.1" y="1468.6" font-size="26.5" text-anchor="middle">N</text><path d="M199.3 1895.6C200.5 1894 203.9 1894 206 1886C208.2 1877.9 210.4 1862.8 212.4 1847.4C214.3 1831.9 216 1804 217.6 1793.4C219.1 1782.8 220.4 1787.6 221.7 1783.7C222.9 1779.9 223.9 1767.6 225 1770.2C226.1 1772.8 227.2 1787.9 228.4 1799.1C229.5 1810.4 230.6 1827.4 231.7 1837.7C232.8 1848 233.2 1856.4 234.7 1860.9C236.2 1865.4 238.8 1865.4 240.6 1864.7C242.4 1864.1 243.8 1859.3 245.5 1857C247.1 1854.8 249.2 1851.2 250.7 1851.2C252.1 1851.2 252.7 1854.4 254 1857C255.4 1859.6 257.4 1864.1 258.9 1866.7C260.3 1869.2 261.6 1869.2 262.9 1872.5C264.3 1875.7 265.6 1882.7 267 1886C268.5 1889.2 270 1890.1 271.9 1891.7C273.7 1893.3 277.1 1895 278.2 1895.6L278.2 1895.6L199.3 1895.6z" fill="#f39c4a" fill-opacity="0.42"/><path d="M199.3 1895.6C200.5 1894 203.9 1894 206 1886C208.2 1877.9 210.4 1862.8 212.4 1847.4C214.3 1831.9 216 1804 217.6 1793.4C219.1 1782.8 220.4 1787.6 221.7 1783.7C222.9 1779.9 223.9 1767.6 225 1770.2C226.1 1772.8 227.2 1787.9 228.4 1799.1C229.5 1810.4 230.6 1827.4 231.7 1837.7C232.8 1848 233.2 1856.4 234.7 1860.9C236.2 1865.4 238.8 1865.4 240.6 1864.7C242.4 1864.1 243.8 1859.3 245.5 1857C247.1 1854.8 249.2 1851.2 250.7 1851.2C252.1 1851.2 252.7 1854.4 254 1857C255.4 1859.6 257.4 1864.1 258.9 1866.7C260.3 1869.2 261.6 1869.2 262.9 1872.5C264.3 1875.7 265.6 1882.7 267 1886C268.5 1889.2 270 1890.1 271.9 1891.7C273.7 1893.3 277.1 1895 278.2 1895.6" fill="none" stroke="#f59a45" stroke-width="1.5"/><path d="M202.7 1895.6C204 1894 208.7 1894 210.9 1886C213 1877.9 214 1858.6 215.7 1847.4C217.4 1836.1 219.1 1824.5 220.9 1818.4C222.7 1812.3 224.9 1809.1 226.5 1810.7C228.1 1812.3 229.3 1821 230.6 1828.1C231.8 1835.2 232.9 1847.7 233.9 1853.2C234.9 1858.6 235.2 1861.2 236.5 1860.9C237.9 1860.6 240.3 1856.7 242.1 1851.2C243.9 1845.8 245.8 1834.8 247.3 1828.1C248.8 1821.3 249.8 1810.1 251 1810.7C252.3 1811.4 253.5 1826.8 254.8 1831.9C256.1 1837.1 257.4 1838.1 258.9 1841.6C260.3 1845.1 262 1848 263.7 1853.2C265.4 1858.3 267.2 1866.3 268.9 1872.5C270.6 1878.6 271.9 1886 273.7 1889.8C275.6 1893.7 279 1894.6 280.1 1895.6L280.1 1895.6L202.7 1895.6z" fill="#55e03a" fill-opacity="0.42"/><path d="M202.7 1895.6C204 1894 208.7 1894 210.9 1886C213 1877.9 214 1858.6 215.7 1847.4C217.4 1836.1 219.1 1824.5 220.9 1818.4C222.7 1812.3 224.9 1809.1 226.5 1810.7C228.1 1812.3 229.3 1821 230.6 1828.1C231.8 1835.2 232.9 1847.7 233.9 1853.2C234.9 1858.6 235.2 1861.2 236.5 1860.9C237.9 1860.6 240.3 1856.7 242.1 1851.2C243.9 1845.8 245.8 1834.8 247.3 1828.1C248.8 1821.3 249.8 1810.1 251 1810.7C252.3 1811.4 253.5 1826.8 254.8 1831.9C256.1 1837.1 257.4 1838.1 258.9 1841.6C260.3 1845.1 262 1848 263.7 1853.2C265.4 1858.3 267.2 1866.3 268.9 1872.5C270.6 1878.6 271.9 1886 273.7 1889.8C275.6 1893.7 279 1894.6 280.1 1895.6" fill="none" stroke="#52e635" stroke-width="1.5"/><path d="M175.9 1895.6C177.5 1894.3 182.4 1891.7 185.2 1887.9C188 1884 190.8 1877.6 192.6 1872.5C194.4 1867.3 194.9 1866 196 1857C197.1 1848 198 1834.5 199.3 1818.4C200.7 1802.4 202.8 1774.1 204.2 1760.6C205.5 1747.1 206.5 1735.8 207.5 1737.4C208.5 1739 209.3 1755.1 210.1 1770.2C210.9 1785.3 211.4 1810.4 212.4 1828.1C213.3 1845.8 214.5 1865.7 215.7 1876.3C216.9 1886.9 218.4 1888.5 219.8 1891.7C221.2 1895 223.5 1895 224.3 1895.6L224.3 1895.6L175.9 1895.6z" fill="#e84848" fill-opacity="0.42"/><path d="M175.9 1895.6C177.5 1894.3 182.4 1891.7 185.2 1887.9C188 1884 190.8 1877.6 192.6 1872.5C194.4 1867.3 194.9 1866 196 1857C197.1 1848 198 1834.5 199.3 1818.4C200.7 1802.4 202.8 1774.1 204.2 1760.6C205.5 1747.1 206.5 1735.8 207.5 1737.4C208.5 1739 209.3 1755.1 210.1 1770.2C210.9 1785.3 211.4 1810.4 212.4 1828.1C213.3 1845.8 214.5 1865.7 215.7 1876.3C216.9 1886.9 218.4 1888.5 219.8 1891.7C221.2 1895 223.5 1895 224.3 1895.6" fill="none" stroke="#ee3b3b" stroke-width="1.5"/><path d="M185.9 1895.6C187.1 1893 190.7 1886.6 192.6 1880.2C194.6 1873.7 195.6 1872.1 197.5 1857C199.4 1841.9 202.6 1804 204.2 1789.5C205.8 1775 206.2 1768.6 207.1 1770.2C208.1 1771.8 209.1 1786.3 210.1 1799.1C211.2 1812 212.2 1833.9 213.5 1847.4C214.7 1860.9 216.3 1872.5 217.6 1880.2C218.8 1887.9 219.5 1891.1 220.9 1893.7C222.3 1896.2 225.3 1895.3 226.1 1895.6L226.1 1895.6L185.9 1895.6z" fill="#1eb4e6" fill-opacity="0.42"/><path d="M185.9 1895.6C187.1 1893 190.7 1886.6 192.6 1880.2C194.6 1873.7 195.6 1872.1 197.5 1857C199.4 1841.9 202.6 1804 204.2 1789.5C205.8 1775 206.2 1768.6 207.1 1770.2C208.1 1771.8 209.1 1786.3 210.1 1799.1C211.2 1812 212.2 1833.9 213.5 1847.4C214.7 1860.9 216.3 1872.5 217.6 1880.2C218.8 1887.9 219.5 1891.1 220.9 1893.7C222.3 1896.2 225.3 1895.3 226.1 1895.6" fill="none" stroke="#1bb7ee" stroke-width="1.5"/><path d="M129.4 1894.8H332.1" stroke="#52e635" stroke-width="1.4"/><rect x="128.9" y="1692.8" width="203.2" height="202.8" fill="none" stroke="#333" stroke-width="1.3"/><path d="M128.9 1692.8V1895.6H332.1" fill="none" stroke="#111" stroke-width="2"/><path d="M128.9 1895.6h-5M128.9 1886h-2.5M128.9 1876.3h-2.5M128.9 1866.7h-2.5M128.9 1857h-5M128.9 1847.4h-2.5M128.9 1837.7h-2.5M128.9 1828.1h-2.5M128.9 1818.4h-5M128.9 1808.8h-2.5M128.9 1799.1h-2.5M128.9 1789.5h-2.5M128.9 1779.9h-5M128.9 1770.2h-2.5M128.9 1760.6h-2.5M128.9 1750.9h-2.5M128.9 1741.3h-5M128.9 1731.6h-2.5M128.9 1722h-2.5M128.9 1712.3h-2.5M128.9 1702.7h-5M129.4 1895.6v5M140.6 1895.6v2.5M147.1 1895.6v2.5M151.8 1895.6v2.5M155.4 1895.6v2.5M158.3 1895.6v2.5M160.8 1895.6v2.5M163 1895.6v2.5M164.9 1895.6v2.5M166.6 1895.6v5M177.8 1895.6v2.5M184.3 1895.6v2.5M189 1895.6v2.5M192.6 1895.6v2.5M195.5 1895.6v2.5M198 1895.6v2.5M200.2 1895.6v2.5M202.1 1895.6v2.5M203.8 1895.6v5M215 1895.6v2.5M221.5 1895.6v2.5M226.2 1895.6v2.5M229.8 1895.6v2.5M232.7 1895.6v2.5M235.2 1895.6v2.5M237.4 1895.6v2.5M239.3 1895.6v2.5M241 1895.6v5M252.2 1895.6v2.5M258.7 1895.6v2.5M263.4 1895.6v2.5M267 1895.6v2.5M269.9 1895.6v2.5M272.4 1895.6v2.5M274.6 1895.6v2.5M276.5 1895.6v2.5M278.2 1895.6v5M289.4 1895.6v2.5M295.9 1895.6v2.5M300.6 1895.6v2.5M304.2 1895.6v2.5M307.1 1895.6v2.5M309.6 1895.6v2.5M311.8 1895.6v2.5M313.7 1895.6v2.5M315.4 1895.6v5" stroke="#111" stroke-width="1"/><text x="118.9" y="1898.6" font-size="7.8" text-anchor="end" fill="#333">0</text><text x="118.9" y="1860" font-size="7.8" text-anchor="end" fill="#333">20</text><text x="118.9" y="1821.4" font-size="7.8" text-anchor="end" fill="#333">40</text><text x="118.9" y="1782.9" font-size="7.8" text-anchor="end" fill="#333">60</text><text x="118.9" y="1744.3" font-size="7.8" text-anchor="end" fill="#333">80</text><text x="118.9" y="1705.7" font-size="7.8" text-anchor="end" fill="#333">100</text><text x="138.4" y="1918.6" font-size="8" text-anchor="middle" fill="#333">10<tspan dy="-5" font-size="7">0</tspan></text><text x="175.6" y="1918.6" font-size="8" text-anchor="middle" fill="#333">10<tspan dy="-5" font-size="7">1</tspan></text><text x="212.8" y="1918.6" font-size="8" text-anchor="middle" fill="#333">10<tspan dy="-5" font-size="7">2</tspan></text><text x="250" y="1918.6" font-size="8" text-anchor="middle" fill="#333">10<tspan dy="-5" font-size="7">3</tspan></text><text x="287.2" y="1918.6" font-size="8" text-anchor="middle" fill="#333">10<tspan dy="-5" font-size="7">4</tspan></text><text x="324.4" y="1918.6" font-size="8" text-anchor="middle" fill="#333">10<tspan dy="-5" font-size="7">5</tspan></text><text x="297.1" y="1732.8" font-size="26.5" text-anchor="middle">T</text><path d="M471.3 1627.6C474.1 1627.3 483.8 1626.7 488 1625.7C492.2 1624.7 493.7 1624.1 496.2 1621.9C498.7 1619.6 500.6 1616.4 502.9 1612.2C505.1 1608 507.7 1600.6 509.6 1596.8C511.5 1592.9 512.8 1595.5 514.4 1589.1C516 1582.6 517.6 1568.8 519.2 1558.2C520.9 1547.6 522.9 1536.3 524.5 1525.4C526 1514.5 527.2 1501.9 528.5 1492.6C529.9 1483.3 531 1468.8 532.3 1469.5C533.5 1470.1 534.7 1482.3 536 1496.5C537.3 1510.6 538.7 1537.6 540.1 1554.3C541.4 1571.1 542.7 1585.5 544.2 1596.8C545.7 1608 547.1 1617 549 1621.9C550.9 1626.7 553.5 1624.4 555.7 1625.7C557.9 1627 560 1628.6 562.4 1629.6C564.8 1630.5 568.6 1631.2 569.8 1631.5L569.8 1631.5L471.3 1631.5z" fill="#f39c4a" fill-opacity="0.42"/><path d="M471.3 1627.6C474.1 1627.3 483.8 1626.7 488 1625.7C492.2 1624.7 493.7 1624.1 496.2 1621.9C498.7 1619.6 500.6 1616.4 502.9 1612.2C505.1 1608 507.7 1600.6 509.6 1596.8C511.5 1592.9 512.8 1595.5 514.4 1589.1C516 1582.6 517.6 1568.8 519.2 1558.2C520.9 1547.6 522.9 1536.3 524.5 1525.4C526 1514.5 527.2 1501.9 528.5 1492.6C529.9 1483.3 531 1468.8 532.3 1469.5C533.5 1470.1 534.7 1482.3 536 1496.5C537.3 1510.6 538.7 1537.6 540.1 1554.3C541.4 1571.1 542.7 1585.5 544.2 1596.8C545.7 1608 547.1 1617 549 1621.9C550.9 1626.7 553.5 1624.4 555.7 1625.7C557.9 1627 560 1628.6 562.4 1629.6C564.8 1630.5 568.6 1631.2 569.8 1631.5" fill="none" stroke="#f59a45" stroke-width="1.5"/><path d="M470 1631.5V1535" stroke="#f59a45" stroke-width="2"/><path d="M471.3 1631.5C472.7 1630.9 476.2 1628.3 479.8 1627.6C483.4 1627 489.5 1628.6 492.8 1627.6C496.1 1626.7 497.6 1622.8 499.5 1621.9C501.5 1620.9 502.4 1624.1 504.4 1621.9C506.3 1619.6 509.1 1613.2 511.1 1608.4C513 1603.5 514.2 1599.4 515.9 1592.9C517.6 1586.5 519.1 1581 521.1 1569.8C523.1 1558.5 525.9 1537 527.8 1525.4C529.7 1513.8 531.1 1508.4 532.6 1500.3C534.2 1492.3 535.7 1474.6 537.1 1477.2C538.5 1479.8 539.5 1501.3 540.8 1515.8C542.1 1530.2 543.6 1551.1 544.9 1564C546.3 1576.8 547.6 1584.2 549 1592.9C550.4 1601.6 552 1610.3 553.5 1616.1C554.9 1621.9 555.5 1625.2 557.6 1627.6C559.6 1630.1 563.4 1629.9 565.7 1630.5C568.1 1631.2 570.7 1631.3 571.7 1631.5L571.7 1631.5L471.3 1631.5z" fill="#55e03a" fill-opacity="0.42"/><path d="M471.3 1631.5C472.7 1630.9 476.2 1628.3 479.8 1627.6C483.4 1627 489.5 1628.6 492.8 1627.6C496.1 1626.7 497.6 1622.8 499.5 1621.9C501.5 1620.9 502.4 1624.1 504.4 1621.9C506.3 1619.6 509.1 1613.2 511.1 1608.4C513 1603.5 514.2 1599.4 515.9 1592.9C517.6 1586.5 519.1 1581 521.1 1569.8C523.1 1558.5 525.9 1537 527.8 1525.4C529.7 1513.8 531.1 1508.4 532.6 1500.3C534.2 1492.3 535.7 1474.6 537.1 1477.2C538.5 1479.8 539.5 1501.3 540.8 1515.8C542.1 1530.2 543.6 1551.1 544.9 1564C546.3 1576.8 547.6 1584.2 549 1592.9C550.4 1601.6 552 1610.3 553.5 1616.1C554.9 1621.9 555.5 1625.2 557.6 1627.6C559.6 1630.1 563.4 1629.9 565.7 1630.5C568.1 1631.2 570.7 1631.3 571.7 1631.5" fill="none" stroke="#52e635" stroke-width="1.5"/><path d="M471.3 1631.5C471.6 1629.9 472.3 1627 473.1 1621.9C474 1616.7 475.5 1601.6 476.5 1600.6C477.4 1599.7 477.6 1614.1 478.7 1616.1C479.8 1618 481.4 1614.5 482.8 1612.2C484.2 1610 485.8 1604.2 487.3 1602.6C488.7 1601 490 1604.2 491.3 1602.6C492.7 1601 494.1 1599.4 495.4 1592.9C496.8 1586.5 498.3 1570.4 499.5 1564C500.8 1557.6 501.8 1558.8 502.9 1554.3C504 1549.8 505.3 1538.6 506.2 1537C507.2 1535.4 507.3 1547.3 508.5 1544.7C509.6 1542.1 511.7 1524.8 512.9 1521.5C514.2 1518.3 514.8 1528.3 515.9 1525.4C517 1522.5 518.1 1504.2 519.2 1504.2C520.4 1504.2 521.6 1518.7 522.6 1525.4C523.6 1532.2 524.3 1536.7 525.2 1544.7C526.1 1552.7 526.9 1563 527.8 1573.6C528.7 1584.2 529.7 1599.7 530.8 1608.4C531.8 1617 532.7 1621.9 534.1 1625.7C535.6 1629.6 538.5 1630.5 539.3 1631.5L539.3 1631.5L471.3 1631.5z" fill="#e84848" fill-opacity="0.42"/><path d="M471.3 1631.5C471.6 1629.9 472.3 1627 473.1 1621.9C474 1616.7 475.5 1601.6 476.5 1600.6C477.4 1599.7 477.6 1614.1 478.7 1616.1C479.8 1618 481.4 1614.5 482.8 1612.2C484.2 1610 485.8 1604.2 487.3 1602.6C488.7 1601 490 1604.2 491.3 1602.6C492.7 1601 494.1 1599.4 495.4 1592.9C496.8 1586.5 498.3 1570.4 499.5 1564C500.8 1557.6 501.8 1558.8 502.9 1554.3C504 1549.8 505.3 1538.6 506.2 1537C507.2 1535.4 507.3 1547.3 508.5 1544.7C509.6 1542.1 511.7 1524.8 512.9 1521.5C514.2 1518.3 514.8 1528.3 515.9 1525.4C517 1522.5 518.1 1504.2 519.2 1504.2C520.4 1504.2 521.6 1518.7 522.6 1525.4C523.6 1532.2 524.3 1536.7 525.2 1544.7C526.1 1552.7 526.9 1563 527.8 1573.6C528.7 1584.2 529.7 1599.7 530.8 1608.4C531.8 1617 532.7 1621.9 534.1 1625.7C535.6 1629.6 538.5 1630.5 539.3 1631.5" fill="none" stroke="#ee3b3b" stroke-width="1.5"/><path d="M470.9 1631.5C471.3 1629.2 471.6 1620.6 473.1 1618C474.6 1615.4 478.2 1617.7 479.8 1616.1C481.4 1614.5 481.2 1609.6 482.8 1608.4C484.4 1607.1 487.5 1608.4 489.5 1608.4C491.5 1608.4 493 1612.5 494.7 1608.4C496.4 1604.2 498 1586.5 499.5 1583.3C501 1580.1 502.3 1595.5 503.6 1589.1C505 1582.6 506 1555.9 507.7 1544.7C509.4 1533.4 512.1 1523.8 513.7 1521.5C515.2 1519.3 516 1533.1 517 1531.2C518.1 1529.3 519.1 1509.3 520 1510C520.9 1510.6 521.6 1528.6 522.6 1535C523.6 1541.5 524.8 1540.5 525.9 1548.6C527.1 1556.6 528.1 1572 529.3 1583.3C530.5 1594.5 532 1608.4 533.4 1616.1C534.7 1623.8 536 1627 537.5 1629.6C538.9 1632.1 541.2 1631.2 541.9 1631.5L541.9 1631.5L470.9 1631.5z" fill="#1eb4e6" fill-opacity="0.42"/><path d="M470.9 1631.5C471.3 1629.2 471.6 1620.6 473.1 1618C474.6 1615.4 478.2 1617.7 479.8 1616.1C481.4 1614.5 481.2 1609.6 482.8 1608.4C484.4 1607.1 487.5 1608.4 489.5 1608.4C491.5 1608.4 493 1612.5 494.7 1608.4C496.4 1604.2 498 1586.5 499.5 1583.3C501 1580.1 502.3 1595.5 503.6 1589.1C505 1582.6 506 1555.9 507.7 1544.7C509.4 1533.4 512.1 1523.8 513.7 1521.5C515.2 1519.3 516 1533.1 517 1531.2C518.1 1529.3 519.1 1509.3 520 1510C520.9 1510.6 521.6 1528.6 522.6 1535C523.6 1541.5 524.8 1540.5 525.9 1548.6C527.1 1556.6 528.1 1572 529.3 1583.3C530.5 1594.5 532 1608.4 533.4 1616.1C534.7 1623.8 536 1627 537.5 1629.6C538.9 1632.1 541.2 1631.2 541.9 1631.5" fill="none" stroke="#1bb7ee" stroke-width="1.5"/><path d="M470 1631.5V1438.6" stroke="#1bb7ee" stroke-width="2"/><path d="M469.4 1630.7H672.6" stroke="#52e635" stroke-width="1.4"/><rect x="468.9" y="1428.6" width="203.7" height="202.9" fill="none" stroke="#333" stroke-width="1.3"/><path d="M468.9 1428.6V1631.5H672.6" fill="none" stroke="#111" stroke-width="2"/><path d="M468.9 1631.5h-5M468.9 1621.9h-2.5M468.9 1612.2h-2.5M468.9 1602.6h-2.5M468.9 1592.9h-5M468.9 1583.3h-2.5M468.9 1573.6h-2.5M468.9 1564h-2.5M468.9 1554.3h-5M468.9 1544.7h-2.5M468.9 1535h-2.5M468.9 1525.4h-2.5M468.9 1515.8h-5M468.9 1506.1h-2.5M468.9 1496.5h-2.5M468.9 1486.8h-2.5M468.9 1477.2h-5M468.9 1467.5h-2.5M468.9 1457.9h-2.5M468.9 1448.2h-2.5M468.9 1438.6h-5M469.4 1631.5v5M480.6 1631.5v2.5M487.1 1631.5v2.5M491.8 1631.5v2.5M495.4 1631.5v2.5M498.3 1631.5v2.5M500.8 1631.5v2.5M503 1631.5v2.5M504.9 1631.5v2.5M506.6 1631.5v5M517.8 1631.5v2.5M524.3 1631.5v2.5M529 1631.5v2.5M532.6 1631.5v2.5M535.5 1631.5v2.5M538 1631.5v2.5M540.2 1631.5v2.5M542.1 1631.5v2.5M543.8 1631.5v5M555 1631.5v2.5M561.5 1631.5v2.5M566.2 1631.5v2.5M569.8 1631.5v2.5M572.7 1631.5v2.5M575.2 1631.5v2.5M577.4 1631.5v2.5M579.3 1631.5v2.5M581 1631.5v5M592.2 1631.5v2.5M598.7 1631.5v2.5M603.4 1631.5v2.5M607 1631.5v2.5M609.9 1631.5v2.5M612.4 1631.5v2.5M614.6 1631.5v2.5M616.5 1631.5v2.5M618.2 1631.5v5M629.4 1631.5v2.5M635.9 1631.5v2.5M640.6 1631.5v2.5M644.2 1631.5v2.5M647.1 1631.5v2.5M649.6 1631.5v2.5M651.8 1631.5v2.5M653.7 1631.5v2.5M655.4 1631.5v5" stroke="#111" stroke-width="1"/><text x="458.9" y="1634.5" font-size="7.8" text-anchor="end" fill="#333">0</text><text x="458.9" y="1595.9" font-size="7.8" text-anchor="end" fill="#333">20</text><text x="458.9" y="1557.3" font-size="7.8" text-anchor="end" fill="#333">40</text><text x="458.9" y="1518.8" font-size="7.8" text-anchor="end" fill="#333">60</text><text x="458.9" y="1480.2" font-size="7.8" text-anchor="end" fill="#333">80</text><text x="458.9" y="1441.6" font-size="7.8" text-anchor="end" fill="#333">100</text><text x="478.4" y="1654.5" font-size="8" text-anchor="middle" fill="#333">10<tspan dy="-5" font-size="7">0</tspan></text><text x="515.6" y="1654.5" font-size="8" text-anchor="middle" fill="#333">10<tspan dy="-5" font-size="7">1</tspan></text><text x="552.8" y="1654.5" font-size="8" text-anchor="middle" fill="#333">10<tspan dy="-5" font-size="7">2</tspan></text><text x="590" y="1654.5" font-size="8" text-anchor="middle" fill="#333">10<tspan dy="-5" font-size="7">3</tspan></text><text x="627.2" y="1654.5" font-size="8" text-anchor="middle" fill="#333">10<tspan dy="-5" font-size="7">4</tspan></text><text x="664.4" y="1654.5" font-size="8" text-anchor="middle" fill="#333">10<tspan dy="-5" font-size="7">5</tspan></text><text x="637.6" y="1468.6" font-size="26.5" text-anchor="middle">N</text><path d="M494.3 1895.6C495.4 1894.6 498.2 1892.1 500.6 1889.8C503.1 1887.6 507 1884.3 509.2 1882.1C511.4 1879.8 512.7 1880.5 514 1876.3C515.4 1872.1 516.1 1865.1 517.4 1857C518.6 1849 520.2 1837.7 521.5 1828.1C522.7 1818.4 523.9 1806.2 524.8 1799.1C525.8 1792.1 526.3 1786.3 527.1 1785.6C527.9 1785 528.8 1795.6 529.7 1795.3C530.5 1795 531.4 1787.6 532.3 1783.7C533.1 1779.9 533.9 1769.6 534.9 1772.1C535.8 1774.7 536.6 1788.2 537.8 1799.1C539.1 1810.1 540.8 1826.5 542.3 1837.7C543.9 1849 545.2 1858.9 547.1 1866.7C549.1 1874.4 551.4 1879.8 553.8 1884C556.3 1888.2 559.5 1890.8 562 1891.7C564.5 1892.7 566.6 1889.5 568.7 1889.8C570.9 1890.1 573 1892.7 575 1893.7C577.1 1894.6 580 1895.3 581 1895.6L581 1895.6L494.3 1895.6z" fill="#f39c4a" fill-opacity="0.42"/><path d="M494.3 1895.6C495.4 1894.6 498.2 1892.1 500.6 1889.8C503.1 1887.6 507 1884.3 509.2 1882.1C511.4 1879.8 512.7 1880.5 514 1876.3C515.4 1872.1 516.1 1865.1 517.4 1857C518.6 1849 520.2 1837.7 521.5 1828.1C522.7 1818.4 523.9 1806.2 524.8 1799.1C525.8 1792.1 526.3 1786.3 527.1 1785.6C527.9 1785 528.8 1795.6 529.7 1795.3C530.5 1795 531.4 1787.6 532.3 1783.7C533.1 1779.9 533.9 1769.6 534.9 1772.1C535.8 1774.7 536.6 1788.2 537.8 1799.1C539.1 1810.1 540.8 1826.5 542.3 1837.7C543.9 1849 545.2 1858.9 547.1 1866.7C549.1 1874.4 551.4 1879.8 553.8 1884C556.3 1888.2 559.5 1890.8 562 1891.7C564.5 1892.7 566.6 1889.5 568.7 1889.8C570.9 1890.1 573 1892.7 575 1893.7C577.1 1894.6 580 1895.3 581 1895.6" fill="none" stroke="#f59a45" stroke-width="1.5"/><path d="M474.2 1891.7C477.6 1892.1 489.9 1894 494.3 1893.7C498.7 1893.3 498.7 1892.1 500.6 1889.8C502.6 1887.6 503.9 1881.8 505.9 1880.2C507.8 1878.6 510.6 1884 512.6 1880.2C514.5 1876.3 515.5 1865.7 517.4 1857C519.3 1848.3 522.2 1838.4 524.1 1828.1C526 1817.8 527.6 1805.9 528.9 1795.3C530.3 1784.7 531.3 1772.5 532.3 1764.4C533.3 1756.4 533.8 1746.1 534.9 1747.1C536 1748 537.5 1761.5 539 1770.2C540.5 1778.9 542.2 1791.1 543.8 1799.1C545.4 1807.2 547.1 1814.6 548.6 1818.4C550.1 1822.3 551.3 1818.4 552.7 1822.3C554.2 1826.2 555.6 1835.2 557.2 1841.6C558.7 1848 560.4 1854.4 562 1860.9C563.6 1867.3 564.9 1875 566.9 1880.2C568.8 1885.3 570.9 1889.2 573.6 1891.7C576.2 1894.3 581.3 1895 582.9 1895.6L582.9 1895.6L474.2 1895.6z" fill="#55e03a" fill-opacity="0.42"/><path d="M474.2 1891.7C477.6 1892.1 489.9 1894 494.3 1893.7C498.7 1893.3 498.7 1892.1 500.6 1889.8C502.6 1887.6 503.9 1881.8 505.9 1880.2C507.8 1878.6 510.6 1884 512.6 1880.2C514.5 1876.3 515.5 1865.7 517.4 1857C519.3 1848.3 522.2 1838.4 524.1 1828.1C526 1817.8 527.6 1805.9 528.9 1795.3C530.3 1784.7 531.3 1772.5 532.3 1764.4C533.3 1756.4 533.8 1746.1 534.9 1747.1C536 1748 537.5 1761.5 539 1770.2C540.5 1778.9 542.2 1791.1 543.8 1799.1C545.4 1807.2 547.1 1814.6 548.6 1818.4C550.1 1822.3 551.3 1818.4 552.7 1822.3C554.2 1826.2 555.6 1835.2 557.2 1841.6C558.7 1848 560.4 1854.4 562 1860.9C563.6 1867.3 564.9 1875 566.9 1880.2C568.8 1885.3 570.9 1889.2 573.6 1891.7C576.2 1894.3 581.3 1895 582.9 1895.6" fill="none" stroke="#52e635" stroke-width="1.5"/><path d="M472.7 1889.8C474.1 1889.2 478.2 1887.6 480.9 1886C483.7 1884.3 486.6 1883.1 489.1 1880.2C491.6 1877.3 493.9 1872.5 495.8 1868.6C497.7 1864.7 499.1 1862.8 500.6 1857C502.2 1851.2 503.7 1837.1 505.1 1833.9C506.5 1830.7 507.7 1838.7 509.2 1837.7C510.7 1836.8 512.4 1828.1 514 1828.1C515.7 1828.1 517.2 1834.5 518.9 1837.7C520.5 1840.9 522.4 1844.2 524.1 1847.4C525.8 1850.6 527.4 1852.2 528.9 1857C530.4 1861.8 531.6 1870.5 533 1876.3C534.4 1882.1 535.6 1888.5 537.1 1891.7C538.7 1895 541.4 1895 542.3 1895.6L542.3 1895.6L472.7 1895.6z" fill="#e84848" fill-opacity="0.42"/><path d="M472.7 1889.8C474.1 1889.2 478.2 1887.6 480.9 1886C483.7 1884.3 486.6 1883.1 489.1 1880.2C491.6 1877.3 493.9 1872.5 495.8 1868.6C497.7 1864.7 499.1 1862.8 500.6 1857C502.2 1851.2 503.7 1837.1 505.1 1833.9C506.5 1830.7 507.7 1838.7 509.2 1837.7C510.7 1836.8 512.4 1828.1 514 1828.1C515.7 1828.1 517.2 1834.5 518.9 1837.7C520.5 1840.9 522.4 1844.2 524.1 1847.4C525.8 1850.6 527.4 1852.2 528.9 1857C530.4 1861.8 531.6 1870.5 533 1876.3C534.4 1882.1 535.6 1888.5 537.1 1891.7C538.7 1895 541.4 1895 542.3 1895.6" fill="none" stroke="#ee3b3b" stroke-width="1.5"/><path d="M470.9 1895.6C471.2 1895 471.1 1893.7 472.7 1891.7C474.4 1889.8 478.5 1884.7 480.9 1884C483.4 1883.4 485.4 1888.5 487.6 1887.9C489.9 1887.2 492.2 1883.7 494.3 1880.2C496.5 1876.6 498.7 1873.7 500.6 1866.7C502.6 1859.6 504.2 1846.4 505.9 1837.7C507.5 1829 509.2 1818.1 510.7 1814.6C512.2 1811 513.4 1818.1 514.8 1816.5C516.2 1814.9 518 1803 519.2 1804.9C520.5 1806.9 520.9 1821.7 522.2 1828.1C523.6 1834.5 525.9 1838.7 527.4 1843.5C529 1848.3 530.2 1850.9 531.5 1857C532.9 1863.1 534.3 1874.1 535.6 1880.2C537 1886.3 538.3 1891.1 539.7 1893.7C541.1 1896.2 543.1 1895.3 543.8 1895.6L543.8 1895.6L470.9 1895.6z" fill="#1eb4e6" fill-opacity="0.42"/><path d="M470.9 1895.6C471.2 1895 471.1 1893.7 472.7 1891.7C474.4 1889.8 478.5 1884.7 480.9 1884C483.4 1883.4 485.4 1888.5 487.6 1887.9C489.9 1887.2 492.2 1883.7 494.3 1880.2C496.5 1876.6 498.7 1873.7 500.6 1866.7C502.6 1859.6 504.2 1846.4 505.9 1837.7C507.5 1829 509.2 1818.1 510.7 1814.6C512.2 1811 513.4 1818.1 514.8 1816.5C516.2 1814.9 518 1803 519.2 1804.9C520.5 1806.9 520.9 1821.7 522.2 1828.1C523.6 1834.5 525.9 1838.7 527.4 1843.5C529 1848.3 530.2 1850.9 531.5 1857C532.9 1863.1 534.3 1874.1 535.6 1880.2C537 1886.3 538.3 1891.1 539.7 1893.7C541.1 1896.2 543.1 1895.3 543.8 1895.6" fill="none" stroke="#1bb7ee" stroke-width="1.5"/><path d="M470 1895.6V1702.7" stroke="#1bb7ee" stroke-width="2"/><path d="M469.4 1894.8H672.6" stroke="#52e635" stroke-width="1.4"/><rect x="468.9" y="1692.8" width="203.7" height="202.8" fill="none" stroke="#333" stroke-width="1.3"/><path d="M468.9 1692.8V1895.6H672.6" fill="none" stroke="#111" stroke-width="2"/><path d="M468.9 1895.6h-5M468.9 1886h-2.5M468.9 1876.3h-2.5M468.9 1866.7h-2.5M468.9 1857h-5M468.9 1847.4h-2.5M468.9 1837.7h-2.5M468.9 1828.1h-2.5M468.9 1818.4h-5M468.9 1808.8h-2.5M468.9 1799.1h-2.5M468.9 1789.5h-2.5M468.9 1779.9h-5M468.9 1770.2h-2.5M468.9 1760.6h-2.5M468.9 1750.9h-2.5M468.9 1741.3h-5M468.9 1731.6h-2.5M468.9 1722h-2.5M468.9 1712.3h-2.5M468.9 1702.7h-5M469.4 1895.6v5M480.6 1895.6v2.5M487.1 1895.6v2.5M491.8 1895.6v2.5M495.4 1895.6v2.5M498.3 1895.6v2.5M500.8 1895.6v2.5M503 1895.6v2.5M504.9 1895.6v2.5M506.6 1895.6v5M517.8 1895.6v2.5M524.3 1895.6v2.5M529 1895.6v2.5M532.6 1895.6v2.5M535.5 1895.6v2.5M538 1895.6v2.5M540.2 1895.6v2.5M542.1 1895.6v2.5M543.8 1895.6v5M555 1895.6v2.5M561.5 1895.6v2.5M566.2 1895.6v2.5M569.8 1895.6v2.5M572.7 1895.6v2.5M575.2 1895.6v2.5M577.4 1895.6v2.5M579.3 1895.6v2.5M581 1895.6v5M592.2 1895.6v2.5M598.7 1895.6v2.5M603.4 1895.6v2.5M607 1895.6v2.5M609.9 1895.6v2.5M612.4 1895.6v2.5M614.6 1895.6v2.5M616.5 1895.6v2.5M618.2 1895.6v5M629.4 1895.6v2.5M635.9 1895.6v2.5M640.6 1895.6v2.5M644.2 1895.6v2.5M647.1 1895.6v2.5M649.6 1895.6v2.5M651.8 1895.6v2.5M653.7 1895.6v2.5M655.4 1895.6v5" stroke="#111" stroke-width="1"/><text x="458.9" y="1898.6" font-size="7.8" text-anchor="end" fill="#333">0</text><text x="458.9" y="1860" font-size="7.8" text-anchor="end" fill="#333">20</text><text x="458.9" y="1821.4" font-size="7.8" text-anchor="end" fill="#333">40</text><text x="458.9" y="1782.9" font-size="7.8" text-anchor="end" fill="#333">60</text><text x="458.9" y="1744.3" font-size="7.8" text-anchor="end" fill="#333">80</text><text x="458.9" y="1705.7" font-size="7.8" text-anchor="end" fill="#333">100</text><text x="478.4" y="1918.6" font-size="8" text-anchor="middle" fill="#333">10<tspan dy="-5" font-size="7">0</tspan></text><text x="515.6" y="1918.6" font-size="8" text-anchor="middle" fill="#333">10<tspan dy="-5" font-size="7">1</tspan></text><text x="552.8" y="1918.6" font-size="8" text-anchor="middle" fill="#333">10<tspan dy="-5" font-size="7">2</tspan></text><text x="590" y="1918.6" font-size="8" text-anchor="middle" fill="#333">10<tspan dy="-5" font-size="7">3</tspan></text><text x="627.2" y="1918.6" font-size="8" text-anchor="middle" fill="#333">10<tspan dy="-5" font-size="7">4</tspan></text><text x="664.4" y="1918.6" font-size="8" text-anchor="middle" fill="#333">10<tspan dy="-5" font-size="7">5</tspan></text><text x="637.6" y="1732.8" font-size="26.5" text-anchor="middle">T</text><path d="M879.6 1631.5C880.7 1630.9 884.4 1632.5 886.3 1627.6C888.2 1622.8 889.7 1616.4 891.1 1602.6C892.5 1588.7 893.4 1565.6 894.5 1544.7C895.5 1523.8 896.6 1490.7 897.4 1477.2C898.2 1463.7 898.6 1462.1 899.3 1463.7C900 1465.3 900.9 1473.3 901.9 1486.8C902.9 1500.3 904 1528.6 905.2 1544.7C906.5 1560.8 908.1 1575.2 909.3 1583.3C910.6 1591.3 911.3 1591.3 912.7 1592.9C914.1 1594.5 915.9 1591.3 917.5 1592.9C919.2 1594.5 921.1 1599.4 922.7 1602.6C924.4 1605.8 925.8 1609.6 927.6 1612.2C929.4 1614.8 931.8 1616.1 933.5 1618C935.2 1619.9 935.8 1622.2 937.6 1623.8C939.4 1625.4 942.2 1626.4 944.3 1627.6C946.4 1628.9 949.3 1630.9 950.3 1631.5L950.3 1631.5L879.6 1631.5z" fill="#f39c4a" fill-opacity="0.42"/><path d="M879.6 1631.5C880.7 1630.9 884.4 1632.5 886.3 1627.6C888.2 1622.8 889.7 1616.4 891.1 1602.6C892.5 1588.7 893.4 1565.6 894.5 1544.7C895.5 1523.8 896.6 1490.7 897.4 1477.2C898.2 1463.7 898.6 1462.1 899.3 1463.7C900 1465.3 900.9 1473.3 901.9 1486.8C902.9 1500.3 904 1528.6 905.2 1544.7C906.5 1560.8 908.1 1575.2 909.3 1583.3C910.6 1591.3 911.3 1591.3 912.7 1592.9C914.1 1594.5 915.9 1591.3 917.5 1592.9C919.2 1594.5 921.1 1599.4 922.7 1602.6C924.4 1605.8 925.8 1609.6 927.6 1612.2C929.4 1614.8 931.8 1616.1 933.5 1618C935.2 1619.9 935.8 1622.2 937.6 1623.8C939.4 1625.4 942.2 1626.4 944.3 1627.6C946.4 1628.9 949.3 1630.9 950.3 1631.5" fill="none" stroke="#f59a45" stroke-width="1.5"/><path d="M886.3 1631.5C887.3 1628.3 890.8 1625.1 892.6 1612.2C894.4 1599.3 895.9 1572 897.1 1554.3C898.2 1536.7 898.6 1517.7 899.3 1506.1C900 1494.5 900.7 1483.3 901.5 1484.9C902.4 1486.5 903.5 1502.6 904.5 1515.8C905.6 1528.9 906.6 1551.1 907.9 1564C909.1 1576.8 910.7 1586.5 911.9 1592.9C913.2 1599.4 913.9 1600.3 915.3 1602.6C916.7 1604.8 918.5 1605.1 920.1 1606.4C921.8 1607.7 923.5 1608.4 925.3 1610.3C927.1 1612.2 929.1 1615.7 930.9 1618C932.7 1620.2 934.2 1622.2 936.1 1623.8C938 1625.4 940.4 1626.4 942.4 1627.6C944.5 1628.9 947.4 1630.9 948.4 1631.5L948.4 1631.5L886.3 1631.5z" fill="#55e03a" fill-opacity="0.42"/><path d="M886.3 1631.5C887.3 1628.3 890.8 1625.1 892.6 1612.2C894.4 1599.3 895.9 1572 897.1 1554.3C898.2 1536.7 898.6 1517.7 899.3 1506.1C900 1494.5 900.7 1483.3 901.5 1484.9C902.4 1486.5 903.5 1502.6 904.5 1515.8C905.6 1528.9 906.6 1551.1 907.9 1564C909.1 1576.8 910.7 1586.5 911.9 1592.9C913.2 1599.4 913.9 1600.3 915.3 1602.6C916.7 1604.8 918.5 1605.1 920.1 1606.4C921.8 1607.7 923.5 1608.4 925.3 1610.3C927.1 1612.2 929.1 1615.7 930.9 1618C932.7 1620.2 934.2 1622.2 936.1 1623.8C938 1625.4 940.4 1626.4 942.4 1627.6C944.5 1628.9 947.4 1630.9 948.4 1631.5" fill="none" stroke="#52e635" stroke-width="1.5"/><path d="M810.4 1627.6C811.3 1626 814.3 1619 815.6 1618C816.9 1617 817.1 1624.4 818.2 1621.9C819.3 1619.3 821.1 1604.2 822.3 1602.6C823.5 1601 824.4 1612.2 825.6 1612.2C826.9 1612.2 828.5 1604.8 829.7 1602.6C831 1600.3 831.8 1603.5 833.1 1598.7C834.3 1593.9 835.5 1582.6 837.2 1573.6C838.8 1564.6 841.5 1551.8 843.1 1544.7C844.8 1537.6 845.9 1537.6 847.2 1531.2C848.6 1524.8 849.9 1506.1 851.3 1506.1C852.7 1506.1 854 1530.2 855.4 1531.2C856.8 1532.2 858.1 1514.5 859.5 1511.9C860.9 1509.3 862.2 1508.7 863.6 1515.8C864.9 1522.8 866.2 1539.9 867.7 1554.3C869.1 1568.8 870.7 1590.7 872.1 1602.6C873.6 1614.5 874.9 1620.9 876.2 1625.7C877.6 1630.5 879.6 1630.5 880.3 1631.5L880.3 1631.5L810.4 1631.5z" fill="#e84848" fill-opacity="0.42"/><path d="M810.4 1627.6C811.3 1626 814.3 1619 815.6 1618C816.9 1617 817.1 1624.4 818.2 1621.9C819.3 1619.3 821.1 1604.2 822.3 1602.6C823.5 1601 824.4 1612.2 825.6 1612.2C826.9 1612.2 828.5 1604.8 829.7 1602.6C831 1600.3 831.8 1603.5 833.1 1598.7C834.3 1593.9 835.5 1582.6 837.2 1573.6C838.8 1564.6 841.5 1551.8 843.1 1544.7C844.8 1537.6 845.9 1537.6 847.2 1531.2C848.6 1524.8 849.9 1506.1 851.3 1506.1C852.7 1506.1 854 1530.2 855.4 1531.2C856.8 1532.2 858.1 1514.5 859.5 1511.9C860.9 1509.3 862.2 1508.7 863.6 1515.8C864.9 1522.8 866.2 1539.9 867.7 1554.3C869.1 1568.8 870.7 1590.7 872.1 1602.6C873.6 1614.5 874.9 1620.9 876.2 1625.7C877.6 1630.5 879.6 1630.5 880.3 1631.5" fill="none" stroke="#ee3b3b" stroke-width="1.5"/><path d="M810.4 1629.6C811.3 1627.3 814.3 1617.4 815.6 1616.1C816.9 1614.8 817.1 1623.5 818.2 1621.9C819.3 1620.2 821.1 1608 822.3 1606.4C823.5 1604.8 824.4 1610.9 825.6 1612.2C826.9 1613.5 828.2 1616.4 829.7 1614.1C831.2 1611.9 832.9 1605.5 834.6 1598.7C836.2 1592 838.2 1578.5 839.8 1573.6C841.3 1568.8 842.6 1574.6 843.9 1569.8C845.1 1564.9 846.1 1551.1 847.2 1544.7C848.3 1538.3 849.3 1531.5 850.6 1531.2C851.8 1530.9 853.2 1546.6 854.7 1542.8C856.1 1538.9 858 1510.9 859.5 1508C861 1505.2 862.2 1517 863.6 1525.4C864.9 1533.8 866.2 1545 867.7 1558.2C869.1 1571.4 870.7 1593.2 872.1 1604.5C873.6 1615.7 875 1621.2 876.2 1625.7C877.5 1630.2 879 1630.5 879.6 1631.5L879.6 1631.5L810.4 1631.5z" fill="#1eb4e6" fill-opacity="0.42"/><path d="M810.4 1629.6C811.3 1627.3 814.3 1617.4 815.6 1616.1C816.9 1614.8 817.1 1623.5 818.2 1621.9C819.3 1620.2 821.1 1608 822.3 1606.4C823.5 1604.8 824.4 1610.9 825.6 1612.2C826.9 1613.5 828.2 1616.4 829.7 1614.1C831.2 1611.9 832.9 1605.5 834.6 1598.7C836.2 1592 838.2 1578.5 839.8 1573.6C841.3 1568.8 842.6 1574.6 843.9 1569.8C845.1 1564.9 846.1 1551.1 847.2 1544.7C848.3 1538.3 849.3 1531.5 850.6 1531.2C851.8 1530.9 853.2 1546.6 854.7 1542.8C856.1 1538.9 858 1510.9 859.5 1508C861 1505.2 862.2 1517 863.6 1525.4C864.9 1533.8 866.2 1545 867.7 1558.2C869.1 1571.4 870.7 1593.2 872.1 1604.5C873.6 1615.7 875 1621.2 876.2 1625.7C877.5 1630.2 879 1630.5 879.6 1631.5" fill="none" stroke="#1bb7ee" stroke-width="1.5"/><path d="M809.5 1631.5V1438.6" stroke="#1bb7ee" stroke-width="2"/><path d="M808.9 1630.7H1011.4" stroke="#52e635" stroke-width="1.4"/><rect x="808.4" y="1428.6" width="203" height="202.9" fill="none" stroke="#333" stroke-width="1.3"/><path d="M808.4 1428.6V1631.5H1011.4" fill="none" stroke="#111" stroke-width="2"/><path d="M808.4 1631.5h-5M808.4 1621.9h-2.5M808.4 1612.2h-2.5M808.4 1602.6h-2.5M808.4 1592.9h-5M808.4 1583.3h-2.5M808.4 1573.6h-2.5M808.4 1564h-2.5M808.4 1554.3h-5M808.4 1544.7h-2.5M808.4 1535h-2.5M808.4 1525.4h-2.5M808.4 1515.8h-5M808.4 1506.1h-2.5M808.4 1496.5h-2.5M808.4 1486.8h-2.5M808.4 1477.2h-5M808.4 1467.5h-2.5M808.4 1457.9h-2.5M808.4 1448.2h-2.5M808.4 1438.6h-5M808.9 1631.5v5M820.1 1631.5v2.5M826.6 1631.5v2.5M831.3 1631.5v2.5M834.9 1631.5v2.5M837.8 1631.5v2.5M840.3 1631.5v2.5M842.5 1631.5v2.5M844.4 1631.5v2.5M846.1 1631.5v5M857.3 1631.5v2.5M863.8 1631.5v2.5M868.5 1631.5v2.5M872.1 1631.5v2.5M875 1631.5v2.5M877.5 1631.5v2.5M879.7 1631.5v2.5M881.6 1631.5v2.5M883.3 1631.5v5M894.5 1631.5v2.5M901 1631.5v2.5M905.7 1631.5v2.5M909.3 1631.5v2.5M912.2 1631.5v2.5M914.7 1631.5v2.5M916.9 1631.5v2.5M918.8 1631.5v2.5M920.5 1631.5v5M931.7 1631.5v2.5M938.2 1631.5v2.5M942.9 1631.5v2.5M946.5 1631.5v2.5M949.4 1631.5v2.5M951.9 1631.5v2.5M954.1 1631.5v2.5M956 1631.5v2.5M957.7 1631.5v5M968.9 1631.5v2.5M975.4 1631.5v2.5M980.1 1631.5v2.5M983.7 1631.5v2.5M986.6 1631.5v2.5M989.1 1631.5v2.5M991.3 1631.5v2.5M993.2 1631.5v2.5M994.9 1631.5v5" stroke="#111" stroke-width="1"/><text x="798.4" y="1634.5" font-size="7.8" text-anchor="end" fill="#333">0</text><text x="798.4" y="1595.9" font-size="7.8" text-anchor="end" fill="#333">20</text><text x="798.4" y="1557.3" font-size="7.8" text-anchor="end" fill="#333">40</text><text x="798.4" y="1518.8" font-size="7.8" text-anchor="end" fill="#333">60</text><text x="798.4" y="1480.2" font-size="7.8" text-anchor="end" fill="#333">80</text><text x="798.4" y="1441.6" font-size="7.8" text-anchor="end" fill="#333">100</text><text x="817.9" y="1654.5" font-size="8" text-anchor="middle" fill="#333">10<tspan dy="-5" font-size="7">0</tspan></text><text x="855.1" y="1654.5" font-size="8" text-anchor="middle" fill="#333">10<tspan dy="-5" font-size="7">1</tspan></text><text x="892.3" y="1654.5" font-size="8" text-anchor="middle" fill="#333">10<tspan dy="-5" font-size="7">2</tspan></text><text x="929.5" y="1654.5" font-size="8" text-anchor="middle" fill="#333">10<tspan dy="-5" font-size="7">3</tspan></text><text x="966.7" y="1654.5" font-size="8" text-anchor="middle" fill="#333">10<tspan dy="-5" font-size="7">4</tspan></text><text x="1003.9" y="1654.5" font-size="8" text-anchor="middle" fill="#333">10<tspan dy="-5" font-size="7">5</tspan></text><text x="976.4" y="1468.6" font-size="26.5" text-anchor="middle">N</text><path d="M833.1 1894.6C835 1894.2 841.3 1892.5 844.6 1891.7C847.9 1890.9 850.3 1890.8 852.8 1889.8C855.3 1888.8 857.6 1887.6 859.5 1886C861.4 1884.3 863.1 1883.4 864.3 1880.2C865.6 1877 865.9 1869.6 866.9 1866.7C867.9 1863.8 868.8 1862.5 870.3 1862.8C871.8 1863.1 873.8 1867.3 875.9 1868.6C877.9 1869.9 880.8 1870.8 882.6 1870.5C884.4 1870.2 885.3 1868 886.6 1866.7C888 1865.4 889.2 1861.8 890.7 1862.8C892.3 1863.8 894.4 1870.5 895.9 1872.5C897.5 1874.4 898.7 1875.3 900 1874.4C901.4 1873.4 902.8 1872.8 904.1 1866.7C905.5 1860.6 906.9 1845.1 908.2 1837.7C909.6 1830.3 911 1824.2 912.3 1822.3C913.7 1820.4 915 1827.4 916.4 1826.2C917.8 1824.9 919.6 1817.8 920.9 1814.6C922.1 1811.4 922.8 1805.6 923.8 1806.9C924.9 1808.2 926.1 1814.6 927.2 1822.3C928.3 1830 929.3 1844.8 930.5 1853.2C931.8 1861.5 933 1867 934.6 1872.5C936.3 1877.9 938.2 1882.1 940.6 1886C942.9 1889.8 947.4 1894 948.8 1895.6L948.8 1895.6L833.1 1895.6z" fill="#f39c4a" fill-opacity="0.42"/><path d="M833.1 1894.6C835 1894.2 841.3 1892.5 844.6 1891.7C847.9 1890.9 850.3 1890.8 852.8 1889.8C855.3 1888.8 857.6 1887.6 859.5 1886C861.4 1884.3 863.1 1883.4 864.3 1880.2C865.6 1877 865.9 1869.6 866.9 1866.7C867.9 1863.8 868.8 1862.5 870.3 1862.8C871.8 1863.1 873.8 1867.3 875.9 1868.6C877.9 1869.9 880.8 1870.8 882.6 1870.5C884.4 1870.2 885.3 1868 886.6 1866.7C888 1865.4 889.2 1861.8 890.7 1862.8C892.3 1863.8 894.4 1870.5 895.9 1872.5C897.5 1874.4 898.7 1875.3 900 1874.4C901.4 1873.4 902.8 1872.8 904.1 1866.7C905.5 1860.6 906.9 1845.1 908.2 1837.7C909.6 1830.3 911 1824.2 912.3 1822.3C913.7 1820.4 915 1827.4 916.4 1826.2C917.8 1824.9 919.6 1817.8 920.9 1814.6C922.1 1811.4 922.8 1805.6 923.8 1806.9C924.9 1808.2 926.1 1814.6 927.2 1822.3C928.3 1830 929.3 1844.8 930.5 1853.2C931.8 1861.5 933 1867 934.6 1872.5C936.3 1877.9 938.2 1882.1 940.6 1886C942.9 1889.8 947.4 1894 948.8 1895.6" fill="none" stroke="#f59a45" stroke-width="1.5"/><path d="M849.4 1894.6C851.1 1893.8 856.7 1892.2 859.5 1889.8C862.3 1887.4 864.5 1884 866.2 1880.2C867.9 1876.3 868.5 1876.3 869.5 1866.7C870.6 1857 871.5 1835.2 872.5 1822.3C873.5 1809.4 874.6 1796.9 875.5 1789.5C876.4 1782.1 877 1776.3 877.7 1777.9C878.5 1779.5 879 1789.2 880 1799.1C880.9 1809.1 882.2 1829.7 883.3 1837.7C884.4 1845.8 885.5 1846.1 886.6 1847.4C887.8 1848.7 888.8 1843.8 890 1845.4C891.2 1847.1 892.5 1853.2 894.1 1857C895.6 1860.9 897.6 1866.3 899.3 1868.6C901 1870.8 902.5 1869.6 904.1 1870.5C905.7 1871.5 907.3 1872.8 909 1874.4C910.6 1876 912.5 1878.9 914.2 1880.2C915.8 1881.5 917.1 1882.4 919 1882.1C920.9 1881.8 923.9 1877.9 925.7 1878.2C927.5 1878.6 928.4 1882.1 929.8 1884C931.2 1886 932.3 1888 933.9 1889.8C935.4 1891.6 937.6 1893.7 939.1 1894.6C940.6 1895.6 942.2 1895.4 942.8 1895.6L942.8 1895.6L849.4 1895.6z" fill="#55e03a" fill-opacity="0.42"/><path d="M849.4 1894.6C851.1 1893.8 856.7 1892.2 859.5 1889.8C862.3 1887.4 864.5 1884 866.2 1880.2C867.9 1876.3 868.5 1876.3 869.5 1866.7C870.6 1857 871.5 1835.2 872.5 1822.3C873.5 1809.4 874.6 1796.9 875.5 1789.5C876.4 1782.1 877 1776.3 877.7 1777.9C878.5 1779.5 879 1789.2 880 1799.1C880.9 1809.1 882.2 1829.7 883.3 1837.7C884.4 1845.8 885.5 1846.1 886.6 1847.4C887.8 1848.7 888.8 1843.8 890 1845.4C891.2 1847.1 892.5 1853.2 894.1 1857C895.6 1860.9 897.6 1866.3 899.3 1868.6C901 1870.8 902.5 1869.6 904.1 1870.5C905.7 1871.5 907.3 1872.8 909 1874.4C910.6 1876 912.5 1878.9 914.2 1880.2C915.8 1881.5 917.1 1882.4 919 1882.1C920.9 1881.8 923.9 1877.9 925.7 1878.2C927.5 1878.6 928.4 1882.1 929.8 1884C931.2 1886 932.3 1888 933.9 1889.8C935.4 1891.6 937.6 1893.7 939.1 1894.6C940.6 1895.6 942.2 1895.4 942.8 1895.6" fill="none" stroke="#52e635" stroke-width="1.5"/><path d="M812.2 1891.7C812.8 1890.8 814.4 1886.3 815.6 1886C816.8 1885.6 818.2 1889.8 819.7 1889.8C821.2 1889.8 822.9 1888.2 824.5 1886C826.2 1883.7 828.2 1879.5 829.7 1876.3C831.3 1873.1 832.6 1871.2 833.8 1866.7C835.1 1862.2 836.2 1853.5 837.2 1849.3C838.1 1845.1 838.5 1840.9 839.4 1841.6C840.3 1842.2 841.8 1850.6 842.8 1853.2C843.7 1855.7 844.4 1861.2 845.4 1857C846.3 1852.8 847.5 1836.8 848.7 1828.1C849.9 1819.4 851.4 1808.5 852.8 1804.9C854.2 1801.4 855.6 1808.5 856.9 1806.9C858.1 1805.3 859.2 1799.1 860.2 1795.3C861.3 1791.4 862.2 1781.5 863.2 1783.7C864.2 1786 865.1 1796.6 866.2 1808.8C867.2 1821 868.5 1845.1 869.5 1857C870.6 1868.9 871.1 1874.4 872.5 1880.2C873.9 1886 876 1889.2 877.7 1891.7C879.4 1894.3 881.8 1895 882.6 1895.6L882.6 1895.6L812.2 1895.6z" fill="#e84848" fill-opacity="0.42"/><path d="M812.2 1891.7C812.8 1890.8 814.4 1886.3 815.6 1886C816.8 1885.6 818.2 1889.8 819.7 1889.8C821.2 1889.8 822.9 1888.2 824.5 1886C826.2 1883.7 828.2 1879.5 829.7 1876.3C831.3 1873.1 832.6 1871.2 833.8 1866.7C835.1 1862.2 836.2 1853.5 837.2 1849.3C838.1 1845.1 838.5 1840.9 839.4 1841.6C840.3 1842.2 841.8 1850.6 842.8 1853.2C843.7 1855.7 844.4 1861.2 845.4 1857C846.3 1852.8 847.5 1836.8 848.7 1828.1C849.9 1819.4 851.4 1808.5 852.8 1804.9C854.2 1801.4 855.6 1808.5 856.9 1806.9C858.1 1805.3 859.2 1799.1 860.2 1795.3C861.3 1791.4 862.2 1781.5 863.2 1783.7C864.2 1786 865.1 1796.6 866.2 1808.8C867.2 1821 868.5 1845.1 869.5 1857C870.6 1868.9 871.1 1874.4 872.5 1880.2C873.9 1886 876 1889.2 877.7 1891.7C879.4 1894.3 881.8 1895 882.6 1895.6" fill="none" stroke="#ee3b3b" stroke-width="1.5"/><path d="M810.4 1895.6C810.7 1895.3 810.7 1895 812.2 1893.7C813.8 1892.4 817.6 1889.2 819.7 1887.9C821.7 1886.6 822.6 1886.6 824.5 1886C826.4 1885.3 829.3 1885.6 831.2 1884C833.1 1882.4 834.4 1879.2 836.1 1876.3C837.7 1873.4 839.6 1871.5 841.3 1866.7C842.9 1861.8 844.4 1853.2 846.1 1847.4C847.8 1841.6 849.6 1835.8 851.3 1831.9C853 1828.1 854.8 1824.2 856.1 1824.2C857.5 1824.2 858.4 1832.9 859.5 1831.9C860.6 1831 862 1822 862.8 1818.4C863.7 1814.9 863.9 1807.5 864.7 1810.7C865.5 1813.9 866.6 1828.1 867.7 1837.7C868.7 1847.4 869.8 1860.6 871 1868.6C872.3 1876.6 873.8 1881.8 875.1 1886C876.5 1890.1 877.7 1892.1 879.2 1893.7C880.7 1895.3 883.2 1895.3 884 1895.6L884 1895.6L810.4 1895.6z" fill="#1eb4e6" fill-opacity="0.42"/><path d="M810.4 1895.6C810.7 1895.3 810.7 1895 812.2 1893.7C813.8 1892.4 817.6 1889.2 819.7 1887.9C821.7 1886.6 822.6 1886.6 824.5 1886C826.4 1885.3 829.3 1885.6 831.2 1884C833.1 1882.4 834.4 1879.2 836.1 1876.3C837.7 1873.4 839.6 1871.5 841.3 1866.7C842.9 1861.8 844.4 1853.2 846.1 1847.4C847.8 1841.6 849.6 1835.8 851.3 1831.9C853 1828.1 854.8 1824.2 856.1 1824.2C857.5 1824.2 858.4 1832.9 859.5 1831.9C860.6 1831 862 1822 862.8 1818.4C863.7 1814.9 863.9 1807.5 864.7 1810.7C865.5 1813.9 866.6 1828.1 867.7 1837.7C868.7 1847.4 869.8 1860.6 871 1868.6C872.3 1876.6 873.8 1881.8 875.1 1886C876.5 1890.1 877.7 1892.1 879.2 1893.7C880.7 1895.3 883.2 1895.3 884 1895.6" fill="none" stroke="#1bb7ee" stroke-width="1.5"/><path d="M809.5 1895.6V1702.7" stroke="#1bb7ee" stroke-width="2"/><path d="M808.9 1894.8H1011.4" stroke="#52e635" stroke-width="1.4"/><rect x="808.4" y="1692.8" width="203" height="202.8" fill="none" stroke="#333" stroke-width="1.3"/><path d="M808.4 1692.8V1895.6H1011.4" fill="none" stroke="#111" stroke-width="2"/><path d="M808.4 1895.6h-5M808.4 1886h-2.5M808.4 1876.3h-2.5M808.4 1866.7h-2.5M808.4 1857h-5M808.4 1847.4h-2.5M808.4 1837.7h-2.5M808.4 1828.1h-2.5M808.4 1818.4h-5M808.4 1808.8h-2.5M808.4 1799.1h-2.5M808.4 1789.5h-2.5M808.4 1779.9h-5M808.4 1770.2h-2.5M808.4 1760.6h-2.5M808.4 1750.9h-2.5M808.4 1741.3h-5M808.4 1731.6h-2.5M808.4 1722h-2.5M808.4 1712.3h-2.5M808.4 1702.7h-5M808.9 1895.6v5M820.1 1895.6v2.5M826.6 1895.6v2.5M831.3 1895.6v2.5M834.9 1895.6v2.5M837.8 1895.6v2.5M840.3 1895.6v2.5M842.5 1895.6v2.5M844.4 1895.6v2.5M846.1 1895.6v5M857.3 1895.6v2.5M863.8 1895.6v2.5M868.5 1895.6v2.5M872.1 1895.6v2.5M875 1895.6v2.5M877.5 1895.6v2.5M879.7 1895.6v2.5M881.6 1895.6v2.5M883.3 1895.6v5M894.5 1895.6v2.5M901 1895.6v2.5M905.7 1895.6v2.5M909.3 1895.6v2.5M912.2 1895.6v2.5M914.7 1895.6v2.5M916.9 1895.6v2.5M918.8 1895.6v2.5M920.5 1895.6v5M931.7 1895.6v2.5M938.2 1895.6v2.5M942.9 1895.6v2.5M946.5 1895.6v2.5M949.4 1895.6v2.5M951.9 1895.6v2.5M954.1 1895.6v2.5M956 1895.6v2.5M957.7 1895.6v5M968.9 1895.6v2.5M975.4 1895.6v2.5M980.1 1895.6v2.5M983.7 1895.6v2.5M986.6 1895.6v2.5M989.1 1895.6v2.5M991.3 1895.6v2.5M993.2 1895.6v2.5M994.9 1895.6v5" stroke="#111" stroke-width="1"/><text x="798.4" y="1898.6" font-size="7.8" text-anchor="end" fill="#333">0</text><text x="798.4" y="1860" font-size="7.8" text-anchor="end" fill="#333">20</text><text x="798.4" y="1821.4" font-size="7.8" text-anchor="end" fill="#333">40</text><text x="798.4" y="1782.9" font-size="7.8" text-anchor="end" fill="#333">60</text><text x="798.4" y="1744.3" font-size="7.8" text-anchor="end" fill="#333">80</text><text x="798.4" y="1705.7" font-size="7.8" text-anchor="end" fill="#333">100</text><text x="817.9" y="1918.6" font-size="8" text-anchor="middle" fill="#333">10<tspan dy="-5" font-size="7">0</tspan></text><text x="855.1" y="1918.6" font-size="8" text-anchor="middle" fill="#333">10<tspan dy="-5" font-size="7">1</tspan></text><text x="892.3" y="1918.6" font-size="8" text-anchor="middle" fill="#333">10<tspan dy="-5" font-size="7">2</tspan></text><text x="929.5" y="1918.6" font-size="8" text-anchor="middle" fill="#333">10<tspan dy="-5" font-size="7">3</tspan></text><text x="966.7" y="1918.6" font-size="8" text-anchor="middle" fill="#333">10<tspan dy="-5" font-size="7">4</tspan></text><text x="1003.9" y="1918.6" font-size="8" text-anchor="middle" fill="#333">10<tspan dy="-5" font-size="7">5</tspan></text><text x="976.4" y="1732.8" font-size="26.5" text-anchor="middle">T</text><path d="M1149.9 1630.5C1155.6 1630.1 1176.8 1628.8 1184.5 1627.6C1192.1 1626.5 1193 1625.7 1196 1623.8C1199 1621.9 1200.5 1617.7 1202.7 1616.1C1204.9 1614.5 1206.8 1614.8 1209.4 1614.1C1211.9 1613.5 1215.5 1612.5 1217.9 1612.2C1220.4 1611.9 1222.3 1613.5 1224.3 1612.2C1226.2 1610.9 1227.8 1607.1 1229.5 1604.5C1231.1 1601.9 1232.5 1601.9 1234.3 1596.8C1236.1 1591.6 1238.5 1578.8 1240.3 1573.6C1242.1 1568.5 1243.6 1569.8 1245.1 1565.9C1246.6 1562.1 1247.6 1558.2 1249.2 1550.5C1250.7 1542.8 1253 1526.4 1254.4 1519.6C1255.8 1512.9 1256.6 1511.6 1257.7 1510C1258.9 1508.4 1260.2 1512.2 1261.1 1510C1262 1507.7 1262.4 1501.6 1263.3 1496.5C1264.2 1491.3 1265.6 1479.8 1266.7 1479.1C1267.8 1478.5 1268.9 1484.9 1270 1492.6C1271.1 1500.3 1272.1 1513.5 1273.4 1525.4C1274.6 1537.3 1275.9 1551.1 1277.5 1564C1279 1576.8 1281 1593.2 1282.7 1602.6C1284.3 1611.9 1285.9 1615.7 1287.5 1619.9C1289.1 1624.1 1290.5 1625.7 1292.3 1627.6C1294.2 1629.6 1297.6 1630.9 1298.7 1631.5L1298.7 1631.5L1149.9 1631.5z" fill="#f39c4a" fill-opacity="0.42"/><path d="M1149.9 1630.5C1155.6 1630.1 1176.8 1628.8 1184.5 1627.6C1192.1 1626.5 1193 1625.7 1196 1623.8C1199 1621.9 1200.5 1617.7 1202.7 1616.1C1204.9 1614.5 1206.8 1614.8 1209.4 1614.1C1211.9 1613.5 1215.5 1612.5 1217.9 1612.2C1220.4 1611.9 1222.3 1613.5 1224.3 1612.2C1226.2 1610.9 1227.8 1607.1 1229.5 1604.5C1231.1 1601.9 1232.5 1601.9 1234.3 1596.8C1236.1 1591.6 1238.5 1578.8 1240.3 1573.6C1242.1 1568.5 1243.6 1569.8 1245.1 1565.9C1246.6 1562.1 1247.6 1558.2 1249.2 1550.5C1250.7 1542.8 1253 1526.4 1254.4 1519.6C1255.8 1512.9 1256.6 1511.6 1257.7 1510C1258.9 1508.4 1260.2 1512.2 1261.1 1510C1262 1507.7 1262.4 1501.6 1263.3 1496.5C1264.2 1491.3 1265.6 1479.8 1266.7 1479.1C1267.8 1478.5 1268.9 1484.9 1270 1492.6C1271.1 1500.3 1272.1 1513.5 1273.4 1525.4C1274.6 1537.3 1275.9 1551.1 1277.5 1564C1279 1576.8 1281 1593.2 1282.7 1602.6C1284.3 1611.9 1285.9 1615.7 1287.5 1619.9C1289.1 1624.1 1290.5 1625.7 1292.3 1627.6C1294.2 1629.6 1297.6 1630.9 1298.7 1631.5" fill="none" stroke="#f59a45" stroke-width="1.5"/><path d="M1148.6 1631.5V1554.3" stroke="#f59a45" stroke-width="2"/><path d="M1149.9 1630.5C1154.3 1630.4 1170.2 1630.1 1176.3 1629.6C1182.3 1629.1 1183 1628.6 1186.3 1627.6C1189.6 1626.7 1192.4 1625.7 1196 1623.8C1199.6 1621.9 1204.5 1616.7 1207.9 1616.1C1211.2 1615.4 1213.9 1619.3 1216.1 1619.9C1218.2 1620.6 1219 1619.6 1220.9 1619.9C1222.8 1620.2 1225.4 1624.7 1227.6 1621.9C1229.8 1619 1231.8 1607.4 1234.3 1602.6C1236.8 1597.7 1240.3 1595.5 1242.5 1592.9C1244.7 1590.3 1246.1 1590 1247.7 1587.1C1249.2 1584.2 1250.3 1581.7 1251.8 1575.6C1253.3 1569.5 1255.1 1559.8 1256.6 1550.5C1258.2 1541.2 1259.7 1527.7 1261.1 1519.6C1262.5 1511.6 1263.8 1510.3 1265.2 1502.3C1266.6 1494.2 1268.5 1475.3 1269.6 1471.4C1270.8 1467.5 1271.2 1480.4 1272.2 1479.1C1273.3 1477.8 1274.8 1460.1 1276 1463.7C1277.1 1467.2 1278.1 1487.8 1279.3 1500.3C1280.6 1512.9 1281.9 1526.7 1283.4 1538.9C1284.9 1551.1 1286.8 1563 1288.2 1573.6C1289.7 1584.2 1290.8 1594.2 1292.3 1602.6C1293.9 1610.9 1295.9 1619.1 1297.5 1623.8C1299.2 1628.4 1301 1629.2 1302.4 1630.5C1303.8 1631.8 1305.5 1631.3 1306.1 1631.5L1306.1 1631.5L1149.9 1631.5z" fill="#55e03a" fill-opacity="0.42"/><path d="M1149.9 1630.5C1154.3 1630.4 1170.2 1630.1 1176.3 1629.6C1182.3 1629.1 1183 1628.6 1186.3 1627.6C1189.6 1626.7 1192.4 1625.7 1196 1623.8C1199.6 1621.9 1204.5 1616.7 1207.9 1616.1C1211.2 1615.4 1213.9 1619.3 1216.1 1619.9C1218.2 1620.6 1219 1619.6 1220.9 1619.9C1222.8 1620.2 1225.4 1624.7 1227.6 1621.9C1229.8 1619 1231.8 1607.4 1234.3 1602.6C1236.8 1597.7 1240.3 1595.5 1242.5 1592.9C1244.7 1590.3 1246.1 1590 1247.7 1587.1C1249.2 1584.2 1250.3 1581.7 1251.8 1575.6C1253.3 1569.5 1255.1 1559.8 1256.6 1550.5C1258.2 1541.2 1259.7 1527.7 1261.1 1519.6C1262.5 1511.6 1263.8 1510.3 1265.2 1502.3C1266.6 1494.2 1268.5 1475.3 1269.6 1471.4C1270.8 1467.5 1271.2 1480.4 1272.2 1479.1C1273.3 1477.8 1274.8 1460.1 1276 1463.7C1277.1 1467.2 1278.1 1487.8 1279.3 1500.3C1280.6 1512.9 1281.9 1526.7 1283.4 1538.9C1284.9 1551.1 1286.8 1563 1288.2 1573.6C1289.7 1584.2 1290.8 1594.2 1292.3 1602.6C1293.9 1610.9 1295.9 1619.1 1297.5 1623.8C1299.2 1628.4 1301 1629.2 1302.4 1630.5C1303.8 1631.8 1305.5 1631.3 1306.1 1631.5" fill="none" stroke="#52e635" stroke-width="1.5"/><path d="M1149.5 1618C1150.4 1617 1153 1612.5 1154.7 1612.2C1156.4 1611.9 1157.6 1617.7 1159.5 1616.1C1161.5 1614.5 1164 1608 1166.2 1602.6C1168.5 1597.1 1170.7 1590.3 1172.9 1583.3C1175.2 1576.2 1177.7 1567.5 1179.6 1560.1C1181.5 1552.7 1183.1 1544.7 1184.5 1538.9C1185.8 1533.1 1186.6 1529.3 1187.8 1525.4C1189 1521.5 1190.5 1520.6 1191.9 1515.8C1193.3 1510.9 1194.4 1497.1 1196 1496.5C1197.5 1495.8 1199.8 1505.5 1201.2 1511.9C1202.6 1518.3 1203.4 1524.8 1204.5 1535C1205.7 1545.3 1206.7 1562.4 1207.9 1573.6C1209.1 1584.9 1210.6 1594.5 1212 1602.6C1213.3 1610.6 1214.6 1617.4 1216.1 1621.9C1217.6 1626.4 1219.5 1628 1220.9 1629.6C1222.3 1631.2 1223.7 1631.2 1224.3 1631.5L1224.3 1631.5L1149.5 1631.5z" fill="#e84848" fill-opacity="0.42"/><path d="M1149.5 1618C1150.4 1617 1153 1612.5 1154.7 1612.2C1156.4 1611.9 1157.6 1617.7 1159.5 1616.1C1161.5 1614.5 1164 1608 1166.2 1602.6C1168.5 1597.1 1170.7 1590.3 1172.9 1583.3C1175.2 1576.2 1177.7 1567.5 1179.6 1560.1C1181.5 1552.7 1183.1 1544.7 1184.5 1538.9C1185.8 1533.1 1186.6 1529.3 1187.8 1525.4C1189 1521.5 1190.5 1520.6 1191.9 1515.8C1193.3 1510.9 1194.4 1497.1 1196 1496.5C1197.5 1495.8 1199.8 1505.5 1201.2 1511.9C1202.6 1518.3 1203.4 1524.8 1204.5 1535C1205.7 1545.3 1206.7 1562.4 1207.9 1573.6C1209.1 1584.9 1210.6 1594.5 1212 1602.6C1213.3 1610.6 1214.6 1617.4 1216.1 1621.9C1217.6 1626.4 1219.5 1628 1220.9 1629.6C1222.3 1631.2 1223.7 1631.2 1224.3 1631.5" fill="none" stroke="#ee3b3b" stroke-width="1.5"/><path d="M1149.5 1618C1150.9 1617 1155.5 1615.7 1158 1612.2C1160.6 1608.7 1162.8 1603.2 1164.7 1596.8C1166.7 1590.3 1168.3 1578.1 1169.6 1573.6C1170.9 1569.1 1171.4 1569.8 1172.6 1569.8C1173.7 1569.8 1174.8 1577.8 1176.3 1573.6C1177.7 1569.5 1179.6 1553.7 1181.1 1544.7C1182.6 1535.7 1183.8 1526 1185.2 1519.6C1186.6 1513.2 1188.2 1508.7 1189.7 1506.1C1191.1 1503.5 1192.5 1506.4 1193.8 1504.2C1195 1501.9 1196 1490.7 1197.1 1492.6C1198.2 1494.5 1199.2 1505.5 1200.5 1515.8C1201.7 1526 1203.2 1543.1 1204.5 1554.3C1205.9 1565.6 1207.3 1574.3 1208.6 1583.3C1210 1592.3 1211.4 1601.6 1212.7 1608.4C1214.1 1615.1 1215.5 1620.1 1216.8 1623.8C1218.2 1627.5 1219.7 1629.2 1220.9 1630.5C1222.2 1631.8 1223.7 1631.3 1224.3 1631.5L1224.3 1631.5L1149.5 1631.5z" fill="#1eb4e6" fill-opacity="0.42"/><path d="M1149.5 1618C1150.9 1617 1155.5 1615.7 1158 1612.2C1160.6 1608.7 1162.8 1603.2 1164.7 1596.8C1166.7 1590.3 1168.3 1578.1 1169.6 1573.6C1170.9 1569.1 1171.4 1569.8 1172.6 1569.8C1173.7 1569.8 1174.8 1577.8 1176.3 1573.6C1177.7 1569.5 1179.6 1553.7 1181.1 1544.7C1182.6 1535.7 1183.8 1526 1185.2 1519.6C1186.6 1513.2 1188.2 1508.7 1189.7 1506.1C1191.1 1503.5 1192.5 1506.4 1193.8 1504.2C1195 1501.9 1196 1490.7 1197.1 1492.6C1198.2 1494.5 1199.2 1505.5 1200.5 1515.8C1201.7 1526 1203.2 1543.1 1204.5 1554.3C1205.9 1565.6 1207.3 1574.3 1208.6 1583.3C1210 1592.3 1211.4 1601.6 1212.7 1608.4C1214.1 1615.1 1215.5 1620.1 1216.8 1623.8C1218.2 1627.5 1219.7 1629.2 1220.9 1630.5C1222.2 1631.8 1223.7 1631.3 1224.3 1631.5" fill="none" stroke="#1bb7ee" stroke-width="1.5"/><path d="M1148.6 1631.5V1438.6" stroke="#1bb7ee" stroke-width="2"/><path d="M1148 1630.7H1350.5" stroke="#52e635" stroke-width="1.4"/><rect x="1147.5" y="1428.6" width="203" height="202.9" fill="none" stroke="#333" stroke-width="1.3"/><path d="M1147.5 1428.6V1631.5H1350.5" fill="none" stroke="#111" stroke-width="2"/><path d="M1147.5 1631.5h-5M1147.5 1621.9h-2.5M1147.5 1612.2h-2.5M1147.5 1602.6h-2.5M1147.5 1592.9h-5M1147.5 1583.3h-2.5M1147.5 1573.6h-2.5M1147.5 1564h-2.5M1147.5 1554.3h-5M1147.5 1544.7h-2.5M1147.5 1535h-2.5M1147.5 1525.4h-2.5M1147.5 1515.8h-5M1147.5 1506.1h-2.5M1147.5 1496.5h-2.5M1147.5 1486.8h-2.5M1147.5 1477.2h-5M1147.5 1467.5h-2.5M1147.5 1457.9h-2.5M1147.5 1448.2h-2.5M1147.5 1438.6h-5M1148 1631.5v5M1159.2 1631.5v2.5M1165.7 1631.5v2.5M1170.4 1631.5v2.5M1174 1631.5v2.5M1176.9 1631.5v2.5M1179.4 1631.5v2.5M1181.6 1631.5v2.5M1183.5 1631.5v2.5M1185.2 1631.5v5M1196.4 1631.5v2.5M1202.9 1631.5v2.5M1207.6 1631.5v2.5M1211.2 1631.5v2.5M1214.1 1631.5v2.5M1216.6 1631.5v2.5M1218.8 1631.5v2.5M1220.7 1631.5v2.5M1222.4 1631.5v5M1233.6 1631.5v2.5M1240.1 1631.5v2.5M1244.8 1631.5v2.5M1248.4 1631.5v2.5M1251.3 1631.5v2.5M1253.8 1631.5v2.5M1256 1631.5v2.5M1257.9 1631.5v2.5M1259.6 1631.5v5M1270.8 1631.5v2.5M1277.3 1631.5v2.5M1282 1631.5v2.5M1285.6 1631.5v2.5M1288.5 1631.5v2.5M1291 1631.5v2.5M1293.2 1631.5v2.5M1295.1 1631.5v2.5M1296.8 1631.5v5M1308 1631.5v2.5M1314.5 1631.5v2.5M1319.2 1631.5v2.5M1322.8 1631.5v2.5M1325.7 1631.5v2.5M1328.2 1631.5v2.5M1330.4 1631.5v2.5M1332.3 1631.5v2.5M1334 1631.5v5" stroke="#111" stroke-width="1"/><text x="1137.5" y="1634.5" font-size="7.8" text-anchor="end" fill="#333">0</text><text x="1137.5" y="1595.9" font-size="7.8" text-anchor="end" fill="#333">20</text><text x="1137.5" y="1557.3" font-size="7.8" text-anchor="end" fill="#333">40</text><text x="1137.5" y="1518.8" font-size="7.8" text-anchor="end" fill="#333">60</text><text x="1137.5" y="1480.2" font-size="7.8" text-anchor="end" fill="#333">80</text><text x="1137.5" y="1441.6" font-size="7.8" text-anchor="end" fill="#333">100</text><text x="1157" y="1654.5" font-size="8" text-anchor="middle" fill="#333">10<tspan dy="-5" font-size="7">0</tspan></text><text x="1194.2" y="1654.5" font-size="8" text-anchor="middle" fill="#333">10<tspan dy="-5" font-size="7">1</tspan></text><text x="1231.4" y="1654.5" font-size="8" text-anchor="middle" fill="#333">10<tspan dy="-5" font-size="7">2</tspan></text><text x="1268.6" y="1654.5" font-size="8" text-anchor="middle" fill="#333">10<tspan dy="-5" font-size="7">3</tspan></text><text x="1305.8" y="1654.5" font-size="8" text-anchor="middle" fill="#333">10<tspan dy="-5" font-size="7">4</tspan></text><text x="1343" y="1654.5" font-size="8" text-anchor="middle" fill="#333">10<tspan dy="-5" font-size="7">5</tspan></text><text x="1315.5" y="1468.6" font-size="26.5" text-anchor="middle">N</text><path d="M1161 1895.6C1162.1 1894.6 1165.2 1891.7 1167.3 1889.8C1169.5 1887.9 1171.8 1885.6 1174 1884C1176.3 1882.4 1178.3 1882.1 1180.7 1880.2C1183.2 1878.2 1186.8 1872.5 1188.9 1872.5C1191.1 1872.5 1192.1 1882.7 1193.8 1880.2C1195.4 1877.6 1197.3 1867.3 1199 1857C1200.6 1846.7 1202.2 1829.7 1203.8 1818.4C1205.4 1807.2 1207.2 1795 1208.6 1789.5C1210.1 1784 1211.1 1782.4 1212.4 1785.6C1213.6 1788.9 1214.9 1798.5 1216.1 1808.8C1217.3 1819.1 1218.2 1837.1 1219.4 1847.4C1220.7 1857.7 1222 1864.4 1223.5 1870.5C1225 1876.6 1226.7 1881.5 1228.4 1884C1230 1886.6 1231.6 1886.9 1233.6 1886C1235.5 1885 1238 1879.5 1239.9 1878.2C1241.8 1877 1243.2 1877.9 1245.1 1878.2C1247 1878.6 1249.5 1883.1 1251.4 1880.2C1253.3 1877.3 1255 1869.6 1256.6 1860.9C1258.3 1852.2 1259.8 1834.5 1261.5 1828.1C1263.1 1821.7 1264.8 1821.7 1266.3 1822.3C1267.8 1822.9 1269 1828.7 1270.4 1831.9C1271.8 1835.2 1273.3 1839 1274.9 1841.6C1276.4 1844.2 1278.2 1843.5 1279.7 1847.4C1281.2 1851.2 1282.3 1861.2 1283.8 1864.7C1285.3 1868.3 1287.1 1866 1288.6 1868.6C1290.1 1871.2 1291.2 1876.3 1292.7 1880.2C1294.3 1884 1296 1889.2 1297.9 1891.7C1299.8 1894.3 1303.2 1895 1304.2 1895.6L1304.2 1895.6L1161 1895.6z" fill="#f39c4a" fill-opacity="0.42"/><path d="M1161 1895.6C1162.1 1894.6 1165.2 1891.7 1167.3 1889.8C1169.5 1887.9 1171.8 1885.6 1174 1884C1176.3 1882.4 1178.3 1882.1 1180.7 1880.2C1183.2 1878.2 1186.8 1872.5 1188.9 1872.5C1191.1 1872.5 1192.1 1882.7 1193.8 1880.2C1195.4 1877.6 1197.3 1867.3 1199 1857C1200.6 1846.7 1202.2 1829.7 1203.8 1818.4C1205.4 1807.2 1207.2 1795 1208.6 1789.5C1210.1 1784 1211.1 1782.4 1212.4 1785.6C1213.6 1788.9 1214.9 1798.5 1216.1 1808.8C1217.3 1819.1 1218.2 1837.1 1219.4 1847.4C1220.7 1857.7 1222 1864.4 1223.5 1870.5C1225 1876.6 1226.7 1881.5 1228.4 1884C1230 1886.6 1231.6 1886.9 1233.6 1886C1235.5 1885 1238 1879.5 1239.9 1878.2C1241.8 1877 1243.2 1877.9 1245.1 1878.2C1247 1878.6 1249.5 1883.1 1251.4 1880.2C1253.3 1877.3 1255 1869.6 1256.6 1860.9C1258.3 1852.2 1259.8 1834.5 1261.5 1828.1C1263.1 1821.7 1264.8 1821.7 1266.3 1822.3C1267.8 1822.9 1269 1828.7 1270.4 1831.9C1271.8 1835.2 1273.3 1839 1274.9 1841.6C1276.4 1844.2 1278.2 1843.5 1279.7 1847.4C1281.2 1851.2 1282.3 1861.2 1283.8 1864.7C1285.3 1868.3 1287.1 1866 1288.6 1868.6C1290.1 1871.2 1291.2 1876.3 1292.7 1880.2C1294.3 1884 1296 1889.2 1297.9 1891.7C1299.8 1894.3 1303.2 1895 1304.2 1895.6" fill="none" stroke="#f59a45" stroke-width="1.5"/><path d="M1161 1894.6C1163.7 1894.5 1173.5 1895.1 1177.4 1893.7C1181.2 1892.2 1181.6 1888.8 1184.1 1886C1186.6 1883.1 1189.8 1879.5 1192.3 1876.3C1194.7 1873.1 1197 1869.2 1199 1866.7C1200.9 1864.1 1202.2 1864.4 1203.8 1860.9C1205.4 1857.3 1207.3 1849.6 1208.6 1845.4C1210 1841.3 1210.9 1835.5 1212 1835.8C1213.1 1836.1 1214.1 1842.9 1215.3 1847.4C1216.6 1851.9 1218.1 1860.2 1219.4 1862.8C1220.8 1865.4 1222 1862.2 1223.5 1862.8C1225 1863.5 1226.7 1865.4 1228.4 1866.7C1230 1868 1231.9 1870.8 1233.6 1870.5C1235.2 1870.2 1236.8 1867 1238.4 1864.7C1240 1862.5 1241.6 1856.7 1243.2 1857C1244.9 1857.3 1246.9 1865.4 1248.4 1866.7C1250 1868 1251.2 1867 1252.5 1864.7C1253.9 1862.5 1255.1 1858.6 1256.6 1853.2C1258.1 1847.7 1259.8 1837.7 1261.5 1831.9C1263.1 1826.2 1264.8 1822.3 1266.3 1818.4C1267.8 1814.6 1269.1 1808.8 1270.4 1808.8C1271.6 1808.8 1272.6 1813.6 1273.7 1818.4C1274.9 1823.3 1275.8 1831.3 1277.1 1837.7C1278.3 1844.2 1279.9 1852.2 1281.2 1857C1282.4 1861.8 1283.3 1865.4 1284.5 1866.7C1285.8 1868 1287.3 1863.1 1288.6 1864.7C1290 1866.3 1290.9 1872.8 1292.7 1876.3C1294.5 1879.8 1297.2 1883.1 1299.4 1886C1301.6 1888.8 1304.1 1892.1 1306.1 1893.7C1308.1 1895.3 1310.8 1895.3 1311.7 1895.6L1311.7 1895.6L1161 1895.6z" fill="#55e03a" fill-opacity="0.42"/><path d="M1161 1894.6C1163.7 1894.5 1173.5 1895.1 1177.4 1893.7C1181.2 1892.2 1181.6 1888.8 1184.1 1886C1186.6 1883.1 1189.8 1879.5 1192.3 1876.3C1194.7 1873.1 1197 1869.2 1199 1866.7C1200.9 1864.1 1202.2 1864.4 1203.8 1860.9C1205.4 1857.3 1207.3 1849.6 1208.6 1845.4C1210 1841.3 1210.9 1835.5 1212 1835.8C1213.1 1836.1 1214.1 1842.9 1215.3 1847.4C1216.6 1851.9 1218.1 1860.2 1219.4 1862.8C1220.8 1865.4 1222 1862.2 1223.5 1862.8C1225 1863.5 1226.7 1865.4 1228.4 1866.7C1230 1868 1231.9 1870.8 1233.6 1870.5C1235.2 1870.2 1236.8 1867 1238.4 1864.7C1240 1862.5 1241.6 1856.7 1243.2 1857C1244.9 1857.3 1246.9 1865.4 1248.4 1866.7C1250 1868 1251.2 1867 1252.5 1864.7C1253.9 1862.5 1255.1 1858.6 1256.6 1853.2C1258.1 1847.7 1259.8 1837.7 1261.5 1831.9C1263.1 1826.2 1264.8 1822.3 1266.3 1818.4C1267.8 1814.6 1269.1 1808.8 1270.4 1808.8C1271.6 1808.8 1272.6 1813.6 1273.7 1818.4C1274.9 1823.3 1275.8 1831.3 1277.1 1837.7C1278.3 1844.2 1279.9 1852.2 1281.2 1857C1282.4 1861.8 1283.3 1865.4 1284.5 1866.7C1285.8 1868 1287.3 1863.1 1288.6 1864.7C1290 1866.3 1290.9 1872.8 1292.7 1876.3C1294.5 1879.8 1297.2 1883.1 1299.4 1886C1301.6 1888.8 1304.1 1892.1 1306.1 1893.7C1308.1 1895.3 1310.8 1895.3 1311.7 1895.6" fill="none" stroke="#52e635" stroke-width="1.5"/><path d="M1150.2 1887.9C1151.7 1887.2 1156.6 1886.6 1159.2 1884C1161.8 1881.5 1163.6 1877 1165.9 1872.5C1168.1 1868 1170.6 1860.2 1172.6 1857C1174.5 1853.8 1175.8 1855.7 1177.4 1853.2C1179 1850.6 1180.7 1847.4 1182.2 1841.6C1183.7 1835.8 1184.9 1824.9 1186.3 1818.4C1187.7 1812 1189.4 1803 1190.8 1803C1192.1 1803 1193.3 1817.5 1194.5 1818.4C1195.7 1819.4 1196.6 1814.3 1197.8 1808.8C1199.1 1803.3 1200.8 1785.6 1201.9 1785.6C1203.1 1785.6 1203.7 1799.5 1204.5 1808.8C1205.4 1818.1 1206.2 1831.9 1207.1 1841.6C1208.1 1851.2 1209.1 1859.3 1210.5 1866.7C1211.9 1874.1 1213.4 1881.5 1215.3 1886C1217.3 1890.5 1220.2 1892.1 1222 1893.7C1223.8 1895.3 1225.4 1895.3 1226.1 1895.6L1226.1 1895.6L1150.2 1895.6z" fill="#e84848" fill-opacity="0.42"/><path d="M1150.2 1887.9C1151.7 1887.2 1156.6 1886.6 1159.2 1884C1161.8 1881.5 1163.6 1877 1165.9 1872.5C1168.1 1868 1170.6 1860.2 1172.6 1857C1174.5 1853.8 1175.8 1855.7 1177.4 1853.2C1179 1850.6 1180.7 1847.4 1182.2 1841.6C1183.7 1835.8 1184.9 1824.9 1186.3 1818.4C1187.7 1812 1189.4 1803 1190.8 1803C1192.1 1803 1193.3 1817.5 1194.5 1818.4C1195.7 1819.4 1196.6 1814.3 1197.8 1808.8C1199.1 1803.3 1200.8 1785.6 1201.9 1785.6C1203.1 1785.6 1203.7 1799.5 1204.5 1808.8C1205.4 1818.1 1206.2 1831.9 1207.1 1841.6C1208.1 1851.2 1209.1 1859.3 1210.5 1866.7C1211.9 1874.1 1213.4 1881.5 1215.3 1886C1217.3 1890.5 1220.2 1892.1 1222 1893.7C1223.8 1895.3 1225.4 1895.3 1226.1 1895.6" fill="none" stroke="#ee3b3b" stroke-width="1.5"/><path d="M1149.5 1895.6C1150.3 1895 1152.4 1895 1154.3 1891.7C1156.2 1888.5 1158.8 1880.5 1161 1876.3C1163.2 1872.1 1165.4 1870.5 1167.3 1866.7C1169.3 1862.8 1171 1857 1172.6 1853.2C1174.1 1849.3 1175.4 1847.1 1176.6 1843.5C1177.9 1840 1178.9 1832.3 1180 1831.9C1181 1831.6 1181.9 1841.6 1183 1841.6C1184 1841.6 1185.2 1836.4 1186.3 1831.9C1187.4 1827.4 1188.5 1818.8 1189.7 1814.6C1190.8 1810.4 1191.8 1806.2 1193 1806.9C1194.3 1807.5 1195.7 1818.1 1197.1 1818.4C1198.5 1818.8 1200 1807.2 1201.2 1808.8C1202.4 1810.4 1203.4 1820 1204.5 1828.1C1205.7 1836.1 1206.7 1849 1207.9 1857C1209.1 1865.1 1210.5 1871.5 1212 1876.3C1213.5 1881.1 1214.6 1883.7 1216.8 1886C1219.1 1888.2 1222.6 1888.5 1225.4 1889.8C1228.2 1891.1 1231 1892.7 1233.6 1893.7C1236.2 1894.6 1239.8 1895.3 1241 1895.6L1241 1895.6L1149.5 1895.6z" fill="#1eb4e6" fill-opacity="0.42"/><path d="M1149.5 1895.6C1150.3 1895 1152.4 1895 1154.3 1891.7C1156.2 1888.5 1158.8 1880.5 1161 1876.3C1163.2 1872.1 1165.4 1870.5 1167.3 1866.7C1169.3 1862.8 1171 1857 1172.6 1853.2C1174.1 1849.3 1175.4 1847.1 1176.6 1843.5C1177.9 1840 1178.9 1832.3 1180 1831.9C1181 1831.6 1181.9 1841.6 1183 1841.6C1184 1841.6 1185.2 1836.4 1186.3 1831.9C1187.4 1827.4 1188.5 1818.8 1189.7 1814.6C1190.8 1810.4 1191.8 1806.2 1193 1806.9C1194.3 1807.5 1195.7 1818.1 1197.1 1818.4C1198.5 1818.8 1200 1807.2 1201.2 1808.8C1202.4 1810.4 1203.4 1820 1204.5 1828.1C1205.7 1836.1 1206.7 1849 1207.9 1857C1209.1 1865.1 1210.5 1871.5 1212 1876.3C1213.5 1881.1 1214.6 1883.7 1216.8 1886C1219.1 1888.2 1222.6 1888.5 1225.4 1889.8C1228.2 1891.1 1231 1892.7 1233.6 1893.7C1236.2 1894.6 1239.8 1895.3 1241 1895.6" fill="none" stroke="#1bb7ee" stroke-width="1.5"/><path d="M1148.6 1895.6V1702.7" stroke="#1bb7ee" stroke-width="2"/><path d="M1148 1894.8H1350.5" stroke="#52e635" stroke-width="1.4"/><rect x="1147.5" y="1692.8" width="203" height="202.8" fill="none" stroke="#333" stroke-width="1.3"/><path d="M1147.5 1692.8V1895.6H1350.5" fill="none" stroke="#111" stroke-width="2"/><path d="M1147.5 1895.6h-5M1147.5 1886h-2.5M1147.5 1876.3h-2.5M1147.5 1866.7h-2.5M1147.5 1857h-5M1147.5 1847.4h-2.5M1147.5 1837.7h-2.5M1147.5 1828.1h-2.5M1147.5 1818.4h-5M1147.5 1808.8h-2.5M1147.5 1799.1h-2.5M1147.5 1789.5h-2.5M1147.5 1779.9h-5M1147.5 1770.2h-2.5M1147.5 1760.6h-2.5M1147.5 1750.9h-2.5M1147.5 1741.3h-5M1147.5 1731.6h-2.5M1147.5 1722h-2.5M1147.5 1712.3h-2.5M1147.5 1702.7h-5M1148 1895.6v5M1159.2 1895.6v2.5M1165.7 1895.6v2.5M1170.4 1895.6v2.5M1174 1895.6v2.5M1176.9 1895.6v2.5M1179.4 1895.6v2.5M1181.6 1895.6v2.5M1183.5 1895.6v2.5M1185.2 1895.6v5M1196.4 1895.6v2.5M1202.9 1895.6v2.5M1207.6 1895.6v2.5M1211.2 1895.6v2.5M1214.1 1895.6v2.5M1216.6 1895.6v2.5M1218.8 1895.6v2.5M1220.7 1895.6v2.5M1222.4 1895.6v5M1233.6 1895.6v2.5M1240.1 1895.6v2.5M1244.8 1895.6v2.5M1248.4 1895.6v2.5M1251.3 1895.6v2.5M1253.8 1895.6v2.5M1256 1895.6v2.5M1257.9 1895.6v2.5M1259.6 1895.6v5M1270.8 1895.6v2.5M1277.3 1895.6v2.5M1282 1895.6v2.5M1285.6 1895.6v2.5M1288.5 1895.6v2.5M1291 1895.6v2.5M1293.2 1895.6v2.5M1295.1 1895.6v2.5M1296.8 1895.6v5M1308 1895.6v2.5M1314.5 1895.6v2.5M1319.2 1895.6v2.5M1322.8 1895.6v2.5M1325.7 1895.6v2.5M1328.2 1895.6v2.5M1330.4 1895.6v2.5M1332.3 1895.6v2.5M1334 1895.6v5" stroke="#111" stroke-width="1"/><text x="1137.5" y="1898.6" font-size="7.8" text-anchor="end" fill="#333">0</text><text x="1137.5" y="1860" font-size="7.8" text-anchor="end" fill="#333">20</text><text x="1137.5" y="1821.4" font-size="7.8" text-anchor="end" fill="#333">40</text><text x="1137.5" y="1782.9" font-size="7.8" text-anchor="end" fill="#333">60</text><text x="1137.5" y="1744.3" font-size="7.8" text-anchor="end" fill="#333">80</text><text x="1137.5" y="1705.7" font-size="7.8" text-anchor="end" fill="#333">100</text><text x="1157" y="1918.6" font-size="8" text-anchor="middle" fill="#333">10<tspan dy="-5" font-size="7">0</tspan></text><text x="1194.2" y="1918.6" font-size="8" text-anchor="middle" fill="#333">10<tspan dy="-5" font-size="7">1</tspan></text><text x="1231.4" y="1918.6" font-size="8" text-anchor="middle" fill="#333">10<tspan dy="-5" font-size="7">2</tspan></text><text x="1268.6" y="1918.6" font-size="8" text-anchor="middle" fill="#333">10<tspan dy="-5" font-size="7">3</tspan></text><text x="1305.8" y="1918.6" font-size="8" text-anchor="middle" fill="#333">10<tspan dy="-5" font-size="7">4</tspan></text><text x="1343" y="1918.6" font-size="8" text-anchor="middle" fill="#333">10<tspan dy="-5" font-size="7">5</tspan></text><text x="1315.5" y="1732.8" font-size="26.5" text-anchor="middle">T</text><text x="230.8" y="1409.4" font-size="25" text-anchor="middle">IL-2</text><text x="570.7" y="1413" font-size="25" text-anchor="middle">PRF</text><text x="910.4" y="1416.6" font-size="25" text-anchor="middle">GZMB</text><text x="1251" y="1420.2" font-size="25" text-anchor="middle">TNFα</text><text x="67" y="1660" font-size="26" text-anchor="middle" transform="rotate(-90 67 1660)">Normalized to mode</text><rect x="1384.7" y="1434.3" width="36.2" height="36" fill="#c0f5a2"/><text x="1433.4" y="1461.3" font-size="25.5">PD-1+CD161+</text><rect x="1384.7" y="1482.8" width="36.2" height="36" fill="#fcd3ab"/><text x="1433.4" y="1509.8" font-size="25.5">PD-1+CD161-</text><rect x="1384.7" y="1531.3" width="36.2" height="36" fill="#f79595"/><text x="1433.4" y="1558.3" font-size="25.5">Control1</text><rect x="1384.7" y="1579.8" width="36.2" height="36" fill="#9eeaf8"/><text x="1433.4" y="1606.8" font-size="25.5">Control2</text><defs>
<linearGradient id="gneg" x1="0" y1="1" x2="1" y2="0"><stop offset="0" stop-color="#c27264"/><stop offset="0.5" stop-color="#e4b5ad"/><stop offset="1" stop-color="#fdf4f3"/></linearGradient>
<linearGradient id="gpos" x1="0" y1="1" x2="1" y2="0"><stop offset="0" stop-color="#a8c8e8"/><stop offset="0.45" stop-color="#c9dcf0"/><stop offset="1" stop-color="#f6f9fd"/></linearGradient>
<radialGradient id="gapc" cx="984" cy="2183" r="190" gradientUnits="userSpaceOnUse"><stop offset="0" stop-color="#f7f0fb"/><stop offset="0.45" stop-color="#c9a1e3"/><stop offset="1" stop-color="#9150c2"/></radialGradient>
<radialGradient id="gnuc" cx="960" cy="2115" r="50" gradientUnits="userSpaceOnUse"><stop offset="0" stop-color="#c79be0"/><stop offset="1" stop-color="#7f4fad"/></radialGradient>
</defs><path d="M81 2146.4C82.2 2145.3 84.6 2146.2 86.5 2146.7C88.4 2147.2 91 2147.9 92.4 2149.2C93.7 2150.5 93.9 2152.7 94.6 2154.5C95.4 2156.2 96.2 2158 97.1 2159.6C98.1 2161.2 99.1 2162.7 100.4 2164.1C101.6 2165.5 102.9 2167.2 104.6 2167.9C106.2 2168.6 108.5 2168.2 110.4 2168.1C112.3 2168 114.2 2167.4 116 2167.3C117.9 2167.2 119.7 2167.2 121.6 2167.5C123.4 2167.9 125.3 2168.5 127.1 2169.2C128.9 2169.9 130.6 2170.9 132.3 2171.7C134.1 2172.4 135.8 2173.2 137.6 2173.7C139.4 2174.2 141.2 2174.5 143.1 2174.7C144.9 2174.8 146.8 2174.7 148.7 2174.6C150.6 2174.5 152.5 2174.2 154.4 2174.2C156.3 2174.1 158.3 2174 160.1 2174.2C161.9 2174.4 163.8 2174.7 165.5 2175.3C167.3 2175.9 169.1 2176.6 170.8 2177.5C172.4 2178.5 173.8 2179.9 175.3 2181.1C176.8 2182.3 178.1 2183.6 179.7 2184.6C181.2 2185.6 183.5 2186.2 184.6 2187.2C185.7 2188.1 185.8 2189.1 186.5 2190.6C187.2 2192 188.8 2194 188.7 2195.9C188.7 2197.7 187.1 2200 186.1 2201.6C185 2203.3 183.8 2204.5 182.4 2205.8C181 2207.1 179.3 2208 177.9 2209.4C176.6 2210.7 175.4 2212.2 174.3 2213.7C173.2 2215.2 172.1 2216.8 171.3 2218.4C170.5 2220.1 169.9 2221.9 169.4 2223.7C168.9 2225.5 168.5 2227.4 168.3 2229.3C168.2 2231.1 168.3 2232.9 168.4 2234.8C168.4 2236.7 168.7 2238.6 168.6 2240.4C168.4 2242.3 168 2244.1 167.6 2245.9C167.1 2247.7 166.3 2249.5 165.6 2251.3C165 2253.1 163.8 2254.7 163.6 2256.6C163.4 2258.6 163.8 2260.8 164.3 2262.7C164.8 2264.6 165.6 2266.2 166.4 2267.9C167.3 2269.5 168.4 2271.1 169.4 2272.8C170.4 2274.4 171.5 2275.9 172.4 2277.7C173.2 2279.5 174.3 2281.8 174.4 2283.7C174.5 2285.6 173.7 2287.3 173.1 2289.1C172.5 2290.9 171.7 2292.6 170.9 2294.4C170.2 2296.2 169.5 2298.4 168.9 2299.8C168.2 2301.2 168.1 2301.7 167.1 2302.8C166.1 2304 164.2 2305.2 162.9 2306.5C161.5 2307.8 160.3 2309.3 159 2310.7C157.7 2312.1 156.6 2313.7 155.1 2314.9C153.5 2316.1 151.7 2317.1 149.9 2317.8C148.2 2318.5 146.2 2319.1 144.4 2319C142.6 2318.8 140.8 2317.8 139.2 2316.8C137.6 2315.8 136.5 2314.1 135 2313C133.5 2311.8 131.9 2310.8 130.2 2310C128.6 2309.2 126.8 2308.7 124.9 2308.2C123.1 2307.6 120.9 2307 119.3 2306.9C117.7 2306.7 116.7 2306.6 115.2 2307C113.7 2307.4 111.9 2308.6 110.1 2309.1C108.2 2309.6 106.2 2309.8 104.3 2309.8C102.4 2309.9 100.4 2309.5 98.5 2309.5C96.6 2309.4 94.7 2309.3 92.9 2309.5C91 2309.7 89.2 2310 87.4 2310.6C85.6 2311.1 83.5 2313 82.2 2312.8C80.9 2312.5 80.5 2310.4 79.6 2308.9C78.6 2307.5 77.4 2305.8 76.7 2304.1C75.9 2302.4 75.4 2300.6 74.8 2298.8C74.3 2297.1 74 2295.4 73.6 2293.6C73.1 2291.8 72.6 2289.8 72 2288C71.4 2286.2 70.8 2284.4 70 2282.8C69.1 2281.1 68.1 2279.6 66.9 2278.1C65.8 2276.7 64 2275.5 63 2274C62 2272.5 61.4 2270.7 61 2268.9C60.6 2267.1 60.5 2265.2 60.5 2263.3C60.5 2261.5 61 2259.6 61.2 2257.8C61.5 2256 61.7 2254.3 62 2252.5C62.2 2250.6 62.7 2248.7 62.9 2246.8C63.1 2244.9 63.2 2243 63.1 2241.2C63 2239.3 62.8 2237.4 62.1 2235.7C61.4 2233.9 60.1 2232.2 58.9 2230.6C57.8 2229 56.4 2227.6 55.3 2226.1C54.2 2224.5 53.2 2223 52.4 2221.3C51.6 2219.6 50.6 2217.9 50.6 2216C50.6 2214.2 51.6 2211.9 52.4 2210.1C53.1 2208.2 54.3 2206.7 55.1 2205C55.9 2203.3 56.5 2201.5 57.1 2199.8C57.8 2198.2 58.5 2196.8 59 2195.1C59.6 2193.4 60 2191.4 60.4 2189.5C60.9 2187.7 61.2 2185.8 61.8 2184C62.4 2182.2 63.1 2180.4 64 2178.8C64.9 2177.2 65.9 2175.6 67.2 2174.3C68.5 2172.9 69.9 2171.4 71.6 2170.7C73.2 2170 75.8 2171.3 77.3 2170.3C78.7 2169.2 79.8 2166.2 80.2 2164.3C80.6 2162.4 79.6 2160.6 79.5 2158.8C79.3 2156.9 78.9 2155.4 79.2 2153.3C79.4 2151.2 79.7 2147.5 81 2146.4z" fill="#d3d2d2" stroke="#3c3c3c" stroke-width="3"/><circle cx="131.7" cy="2230.8" r="28" fill="#afadad" stroke="#000" stroke-width="2.6" stroke-dasharray="11 4.5"/><path d="M182.5 2172.6C183.9 2171.6 186.3 2172.8 188.2 2172.8C190.2 2172.8 192.2 2172.8 193.9 2172.6C195.7 2172.4 197 2171.8 198.7 2171.5C200.5 2171.1 202.5 2170.9 204.4 2170.5C206.2 2170.2 208.1 2169.6 210 2169.3C211.9 2169 213.7 2168.4 215.6 2168.7C217.5 2169.1 219.9 2170.2 221.4 2171.4C222.9 2172.7 223.6 2174.6 224.7 2176.1C225.8 2177.7 226.8 2179.4 228 2180.8C229.2 2182.3 230.3 2183.8 231.9 2184.8C233.5 2185.8 235.7 2186.4 237.5 2186.9C239.4 2187.5 241.3 2187.6 243.2 2188C245.1 2188.4 247 2188.7 248.8 2189.3C250.5 2189.9 252.2 2190.7 253.8 2191.6C255.4 2192.5 256.8 2193.7 258.3 2194.9C259.8 2196.1 261.2 2197.5 262.7 2198.7C264.2 2199.9 265.7 2201.1 267.3 2202C268.9 2202.9 270.6 2203.6 272.4 2204.1C274.2 2204.6 276.2 2204.7 278 2205.2C279.9 2205.6 282.2 2206 283.8 2207C285.4 2208 286.5 2209.7 287.5 2211.2C288.6 2212.7 289.4 2214.4 290.1 2216.1C290.9 2217.8 291.3 2219.7 291.9 2221.6C292.6 2223.4 293 2225.3 293.8 2227C294.6 2228.7 295.4 2230.3 296.5 2231.8C297.6 2233.3 299 2234.7 300.3 2236C301.7 2237.3 303.3 2238.4 304.8 2239.7C306.2 2241 308 2241.9 308.9 2243.6C309.8 2245.3 310.2 2247.7 310.4 2249.6C310.6 2251.6 310.4 2253.4 310.3 2255.3C310.2 2257.2 309.9 2259.2 309.8 2261.1C309.8 2263 309.8 2265 309.9 2266.7C310.1 2268.4 310.6 2269.4 310.6 2271.1C310.5 2272.7 310 2274.8 309.8 2276.7C309.6 2278.6 309.5 2280.6 309.2 2282.5C308.8 2284.3 308.4 2286.2 307.7 2287.9C307.1 2289.6 306 2291.2 305.1 2292.8C304.2 2294.4 303 2295.8 302.4 2297.6C301.8 2299.3 301.7 2301.4 301.6 2303.2C301.5 2305.1 301.5 2307 301.8 2308.8C302.1 2310.6 302.7 2312.4 303.3 2314.2C303.9 2316 305.8 2318 305.5 2319.6C305.2 2321.2 303.1 2323 301.5 2323.9C300 2324.8 298 2324.9 296.1 2325.1C294.3 2325.3 292.3 2325.1 290.4 2325C288.5 2325 286.6 2324.5 284.7 2324.7C282.7 2324.8 280.5 2325.3 278.8 2326.1C277 2326.8 275.7 2328.1 274.3 2329.4C272.9 2330.6 271.7 2332.1 270.3 2333.5C269 2334.9 267.8 2336.5 266.5 2337.8C265.1 2339 263.6 2340.2 262.1 2341.2C260.5 2342.1 258.7 2342.8 256.9 2343.5C255.2 2344.1 253.1 2345.3 251.4 2345.1C249.7 2344.8 248.5 2342.9 246.9 2342C245.3 2341.2 243.6 2340.4 241.8 2339.9C240 2339.5 238.1 2339.2 236.2 2339.1C234.3 2338.9 232.3 2339.1 230.4 2339.1C228.5 2339 226.6 2339.1 224.8 2338.8C222.9 2338.5 221.2 2338 219.4 2337.3C217.7 2336.6 216 2335.6 214.4 2334.7C212.7 2333.8 211.1 2332.6 209.4 2331.8C207.7 2331 206 2330 204.2 2329.7C202.3 2329.4 200.1 2329.7 198.2 2330C196.2 2330.3 194.6 2331.3 192.6 2331.5C190.6 2331.6 187.5 2332 186.1 2331.1C184.8 2330.2 184.7 2327.6 184.3 2325.8C184 2324 183.9 2322.1 183.8 2320.2C183.8 2318.4 184.3 2316.4 184 2314.5C183.7 2312.5 183.1 2310 182 2308.6C180.8 2307.1 178.9 2306.4 177.3 2305.6C175.6 2304.8 173.2 2304.7 171.9 2303.7C170.6 2302.7 169.9 2301.3 169.4 2299.7C168.9 2298 168.8 2295.9 168.9 2294C168.9 2292.2 169.2 2290.3 169.6 2288.5C170.1 2286.7 170.8 2284.9 171.5 2283.1C172.1 2281.3 173.3 2279.7 173.6 2277.7C173.8 2275.8 173.6 2273.4 173.1 2271.6C172.5 2269.7 171.4 2268.3 170.4 2266.7C169.3 2265.1 168 2263.7 166.8 2262.2C165.7 2260.6 164.4 2259.2 163.4 2257.6C162.4 2256 161.5 2254.4 160.9 2252.6C160.3 2250.9 159.6 2249 159.6 2247.1C159.6 2245.3 160.4 2243.3 161 2241.5C161.6 2239.7 162.7 2238 163.3 2236.3C163.9 2234.7 164.1 2233.4 164.7 2231.7C165.2 2230.1 166 2228.2 166.6 2226.4C167.2 2224.5 167.5 2222.6 168.2 2220.8C168.8 2219 169.4 2217.2 170.3 2215.6C171.2 2214 172.2 2212.4 173.5 2211.1C174.8 2209.7 176.6 2208.6 178.2 2207.5C179.7 2206.3 181.4 2205.7 182.9 2204.1C184.3 2202.5 186.8 2199.6 186.9 2197.8C187 2196.1 184.7 2194.9 183.4 2193.5C182.1 2192.1 179.9 2191.3 179.1 2189.6C178.3 2188 178.3 2185.7 178.4 2183.8C178.4 2181.9 178.8 2180.2 179.5 2178.4C180.1 2176.5 181 2173.5 182.5 2172.6z" fill="#d3d2d2" stroke="#3c3c3c" stroke-width="3"/><circle cx="240" cy="2257.5" r="28" fill="#afadad" stroke="#000" stroke-width="2.6" stroke-dasharray="11 4.5"/><path d="M97.6 2010.4C98.8 2009.6 101.3 2010.4 103.1 2010C105 2009.7 106.7 2009.1 108.5 2008.4C110.2 2007.8 111.9 2006.8 113.6 2006C115.3 2005.1 116.9 2004.1 118.8 2003.5C120.7 2002.9 123.3 2002.1 125.1 2002.3C127 2002.5 128.5 2003.9 130.1 2004.8C131.7 2005.8 133.2 2007.1 134.8 2008.1C136.4 2009.2 138.1 2010.3 139.5 2011.3C141 2012.3 142 2013.2 143.4 2014.2C144.9 2015.1 146.6 2016.2 148.3 2017C149.9 2017.9 152.1 2018.6 153.5 2019.4C154.9 2020.1 155.2 2021.6 156.5 2021.5C157.8 2021.3 159.5 2019.3 161.1 2018.4C162.8 2017.6 164.6 2016.4 166.4 2016.4C168.2 2016.5 170.1 2017.9 171.9 2018.7C173.7 2019.5 175.4 2020.5 177 2021.1C178.6 2021.6 180 2021.4 181.6 2022C183.2 2022.6 184.9 2023.9 186.6 2024.8C188.3 2025.6 190.1 2026.3 191.8 2027.2C193.4 2028.1 195.1 2029 196.6 2030.1C198 2031.3 199.3 2032.6 200.5 2034C201.8 2035.4 202.6 2037 203.9 2038.4C205.1 2039.8 206.6 2041.1 208.1 2042.3C209.6 2043.5 211.1 2044.6 212.7 2045.5C214.3 2046.3 216.3 2046.7 217.9 2047.5C219.4 2048.3 220.7 2048.8 222 2050C223.2 2051.2 224.8 2052.7 225.5 2054.5C226.2 2056.3 226.4 2058.7 226.4 2060.6C226.4 2062.6 225.9 2064.3 225.4 2066.1C224.9 2067.9 224.1 2069.7 223.5 2071.5C222.9 2073.3 222.1 2075.1 221.7 2076.9C221.3 2078.7 220.9 2080.6 220.9 2082.4C220.8 2084.2 221.1 2086.1 221.3 2088C221.5 2089.8 222.1 2091.7 222.2 2093.6C222.4 2095.5 222.5 2097.4 222.4 2099.3C222.3 2101.2 222 2103 221.5 2104.8C221 2106.5 220.2 2108.3 219.4 2110C218.6 2111.7 217.5 2113.3 216.7 2115.1C215.9 2116.8 214.9 2118.4 214.4 2120.2C213.9 2122 213.7 2124 213.7 2125.9C213.7 2127.8 214.1 2129.7 214.4 2131.5C214.7 2133.4 215.2 2135.3 215.5 2137.2C215.8 2139 216.1 2140.9 216 2142.8C216 2144.6 215.9 2146.4 215.4 2148.3C214.9 2150.1 214.4 2152.5 213.1 2153.8C211.8 2155 209.4 2155.1 207.7 2155.8C206 2156.6 204.3 2157.6 202.8 2158.5C201.2 2159.3 199.9 2159.8 198.4 2160.8C196.9 2161.7 195.2 2162.9 193.7 2164C192.1 2165.1 190.6 2166.4 189 2167.4C187.4 2168.4 185.8 2169.2 184.1 2170C182.4 2170.7 180.8 2171.3 179.1 2171.8C177.3 2172.3 175.3 2172.5 173.5 2172.9C171.6 2173.3 169.7 2173.6 167.9 2174.1C166.1 2174.6 164.2 2175.4 162.7 2176.1C161.2 2176.8 160.6 2178 159 2178.2C157.4 2178.5 155.2 2178 153.3 2177.8C151.4 2177.7 149.5 2177.6 147.6 2177.2C145.8 2176.9 144 2176.2 142.3 2175.7C140.6 2175.1 139.1 2174.6 137.4 2173.9C135.7 2173.3 133.9 2172.4 132.1 2171.7C130.3 2171 128.7 2170.2 126.8 2169.8C124.9 2169.4 122.4 2168.9 120.6 2169.2C118.7 2169.5 117.2 2170.8 115.6 2171.8C113.9 2172.7 112.3 2173.9 110.7 2174.8C109 2175.8 107.3 2177.7 105.7 2177.4C104 2177.1 101.5 2174.6 100.5 2172.9C99.5 2171.3 99.9 2169.2 99.6 2167.3C99.4 2165.5 99.3 2163.5 99 2161.6C98.7 2159.8 98.4 2157.9 97.8 2156.1C97.3 2154.4 96.6 2152.7 95.5 2151.1C94.5 2149.5 92.9 2148.1 91.5 2146.8C90.1 2145.4 88.5 2144.3 87.2 2143C85.9 2141.6 84.6 2140.3 83.6 2138.7C82.5 2137.2 81.3 2135.7 81 2133.8C80.7 2132 81.4 2129.5 81.7 2127.6C82 2125.6 82.6 2123.8 82.9 2122C83.2 2120.1 83.3 2118.2 83.2 2116.4C83.1 2114.6 82.9 2112.7 82.3 2110.9C81.7 2109.1 80.9 2107.3 79.8 2105.7C78.8 2104.1 77.2 2102.9 76.1 2101.4C75 2099.9 74 2098.3 73.3 2096.6C72.5 2095 71.8 2093.2 71.5 2091.3C71.3 2089.4 71.7 2087.3 71.9 2085.4C72.1 2083.5 72.7 2081.7 72.8 2079.8C72.9 2077.9 72.3 2075.9 72.5 2074.3C72.7 2072.6 73.5 2071.7 74 2070.1C74.4 2068.4 74.8 2066.3 75.3 2064.5C75.8 2062.6 76.4 2060.7 77 2059.1C77.7 2057.4 78.5 2056.1 79.4 2054.5C80.3 2052.9 81.2 2051.2 82.2 2049.6C83.3 2048 84.5 2046.5 85.5 2044.9C86.5 2043.3 87.5 2041.7 88.2 2040C88.9 2038.3 89 2036 89.8 2034.7C90.6 2033.3 91.6 2032.9 92.9 2031.8C94.1 2030.7 96.6 2029.2 97.3 2028.2C98 2027.1 97.3 2027 97.1 2025.7C96.8 2024.4 96 2022.2 95.8 2020.3C95.7 2018.4 95.7 2016.1 96 2014.5C96.3 2012.8 96.4 2011.1 97.6 2010.4z" fill="#d3d2d2" stroke="#3c3c3c" stroke-width="3"/><circle cx="152.1" cy="2093.2" r="28" fill="#afadad" stroke="#000" stroke-width="2.6" stroke-dasharray="11 4.5"/><path d="M239 2080.5C240.2 2079.7 242.7 2080.4 244.5 2080.1C246.4 2079.7 248.1 2079.1 249.9 2078.4C251.6 2077.8 253.3 2076.8 255 2075.9C256.7 2075.1 258.2 2074 260.1 2073.4C262 2072.9 264.4 2072.4 266.3 2072.5C268.2 2072.7 269.8 2073.7 271.5 2074.5C273.2 2075.3 274.8 2076.4 276.5 2077.3C278.1 2078.2 280 2079.1 281.5 2080C282.9 2080.9 283.8 2081.5 285.1 2082.5C286.5 2083.5 288 2084.8 289.6 2085.8C291.2 2086.8 292.9 2087.7 294.6 2088.6C296.2 2089.6 298.3 2091.2 299.4 2091.6C300.5 2092 300.1 2091.5 301.3 2091C302.4 2090.5 304.6 2089 306.2 2088.4C307.9 2087.9 309.6 2087.4 311.2 2087.9C312.8 2088.4 314.2 2090.3 315.8 2091.2C317.4 2092.1 319.1 2092.9 320.8 2093.5C322.6 2094.1 324.6 2094.1 326.3 2094.7C328.1 2095.3 329.7 2096 331.4 2096.9C333 2097.8 334.6 2098.8 336.1 2100C337.5 2101.2 338.8 2102.5 340 2103.9C341.1 2105.4 342 2107 343.1 2108.6C344.1 2110.2 345 2112.2 346.3 2113.5C347.7 2114.9 349.4 2115.8 351 2116.6C352.6 2117.5 354.4 2118.1 356.1 2118.7C357.9 2119.2 360.2 2118.9 361.7 2119.7C363.2 2120.5 364.4 2121.9 365.4 2123.4C366.3 2124.8 367 2126.7 367.3 2128.6C367.7 2130.5 367.8 2132.8 367.4 2134.7C367.1 2136.6 365.9 2138.2 365.1 2139.9C364.3 2141.6 363.3 2143.3 362.6 2145C361.9 2146.8 361 2148.4 360.8 2150.3C360.6 2152.2 360.8 2154.5 361.2 2156.3C361.6 2158.2 362.6 2159.9 363.4 2161.6C364.1 2163.4 365 2165.1 365.6 2166.9C366.2 2168.7 366.7 2170.5 367 2172.3C367.2 2174.1 367.4 2176 367.1 2177.8C366.8 2179.7 366 2181.6 365 2183.2C364 2184.8 362.4 2186 361.3 2187.5C360.2 2189 359.1 2190.6 358.3 2192.2C357.6 2193.9 356.7 2195.6 356.5 2197.5C356.4 2199.4 357.1 2201.6 357.5 2203.5C357.8 2205.4 358.5 2207.2 358.8 2209C359.1 2210.9 359.3 2212.7 359.2 2214.5C359.1 2216.4 358.9 2218.4 358.4 2220.1C357.8 2221.7 357.3 2223.6 356 2224.6C354.7 2225.6 352.3 2225.5 350.6 2226.2C348.8 2226.8 347.2 2227.9 345.6 2228.7C344 2229.5 342.6 2230.1 341.1 2231C339.5 2231.8 337.8 2232.9 336.1 2233.8C334.4 2234.7 332.7 2235.7 331 2236.3C329.3 2237 327.4 2237.5 325.7 2237.7C323.9 2238 322.2 2237.7 320.4 2238.1C318.6 2238.4 316.7 2239.3 315 2240C313.2 2240.7 311.5 2241.4 309.9 2242.3C308.3 2243.2 306.7 2244.4 305.4 2245.6C304.1 2246.7 303.6 2248.6 302.1 2249.1C300.6 2249.6 298.3 2248.9 296.4 2248.6C294.5 2248.4 292.6 2248.1 290.9 2247.6C289.1 2247.1 287.4 2246.3 285.8 2245.5C284.1 2244.6 282.8 2243.4 281.1 2242.6C279.4 2241.8 277.5 2241.2 275.7 2240.7C273.9 2240.2 272.1 2239.7 270.3 2239.4C268.4 2239.2 266.6 2239 264.7 2239.4C262.9 2239.8 260.9 2240.9 259.1 2241.7C257.4 2242.5 255.7 2243.5 254 2244.2C252.3 2244.9 250.7 2245.8 248.7 2245.9C246.7 2246 243.5 2246 242.1 2244.9C240.6 2243.9 240.6 2241.4 239.9 2239.7C239.2 2237.9 238.5 2236.1 237.8 2234.4C237.1 2232.7 236.5 2231 235.6 2229.5C234.7 2227.9 233.6 2226.4 232.4 2225C231.2 2223.5 229.7 2222.2 228.4 2220.8C227.1 2219.5 225.7 2218.3 224.5 2216.7C223.3 2215.1 221.9 2213.1 221.4 2211.3C220.9 2209.4 221.4 2207.6 221.6 2205.7C221.7 2203.8 222.2 2201.9 222.5 2200.1C222.7 2198.2 223.1 2196.3 223.2 2194.4C223.3 2192.6 223.2 2190.7 222.9 2188.9C222.6 2187.1 221.9 2185.3 221.2 2183.5C220.6 2181.7 219.6 2180 218.9 2178.2C218.2 2176.5 217.4 2174.7 216.9 2173C216.4 2171.2 216.1 2169.4 215.9 2167.5C215.8 2165.7 216 2163.8 216.2 2161.9C216.3 2160 216.7 2158.1 216.9 2156.2C217.2 2154.4 217.5 2152.6 217.6 2150.8C217.8 2149 217.8 2147.1 217.7 2145.3C217.5 2143.5 217 2141.6 216.6 2139.8C216.1 2137.9 215.1 2136.2 215 2134.3C214.8 2132.3 215.2 2130.1 215.7 2128.3C216.2 2126.5 217.2 2124.9 218.1 2123.3C219.1 2121.7 220.3 2120.3 221.5 2118.8C222.7 2117.3 224.1 2115.9 225.2 2114.4C226.4 2112.9 227.6 2111.2 228.4 2109.8C229.1 2108.4 228.8 2107.1 229.8 2106C230.9 2104.9 233.3 2104.3 234.6 2103C236 2101.8 237.4 2099.8 238 2098.6C238.7 2097.4 238.9 2097.1 238.7 2095.8C238.6 2094.4 237.3 2092.3 237.2 2090.5C237 2088.6 237.3 2086.3 237.6 2084.6C237.9 2082.9 237.8 2081.2 239 2080.5z" fill="#d3d2d2" stroke="#3c3c3c" stroke-width="3"/><circle cx="293.5" cy="2163.3" r="28" fill="#afadad" stroke="#000" stroke-width="2.6" stroke-dasharray="11 4.5"/><circle cx="599.3" cy="2176.7" r="148.5" fill="url(#gneg)" stroke="#000" stroke-width="3"/><circle cx="608" cy="2241.3" r="60" fill="#c4705c" stroke="#000" stroke-width="2.6" stroke-dasharray="12 5"/><path d="M848.3 2002.8C849.8 1998 854.4 1991.8 859 1989C863.6 1986.2 872.2 1984.2 875.8 1986C879.4 1987.8 880.1 1993.9 880.4 1999.7C880.6 2005.6 877.3 2014.5 877.3 2021.1C877.3 2027.8 878.3 2032.9 880.4 2039.5C882.4 2046.1 885 2056.3 889.6 2060.9C894.1 2065.5 903.8 2068.5 907.9 2067C912 2065.5 913.5 2059.4 914 2051.7C914.5 2044.1 911.2 2031.8 911 2021.1C910.7 2010.4 911 1994.1 912.5 1987.5C914 1980.9 917.8 1980.9 920.1 1981.4C922.4 1981.9 925 1983.9 926.2 1990.6C927.5 1997.2 926.7 2012 927.8 2021.1C928.8 2030.3 929.6 2040.5 932.4 2045.6C935.2 2050.7 942 2053.8 944.6 2051.7C947.1 2049.7 946.1 2039.5 947.6 2033.4C949.2 2027.3 951.2 2017.3 953.8 2015C956.3 2012.7 961.4 2015.5 962.9 2019.6C964.5 2023.7 961.9 2034.1 962.9 2039.5C963.9 2044.8 965 2048.2 969 2051.7C973.1 2055.3 981.3 2059.9 987.4 2060.9C993.5 2061.9 1000.6 2059.9 1005.7 2057.8C1010.8 2055.8 1014.9 2054.8 1018 2048.7C1021 2042.5 1023.6 2030.8 1024.1 2021.1C1024.6 2011.5 1020 1996.4 1021 1990.6C1022 1984.7 1027.4 1985.5 1030.2 1986C1033 1986.5 1036.6 1987.8 1037.8 1993.6C1039.1 1999.5 1038.3 2012 1037.8 2021.1C1037.3 2030.3 1035 2041.5 1034.8 2048.7C1034.5 2055.8 1033.8 2060.9 1036.3 2063.9C1038.9 2067 1046.7 2065 1050.1 2067C1053.4 2069 1057.2 2072.6 1056.2 2076.2C1055.2 2079.7 1046 2084.3 1043.9 2088.4C1041.9 2092.5 1042.7 2097.6 1043.9 2100.6C1045.2 2103.7 1045.2 2105.5 1051.6 2106.8C1058 2108 1072 2108.3 1082.2 2108.3C1092.4 2108.3 1102.5 2107 1112.7 2106.8C1122.9 2106.5 1135.9 2106 1143.3 2106.8C1150.7 2107.5 1155.5 2109.3 1157.1 2111.3C1158.6 2113.4 1156.3 2117.5 1152.5 2119C1148.7 2120.5 1143.3 2119.7 1134.1 2120.5C1125 2121.3 1106.6 2121.8 1097.4 2123.6C1088.3 2125.3 1082.7 2127.9 1079.1 2131.2C1075.5 2134.5 1074.5 2140.4 1076 2143.4C1077.6 2146.5 1082.7 2148.3 1088.3 2149.6C1093.9 2150.8 1105.3 2149.6 1109.7 2151.1C1114 2152.6 1114.3 2156.4 1114.3 2158.7C1114.3 2161 1113.5 2163.3 1109.7 2164.8C1105.9 2166.4 1096.4 2165.3 1091.3 2167.9C1086.2 2170.4 1081.7 2174 1079.1 2180.1C1076.6 2186.2 1075 2197.5 1076 2204.6C1077.1 2211.7 1081.1 2218.3 1085.2 2222.9C1089.3 2227.5 1094.9 2229 1100.5 2232.1C1106.1 2235.2 1112.7 2237.7 1118.9 2241.3C1125 2244.8 1131.8 2249.4 1137.2 2253.5C1142.5 2257.6 1148.9 2262.2 1151 2265.7C1153 2269.3 1152.2 2273.1 1149.4 2274.9C1146.6 2276.7 1141.8 2278.5 1134.1 2276.4C1126.5 2274.4 1112.7 2267 1103.6 2262.7C1094.4 2258.3 1086.7 2254 1079.1 2250.4C1071.5 2246.9 1062.5 2241.8 1057.7 2241.3C1052.9 2240.8 1050.1 2242.8 1050.1 2247.4C1050.1 2252 1052.4 2260.1 1057.7 2268.8C1063.1 2277.4 1075.5 2289.2 1082.2 2299.4C1088.8 2309.6 1095.2 2322.8 1097.4 2329.9C1099.7 2337.1 1098 2340.1 1095.9 2342.2C1093.9 2344.2 1090.1 2344.7 1085.2 2342.2C1080.4 2339.6 1074 2334 1066.9 2326.9C1059.7 2319.7 1048.5 2307 1042.4 2299.4C1036.3 2291.7 1033.2 2283.6 1030.2 2281C1027.1 2278.5 1025.1 2280.5 1024.1 2284.1C1023.1 2287.6 1023.6 2295.3 1024.1 2302.4C1024.6 2309.6 1027.1 2321.8 1027.1 2326.9C1027.1 2332 1026.1 2332.5 1024.1 2333C1022 2333.5 1017.4 2334 1014.9 2329.9C1012.4 2325.9 1011.1 2317.2 1008.8 2308.5C1006.5 2299.9 1002.9 2282.5 1001.1 2278C999.4 2273.4 998.9 2275.4 998.1 2281C997.3 2286.6 997.3 2298.9 996.6 2311.6C995.8 2324.3 995.5 2343.7 993.5 2357.4C991.5 2371.2 986.6 2388.5 984.3 2394.1C982 2399.7 980.3 2397.2 979.7 2391.1C979.2 2385 980.5 2369.2 981.3 2357.4C982 2345.7 984.3 2332 984.3 2320.8C984.3 2309.6 983.8 2295.8 981.3 2290.2C978.7 2284.6 974.1 2286.1 969 2287.1C963.9 2288.2 956.8 2292.2 950.7 2296.3C944.6 2300.4 938.5 2305.5 932.4 2311.6C926.2 2317.7 919.6 2327.6 914 2333C908.4 2338.3 902.3 2342.7 898.7 2343.7C895.2 2344.7 892.1 2342.9 892.6 2339.1C893.1 2335.3 896.2 2327.9 901.8 2320.8C907.4 2313.6 919.1 2303.4 926.2 2296.3C933.4 2289.2 942 2282.5 944.6 2278C947.1 2273.4 946.6 2270.3 941.5 2268.8C936.4 2267.3 923.7 2269.3 914 2268.8C904.3 2268.3 894.6 2266.5 883.4 2265.7C872.2 2265 856.9 2263.7 846.8 2264.2C836.6 2264.7 828.2 2268.8 822.3 2268.8C816.4 2268.8 812.1 2266 811.6 2264.2C811.1 2262.4 813.4 2260.4 819.2 2258.1C825.1 2255.8 838.1 2253.8 846.8 2250.4C855.4 2247.1 867.6 2242.3 871.2 2238.2C874.8 2234.1 870.2 2230.6 868.2 2226C866.1 2221.4 861 2218.3 859 2210.7C856.9 2203.1 856.9 2188.8 855.9 2180.1C854.9 2171.5 852.9 2165.9 852.9 2158.7C852.9 2151.6 853.9 2143.9 855.9 2137.3C858 2130.7 862.5 2124.1 865.1 2119C867.6 2113.9 869.7 2112.9 871.2 2106.8C872.7 2100.6 874.3 2091.5 874.3 2082.3C874.3 2073.1 873.2 2059.9 871.2 2051.7C869.2 2043.6 865.6 2039 862 2033.4C858.5 2027.8 852.1 2023.2 849.8 2018.1C847.5 2013 846.8 2007.6 848.3 2002.8z" fill="url(#gapc)" stroke="#000" stroke-width="2.8"/><path d="M914 2106.8C915.5 2103.2 918.1 2095.3 923.2 2091.5C928.3 2087.6 935.9 2084.8 944.6 2083.8C953.2 2082.8 966 2083.1 975.2 2085.3C984.3 2087.6 993.8 2092 999.6 2097.6C1005.5 2103.2 1009.3 2112.4 1010.3 2119C1011.3 2125.6 1009 2132.7 1005.7 2137.3C1002.4 2141.9 995.5 2146 990.4 2146.5C985.3 2147 979.2 2143.2 975.2 2140.4C971.1 2137.6 970.1 2132 966 2129.7C961.9 2127.4 956.3 2126.6 950.7 2126.6C945.1 2126.6 937.5 2129.9 932.4 2129.7C927.3 2129.4 923.2 2127.9 920.1 2125.1C917.1 2122.3 915 2115.9 914 2112.9C913 2109.8 912.5 2110.3 914 2106.8z" fill="url(#gnuc)" stroke="#000" stroke-width="2.3" stroke-dasharray="7 4"/><circle cx="1302.4" cy="2176.4" r="149.3" fill="url(#gpos)" stroke="#000" stroke-width="3"/><circle cx="1305.8" cy="2246.7" r="60" fill="#8faadc" stroke="#000" stroke-width="2.6" stroke-dasharray="12 5"/><path d="M353.9 2153.1H371.2M357.2 2198.9H373.8M416 2165.7H462M416 2182H462" stroke="#000" stroke-width="2.6"/><circle cx="378.4" cy="2153.1" r="6.8" fill="#f5b98c" stroke="#000" stroke-width="2"/><circle cx="392.4" cy="2152.3" r="6.8" fill="#f5b98c" stroke="#000" stroke-width="2"/><circle cx="408.2" cy="2153.1" r="6.8" fill="#f5b98c" stroke="#000" stroke-width="2"/><circle cx="381.4" cy="2198.9" r="6.8" fill="#f5b98c" stroke="#000" stroke-width="2"/><circle cx="396.7" cy="2198.9" r="6.8" fill="#f5b98c" stroke="#000" stroke-width="2"/><circle cx="412" cy="2198.9" r="6.8" fill="#f5b98c" stroke="#000" stroke-width="2"/><circle cx="416.6" cy="2165.8" r="7.4" fill="#c42a18" stroke="#000" stroke-width="2"/><circle cx="416.6" cy="2182.9" r="7.4" fill="#c42a18" stroke="#000" stroke-width="2"/><rect x="342" y="2141.6" width="12" height="24.2" rx="1.5" fill="#f5b98c" stroke="#000" stroke-width="2"/><rect x="345.2" y="2187.5" width="12" height="22.1" rx="1.5" fill="#f5b98c" stroke="#000" stroke-width="2"/><rect x="460" y="2158.5" width="14" height="14.5" rx="1.5" fill="#c42a18" stroke="#000" stroke-width="2"/><rect x="460" y="2175.5" width="14" height="14.5" rx="1.5" fill="#c42a18" stroke="#000" stroke-width="2"/><path d="M745.9 2161.8H822.3" stroke="#000" stroke-width="2.4"/><rect x="828.4" y="2148" width="50.4" height="22.9" rx="3" fill="#b8cdea" stroke="#000" stroke-width="2.2"/><path d="M832.4 2159.5H878.9" stroke="#000" stroke-width="2.4"/><ellipse cx="825.3" cy="2160.3" rx="10.5" ry="7.5" fill="#e6f2de" stroke="#000" stroke-width="2"/><circle cx="771.8" cy="2161.8" r="5" fill="#c5e3b9" stroke="#000" stroke-width="1.8"/><circle cx="784.1" cy="2161.8" r="5" fill="#c5e3b9" stroke="#000" stroke-width="1.8"/><circle cx="794.8" cy="2161.8" r="5" fill="#c5e3b9" stroke="#000" stroke-width="1.8"/><circle cx="807" cy="2161.8" r="5" fill="#c5e3b9" stroke="#000" stroke-width="1.8"/><rect x="730.6" y="2152.6" width="15.3" height="18.3" rx="2" fill="#c5e3b9" stroke="#000" stroke-width="2"/><rect x="753.5" y="2152.6" width="6.1" height="18.3" rx="1.5" fill="#c5e3b9" stroke="#000" stroke-width="1.8"/><rect x="748.5" y="2070.2" width="7" height="18" rx="1.5" fill="#c5e3b9" stroke="#000" stroke-width="1.8"/><path d="M755.5 2079.2H802.4" stroke="#000" stroke-width="2"/><circle cx="768.8" cy="2079.2" r="5" fill="#c5e3b9" stroke="#000" stroke-width="1.8"/><circle cx="779.5" cy="2079.2" r="5" fill="#c5e3b9" stroke="#000" stroke-width="1.8"/><circle cx="790.2" cy="2079.2" r="5" fill="#c5e3b9" stroke="#000" stroke-width="1.8"/><circle cx="802.4" cy="2079.2" r="5" fill="#c5e3b9" stroke="#000" stroke-width="1.8"/><rect x="765.3" y="2038.1" width="7" height="18" rx="1.5" fill="#c5e3b9" stroke="#000" stroke-width="1.8" transform="rotate(21.8 768.8 2047.1)"/><path d="M772.3 2047.1L814.6 2065.5" stroke="#000" stroke-width="2"/><circle cx="782.5" cy="2051.7" r="5" fill="#c5e3b9" stroke="#000" stroke-width="1.8"/><circle cx="793.2" cy="2056.3" r="5" fill="#c5e3b9" stroke="#000" stroke-width="1.8"/><circle cx="803.9" cy="2060.9" r="5" fill="#c5e3b9" stroke="#000" stroke-width="1.8"/><circle cx="814.6" cy="2065.5" r="5" fill="#c5e3b9" stroke="#000" stroke-width="1.8"/><path d="M738.2 2199.1H846.8" stroke="#000" stroke-width="2.6"/><ellipse cx="782.5" cy="2198.5" rx="7.3" ry="8" fill="#ee8436" stroke="#000" stroke-width="2"/><ellipse cx="800.9" cy="2198.5" rx="7.3" ry="8" fill="#c26a58" stroke="#000" stroke-width="2"/><rect x="726" y="2190.8" width="12.2" height="16.8" rx="1.5" fill="#ee8436" stroke="#000" stroke-width="2"/><rect x="846.1" y="2190.8" width="12.8" height="16.8" rx="1.5" fill="#c26a58" stroke="#000" stroke-width="2"/><path d="M1060.1 2204.6H1170.8" stroke="#000" stroke-width="2.6"/><ellipse cx="1105.1" cy="2204.6" rx="7.3" ry="8" fill="#c26a58" stroke="#000" stroke-width="2"/><ellipse cx="1123.4" cy="2204.6" rx="7.3" ry="8" fill="#ee8436" stroke="#000" stroke-width="2"/><rect x="1047" y="2196.9" width="13.1" height="16.8" rx="1.5" fill="#c26a58" stroke="#000" stroke-width="2"/><rect x="1169.2" y="2196.9" width="13.7" height="17.1" rx="1.5" fill="#ee8436" stroke="#000" stroke-width="2"/><path d="M1392.4 2099.4C1393 2098.3 1399.6 2092.6 1401.5 2091C1403.5 2089.3 1409.9 2084.3 1412 2082.9C1414.1 2081.5 1420.8 2077.9 1422.5 2076.9C1424.3 2076 1428.7 2074.2 1429.6 2073.4C1430.4 2072.7 1430.7 2070.1 1431 2069.2C1431.2 2068.3 1431.1 2065.3 1431.7 2064.3C1432.2 2063.3 1435.4 2059.8 1436.6 2059.1C1437.7 2058.4 1441.9 2057.1 1443.6 2057.3C1445.2 2057.5 1453.3 2060.3 1453.4 2060.8C1453.4 2061.4 1445.7 2062.3 1444.3 2062.9C1442.8 2063.6 1439.8 2066.2 1439 2067.1C1438.2 2068 1436.9 2070.9 1436.6 2072C1436.2 2073.2 1436.2 2077.3 1435.9 2078.3C1435.5 2079.4 1434.4 2081.6 1433.4 2082.5C1432.4 2083.5 1427.8 2086.4 1426 2087.4C1424.3 2088.5 1417.6 2092.3 1415.5 2093.4C1413.4 2094.5 1407 2097.5 1405 2098.3C1403.1 2099.1 1397.2 2101 1395.9 2101.1C1394.7 2101.2 1391.9 2100.4 1392.4 2099.4z" fill="#f4d2a6" stroke="#000" stroke-width="2.6" stroke-linejoin="round"/><path d="M1400.1 2112.3C1400.8 2111.5 1407.3 2107 1409.2 2105.7C1411.1 2104.3 1417 2100.4 1419 2099C1421.1 2097.6 1427.8 2093.1 1429.6 2091.7C1431.3 2090.2 1435.2 2085.4 1436.6 2084.6C1438 2083.9 1441.8 2084.5 1443.6 2084.3C1445.3 2084.1 1452.2 2083.1 1454.1 2082.2C1456 2081.3 1461.5 2075.1 1462.5 2075.2C1463.4 2075.3 1464 2081.6 1463.5 2083.2C1463.1 2084.9 1459.9 2090.6 1458.3 2091.7C1456.6 2092.7 1448.7 2093.3 1447.1 2093.4C1445.5 2093.5 1443 2092 1442.2 2092.4C1441.3 2092.7 1439.5 2096.2 1438.3 2097.3C1437.1 2098.3 1432.2 2101.7 1430.3 2102.9C1428.3 2104.1 1421.3 2108.1 1419 2109.2C1416.8 2110.2 1409.5 2112.9 1407.8 2113.4C1406.2 2113.9 1403 2114.2 1402.2 2114.1C1401.5 2114 1399.4 2113.2 1400.1 2112.3z" fill="#b5b2b2" stroke="#000" stroke-width="2.6" stroke-linejoin="round"/><circle cx="528.6" cy="2350.9" r="7.6" fill="#f08a38" stroke="#000" stroke-width="2.2"/><circle cx="551.6" cy="2349.9" r="7.6" fill="#f08a38" stroke="#000" stroke-width="2.2"/><circle cx="576" cy="2365.3" r="7.6" fill="#f08a38" stroke="#000" stroke-width="2.2"/><circle cx="550.9" cy="2373.9" r="7.6" fill="#f08a38" stroke="#000" stroke-width="2.2"/><circle cx="527.6" cy="2383.5" r="7.6" fill="#f08a38" stroke="#000" stroke-width="2.2"/><circle cx="567.4" cy="2395.2" r="7.6" fill="#f08a38" stroke="#000" stroke-width="2.2"/><circle cx="1045.4" cy="2380.3" r="7.9" fill="#f7868a" stroke="#000" stroke-width="2.2"/><circle cx="1068.4" cy="2379.3" r="7.9" fill="#f7868a" stroke="#000" stroke-width="2.2"/><circle cx="1092.8" cy="2394.7" r="7.9" fill="#f7868a" stroke="#000" stroke-width="2.2"/><circle cx="1067.7" cy="2403.3" r="7.9" fill="#f7868a" stroke="#000" stroke-width="2.2"/><circle cx="1044.4" cy="2412.9" r="7.9" fill="#f7868a" stroke="#000" stroke-width="2.2"/><circle cx="1084.2" cy="2424.6" r="7.9" fill="#f7868a" stroke="#000" stroke-width="2.2"/><circle cx="1480" cy="1999.8" r="7.9" fill="#cbe6c3" stroke="#000" stroke-width="2.2"/><circle cx="1503" cy="1998.8" r="7.9" fill="#cbe6c3" stroke="#000" stroke-width="2.2"/><circle cx="1527.4" cy="2014.2" r="7.9" fill="#cbe6c3" stroke="#000" stroke-width="2.2"/><circle cx="1502.3" cy="2022.8" r="7.9" fill="#cbe6c3" stroke="#000" stroke-width="2.2"/><circle cx="1479" cy="2032.4" r="7.9" fill="#cbe6c3" stroke="#000" stroke-width="2.2"/><circle cx="1518.8" cy="2044.1" r="7.9" fill="#cbe6c3" stroke="#000" stroke-width="2.2"/><circle cx="1480" cy="2233" r="7.9" fill="#c21c1c" stroke="#000" stroke-width="2.2"/><circle cx="1503" cy="2232" r="7.9" fill="#c21c1c" stroke="#000" stroke-width="2.2"/><circle cx="1527.4" cy="2247.4" r="7.9" fill="#c21c1c" stroke="#000" stroke-width="2.2"/><circle cx="1502.3" cy="2256" r="7.9" fill="#c21c1c" stroke="#000" stroke-width="2.2"/><circle cx="1479" cy="2265.6" r="7.9" fill="#c21c1c" stroke="#000" stroke-width="2.2"/><circle cx="1518.8" cy="2277.3" r="7.9" fill="#c21c1c" stroke="#000" stroke-width="2.2"/><circle cx="1389.6" cy="2337.6" r="7.9" fill="#32b332" stroke="#000" stroke-width="2.2"/><circle cx="1412.6" cy="2336.6" r="7.9" fill="#32b332" stroke="#000" stroke-width="2.2"/><circle cx="1437" cy="2352" r="7.9" fill="#32b332" stroke="#000" stroke-width="2.2"/><circle cx="1411.9" cy="2360.6" r="7.9" fill="#32b332" stroke="#000" stroke-width="2.2"/><circle cx="1388.6" cy="2370.2" r="7.9" fill="#32b332" stroke="#000" stroke-width="2.2"/><circle cx="1428.4" cy="2381.9" r="7.9" fill="#32b332" stroke="#000" stroke-width="2.2"/><circle cx="1258.4" cy="2373.7" r="7.9" fill="#f8c21a" stroke="#000" stroke-width="2.2"/><circle cx="1281.4" cy="2372.7" r="7.9" fill="#f8c21a" stroke="#000" stroke-width="2.2"/><circle cx="1305.8" cy="2388.1" r="7.9" fill="#f8c21a" stroke="#000" stroke-width="2.2"/><circle cx="1280.7" cy="2396.7" r="7.9" fill="#f8c21a" stroke="#000" stroke-width="2.2"/><circle cx="1257.4" cy="2406.3" r="7.9" fill="#f8c21a" stroke="#000" stroke-width="2.2"/><circle cx="1297.2" cy="2418" r="7.9" fill="#f8c21a" stroke="#000" stroke-width="2.2"/><text x="597" y="1998.6" font-size="25.5" text-anchor="middle">CD161-</text><text x="771" y="1997.5" font-size="25" text-anchor="middle">Soluble</text><text x="771" y="2026" font-size="25" text-anchor="middle">LAG-3</text><text x="646" y="2129" font-size="25" text-anchor="middle">Membrane-</text><text x="646" y="2158" font-size="25" text-anchor="middle">bound LAG-3</text><text x="484.8" y="2183.8" font-size="25">TIGIT</text><text x="291.7" y="2227" font-size="25">PVR</text><text x="239" y="2397.4" font-size="25" text-anchor="middle">Tumor</text><text x="662.8" y="2208.4" font-size="25">PD-1</text><text x="551.8" y="2439.6" font-size="25" text-anchor="middle">GZM</text><text x="883.4" y="2171" font-size="25">MHC II</text><text x="871" y="2209" font-size="25">PD-L1</text><text x="969" y="2215" font-size="25">PD-L1</text><text x="979" y="2426" font-size="25" text-anchor="middle">APC</text><text x="1072" y="2478.9" font-size="25" text-anchor="middle">IFN-β</text><text x="1313" y="1997.8" font-size="25.5" text-anchor="middle">CD161+</text><text x="1321.6" y="2085.3" font-size="25.5" text-anchor="middle">Proliferation</text><text x="1321.3" y="2114.5" font-size="25.5" text-anchor="middle">&amp;</text><text x="1321.3" y="2147.1" font-size="25.5" text-anchor="middle">Survival</text><text x="1387" y="2056.1" font-size="25">IL-7R</text><text x="1444.8" y="2133.4" font-size="25">CD132</text><text x="1538.2" y="2057.8" font-size="25">IL-7</text><text x="1534.8" y="2291.3" font-size="25">PRF</text><text x="1447.3" y="2396" font-size="25">IL-2</text><text x="1311.7" y="2433" font-size="25">TNFα</text><text x="1192.2" y="2215.8" font-size="25">PD-1</text>
<text x="0" y="29" font-size="38" font-weight="bold">a</text><text x="0" y="513" font-size="38" font-weight="bold">c</text><text x="728" y="513" font-size="38" font-weight="bold">d</text><text x="0" y="1395.5" font-size="38" font-weight="bold">e</text><text x="4" y="1986.5" font-size="38" font-weight="bold">f</text>
</svg>
</body></html>
